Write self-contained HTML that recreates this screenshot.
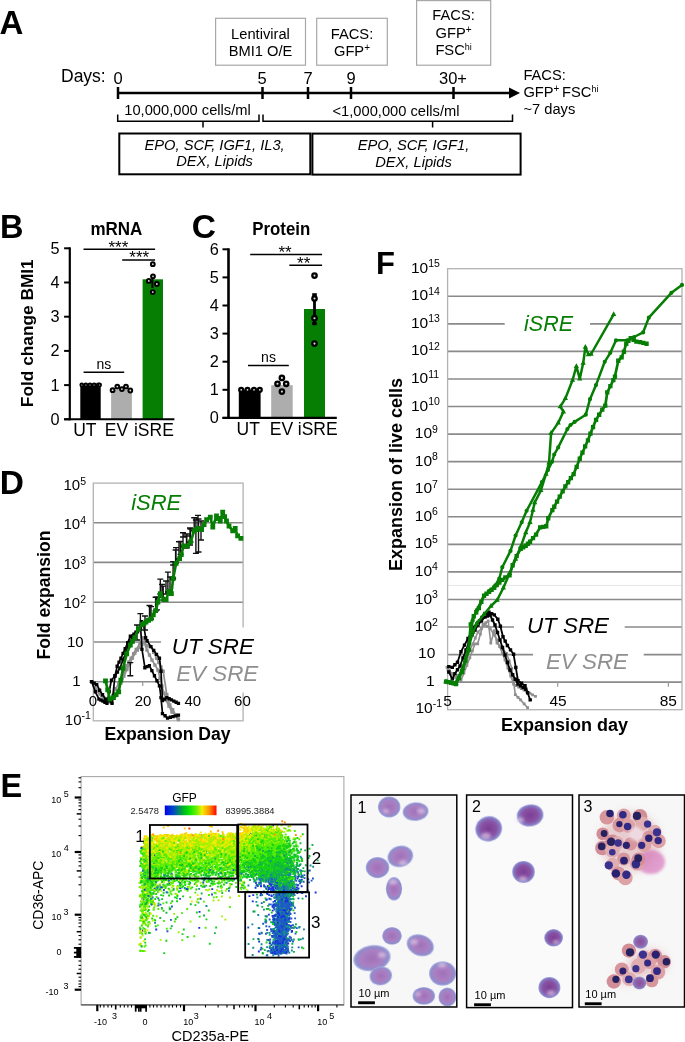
<!DOCTYPE html>
<html><head><meta charset="utf-8"><style>
html,body{margin:0;padding:0;background:#fff;}
svg{display:block;font-family:"Liberation Sans", sans-serif;will-change:transform;}
</style></head><body>
<svg width="685" height="1042" viewBox="0 0 685 1042" font-family='"Liberation Sans", sans-serif'>
<text x="-0.5" y="34.2" font-size="33" font-weight="bold">A</text>
<text x="61" y="82.4" font-size="17.5">Days:</text>
<text x="118" y="83.7" font-size="16.5" text-anchor="middle">0</text>
<text x="262" y="83.7" font-size="16.5" text-anchor="middle">5</text>
<text x="308" y="83.7" font-size="16.5" text-anchor="middle">7</text>
<text x="351" y="83.7" font-size="16.5" text-anchor="middle">9</text>
<text x="453" y="83.7" font-size="16.5" text-anchor="middle">30+</text>
<line x1="118" y1="93" x2="512" y2="93" stroke="#000" stroke-width="2.5"/>
<polygon points="509,87.5 520,93 509,98.5" fill="#000"/>
<line x1="118" y1="87" x2="118" y2="99" stroke="#000" stroke-width="2.5"/>
<line x1="262.5" y1="87" x2="262.5" y2="99" stroke="#000" stroke-width="2.5"/>
<line x1="308" y1="87" x2="308" y2="99" stroke="#000" stroke-width="2.5"/>
<line x1="351" y1="87" x2="351" y2="99" stroke="#000" stroke-width="2.5"/>
<line x1="453.5" y1="87" x2="453.5" y2="99" stroke="#000" stroke-width="2.5"/>
<rect x="215.6" y="18.3" width="89.9" height="46.9" fill="none" stroke="#a8a8a8" stroke-width="1.2"/>
<rect x="316.7" y="18.3" width="70.6" height="46.9" fill="none" stroke="#a8a8a8" stroke-width="1.2"/>
<rect x="416.6" y="0.6" width="74.1" height="64.6" fill="none" stroke="#a8a8a8" stroke-width="1.2"/>
<text x="260.5" y="38.5" font-size="14.7" text-anchor="middle">Lentiviral</text>
<text x="260.5" y="56" font-size="14.7" text-anchor="middle">BMI1 O/E</text>
<text x="352" y="38.5" font-size="14.7" text-anchor="middle">FACS:</text>
<text x="352" y="55.6" font-size="14.7" text-anchor="middle">GFP<tspan font-size="10" dy="-5">+</tspan></text>
<text x="453.6" y="20.2" font-size="14.7" text-anchor="middle">FACS:</text>
<text x="453.6" y="37.6" font-size="14.7" text-anchor="middle">GFP<tspan font-size="10" dy="-5">+</tspan></text>
<text x="453.6" y="55.2" font-size="14.7" text-anchor="middle">FSC<tspan font-size="9" dy="-5">hi</tspan></text>
<text x="523.4" y="79.8" font-size="14.7">FACS:</text>
<text x="523.4" y="97" font-size="14.7">GFP<tspan font-size="10" dy="-5">+</tspan><tspan dy="5" dx="-1.5"> FSC</tspan><tspan font-size="9" dy="-5">hi</tspan></text>
<text x="523.4" y="114.2" font-size="14.7">~7 days</text>
<path d="M117.7,114.5 V121.2 H259 V114.5 M203,121.2 V127.5" fill="none" stroke="#000" stroke-width="1.5"/>
<path d="M263,114.5 V121.2 H512.5 V114.5 M432.6,121.2 V127.5" fill="none" stroke="#000" stroke-width="1.5"/>
<text x="187.5" y="115" font-size="14.7" text-anchor="middle">10,000,000 cells/ml</text>
<text x="396" y="115.8" font-size="14.7" text-anchor="middle">&lt;1,000,000 cells/ml</text>
<rect x="119.3" y="133.5" width="191" height="40.8" fill="none" stroke="#000" stroke-width="2"/>
<rect x="312.4" y="133.6" width="208.2" height="41" fill="none" stroke="#000" stroke-width="2"/>
<text x="214.6" y="150.2" font-size="14.7" font-style="italic" text-anchor="middle">EPO, SCF, IGF1, IL3,</text>
<text x="214.6" y="166.3" font-size="14.7" font-style="italic" text-anchor="middle">DEX, Lipids</text>
<text x="413.5" y="149.7" font-size="14.7" font-style="italic" text-anchor="middle">EPO, SCF, IGF1,</text>
<text x="413.5" y="166.5" font-size="14.7" font-style="italic" text-anchor="middle">DEX, Lipids</text>
<text x="0" y="238" font-size="32.5" font-weight="bold">B</text>
<text x="116.4" y="235" font-size="17.5" font-weight="bold" text-anchor="middle" textLength="52" lengthAdjust="spacingAndGlyphs">mRNA</text>
<rect x="80.3" y="385.1" width="20.4" height="34.2" fill="#000" stroke="none" stroke-width="1"/>
<rect x="111.1" y="389.7" width="20.8" height="29.600000000000023" fill="#adadad" stroke="none" stroke-width="1"/>
<rect x="142.6" y="279.3" width="20.4" height="140.0" fill="#067e04" stroke="none" stroke-width="1"/>
<line x1="69.8" y1="247.3" x2="69.8" y2="420.3" stroke="#000" stroke-width="2.2"/>
<line x1="64.1" y1="419.3" x2="174.4" y2="419.3" stroke="#000" stroke-width="2.1"/>
<line x1="64.1" y1="419.3" x2="69.8" y2="419.3" stroke="#000" stroke-width="2"/>
<text x="59.6" y="424.7" font-size="16.3" text-anchor="end">0</text>
<line x1="64.1" y1="385.1" x2="69.8" y2="385.1" stroke="#000" stroke-width="2"/>
<text x="59.6" y="390.5" font-size="16.3" text-anchor="end">1</text>
<line x1="64.1" y1="350.9" x2="69.8" y2="350.9" stroke="#000" stroke-width="2"/>
<text x="59.6" y="356.29999999999995" font-size="16.3" text-anchor="end">2</text>
<line x1="64.1" y1="316.7" x2="69.8" y2="316.7" stroke="#000" stroke-width="2"/>
<text x="59.6" y="322.09999999999997" font-size="16.3" text-anchor="end">3</text>
<line x1="64.1" y1="282.5" x2="69.8" y2="282.5" stroke="#000" stroke-width="2"/>
<text x="59.6" y="287.9" font-size="16.3" text-anchor="end">4</text>
<line x1="64.1" y1="248.3" x2="69.8" y2="248.3" stroke="#000" stroke-width="2"/>
<text x="59.6" y="253.70000000000002" font-size="16.3" text-anchor="end">5</text>
<circle cx="81.8" cy="385" r="1.5" fill="#ddd" stroke="#000" stroke-width="1.8"/>
<circle cx="85.9" cy="385" r="1.5" fill="#ddd" stroke="#000" stroke-width="1.8"/>
<circle cx="90" cy="385" r="1.5" fill="#ddd" stroke="#000" stroke-width="1.8"/>
<circle cx="94.1" cy="385" r="1.5" fill="#ddd" stroke="#000" stroke-width="1.8"/>
<circle cx="98.2" cy="385" r="1.5" fill="#ddd" stroke="#000" stroke-width="1.8"/>
<circle cx="99.6" cy="385" r="1.5" fill="#ddd" stroke="#000" stroke-width="1.8"/>
<circle cx="112.6" cy="390.2" r="1.9" fill="#ddd" stroke="#000" stroke-width="2.0"/>
<circle cx="117.3" cy="386.6" r="1.9" fill="#ddd" stroke="#000" stroke-width="2.0"/>
<circle cx="121.9" cy="389.1" r="1.9" fill="#ddd" stroke="#000" stroke-width="2.0"/>
<circle cx="126" cy="386.6" r="1.9" fill="#ddd" stroke="#000" stroke-width="2.0"/>
<circle cx="130.3" cy="390.5" r="1.9" fill="#ddd" stroke="#000" stroke-width="2.0"/>
<line x1="152.4" y1="276.3" x2="152.4" y2="288" stroke="#000" stroke-width="2"/>
<circle cx="152.8" cy="264.2" r="1.9" fill="#ddd" stroke="#000" stroke-width="2.0"/>
<circle cx="153" cy="276.3" r="1.9" fill="#ddd" stroke="#000" stroke-width="2.0"/>
<circle cx="148.8" cy="280.9" r="1.9" fill="#ddd" stroke="#000" stroke-width="2.0"/>
<circle cx="156.9" cy="284" r="1.9" fill="#ddd" stroke="#000" stroke-width="2.0"/>
<circle cx="152.8" cy="292.1" r="1.9" fill="#ddd" stroke="#000" stroke-width="2.0"/>
<line x1="83.5" y1="249.3" x2="155.1" y2="249.3" stroke="#000" stroke-width="1.6"/>
<line x1="122.2" y1="260" x2="155.1" y2="260" stroke="#000" stroke-width="1.6"/>
<text x="118.4" y="252.9" font-size="17" text-anchor="middle">***</text>
<text x="139.2" y="263.4" font-size="17" text-anchor="middle">***</text>
<line x1="83.6" y1="372.2" x2="124.2" y2="372.2" stroke="#000" stroke-width="1.5"/>
<text x="103.9" y="368.6" font-size="14" text-anchor="middle">ns</text>
<text x="84.9" y="435.9" font-size="17.5" text-anchor="middle">UT</text>
<text x="116.4" y="435.9" font-size="17.5" text-anchor="middle">EV</text>
<text x="153.9" y="435.9" font-size="17.5" text-anchor="middle">iSRE</text>
<text transform="translate(33.4,333.2) rotate(-90)" font-size="17.3" font-weight="bold" text-anchor="middle">Fold change BMI1</text>
<text x="191.8" y="238" font-size="33.5" font-weight="bold">C</text>
<text x="281.3" y="235" font-size="17.5" font-weight="bold" text-anchor="middle" textLength="58" lengthAdjust="spacingAndGlyphs">Protein</text>
<rect x="238.8" y="389.79999999999995" width="21.8" height="28.1" fill="#000" stroke="none" stroke-width="1"/>
<rect x="271.2" y="385.2" width="21.5" height="32.69999999999999" fill="#adadad" stroke="none" stroke-width="1"/>
<rect x="304" y="309" width="21" height="108.89999999999998" fill="#067e04" stroke="none" stroke-width="1"/>
<line x1="228.5" y1="248.3" x2="228.5" y2="418.9" stroke="#000" stroke-width="2.6"/>
<line x1="222.5" y1="417.9" x2="336.8" y2="417.9" stroke="#000" stroke-width="2.1"/>
<line x1="222.5" y1="417.9" x2="228.5" y2="417.9" stroke="#000" stroke-width="2"/>
<text x="218.9" y="423.29999999999995" font-size="16.3" text-anchor="end">0</text>
<line x1="222.5" y1="389.79999999999995" x2="228.5" y2="389.79999999999995" stroke="#000" stroke-width="2"/>
<text x="218.9" y="395.19999999999993" font-size="16.3" text-anchor="end">1</text>
<line x1="222.5" y1="361.7" x2="228.5" y2="361.7" stroke="#000" stroke-width="2"/>
<text x="218.9" y="367.09999999999997" font-size="16.3" text-anchor="end">2</text>
<line x1="222.5" y1="333.59999999999997" x2="228.5" y2="333.59999999999997" stroke="#000" stroke-width="2"/>
<text x="218.9" y="338.99999999999994" font-size="16.3" text-anchor="end">3</text>
<line x1="222.5" y1="305.5" x2="228.5" y2="305.5" stroke="#000" stroke-width="2"/>
<text x="218.9" y="310.9" font-size="16.3" text-anchor="end">4</text>
<line x1="222.5" y1="277.4" x2="228.5" y2="277.4" stroke="#000" stroke-width="2"/>
<text x="218.9" y="282.79999999999995" font-size="16.3" text-anchor="end">5</text>
<line x1="222.5" y1="249.29999999999995" x2="228.5" y2="249.29999999999995" stroke="#000" stroke-width="2"/>
<text x="218.9" y="254.69999999999996" font-size="16.3" text-anchor="end">6</text>
<line x1="314.5" y1="294" x2="314.5" y2="323.5" stroke="#000" stroke-width="2.8"/>
<rect x="312.2" y="293.2" width="4.6" height="3.5" fill="#000" stroke="none" stroke-width="1"/>
<rect x="312.2" y="322" width="4.6" height="3.2" fill="#000" stroke="none" stroke-width="1"/>
<circle cx="241.2" cy="389.8" r="2.0" fill="#ddd" stroke="#000" stroke-width="2.2"/>
<circle cx="247.5" cy="389.8" r="2.0" fill="#ddd" stroke="#000" stroke-width="2.2"/>
<circle cx="254" cy="389.8" r="2.0" fill="#ddd" stroke="#000" stroke-width="2.2"/>
<circle cx="259.8" cy="389.8" r="2.0" fill="#ddd" stroke="#000" stroke-width="2.2"/>
<circle cx="281.9" cy="377.9" r="2.2" fill="#ddd" stroke="#000" stroke-width="2.3"/>
<circle cx="277.5" cy="383.8" r="2.2" fill="#ddd" stroke="#000" stroke-width="2.3"/>
<circle cx="286.2" cy="383.8" r="2.2" fill="#ddd" stroke="#000" stroke-width="2.3"/>
<circle cx="281.9" cy="391.6" r="2.2" fill="#ddd" stroke="#000" stroke-width="2.3"/>
<circle cx="314.5" cy="275.6" r="2.2" fill="#ddd" stroke="#000" stroke-width="2.3"/>
<circle cx="314.5" cy="298.5" r="2.2" fill="#ddd" stroke="#000" stroke-width="2.3"/>
<circle cx="314.5" cy="318.2" r="2.2" fill="#ddd" stroke="#000" stroke-width="2.3"/>
<circle cx="314.5" cy="343.6" r="2.2" fill="#ddd" stroke="#000" stroke-width="2.3"/>
<line x1="250.2" y1="254.5" x2="322.1" y2="254.5" stroke="#000" stroke-width="1.6"/>
<line x1="289.3" y1="265.2" x2="322.1" y2="265.2" stroke="#000" stroke-width="1.6"/>
<text x="285" y="257.8" font-size="17" text-anchor="middle">**</text>
<text x="303.7" y="268.6" font-size="17" text-anchor="middle">**</text>
<line x1="248" y1="365.5" x2="288.8" y2="365.5" stroke="#000" stroke-width="1.5"/>
<text x="268.5" y="361.6" font-size="14" text-anchor="middle">ns</text>
<text x="248.2" y="435.3" font-size="17.5" text-anchor="middle">UT</text>
<text x="281.4" y="435.3" font-size="17.5" text-anchor="middle">EV</text>
<text x="317.7" y="435.3" font-size="17.5" text-anchor="middle">iSRE</text>
<text x="-0.2" y="494.3" font-size="33.5" font-weight="bold">D</text>
<line x1="93.3" y1="522.7" x2="243.1" y2="522.7" stroke="#8a8a8a" stroke-width="1.6"/>
<line x1="93.3" y1="562.4" x2="243.1" y2="562.4" stroke="#8a8a8a" stroke-width="1.6"/>
<line x1="93.3" y1="602.2" x2="243.1" y2="602.2" stroke="#8a8a8a" stroke-width="1.6"/>
<line x1="93.3" y1="642.0" x2="243.1" y2="642.0" stroke="#8a8a8a" stroke-width="1.6"/>
<line x1="93.3" y1="681.7" x2="243.1" y2="681.7" stroke="#8a8a8a" stroke-width="1.6"/>
<rect x="93.3" y="483.1" width="149.8" height="237.69999999999993" fill="none" stroke="#b3b3b3" stroke-width="1.3"/>
<rect x="161" y="627.5" width="100" height="65" fill="#fff" stroke="none" stroke-width="1"/>
<text x="63.5" y="490.3" font-size="15" text-anchor="start">10<tspan font-size="10.5" dy="-5.5">5</tspan></text>
<text x="63.5" y="529.4" font-size="15" text-anchor="start">10<tspan font-size="10.5" dy="-5.5">4</tspan></text>
<text x="63.5" y="569.2" font-size="15" text-anchor="start">10<tspan font-size="10.5" dy="-5.5">3</tspan></text>
<text x="63.5" y="608.1" font-size="15" text-anchor="start">10<tspan font-size="10.5" dy="-5.5">2</tspan></text>
<text x="75.3" y="647" font-size="15" text-anchor="middle">10</text>
<text x="76.3" y="686.4" font-size="15" text-anchor="middle">1</text>
<text x="64.8" y="724.9" font-size="15" text-anchor="start">10<tspan font-size="10.5" dy="-5.5">-1</tspan></text>
<text x="93" y="706.2" font-size="15" text-anchor="middle">0</text>
<text x="143" y="706.2" font-size="15" text-anchor="middle">20</text>
<text x="192.8" y="706.2" font-size="15" text-anchor="middle">40</text>
<text x="242.4" y="706.2" font-size="15" text-anchor="middle">60</text>
<line x1="142.7" y1="681.7" x2="142.7" y2="686" stroke="#999" stroke-width="1.2"/>
<text x="167.5" y="739.6" font-size="17.6" font-weight="bold" text-anchor="middle">Expansion Day</text>
<text transform="translate(50.2,595.1) rotate(-90)" font-size="17.6" font-weight="bold" text-anchor="middle">Fold expansion</text>
<text x="156.2" y="510.1" font-size="22" font-style="italic" text-anchor="middle" fill="#067e04">iSRE</text>
<text x="212.8" y="654" font-size="22.4" font-style="italic" text-anchor="middle">UT SRE</text>
<text x="217.2" y="681.2" font-size="22.4" font-style="italic" text-anchor="middle" fill="#8f8f8f">EV SRE</text>
<polyline points="91.6,681.5 95.0,688.0 100.0,694.0 106.0,700.0 110.0,702.0 115.7,688.8 121.6,678.6 126.7,665.5 131.1,658.2 136.2,649.4 139.8,643.6 143.5,637.7 146.4,645.8 150.8,646.5 156.6,658.2 163.2,671.3 166.8,694.7 169.8,704.9 178.5,719.5" fill="none" stroke="#8f8f8f" stroke-width="1.7" stroke-linejoin="round"/>
<path d="M89.9,679.9h3.3v3.3h-3.3zM93.3,686.4h3.3v3.3h-3.3zM95.8,689.4h3.3v3.3h-3.3zM98.3,692.4h3.3v3.3h-3.3zM101.3,695.4h3.3v3.3h-3.3zM104.3,698.4h3.3v3.3h-3.3zM106.3,699.4h3.3v3.3h-3.3zM108.3,700.4h3.3v3.3h-3.3zM111.2,693.8h3.3v3.3h-3.3zM114.0,687.1h3.3v3.3h-3.3zM117.0,682.1h3.3v3.3h-3.3zM119.9,677.0h3.3v3.3h-3.3zM122.5,670.4h3.3v3.3h-3.3zM125.0,663.9h3.3v3.3h-3.3zM127.2,660.2h3.3v3.3h-3.3zM129.4,656.6h3.3v3.3h-3.3zM132.0,652.1h3.3v3.3h-3.3zM134.5,647.8h3.3v3.3h-3.3zM138.2,642.0h3.3v3.3h-3.3zM141.8,636.1h3.3v3.3h-3.3zM144.8,644.1h3.3v3.3h-3.3zM147.0,644.5h3.3v3.3h-3.3zM149.2,644.9h3.3v3.3h-3.3zM152.0,650.7h3.3v3.3h-3.3zM154.9,656.6h3.3v3.3h-3.3zM157.1,660.9h3.3v3.3h-3.3zM159.3,665.3h3.3v3.3h-3.3zM161.5,669.6h3.3v3.3h-3.3zM165.2,693.1h3.3v3.3h-3.3zM168.2,703.2h3.3v3.3h-3.3zM171.1,708.1h3.3v3.3h-3.3zM173.9,713.0h3.3v3.3h-3.3zM176.8,717.9h3.3v3.3h-3.3z" fill="#8f8f8f"/>
<polyline points="91.6,681.5 97.0,690.0 104.0,698.0 112.0,702.0 118.0,690.0 124.0,676.0 130.0,663.0 135.0,653.0 140.0,647.0 144.0,642.0 147.0,650.0 152.0,660.0 158.0,670.0 162.0,686.0 166.0,700.0 172.0,712.0 178.0,718.0" fill="none" stroke="#8f8f8f" stroke-width="1.7" stroke-linejoin="round"/>
<path d="M89.9,679.9h3.3v3.3h-3.3zM92.6,684.1h3.3v3.3h-3.3zM95.3,688.4h3.3v3.3h-3.3zM97.7,691.0h3.3v3.3h-3.3zM100.0,693.7h3.3v3.3h-3.3zM102.3,696.4h3.3v3.3h-3.3zM105.0,697.7h3.3v3.3h-3.3zM107.7,699.0h3.3v3.3h-3.3zM110.3,700.4h3.3v3.3h-3.3zM113.3,694.4h3.3v3.3h-3.3zM116.3,688.4h3.3v3.3h-3.3zM119.3,681.4h3.3v3.3h-3.3zM122.3,674.4h3.3v3.3h-3.3zM125.3,667.9h3.3v3.3h-3.3zM128.3,661.4h3.3v3.3h-3.3zM130.8,656.4h3.3v3.3h-3.3zM133.3,651.4h3.3v3.3h-3.3zM135.8,648.4h3.3v3.3h-3.3zM138.3,645.4h3.3v3.3h-3.3zM140.3,642.9h3.3v3.3h-3.3zM142.3,640.4h3.3v3.3h-3.3zM145.3,648.4h3.3v3.3h-3.3zM147.8,653.4h3.3v3.3h-3.3zM150.3,658.4h3.3v3.3h-3.3zM153.3,663.4h3.3v3.3h-3.3zM156.3,668.4h3.3v3.3h-3.3zM158.3,676.4h3.3v3.3h-3.3zM160.3,684.4h3.3v3.3h-3.3zM162.3,691.4h3.3v3.3h-3.3zM164.3,698.4h3.3v3.3h-3.3zM167.3,704.4h3.3v3.3h-3.3zM170.3,710.4h3.3v3.3h-3.3zM173.3,713.4h3.3v3.3h-3.3zM176.3,716.4h3.3v3.3h-3.3z" fill="#8f8f8f"/>
<polyline points="91.6,681.5 96.8,684.5 99.7,690.3 102.6,694.7 105.5,699.0 109.2,700.5 112.1,703.4 115.0,675.7 117.2,666.2 121.0,658.0 125.2,648.7 130.3,636.3 134.0,634.0 137.6,631.9 141.3,621.7 143.5,624.6 145.7,637.7 147.1,640.7 150.8,646.5 159.5,658.2 161.0,671.3 162.5,700.5 166.8,697.6 178.5,703.4" fill="none" stroke="#000" stroke-width="1.7" stroke-linejoin="round"/>
<path d="M89.9,679.9h3.3v3.3h-3.3zM92.5,681.4h3.3v3.3h-3.3zM95.1,682.9h3.3v3.3h-3.3zM98.0,688.6h3.3v3.3h-3.3zM100.9,693.1h3.3v3.3h-3.3zM103.8,697.4h3.3v3.3h-3.3zM107.5,698.9h3.3v3.3h-3.3zM110.4,701.8h3.3v3.3h-3.3zM113.3,674.1h3.3v3.3h-3.3zM115.5,664.6h3.3v3.3h-3.3zM117.4,660.5h3.3v3.3h-3.3zM119.3,656.4h3.3v3.3h-3.3zM121.4,651.7h3.3v3.3h-3.3zM123.5,647.1h3.3v3.3h-3.3zM126.1,640.9h3.3v3.3h-3.3zM128.7,634.6h3.3v3.3h-3.3zM132.3,632.4h3.3v3.3h-3.3zM135.9,630.2h3.3v3.3h-3.3zM139.7,620.1h3.3v3.3h-3.3zM141.8,623.0h3.3v3.3h-3.3zM144.0,636.1h3.3v3.3h-3.3zM145.4,639.1h3.3v3.3h-3.3zM149.2,644.9h3.3v3.3h-3.3zM152.1,648.8h3.3v3.3h-3.3zM154.9,652.7h3.3v3.3h-3.3zM157.8,656.6h3.3v3.3h-3.3zM159.3,669.6h3.3v3.3h-3.3zM160.8,698.9h3.3v3.3h-3.3zM163.0,697.4h3.3v3.3h-3.3zM165.2,696.0h3.3v3.3h-3.3zM167.5,697.1h3.3v3.3h-3.3zM169.8,698.3h3.3v3.3h-3.3zM172.2,699.4h3.3v3.3h-3.3zM174.5,700.6h3.3v3.3h-3.3zM176.8,701.8h3.3v3.3h-3.3z" fill="#000"/>
<polyline points="91.6,681.5 95.3,691.8 99.0,699.0 103.0,701.0 107.0,703.4 111.4,680.0 115.0,676.0 120.0,668.0 126.0,652.0 131.0,640.0 136.0,632.0 140.6,627.5 142.0,649.4 144.9,667.7 149.3,665.5 159.5,685.9 161.0,697.6 162.5,713.6 167.6,718.0 178.5,715.1" fill="none" stroke="#000" stroke-width="1.7" stroke-linejoin="round"/>
<path d="M89.9,679.9h3.3v3.3h-3.3zM93.6,690.1h3.3v3.3h-3.3zM97.3,697.4h3.3v3.3h-3.3zM99.3,698.4h3.3v3.3h-3.3zM101.3,699.4h3.3v3.3h-3.3zM103.3,700.6h3.3v3.3h-3.3zM105.3,701.8h3.3v3.3h-3.3zM107.5,690.1h3.3v3.3h-3.3zM109.8,678.4h3.3v3.3h-3.3zM113.3,674.4h3.3v3.3h-3.3zM115.8,670.4h3.3v3.3h-3.3zM118.3,666.4h3.3v3.3h-3.3zM121.3,658.4h3.3v3.3h-3.3zM124.3,650.4h3.3v3.3h-3.3zM126.8,644.4h3.3v3.3h-3.3zM129.3,638.4h3.3v3.3h-3.3zM131.8,634.4h3.3v3.3h-3.3zM134.3,630.4h3.3v3.3h-3.3zM136.7,628.1h3.3v3.3h-3.3zM138.9,625.9h3.3v3.3h-3.3zM140.3,647.8h3.3v3.3h-3.3zM143.2,666.1h3.3v3.3h-3.3zM145.5,665.0h3.3v3.3h-3.3zM147.7,663.9h3.3v3.3h-3.3zM150.2,669.0h3.3v3.3h-3.3zM152.8,674.1h3.3v3.3h-3.3zM155.3,679.1h3.3v3.3h-3.3zM157.8,684.2h3.3v3.3h-3.3zM159.3,696.0h3.3v3.3h-3.3zM160.8,712.0h3.3v3.3h-3.3zM163.4,714.1h3.3v3.3h-3.3zM165.9,716.4h3.3v3.3h-3.3zM168.7,715.6h3.3v3.3h-3.3zM171.4,714.9h3.3v3.3h-3.3zM174.1,714.2h3.3v3.3h-3.3zM176.8,713.5h3.3v3.3h-3.3z" fill="#000"/>
<path d="M130.3,662.6V675.7M127.30000000000001,662.6h6M127.30000000000001,675.7h6M140.4,613.6V630M137.4,613.6h6M137.4,630h6M151,606.6V619M148,606.6h6M148,619h6M155.6,597.2V611M152.6,597.2h6M152.6,611h6M160.3,579.1V594M157.3,579.1h6M157.3,594h6M163.2,586.1V600M160.2,586.1h6M160.2,600h6M167.9,572.1V592M164.9,572.1h6M164.9,592h6M173.1,561.6V579M170.1,561.6h6M170.1,579h6M176,547.6V563M173,547.6h6M173,563h6M179,541.8V559M176,541.8h6M176,559h6M183,537V547M180,537h6M180,547h6M186.5,536V548M183.5,536h6M183.5,548h6M190,528V545M187,528h6M187,545h6M195.9,520V553.4M192.9,520h6M192.9,553.4h6M198.5,519V552M195.5,519h6M195.5,552h6M201,521V540M198,521h6M198,540h6M137,625V640M134,625h6M134,640h6M145,616V630M142,616h6M142,630h6M149.5,605.5V618.5M146.5,605.5h6M146.5,618.5h6M157,596.9V609.9M154,596.9h6M154,609.9h6M162,584.4V597.4M159,584.4h6M159,597.4h6M166,581V594M163,581h6M163,594h6M170,577V590M167,577h6M167,590h6M173.1,565V578M170.1,565h6M170.1,578h6M175.6,550V563M172.6,550h6M172.6,563h6M180.6,541.4V554.4M177.6,541.4h6M177.6,554.4h6M183,532.7V545.7M180,532.7h6M180,545.7h6M186.8,534V547M183.8,534h6M183.8,547h6M190.5,529V542M187.5,529h6M187.5,542h6M194.2,517.8V530.8M191.2,517.8h6M191.2,530.8h6M198,515.4V528.4M195,515.4h6M195,528.4h6" stroke="#111" stroke-width="1.4" fill="none"/>
<polyline points="105.5,680.8 109.9,699.0 113.5,697.6 118.7,691.8 123.0,668.4 126.7,653.8 130.3,645.0 134.7,637.7 138.4,629.0 142.0,624.6 146.0,622.0 151.0,618.8 155.6,610.7 160.3,593.7 163.8,599.6 166.1,599.6 169.0,591.4 171.4,593.7 173.1,578.5 176.1,563.4 179.6,558.7 181.3,554.6 183.6,545.8 187.2,545.8 190.5,542.0 194.2,530.8 198.0,528.4 201.6,529.6 206.6,519.7 210.3,517.2 212.8,527.0 216.5,516.0 220.3,521.0 222.7,512.2 226.5,521.0 229.0,526.0 232.7,530.8 235.2,528.4 237.6,535.8 240.9,538.3" fill="none" stroke="#067e04" stroke-width="2.7" stroke-linejoin="round"/>
<path d="M103.1,678.4h4.8v4.8h-4.8zM105.3,687.5h4.8v4.8h-4.8zM107.5,696.6h4.8v4.8h-4.8zM111.1,695.2h4.8v4.8h-4.8zM113.7,692.3h4.8v4.8h-4.8zM116.3,689.4h4.8v4.8h-4.8zM118.4,677.7h4.8v4.8h-4.8zM120.6,666.0h4.8v4.8h-4.8zM124.3,651.4h4.8v4.8h-4.8zM127.9,642.6h4.8v4.8h-4.8zM130.1,639.0h4.8v4.8h-4.8zM132.3,635.3h4.8v4.8h-4.8zM136.0,626.6h4.8v4.8h-4.8zM139.6,622.2h4.8v4.8h-4.8zM141.6,620.9h4.8v4.8h-4.8zM143.6,619.6h4.8v4.8h-4.8zM146.1,618.0h4.8v4.8h-4.8zM148.6,616.4h4.8v4.8h-4.8zM150.9,612.4h4.8v4.8h-4.8zM153.2,608.3h4.8v4.8h-4.8zM155.5,599.8h4.8v4.8h-4.8zM157.9,591.3h4.8v4.8h-4.8zM161.4,597.2h4.8v4.8h-4.8zM163.7,597.2h4.8v4.8h-4.8zM166.6,589.0h4.8v4.8h-4.8zM169.0,591.3h4.8v4.8h-4.8zM170.7,576.1h4.8v4.8h-4.8zM173.7,561.0h4.8v4.8h-4.8zM177.2,556.3h4.8v4.8h-4.8zM178.9,552.2h4.8v4.8h-4.8zM181.2,543.4h4.8v4.8h-4.8zM184.8,543.4h4.8v4.8h-4.8zM188.1,539.6h4.8v4.8h-4.8zM191.8,528.4h4.8v4.8h-4.8zM193.7,527.2h4.8v4.8h-4.8zM195.6,526.0h4.8v4.8h-4.8zM199.2,527.2h4.8v4.8h-4.8zM201.7,522.3h4.8v4.8h-4.8zM204.2,517.3h4.8v4.8h-4.8zM207.9,514.8h4.8v4.8h-4.8zM210.4,524.6h4.8v4.8h-4.8zM214.1,513.6h4.8v4.8h-4.8zM216.0,516.1h4.8v4.8h-4.8zM217.9,518.6h4.8v4.8h-4.8zM220.3,509.8h4.8v4.8h-4.8zM222.2,514.2h4.8v4.8h-4.8zM224.1,518.6h4.8v4.8h-4.8zM226.6,523.6h4.8v4.8h-4.8zM230.3,528.4h4.8v4.8h-4.8zM232.8,526.0h4.8v4.8h-4.8zM235.2,533.4h4.8v4.8h-4.8zM238.5,535.9h4.8v4.8h-4.8z" fill="#067e04"/>
<text x="376" y="274.1" font-size="31" font-weight="bold">F</text>
<line x1="447.6" y1="682.1375" x2="682" y2="682.1375" stroke="#8a8a8a" stroke-width="1.6"/>
<line x1="447.6" y1="654.575" x2="533" y2="654.575" stroke="#8a8a8a" stroke-width="1.6"/>
<line x1="643.7" y1="654.575" x2="682" y2="654.575" stroke="#8a8a8a" stroke-width="1.6"/>
<line x1="447.6" y1="627.0125" x2="514" y2="627.0125" stroke="#8a8a8a" stroke-width="1.6"/>
<line x1="624.7" y1="627.0125" x2="682" y2="627.0125" stroke="#8a8a8a" stroke-width="1.6"/>
<line x1="447.6" y1="599.45" x2="682" y2="599.45" stroke="#8a8a8a" stroke-width="1.6"/>
<line x1="447.6" y1="571.8875" x2="682" y2="571.8875" stroke="#8a8a8a" stroke-width="1.6"/>
<line x1="447.6" y1="544.325" x2="682" y2="544.325" stroke="#8a8a8a" stroke-width="1.6"/>
<line x1="447.6" y1="516.7625" x2="682" y2="516.7625" stroke="#8a8a8a" stroke-width="1.6"/>
<line x1="447.6" y1="489.20000000000005" x2="682" y2="489.20000000000005" stroke="#8a8a8a" stroke-width="1.6"/>
<line x1="447.6" y1="461.63750000000005" x2="682" y2="461.63750000000005" stroke="#8a8a8a" stroke-width="1.6"/>
<line x1="447.6" y1="434.075" x2="682" y2="434.075" stroke="#8a8a8a" stroke-width="1.6"/>
<line x1="447.6" y1="406.5125" x2="682" y2="406.5125" stroke="#8a8a8a" stroke-width="1.6"/>
<line x1="447.6" y1="378.95" x2="682" y2="378.95" stroke="#8a8a8a" stroke-width="1.6"/>
<line x1="447.6" y1="351.3875" x2="682" y2="351.3875" stroke="#8a8a8a" stroke-width="1.6"/>
<line x1="447.6" y1="323.825" x2="504.7" y2="323.825" stroke="#8a8a8a" stroke-width="1.6"/>
<line x1="590" y1="323.825" x2="682" y2="323.825" stroke="#8a8a8a" stroke-width="1.6"/>
<line x1="447.6" y1="296.2625" x2="682" y2="296.2625" stroke="#8a8a8a" stroke-width="1.6"/>
<line x1="447.6" y1="585.4" x2="682" y2="585.4" stroke="#e6e6e6" stroke-width="1"/>
<rect x="447.6" y="268.7" width="234.39999999999998" height="441.00000000000006" fill="none" stroke="#b3b3b3" stroke-width="1.3"/>
<text x="411" y="272.8" font-size="15.5" text-anchor="start">10<tspan font-size="10.5" dy="-5.5">15</tspan></text>
<text x="411" y="300.3625" font-size="15.5" text-anchor="start">10<tspan font-size="10.5" dy="-5.5">14</tspan></text>
<text x="411" y="327.925" font-size="15.5" text-anchor="start">10<tspan font-size="10.5" dy="-5.5">13</tspan></text>
<text x="411" y="355.4875" font-size="15.5" text-anchor="start">10<tspan font-size="10.5" dy="-5.5">12</tspan></text>
<text x="411" y="383.05" font-size="15.5" text-anchor="start">10<tspan font-size="10.5" dy="-5.5">11</tspan></text>
<text x="411" y="410.6125" font-size="15.5" text-anchor="start">10<tspan font-size="10.5" dy="-5.5">10</tspan></text>
<text x="414.8" y="438.175" font-size="15.5" text-anchor="start">10<tspan font-size="10.5" dy="-5.5">9</tspan></text>
<text x="414.8" y="465.73750000000007" font-size="15.5" text-anchor="start">10<tspan font-size="10.5" dy="-5.5">8</tspan></text>
<text x="414.8" y="493.30000000000007" font-size="15.5" text-anchor="start">10<tspan font-size="10.5" dy="-5.5">7</tspan></text>
<text x="414.8" y="520.8625000000001" font-size="15.5" text-anchor="start">10<tspan font-size="10.5" dy="-5.5">6</tspan></text>
<text x="414.8" y="548.4250000000001" font-size="15.5" text-anchor="start">10<tspan font-size="10.5" dy="-5.5">5</tspan></text>
<text x="414.8" y="575.9875000000001" font-size="15.5" text-anchor="start">10<tspan font-size="10.5" dy="-5.5">4</tspan></text>
<text x="414.8" y="603.5500000000001" font-size="15.5" text-anchor="start">10<tspan font-size="10.5" dy="-5.5">3</tspan></text>
<text x="414.8" y="631.1125000000001" font-size="15.5" text-anchor="start">10<tspan font-size="10.5" dy="-5.5">2</tspan></text>
<text x="426.7" y="658.375" font-size="15.5" text-anchor="middle">10</text>
<text x="430.2" y="685.7375000000001" font-size="15.5" text-anchor="middle">1</text>
<text x="415.5" y="712.5" font-size="15.5" text-anchor="start">10<tspan font-size="10.5" dy="-5.5">-1</tspan></text>
<text x="447.5" y="706.1" font-size="15.5" text-anchor="middle">5</text>
<text x="558" y="706.1" font-size="15.5" text-anchor="middle">45</text>
<text x="668.3" y="706.1" font-size="15.5" text-anchor="middle">85</text>
<line x1="557.7" y1="682" x2="557.7" y2="686.7" stroke="#999" stroke-width="1.2"/>
<line x1="668.4" y1="682" x2="668.4" y2="686.7" stroke="#999" stroke-width="1.2"/>
<text x="564.5" y="730.5" font-size="18" font-weight="bold" text-anchor="middle">Expansion day</text>
<text transform="translate(402,474.5) rotate(-90)" font-size="18" font-weight="bold" text-anchor="middle">Expansion of live cells</text>
<text x="548.6" y="331" font-size="21.5" font-style="italic" text-anchor="middle" fill="#067e04">iSRE</text>
<text x="568" y="633.2" font-size="22.4" font-style="italic" text-anchor="middle">UT SRE</text>
<text x="587" y="668.8" font-size="22.4" font-style="italic" text-anchor="middle" fill="#8f8f8f">EV SRE</text>
<polyline points="447.0,667.4 452.3,674.0 456.0,678.0 461.0,680.6 469.8,657.8 475.0,643.8 477.7,643.8 483.0,624.5 488.2,621.0 490.8,643.0 494.3,630.7 497.0,643.0 506.6,653.4 511.8,668.3 515.3,694.6 520.6,699.9 527.6,707.7" fill="none" stroke="#8f8f8f" stroke-width="1.6" stroke-linejoin="round"/>
<path d="M445.6,666.0h2.8v2.8h-2.8zM448.2,669.3h2.8v2.8h-2.8zM450.9,672.6h2.8v2.8h-2.8zM454.6,676.6h2.8v2.8h-2.8zM457.1,677.9h2.8v2.8h-2.8zM459.6,679.2h2.8v2.8h-2.8zM462.5,671.6h2.8v2.8h-2.8zM465.5,664.0h2.8v2.8h-2.8zM468.4,656.4h2.8v2.8h-2.8zM471.0,649.4h2.8v2.8h-2.8zM473.6,642.4h2.8v2.8h-2.8zM476.3,642.4h2.8v2.8h-2.8zM479.0,632.8h2.8v2.8h-2.8zM481.6,623.1h2.8v2.8h-2.8zM484.2,621.4h2.8v2.8h-2.8zM486.8,619.6h2.8v2.8h-2.8zM489.4,641.6h2.8v2.8h-2.8zM492.9,629.3h2.8v2.8h-2.8zM495.6,641.6h2.8v2.8h-2.8zM498.8,645.1h2.8v2.8h-2.8zM502.0,648.5h2.8v2.8h-2.8zM505.2,652.0h2.8v2.8h-2.8zM507.8,659.4h2.8v2.8h-2.8zM510.4,666.9h2.8v2.8h-2.8zM513.9,693.2h2.8v2.8h-2.8zM516.6,695.9h2.8v2.8h-2.8zM519.2,698.5h2.8v2.8h-2.8zM522.7,702.4h2.8v2.8h-2.8zM526.2,706.3h2.8v2.8h-2.8z" fill="#8f8f8f"/>
<polyline points="448.0,670.0 455.0,677.0 463.0,672.0 470.0,650.0 478.0,632.0 485.0,625.0 490.0,628.0 497.0,640.0 505.0,660.0 513.6,684.0 524.0,690.0 535.5,696.4" fill="none" stroke="#8f8f8f" stroke-width="1.6" stroke-linejoin="round"/>
<path d="M446.6,668.6h2.8v2.8h-2.8zM450.1,672.1h2.8v2.8h-2.8zM453.6,675.6h2.8v2.8h-2.8zM456.3,673.9h2.8v2.8h-2.8zM458.9,672.3h2.8v2.8h-2.8zM461.6,670.6h2.8v2.8h-2.8zM465.1,659.6h2.8v2.8h-2.8zM468.6,648.6h2.8v2.8h-2.8zM471.3,642.6h2.8v2.8h-2.8zM473.9,636.6h2.8v2.8h-2.8zM476.6,630.6h2.8v2.8h-2.8zM480.1,627.1h2.8v2.8h-2.8zM483.6,623.6h2.8v2.8h-2.8zM486.1,625.1h2.8v2.8h-2.8zM488.6,626.6h2.8v2.8h-2.8zM492.1,632.6h2.8v2.8h-2.8zM495.6,638.6h2.8v2.8h-2.8zM498.3,645.3h2.8v2.8h-2.8zM500.9,651.9h2.8v2.8h-2.8zM503.6,658.6h2.8v2.8h-2.8zM506.5,666.6h2.8v2.8h-2.8zM509.3,674.6h2.8v2.8h-2.8zM512.2,682.6h2.8v2.8h-2.8zM514.8,684.1h2.8v2.8h-2.8zM517.4,685.6h2.8v2.8h-2.8zM520.0,687.1h2.8v2.8h-2.8zM522.6,688.6h2.8v2.8h-2.8zM525.5,690.2h2.8v2.8h-2.8zM528.4,691.8h2.8v2.8h-2.8zM531.2,693.4h2.8v2.8h-2.8zM534.1,695.0h2.8v2.8h-2.8z" fill="#8f8f8f"/>
<polyline points="448.8,666.6 452.3,667.4 457.5,662.2 461.0,651.7 468.0,638.5 474.2,627.2 479.4,621.0 484.7,614.0 489.0,612.3 494.3,614.9 497.8,619.3 500.4,626.3 503.0,636.8 507.4,645.5 513.6,654.3 518.0,680.6 525.0,685.8 530.2,699.9" fill="none" stroke="#000" stroke-width="1.8" stroke-linejoin="round"/>
<path d="M447.1,664.9h3.4v3.4h-3.4zM450.6,665.7h3.4v3.4h-3.4zM453.2,663.1h3.4v3.4h-3.4zM455.8,660.5h3.4v3.4h-3.4zM459.3,650.0h3.4v3.4h-3.4zM462.8,643.4h3.4v3.4h-3.4zM466.3,636.8h3.4v3.4h-3.4zM469.4,631.1h3.4v3.4h-3.4zM472.5,625.5h3.4v3.4h-3.4zM475.1,622.4h3.4v3.4h-3.4zM477.7,619.3h3.4v3.4h-3.4zM480.3,615.8h3.4v3.4h-3.4zM483.0,612.3h3.4v3.4h-3.4zM485.2,611.4h3.4v3.4h-3.4zM487.3,610.6h3.4v3.4h-3.4zM489.9,611.9h3.4v3.4h-3.4zM492.6,613.2h3.4v3.4h-3.4zM496.1,617.6h3.4v3.4h-3.4zM498.7,624.6h3.4v3.4h-3.4zM501.3,635.1h3.4v3.4h-3.4zM503.5,639.4h3.4v3.4h-3.4zM505.7,643.8h3.4v3.4h-3.4zM508.8,648.2h3.4v3.4h-3.4zM511.9,652.6h3.4v3.4h-3.4zM514.1,665.8h3.4v3.4h-3.4zM516.3,678.9h3.4v3.4h-3.4zM519.8,681.5h3.4v3.4h-3.4zM523.3,684.1h3.4v3.4h-3.4zM525.9,691.1h3.4v3.4h-3.4zM528.5,698.2h3.4v3.4h-3.4z" fill="#000"/>
<polyline points="448.8,672.0 452.3,678.8 454.9,673.6 460.0,666.0 466.0,650.0 472.0,635.0 478.0,625.0 485.0,617.0 490.0,615.0 495.0,625.0 500.0,640.0 505.0,655.0 510.0,670.0 518.0,684.0 525.8,689.3" fill="none" stroke="#000" stroke-width="1.8" stroke-linejoin="round"/>
<path d="M447.1,670.3h3.4v3.4h-3.4zM450.6,677.1h3.4v3.4h-3.4zM453.2,671.9h3.4v3.4h-3.4zM455.8,668.1h3.4v3.4h-3.4zM458.3,664.3h3.4v3.4h-3.4zM461.3,656.3h3.4v3.4h-3.4zM464.3,648.3h3.4v3.4h-3.4zM467.3,640.8h3.4v3.4h-3.4zM470.3,633.3h3.4v3.4h-3.4zM473.3,628.3h3.4v3.4h-3.4zM476.3,623.3h3.4v3.4h-3.4zM479.8,619.3h3.4v3.4h-3.4zM483.3,615.3h3.4v3.4h-3.4zM485.8,614.3h3.4v3.4h-3.4zM488.3,613.3h3.4v3.4h-3.4zM490.8,618.3h3.4v3.4h-3.4zM493.3,623.3h3.4v3.4h-3.4zM495.8,630.8h3.4v3.4h-3.4zM498.3,638.3h3.4v3.4h-3.4zM500.8,645.8h3.4v3.4h-3.4zM503.3,653.3h3.4v3.4h-3.4zM505.8,660.8h3.4v3.4h-3.4zM508.3,668.3h3.4v3.4h-3.4zM511.0,673.0h3.4v3.4h-3.4zM513.6,677.6h3.4v3.4h-3.4zM516.3,682.3h3.4v3.4h-3.4zM518.9,684.1h3.4v3.4h-3.4zM521.5,685.8h3.4v3.4h-3.4zM524.1,687.6h3.4v3.4h-3.4z" fill="#000"/>
<polyline points="446.0,681.5 452.0,682.0 456.0,683.0 462.8,668.3 468.0,649.0 473.0,632.0 476.8,623.4 484.0,614.2 491.0,606.0 497.2,600.0 503.4,587.7 509.5,573.4 515.6,559.0 520.7,546.8 525.8,532.5 530.0,522.3 533.0,510.0 534.7,502.6 540.9,490.4 546.0,474.0 549.0,462.8 551.1,433.1 558.2,422.9 563.4,411.7 560.3,406.6 565.4,398.4 572.6,380.0 576.4,366.4 579.8,378.8 583.2,363.0 585.4,347.1 588.4,354.6 591.1,354.0 613.7,314.3" fill="none" stroke="#067e04" stroke-width="2.5" stroke-linejoin="round"/>
<path d="M446.0,678.4l2.6,4.8h-5.3zM452.0,678.9l2.6,4.8h-5.3zM456.0,679.9l2.6,4.8h-5.3zM462.8,665.2l2.6,4.8h-5.3zM468.0,645.9l2.6,4.8h-5.3zM473.0,628.9l2.6,4.8h-5.3zM476.8,620.3l2.6,4.8h-5.3zM484.0,611.1l2.6,4.8h-5.3zM491.0,602.9l2.6,4.8h-5.3zM497.2,596.9l2.6,4.8h-5.3zM503.4,584.6l2.6,4.8h-5.3zM509.5,570.3l2.6,4.8h-5.3zM515.6,555.9l2.6,4.8h-5.3zM520.7,543.7l2.6,4.8h-5.3zM525.8,529.4l2.6,4.8h-5.3zM530.0,519.2l2.6,4.8h-5.3zM533.0,506.9l2.6,4.8h-5.3zM534.7,499.5l2.6,4.8h-5.3zM540.9,487.3l2.6,4.8h-5.3zM546.0,470.9l2.6,4.8h-5.3zM549.0,459.7l2.6,4.8h-5.3zM551.1,430.0l2.6,4.8h-5.3zM558.2,419.8l2.6,4.8h-5.3zM563.4,408.6l2.6,4.8h-5.3zM560.3,403.5l2.6,4.8h-5.3zM565.4,395.3l2.6,4.8h-5.3zM572.6,376.9l2.6,4.8h-5.3zM576.4,363.3l2.6,4.8h-5.3zM579.8,375.7l2.6,4.8h-5.3zM583.2,359.9l2.6,4.8h-5.3zM585.4,344.0l2.6,4.8h-5.3zM588.4,351.5l2.6,4.8h-5.3zM591.1,350.9l2.6,4.8h-5.3zM613.7,311.2l2.6,4.8h-5.3z" fill="#067e04"/>
<polyline points="446.0,681.5 455.0,684.0 462.0,670.0 468.6,650.0 472.7,620.4 476.8,610.1 484.0,595.8 490.0,590.7 495.2,585.6 499.3,578.5 502.3,567.2 510.5,550.9 515.6,535.5 521.7,522.3 526.6,510.8 541.9,482.2 548.0,470.0 552.1,461.7 554.2,454.6 558.2,447.4 567.4,429.0 570.5,425.0 574.6,421.9 585.8,414.7 590.0,399.2 596.0,385.1 604.7,361.8 610.3,352.8 616.0,340.3 627.3,340.3 634.1,337.0 643.1,332.4 648.8,317.7 671.4,292.8 682.0,284.9" fill="none" stroke="#067e04" stroke-width="2.5" stroke-linejoin="round"/>
<path d="M443.9,681.5a2.1,2.1 0 1,0 4.2,0a2.1,2.1 0 1,0 -4.2,0M452.9,684.0a2.1,2.1 0 1,0 4.2,0a2.1,2.1 0 1,0 -4.2,0M459.9,670.0a2.1,2.1 0 1,0 4.2,0a2.1,2.1 0 1,0 -4.2,0M466.5,650.0a2.1,2.1 0 1,0 4.2,0a2.1,2.1 0 1,0 -4.2,0M470.6,620.4a2.1,2.1 0 1,0 4.2,0a2.1,2.1 0 1,0 -4.2,0M474.7,610.1a2.1,2.1 0 1,0 4.2,0a2.1,2.1 0 1,0 -4.2,0M481.9,595.8a2.1,2.1 0 1,0 4.2,0a2.1,2.1 0 1,0 -4.2,0M487.9,590.7a2.1,2.1 0 1,0 4.2,0a2.1,2.1 0 1,0 -4.2,0M493.1,585.6a2.1,2.1 0 1,0 4.2,0a2.1,2.1 0 1,0 -4.2,0M497.2,578.5a2.1,2.1 0 1,0 4.2,0a2.1,2.1 0 1,0 -4.2,0M500.2,567.2a2.1,2.1 0 1,0 4.2,0a2.1,2.1 0 1,0 -4.2,0M508.4,550.9a2.1,2.1 0 1,0 4.2,0a2.1,2.1 0 1,0 -4.2,0M513.5,535.5a2.1,2.1 0 1,0 4.2,0a2.1,2.1 0 1,0 -4.2,0M519.6,522.3a2.1,2.1 0 1,0 4.2,0a2.1,2.1 0 1,0 -4.2,0M524.5,510.8a2.1,2.1 0 1,0 4.2,0a2.1,2.1 0 1,0 -4.2,0M539.8,482.2a2.1,2.1 0 1,0 4.2,0a2.1,2.1 0 1,0 -4.2,0M545.9,470.0a2.1,2.1 0 1,0 4.2,0a2.1,2.1 0 1,0 -4.2,0M550.0,461.7a2.1,2.1 0 1,0 4.2,0a2.1,2.1 0 1,0 -4.2,0M552.1,454.6a2.1,2.1 0 1,0 4.2,0a2.1,2.1 0 1,0 -4.2,0M556.1,447.4a2.1,2.1 0 1,0 4.2,0a2.1,2.1 0 1,0 -4.2,0M565.3,429.0a2.1,2.1 0 1,0 4.2,0a2.1,2.1 0 1,0 -4.2,0M568.4,425.0a2.1,2.1 0 1,0 4.2,0a2.1,2.1 0 1,0 -4.2,0M572.5,421.9a2.1,2.1 0 1,0 4.2,0a2.1,2.1 0 1,0 -4.2,0M583.7,414.7a2.1,2.1 0 1,0 4.2,0a2.1,2.1 0 1,0 -4.2,0M587.9,399.2a2.1,2.1 0 1,0 4.2,0a2.1,2.1 0 1,0 -4.2,0M593.9,385.1a2.1,2.1 0 1,0 4.2,0a2.1,2.1 0 1,0 -4.2,0M602.6,361.8a2.1,2.1 0 1,0 4.2,0a2.1,2.1 0 1,0 -4.2,0M608.2,352.8a2.1,2.1 0 1,0 4.2,0a2.1,2.1 0 1,0 -4.2,0M613.9,340.3a2.1,2.1 0 1,0 4.2,0a2.1,2.1 0 1,0 -4.2,0M625.2,340.3a2.1,2.1 0 1,0 4.2,0a2.1,2.1 0 1,0 -4.2,0M632.0,337.0a2.1,2.1 0 1,0 4.2,0a2.1,2.1 0 1,0 -4.2,0M641.0,332.4a2.1,2.1 0 1,0 4.2,0a2.1,2.1 0 1,0 -4.2,0M646.7,317.7a2.1,2.1 0 1,0 4.2,0a2.1,2.1 0 1,0 -4.2,0M669.3,292.8a2.1,2.1 0 1,0 4.2,0a2.1,2.1 0 1,0 -4.2,0M679.9,284.9a2.1,2.1 0 1,0 4.2,0a2.1,2.1 0 1,0 -4.2,0" fill="#067e04"/>
<polyline points="446.0,681.5 456.0,684.0 462.0,672.0 468.6,650.0 470.7,624.4 473.7,616.3 478.8,608.1 484.0,595.8 489.0,591.7 494.2,587.7 499.3,582.5 505.4,577.4 509.5,575.4 512.6,565.2 516.6,556.0 520.7,548.8 525.8,545.8 530.0,541.7 536.0,534.5 540.1,527.4 546.3,526.3 548.3,518.2 552.4,510.0 554.2,506.7 565.4,486.3 573.6,474.0 576.6,466.9 579.7,458.7 587.9,440.3 593.0,427.0 596.0,419.9 602.2,409.6 605.3,405.5 607.3,392.3 613.4,380.0 614.9,376.5 618.3,360.7 621.6,357.3 623.9,351.7 626.2,343.7 630.7,338.0 636.4,341.5 640.0,342.0 646.5,343.7" fill="none" stroke="#067e04" stroke-width="2.7" stroke-linejoin="round"/>
<path d="M443.9,679.4h4.3v4.3h-4.3zM446.4,680.0h4.3v4.3h-4.3zM448.9,680.6h4.3v4.3h-4.3zM451.4,681.2h4.3v4.3h-4.3zM453.9,681.9h4.3v4.3h-4.3zM456.9,675.9h4.3v4.3h-4.3zM459.9,669.9h4.3v4.3h-4.3zM463.2,658.9h4.3v4.3h-4.3zM466.5,647.9h4.3v4.3h-4.3zM468.6,622.2h4.3v4.3h-4.3zM471.6,614.1h4.3v4.3h-4.3zM474.1,610.1h4.3v4.3h-4.3zM476.7,606.0h4.3v4.3h-4.3zM479.2,599.8h4.3v4.3h-4.3zM481.9,593.6h4.3v4.3h-4.3zM484.4,591.6h4.3v4.3h-4.3zM486.9,589.6h4.3v4.3h-4.3zM489.5,587.6h4.3v4.3h-4.3zM492.1,585.6h4.3v4.3h-4.3zM494.6,583.0h4.3v4.3h-4.3zM497.2,580.4h4.3v4.3h-4.3zM500.2,577.8h4.3v4.3h-4.3zM503.2,575.2h4.3v4.3h-4.3zM507.4,573.2h4.3v4.3h-4.3zM510.5,563.1h4.3v4.3h-4.3zM514.5,553.9h4.3v4.3h-4.3zM518.6,546.6h4.3v4.3h-4.3zM521.1,545.1h4.3v4.3h-4.3zM523.6,543.6h4.3v4.3h-4.3zM525.8,541.6h4.3v4.3h-4.3zM527.9,539.6h4.3v4.3h-4.3zM530.9,536.0h4.3v4.3h-4.3zM533.9,532.4h4.3v4.3h-4.3zM538.0,525.2h4.3v4.3h-4.3zM541.1,524.7h4.3v4.3h-4.3zM544.1,524.1h4.3v4.3h-4.3zM546.1,516.1h4.3v4.3h-4.3zM550.2,507.9h4.3v4.3h-4.3zM552.1,504.6h4.3v4.3h-4.3zM554.9,499.5h4.3v4.3h-4.3zM557.6,494.4h4.3v4.3h-4.3zM560.5,489.2h4.3v4.3h-4.3zM563.2,484.2h4.3v4.3h-4.3zM566.0,480.1h4.3v4.3h-4.3zM568.7,476.0h4.3v4.3h-4.3zM571.5,471.9h4.3v4.3h-4.3zM574.5,464.8h4.3v4.3h-4.3zM577.6,456.6h4.3v4.3h-4.3zM580.3,450.4h4.3v4.3h-4.3zM583.0,444.3h4.3v4.3h-4.3zM585.8,438.2h4.3v4.3h-4.3zM588.3,431.5h4.3v4.3h-4.3zM590.9,424.9h4.3v4.3h-4.3zM593.9,417.8h4.3v4.3h-4.3zM597.0,412.6h4.3v4.3h-4.3zM600.1,407.5h4.3v4.3h-4.3zM603.1,403.4h4.3v4.3h-4.3zM605.1,390.2h4.3v4.3h-4.3zM608.2,384.0h4.3v4.3h-4.3zM611.2,377.9h4.3v4.3h-4.3zM612.8,374.4h4.3v4.3h-4.3zM616.1,358.6h4.3v4.3h-4.3zM619.5,355.2h4.3v4.3h-4.3zM621.8,349.6h4.3v4.3h-4.3zM624.1,341.6h4.3v4.3h-4.3zM626.3,338.7h4.3v4.3h-4.3zM628.6,335.9h4.3v4.3h-4.3zM631.4,337.6h4.3v4.3h-4.3zM634.2,339.4h4.3v4.3h-4.3zM637.9,339.9h4.3v4.3h-4.3zM641.1,340.7h4.3v4.3h-4.3zM644.4,341.6h4.3v4.3h-4.3z" fill="#067e04"/>
<text x="0.6" y="796.6" font-size="32.5" font-weight="bold">E</text>
<path d="M146.3 891.6h1.9v1.9h-1.9zM148.0 865.3h1.9v1.9h-1.9z" fill="#ffc800"/>
<path d="M144.6 857.9h1.9v1.9h-1.9zM139.6 893.6h1.9v1.9h-1.9zM147.0 871.1h1.9v1.9h-1.9zM140.2 878.2h1.9v1.9h-1.9zM151.2 883.2h1.9v1.9h-1.9zM160.7 849.8h1.9v1.9h-1.9zM152.9 880.2h1.9v1.9h-1.9zM155.0 861.4h1.9v1.9h-1.9zM156.9 860.5h1.9v1.9h-1.9zM152.2 878.0h1.9v1.9h-1.9zM151.4 900.5h1.9v1.9h-1.9zM154.5 858.8h1.9v1.9h-1.9zM144.5 872.6h1.9v1.9h-1.9zM143.2 868.2h1.9v1.9h-1.9zM153.2 877.2h1.9v1.9h-1.9zM144.9 850.8h1.9v1.9h-1.9zM139.5 877.4h1.9v1.9h-1.9zM141.3 930.6h1.9v1.9h-1.9zM149.3 848.8h1.9v1.9h-1.9zM148.3 846.5h1.9v1.9h-1.9zM167.4 887.9h1.9v1.9h-1.9z" fill="#f0ee00"/>
<path d="M159.6 870.4h1.9v1.9h-1.9zM147.7 868.6h1.9v1.9h-1.9zM150.4 873.8h1.9v1.9h-1.9zM144.4 846.4h1.9v1.9h-1.9zM142.1 917.7h1.9v1.9h-1.9zM172.5 884.8h1.9v1.9h-1.9zM146.8 903.0h1.9v1.9h-1.9zM147.2 858.2h1.9v1.9h-1.9zM149.9 870.2h1.9v1.9h-1.9zM148.5 850.8h1.9v1.9h-1.9zM141.6 919.7h1.9v1.9h-1.9zM142.1 921.2h1.9v1.9h-1.9zM140.0 886.9h1.9v1.9h-1.9zM155.7 884.0h1.9v1.9h-1.9zM147.5 880.0h1.9v1.9h-1.9zM148.2 891.2h1.9v1.9h-1.9zM142.7 920.5h1.9v1.9h-1.9zM161.3 870.0h1.9v1.9h-1.9zM154.5 858.8h1.9v1.9h-1.9zM151.1 870.3h1.9v1.9h-1.9zM143.4 847.9h1.9v1.9h-1.9zM149.6 892.6h1.9v1.9h-1.9zM149.5 880.1h1.9v1.9h-1.9zM189.6 920.6h1.9v1.9h-1.9zM147.8 848.5h1.9v1.9h-1.9zM141.7 934.6h1.9v1.9h-1.9zM151.9 889.2h1.9v1.9h-1.9zM143.8 907.3h1.9v1.9h-1.9zM142.9 896.1h1.9v1.9h-1.9zM149.5 846.8h1.9v1.9h-1.9zM146.7 875.0h1.9v1.9h-1.9zM140.7 881.3h1.9v1.9h-1.9zM142.7 864.8h1.9v1.9h-1.9zM145.6 846.7h1.9v1.9h-1.9zM144.8 870.9h1.9v1.9h-1.9zM153.9 870.1h1.9v1.9h-1.9zM153.0 892.4h1.9v1.9h-1.9zM147.3 915.3h1.9v1.9h-1.9zM156.4 851.0h1.9v1.9h-1.9zM148.2 849.7h1.9v1.9h-1.9zM153.4 850.8h1.9v1.9h-1.9zM152.8 889.2h1.9v1.9h-1.9zM144.2 863.0h1.9v1.9h-1.9zM150.6 861.2h1.9v1.9h-1.9zM145.5 854.0h1.9v1.9h-1.9zM149.0 855.4h1.9v1.9h-1.9zM145.5 924.3h1.9v1.9h-1.9zM154.4 882.5h1.9v1.9h-1.9zM146.1 876.4h1.9v1.9h-1.9zM155.0 887.8h1.9v1.9h-1.9zM154.3 859.8h1.9v1.9h-1.9zM147.1 893.0h1.9v1.9h-1.9zM144.6 913.5h1.9v1.9h-1.9zM164.0 878.5h1.9v1.9h-1.9zM143.5 893.3h1.9v1.9h-1.9zM143.9 922.1h1.9v1.9h-1.9zM144.0 902.1h1.9v1.9h-1.9zM142.2 894.1h1.9v1.9h-1.9zM148.4 860.8h1.9v1.9h-1.9zM157.0 853.0h1.9v1.9h-1.9zM148.1 881.8h1.9v1.9h-1.9zM173.1 912.9h1.9v1.9h-1.9zM146.1 864.7h1.9v1.9h-1.9zM149.5 884.0h1.9v1.9h-1.9zM141.3 911.8h1.9v1.9h-1.9zM156.3 874.2h1.9v1.9h-1.9zM149.7 883.4h1.9v1.9h-1.9zM146.7 849.4h1.9v1.9h-1.9zM147.9 871.6h1.9v1.9h-1.9zM153.5 859.8h1.9v1.9h-1.9zM139.7 904.7h1.9v1.9h-1.9zM146.4 852.3h1.9v1.9h-1.9zM144.1 871.7h1.9v1.9h-1.9zM139.7 886.7h1.9v1.9h-1.9zM145.4 916.6h1.9v1.9h-1.9zM153.7 856.0h1.9v1.9h-1.9zM145.5 882.6h1.9v1.9h-1.9zM150.4 877.0h1.9v1.9h-1.9zM145.2 857.0h1.9v1.9h-1.9zM158.2 861.7h1.9v1.9h-1.9zM139.8 950.0h1.9v1.9h-1.9zM147.5 891.9h1.9v1.9h-1.9zM151.8 879.7h1.9v1.9h-1.9zM142.3 913.2h1.9v1.9h-1.9zM139.6 936.3h1.9v1.9h-1.9zM157.5 862.7h1.9v1.9h-1.9zM144.9 865.9h1.9v1.9h-1.9zM171.8 880.9h1.9v1.9h-1.9zM140.4 859.1h1.9v1.9h-1.9zM144.3 890.0h1.9v1.9h-1.9zM148.3 870.7h1.9v1.9h-1.9zM159.5 862.8h1.9v1.9h-1.9zM152.4 874.3h1.9v1.9h-1.9zM148.1 873.0h1.9v1.9h-1.9zM143.0 885.4h1.9v1.9h-1.9zM148.7 852.2h1.9v1.9h-1.9zM158.3 858.0h1.9v1.9h-1.9zM149.7 862.6h1.9v1.9h-1.9zM143.7 893.2h1.9v1.9h-1.9zM149.7 866.1h1.9v1.9h-1.9zM151.1 859.9h1.9v1.9h-1.9zM161.3 886.8h1.9v1.9h-1.9zM146.6 856.8h1.9v1.9h-1.9zM149.6 900.2h1.9v1.9h-1.9zM152.0 860.5h1.9v1.9h-1.9zM149.4 887.6h1.9v1.9h-1.9z" fill="#a8f000"/>
<path d="M146.4 855.7h1.9v1.9h-1.9zM150.3 848.2h1.9v1.9h-1.9zM147.3 889.7h1.9v1.9h-1.9zM144.2 851.6h1.9v1.9h-1.9zM147.5 886.0h1.9v1.9h-1.9zM147.4 870.5h1.9v1.9h-1.9zM142.1 846.5h1.9v1.9h-1.9zM169.6 892.3h1.9v1.9h-1.9zM153.3 863.1h1.9v1.9h-1.9zM147.6 862.6h1.9v1.9h-1.9zM143.3 871.4h1.9v1.9h-1.9zM159.7 887.4h1.9v1.9h-1.9zM151.8 881.2h1.9v1.9h-1.9zM138.6 886.2h1.9v1.9h-1.9zM143.1 909.1h1.9v1.9h-1.9zM152.8 892.8h1.9v1.9h-1.9zM162.6 883.5h1.9v1.9h-1.9zM144.3 851.0h1.9v1.9h-1.9zM168.6 906.5h1.9v1.9h-1.9zM144.1 882.9h1.9v1.9h-1.9zM141.0 950.0h1.9v1.9h-1.9zM145.5 881.8h1.9v1.9h-1.9zM151.0 882.1h1.9v1.9h-1.9zM144.7 944.5h1.9v1.9h-1.9zM141.7 876.4h1.9v1.9h-1.9zM151.4 859.0h1.9v1.9h-1.9zM152.1 856.5h1.9v1.9h-1.9zM149.1 888.5h1.9v1.9h-1.9zM149.2 885.4h1.9v1.9h-1.9zM153.7 849.7h1.9v1.9h-1.9zM140.9 858.3h1.9v1.9h-1.9zM158.8 854.2h1.9v1.9h-1.9zM215.6 896.0h1.9v1.9h-1.9zM147.8 865.2h1.9v1.9h-1.9zM147.0 892.0h1.9v1.9h-1.9zM147.7 856.6h1.9v1.9h-1.9zM143.8 851.3h1.9v1.9h-1.9zM143.1 875.0h1.9v1.9h-1.9zM153.5 864.5h1.9v1.9h-1.9zM147.3 897.3h1.9v1.9h-1.9zM149.8 862.2h1.9v1.9h-1.9zM142.6 913.6h1.9v1.9h-1.9zM162.4 902.4h1.9v1.9h-1.9zM152.1 874.5h1.9v1.9h-1.9zM179.2 882.0h1.9v1.9h-1.9zM144.7 850.4h1.9v1.9h-1.9zM156.1 850.9h1.9v1.9h-1.9zM155.4 858.4h1.9v1.9h-1.9zM146.2 864.3h1.9v1.9h-1.9zM140.3 914.8h1.9v1.9h-1.9zM148.5 891.9h1.9v1.9h-1.9zM139.5 850.0h1.9v1.9h-1.9zM181.3 939.2h1.9v1.9h-1.9zM154.6 864.1h1.9v1.9h-1.9zM142.7 851.0h1.9v1.9h-1.9zM156.5 866.5h1.9v1.9h-1.9zM146.0 864.4h1.9v1.9h-1.9zM153.4 859.7h1.9v1.9h-1.9zM152.2 882.0h1.9v1.9h-1.9zM163.0 920.0h1.9v1.9h-1.9zM149.5 870.7h1.9v1.9h-1.9zM142.8 868.8h1.9v1.9h-1.9zM149.3 870.7h1.9v1.9h-1.9zM143.7 865.0h1.9v1.9h-1.9zM142.7 906.5h1.9v1.9h-1.9zM147.7 859.7h1.9v1.9h-1.9zM146.6 881.7h1.9v1.9h-1.9zM153.7 858.8h1.9v1.9h-1.9zM156.3 871.6h1.9v1.9h-1.9zM150.5 854.7h1.9v1.9h-1.9zM149.6 866.4h1.9v1.9h-1.9zM145.8 903.0h1.9v1.9h-1.9zM143.6 860.8h1.9v1.9h-1.9zM144.9 880.1h1.9v1.9h-1.9zM166.5 883.3h1.9v1.9h-1.9zM149.6 873.0h1.9v1.9h-1.9zM149.9 872.2h1.9v1.9h-1.9zM153.2 853.9h1.9v1.9h-1.9zM145.0 894.1h1.9v1.9h-1.9zM149.8 847.5h1.9v1.9h-1.9zM179.3 884.3h1.9v1.9h-1.9zM153.6 918.7h1.9v1.9h-1.9zM151.4 869.7h1.9v1.9h-1.9zM139.6 950.0h1.9v1.9h-1.9zM150.7 849.6h1.9v1.9h-1.9zM149.6 869.8h1.9v1.9h-1.9zM141.8 890.7h1.9v1.9h-1.9zM147.1 921.7h1.9v1.9h-1.9zM150.4 870.0h1.9v1.9h-1.9zM148.3 921.1h1.9v1.9h-1.9zM139.9 859.1h1.9v1.9h-1.9zM142.4 904.3h1.9v1.9h-1.9zM158.7 848.9h1.9v1.9h-1.9zM151.8 850.0h1.9v1.9h-1.9zM145.0 904.9h1.9v1.9h-1.9zM139.8 880.1h1.9v1.9h-1.9zM143.0 874.5h1.9v1.9h-1.9zM143.5 909.2h1.9v1.9h-1.9zM145.3 918.6h1.9v1.9h-1.9zM149.7 856.6h1.9v1.9h-1.9zM143.6 950.0h1.9v1.9h-1.9zM152.6 868.9h1.9v1.9h-1.9zM140.3 864.3h1.9v1.9h-1.9zM149.4 882.7h1.9v1.9h-1.9zM152.6 849.2h1.9v1.9h-1.9zM144.3 915.7h1.9v1.9h-1.9zM157.6 848.3h1.9v1.9h-1.9zM150.7 861.8h1.9v1.9h-1.9zM144.3 928.5h1.9v1.9h-1.9zM155.8 859.7h1.9v1.9h-1.9zM143.8 848.0h1.9v1.9h-1.9zM148.0 887.2h1.9v1.9h-1.9zM151.6 865.1h1.9v1.9h-1.9zM148.9 860.8h1.9v1.9h-1.9zM142.3 920.7h1.9v1.9h-1.9zM159.3 888.1h1.9v1.9h-1.9zM140.8 852.7h1.9v1.9h-1.9zM145.9 864.4h1.9v1.9h-1.9zM150.6 868.6h1.9v1.9h-1.9zM147.4 892.1h1.9v1.9h-1.9zM146.6 872.3h1.9v1.9h-1.9zM143.1 908.6h1.9v1.9h-1.9zM159.4 886.4h1.9v1.9h-1.9zM142.2 900.9h1.9v1.9h-1.9zM144.6 865.3h1.9v1.9h-1.9zM146.2 853.5h1.9v1.9h-1.9zM142.8 882.5h1.9v1.9h-1.9zM155.2 872.3h1.9v1.9h-1.9zM140.0 900.5h1.9v1.9h-1.9zM151.0 899.0h1.9v1.9h-1.9zM164.7 878.8h1.9v1.9h-1.9zM140.7 945.6h1.9v1.9h-1.9zM153.9 872.9h1.9v1.9h-1.9zM143.7 906.5h1.9v1.9h-1.9zM161.8 847.6h1.9v1.9h-1.9zM149.1 847.1h1.9v1.9h-1.9zM151.7 866.4h1.9v1.9h-1.9zM142.1 886.7h1.9v1.9h-1.9zM146.2 890.1h1.9v1.9h-1.9zM140.7 858.9h1.9v1.9h-1.9zM147.5 854.4h1.9v1.9h-1.9zM148.5 855.0h1.9v1.9h-1.9zM155.9 868.6h1.9v1.9h-1.9zM156.9 924.4h1.9v1.9h-1.9zM148.0 863.4h1.9v1.9h-1.9zM161.2 859.8h1.9v1.9h-1.9zM146.5 856.2h1.9v1.9h-1.9zM145.2 893.7h1.9v1.9h-1.9zM139.7 916.0h1.9v1.9h-1.9zM157.0 849.9h1.9v1.9h-1.9zM142.6 887.9h1.9v1.9h-1.9zM204.7 926.8h1.9v1.9h-1.9z" fill="#50ec0a"/>
<path d="M151.6 862.2h1.9v1.9h-1.9zM147.6 858.5h1.9v1.9h-1.9zM144.2 882.2h1.9v1.9h-1.9zM151.2 917.6h1.9v1.9h-1.9zM144.1 856.3h1.9v1.9h-1.9zM140.2 847.7h1.9v1.9h-1.9zM141.1 877.4h1.9v1.9h-1.9zM145.1 863.2h1.9v1.9h-1.9zM153.4 890.3h1.9v1.9h-1.9zM150.2 853.0h1.9v1.9h-1.9zM145.1 900.6h1.9v1.9h-1.9zM153.5 848.3h1.9v1.9h-1.9zM144.6 878.8h1.9v1.9h-1.9zM147.0 868.8h1.9v1.9h-1.9zM148.3 862.9h1.9v1.9h-1.9zM154.5 856.0h1.9v1.9h-1.9zM148.3 905.6h1.9v1.9h-1.9zM146.4 878.3h1.9v1.9h-1.9zM146.9 910.3h1.9v1.9h-1.9zM161.1 881.0h1.9v1.9h-1.9zM181.6 933.2h1.9v1.9h-1.9zM145.1 865.2h1.9v1.9h-1.9zM151.0 853.1h1.9v1.9h-1.9zM161.4 864.1h1.9v1.9h-1.9zM146.1 854.0h1.9v1.9h-1.9zM150.4 895.3h1.9v1.9h-1.9zM142.1 889.9h1.9v1.9h-1.9zM149.4 892.6h1.9v1.9h-1.9zM145.3 895.4h1.9v1.9h-1.9zM160.2 894.2h1.9v1.9h-1.9zM145.2 915.9h1.9v1.9h-1.9zM143.2 863.2h1.9v1.9h-1.9zM145.2 866.9h1.9v1.9h-1.9zM142.4 864.8h1.9v1.9h-1.9zM150.0 869.6h1.9v1.9h-1.9zM148.7 890.5h1.9v1.9h-1.9zM143.3 853.2h1.9v1.9h-1.9zM146.6 881.4h1.9v1.9h-1.9zM207.8 909.6h1.9v1.9h-1.9zM174.1 896.4h1.9v1.9h-1.9zM139.3 865.1h1.9v1.9h-1.9zM145.8 860.0h1.9v1.9h-1.9zM151.5 900.0h1.9v1.9h-1.9zM147.0 850.6h1.9v1.9h-1.9zM151.4 853.0h1.9v1.9h-1.9zM165.6 901.5h1.9v1.9h-1.9zM151.4 892.9h1.9v1.9h-1.9zM141.4 910.0h1.9v1.9h-1.9zM163.3 952.2h1.9v1.9h-1.9zM149.8 889.3h1.9v1.9h-1.9zM139.3 860.4h1.9v1.9h-1.9zM173.5 879.4h1.9v1.9h-1.9zM193.8 879.4h1.9v1.9h-1.9zM144.6 897.2h1.9v1.9h-1.9zM143.5 889.0h1.9v1.9h-1.9zM140.8 880.1h1.9v1.9h-1.9zM144.6 851.5h1.9v1.9h-1.9zM140.2 904.3h1.9v1.9h-1.9zM142.7 854.6h1.9v1.9h-1.9zM162.1 860.5h1.9v1.9h-1.9zM155.2 893.0h1.9v1.9h-1.9zM147.9 851.2h1.9v1.9h-1.9zM150.8 856.2h1.9v1.9h-1.9zM153.8 887.3h1.9v1.9h-1.9zM139.5 903.4h1.9v1.9h-1.9zM140.5 876.5h1.9v1.9h-1.9zM195.9 911.5h1.9v1.9h-1.9zM149.6 875.8h1.9v1.9h-1.9zM141.0 924.6h1.9v1.9h-1.9zM153.8 861.6h1.9v1.9h-1.9zM146.3 917.6h1.9v1.9h-1.9zM150.6 872.9h1.9v1.9h-1.9zM143.2 928.0h1.9v1.9h-1.9zM147.0 848.2h1.9v1.9h-1.9zM148.5 861.3h1.9v1.9h-1.9zM140.0 851.4h1.9v1.9h-1.9zM142.9 920.4h1.9v1.9h-1.9z" fill="#14d214"/>
<path d="M151.8 889.0h1.9v1.9h-1.9zM150.3 864.2h1.9v1.9h-1.9zM197.5 901.7h1.9v1.9h-1.9zM152.0 892.3h1.9v1.9h-1.9zM157.5 853.1h1.9v1.9h-1.9zM148.7 852.6h1.9v1.9h-1.9zM172.6 888.9h1.9v1.9h-1.9zM154.6 879.3h1.9v1.9h-1.9zM148.7 912.9h1.9v1.9h-1.9zM147.2 888.0h1.9v1.9h-1.9zM147.4 849.8h1.9v1.9h-1.9z" fill="#12b446"/>
<path d="M153.2 873.0h1.9v1.9h-1.9zM151.8 900.4h1.9v1.9h-1.9zM155.9 858.8h1.9v1.9h-1.9zM189.2 882.1h1.9v1.9h-1.9zM146.5 898.5h1.9v1.9h-1.9z" fill="#168a90"/>
<path d="M179.6 886.9h1.9v1.9h-1.9zM141.9 929.5h1.9v1.9h-1.9zM149.4 893.3h1.9v1.9h-1.9zM147.2 851.1h1.9v1.9h-1.9zM148.8 894.4h1.9v1.9h-1.9zM151.7 896.6h1.9v1.9h-1.9zM159.5 903.7h1.9v1.9h-1.9zM142.8 898.5h1.9v1.9h-1.9zM169.3 907.8h1.9v1.9h-1.9z" fill="#1f58c8"/>
<path d="M150.3 894.7h1.9v1.9h-1.9zM179.2 887.0h1.9v1.9h-1.9zM151.6 853.8h1.9v1.9h-1.9zM198.3 926.9h1.9v1.9h-1.9zM158.7 854.9h1.9v1.9h-1.9zM161.2 853.4h1.9v1.9h-1.9z" fill="#1a30e0"/>
<path d="M149.2 882.0h1.9v1.9h-1.9zM144.0 896.5h1.9v1.9h-1.9zM143.0 929.3h1.9v1.9h-1.9zM145.5 903.3h1.9v1.9h-1.9zM152.8 867.1h1.9v1.9h-1.9zM190.9 900.6h1.9v1.9h-1.9zM143.6 905.4h1.9v1.9h-1.9zM154.2 903.2h1.9v1.9h-1.9zM159.2 882.7h1.9v1.9h-1.9zM145.2 884.7h1.9v1.9h-1.9zM147.3 917.3h1.9v1.9h-1.9zM142.4 863.4h1.9v1.9h-1.9zM155.0 858.5h1.9v1.9h-1.9zM141.4 915.9h1.9v1.9h-1.9zM154.4 846.2h1.9v1.9h-1.9zM145.7 872.1h1.9v1.9h-1.9zM148.4 854.2h1.9v1.9h-1.9zM145.3 852.3h1.9v1.9h-1.9zM143.6 885.7h1.9v1.9h-1.9zM139.5 894.2h1.9v1.9h-1.9zM142.3 911.2h1.9v1.9h-1.9zM152.1 873.9h1.9v1.9h-1.9zM156.0 858.1h1.9v1.9h-1.9zM150.5 853.8h1.9v1.9h-1.9z" fill="#f0ee00"/>
<path d="M140.5 846.0h1.9v1.9h-1.9zM149.3 852.0h1.9v1.9h-1.9zM143.5 870.2h1.9v1.9h-1.9zM155.3 847.8h1.9v1.9h-1.9zM153.4 876.3h1.9v1.9h-1.9zM144.7 901.1h1.9v1.9h-1.9zM146.1 867.2h1.9v1.9h-1.9zM145.1 849.1h1.9v1.9h-1.9zM139.8 942.5h1.9v1.9h-1.9zM156.9 876.8h1.9v1.9h-1.9zM149.8 895.1h1.9v1.9h-1.9zM148.5 878.9h1.9v1.9h-1.9zM143.5 848.8h1.9v1.9h-1.9zM142.7 885.3h1.9v1.9h-1.9zM144.4 880.3h1.9v1.9h-1.9zM154.4 855.0h1.9v1.9h-1.9zM139.8 936.9h1.9v1.9h-1.9zM147.2 915.5h1.9v1.9h-1.9zM139.2 927.5h1.9v1.9h-1.9zM156.9 851.3h1.9v1.9h-1.9zM144.2 904.6h1.9v1.9h-1.9zM149.5 856.5h1.9v1.9h-1.9zM144.3 849.3h1.9v1.9h-1.9zM143.3 856.2h1.9v1.9h-1.9zM159.4 861.3h1.9v1.9h-1.9zM147.4 895.0h1.9v1.9h-1.9zM148.1 892.5h1.9v1.9h-1.9zM150.5 865.4h1.9v1.9h-1.9zM148.5 862.5h1.9v1.9h-1.9zM152.6 879.9h1.9v1.9h-1.9zM150.5 860.0h1.9v1.9h-1.9zM145.2 908.6h1.9v1.9h-1.9zM149.5 878.5h1.9v1.9h-1.9zM148.5 860.6h1.9v1.9h-1.9zM140.5 863.1h1.9v1.9h-1.9zM139.2 930.1h1.9v1.9h-1.9zM152.3 883.0h1.9v1.9h-1.9zM142.6 903.3h1.9v1.9h-1.9zM168.6 888.8h1.9v1.9h-1.9zM151.8 919.7h1.9v1.9h-1.9zM144.4 871.5h1.9v1.9h-1.9zM144.8 866.1h1.9v1.9h-1.9zM138.4 881.9h1.9v1.9h-1.9zM145.3 874.8h1.9v1.9h-1.9zM221.0 915.4h1.9v1.9h-1.9zM148.0 883.2h1.9v1.9h-1.9zM163.2 873.7h1.9v1.9h-1.9zM156.6 846.4h1.9v1.9h-1.9zM148.8 880.5h1.9v1.9h-1.9zM141.0 863.4h1.9v1.9h-1.9zM155.3 879.4h1.9v1.9h-1.9zM143.0 856.1h1.9v1.9h-1.9zM141.8 904.5h1.9v1.9h-1.9zM147.2 857.1h1.9v1.9h-1.9zM145.0 931.5h1.9v1.9h-1.9zM152.1 851.6h1.9v1.9h-1.9zM144.9 863.0h1.9v1.9h-1.9zM155.7 867.8h1.9v1.9h-1.9zM149.3 857.5h1.9v1.9h-1.9zM149.2 855.7h1.9v1.9h-1.9zM176.4 893.9h1.9v1.9h-1.9zM141.0 909.2h1.9v1.9h-1.9zM140.8 917.2h1.9v1.9h-1.9zM139.7 886.0h1.9v1.9h-1.9zM146.3 899.4h1.9v1.9h-1.9zM150.9 850.5h1.9v1.9h-1.9zM152.8 875.7h1.9v1.9h-1.9zM153.1 903.1h1.9v1.9h-1.9zM141.1 859.1h1.9v1.9h-1.9zM147.8 852.6h1.9v1.9h-1.9zM150.4 896.8h1.9v1.9h-1.9zM148.2 855.2h1.9v1.9h-1.9zM152.0 864.5h1.9v1.9h-1.9zM150.6 877.5h1.9v1.9h-1.9zM153.1 902.1h1.9v1.9h-1.9zM150.0 859.1h1.9v1.9h-1.9zM146.3 880.1h1.9v1.9h-1.9zM143.0 907.5h1.9v1.9h-1.9zM152.0 901.3h1.9v1.9h-1.9zM149.7 858.3h1.9v1.9h-1.9zM148.4 849.3h1.9v1.9h-1.9zM151.2 853.0h1.9v1.9h-1.9zM140.8 896.0h1.9v1.9h-1.9zM147.1 860.3h1.9v1.9h-1.9zM145.1 877.4h1.9v1.9h-1.9zM151.8 870.2h1.9v1.9h-1.9zM149.6 848.9h1.9v1.9h-1.9zM143.3 950.0h1.9v1.9h-1.9zM150.1 848.7h1.9v1.9h-1.9zM144.6 908.8h1.9v1.9h-1.9zM149.1 858.1h1.9v1.9h-1.9zM218.2 890.4h1.9v1.9h-1.9zM146.1 913.4h1.9v1.9h-1.9zM156.3 872.4h1.9v1.9h-1.9zM139.5 944.2h1.9v1.9h-1.9zM195.8 900.8h1.9v1.9h-1.9zM145.5 849.6h1.9v1.9h-1.9zM147.7 851.8h1.9v1.9h-1.9zM142.3 875.4h1.9v1.9h-1.9zM150.2 854.8h1.9v1.9h-1.9zM149.6 881.6h1.9v1.9h-1.9zM150.3 865.3h1.9v1.9h-1.9zM155.7 915.3h1.9v1.9h-1.9zM146.9 882.0h1.9v1.9h-1.9zM142.9 892.6h1.9v1.9h-1.9zM146.8 884.5h1.9v1.9h-1.9zM143.5 849.1h1.9v1.9h-1.9zM141.7 865.5h1.9v1.9h-1.9zM146.4 861.4h1.9v1.9h-1.9zM147.0 902.4h1.9v1.9h-1.9zM143.1 896.0h1.9v1.9h-1.9zM145.7 864.4h1.9v1.9h-1.9zM147.9 854.8h1.9v1.9h-1.9z" fill="#a8f000"/>
<path d="M152.0 851.8h1.9v1.9h-1.9zM149.9 902.5h1.9v1.9h-1.9zM170.7 893.4h1.9v1.9h-1.9zM146.7 857.3h1.9v1.9h-1.9zM147.9 848.1h1.9v1.9h-1.9zM144.4 883.5h1.9v1.9h-1.9zM159.2 864.3h1.9v1.9h-1.9zM150.9 903.3h1.9v1.9h-1.9zM147.6 856.4h1.9v1.9h-1.9zM141.1 849.3h1.9v1.9h-1.9zM149.2 853.4h1.9v1.9h-1.9zM145.7 857.5h1.9v1.9h-1.9zM146.8 871.7h1.9v1.9h-1.9zM145.4 883.9h1.9v1.9h-1.9zM148.4 866.5h1.9v1.9h-1.9zM158.3 864.2h1.9v1.9h-1.9zM149.7 861.4h1.9v1.9h-1.9zM208.0 894.1h1.9v1.9h-1.9zM146.1 870.2h1.9v1.9h-1.9zM144.8 852.1h1.9v1.9h-1.9zM144.6 893.8h1.9v1.9h-1.9zM174.5 892.7h1.9v1.9h-1.9zM145.5 857.8h1.9v1.9h-1.9zM152.3 851.8h1.9v1.9h-1.9zM144.2 919.6h1.9v1.9h-1.9zM144.0 904.2h1.9v1.9h-1.9zM138.8 895.3h1.9v1.9h-1.9zM147.6 851.6h1.9v1.9h-1.9zM145.6 860.4h1.9v1.9h-1.9zM145.7 871.9h1.9v1.9h-1.9zM145.4 887.1h1.9v1.9h-1.9zM144.8 856.1h1.9v1.9h-1.9zM141.5 890.7h1.9v1.9h-1.9zM146.1 851.1h1.9v1.9h-1.9zM147.7 868.3h1.9v1.9h-1.9zM144.3 894.3h1.9v1.9h-1.9zM164.0 885.2h1.9v1.9h-1.9zM155.5 880.6h1.9v1.9h-1.9zM168.6 867.0h1.9v1.9h-1.9zM144.9 913.0h1.9v1.9h-1.9zM142.8 889.9h1.9v1.9h-1.9zM142.4 908.8h1.9v1.9h-1.9zM148.5 853.1h1.9v1.9h-1.9zM144.8 888.3h1.9v1.9h-1.9zM140.2 871.6h1.9v1.9h-1.9zM148.4 887.3h1.9v1.9h-1.9zM140.6 851.8h1.9v1.9h-1.9zM146.5 892.9h1.9v1.9h-1.9zM141.5 863.0h1.9v1.9h-1.9zM152.7 861.7h1.9v1.9h-1.9zM150.8 869.5h1.9v1.9h-1.9zM157.0 855.6h1.9v1.9h-1.9zM145.0 851.7h1.9v1.9h-1.9zM140.9 849.0h1.9v1.9h-1.9zM145.4 900.2h1.9v1.9h-1.9zM148.6 894.1h1.9v1.9h-1.9zM153.9 874.2h1.9v1.9h-1.9zM146.7 887.8h1.9v1.9h-1.9zM152.1 877.4h1.9v1.9h-1.9zM175.8 879.2h1.9v1.9h-1.9zM142.4 858.2h1.9v1.9h-1.9zM148.7 857.3h1.9v1.9h-1.9zM141.9 950.0h1.9v1.9h-1.9zM152.6 855.2h1.9v1.9h-1.9zM147.9 859.7h1.9v1.9h-1.9zM147.5 892.8h1.9v1.9h-1.9zM139.6 904.2h1.9v1.9h-1.9zM147.3 875.1h1.9v1.9h-1.9zM196.8 898.3h1.9v1.9h-1.9zM164.5 851.8h1.9v1.9h-1.9zM147.7 868.6h1.9v1.9h-1.9zM140.8 950.0h1.9v1.9h-1.9zM144.6 849.0h1.9v1.9h-1.9zM144.8 860.8h1.9v1.9h-1.9zM145.7 857.5h1.9v1.9h-1.9zM139.8 917.3h1.9v1.9h-1.9zM153.9 884.4h1.9v1.9h-1.9zM170.0 902.2h1.9v1.9h-1.9zM142.4 950.0h1.9v1.9h-1.9zM149.6 863.9h1.9v1.9h-1.9zM157.3 879.3h1.9v1.9h-1.9zM163.0 847.8h1.9v1.9h-1.9zM141.2 932.9h1.9v1.9h-1.9zM147.8 887.8h1.9v1.9h-1.9zM146.0 889.4h1.9v1.9h-1.9zM148.8 873.0h1.9v1.9h-1.9zM143.6 945.6h1.9v1.9h-1.9zM148.3 854.2h1.9v1.9h-1.9zM143.4 906.5h1.9v1.9h-1.9zM149.5 855.8h1.9v1.9h-1.9zM147.3 924.3h1.9v1.9h-1.9zM143.2 878.7h1.9v1.9h-1.9zM152.1 866.7h1.9v1.9h-1.9zM157.4 850.1h1.9v1.9h-1.9zM141.1 884.4h1.9v1.9h-1.9zM154.7 882.0h1.9v1.9h-1.9zM151.1 864.8h1.9v1.9h-1.9zM203.0 900.7h1.9v1.9h-1.9zM148.8 912.1h1.9v1.9h-1.9zM150.9 856.5h1.9v1.9h-1.9zM143.6 846.9h1.9v1.9h-1.9zM165.8 927.8h1.9v1.9h-1.9zM168.8 883.6h1.9v1.9h-1.9zM139.2 919.7h1.9v1.9h-1.9zM169.7 848.6h1.9v1.9h-1.9zM229.3 882.9h1.9v1.9h-1.9zM149.7 854.4h1.9v1.9h-1.9zM151.9 851.5h1.9v1.9h-1.9zM142.4 887.9h1.9v1.9h-1.9zM139.6 949.4h1.9v1.9h-1.9zM146.8 892.2h1.9v1.9h-1.9zM145.9 879.4h1.9v1.9h-1.9zM149.7 901.3h1.9v1.9h-1.9zM151.5 864.7h1.9v1.9h-1.9zM143.2 855.3h1.9v1.9h-1.9zM149.7 887.8h1.9v1.9h-1.9zM148.3 854.9h1.9v1.9h-1.9zM148.4 883.8h1.9v1.9h-1.9zM146.8 854.1h1.9v1.9h-1.9zM146.0 875.0h1.9v1.9h-1.9zM148.4 874.8h1.9v1.9h-1.9zM139.7 909.6h1.9v1.9h-1.9zM143.1 893.5h1.9v1.9h-1.9zM145.5 877.8h1.9v1.9h-1.9zM141.6 913.5h1.9v1.9h-1.9zM146.7 861.9h1.9v1.9h-1.9zM144.5 846.3h1.9v1.9h-1.9zM147.1 855.2h1.9v1.9h-1.9zM169.5 890.5h1.9v1.9h-1.9zM160.5 847.0h1.9v1.9h-1.9zM153.3 855.8h1.9v1.9h-1.9zM165.2 884.7h1.9v1.9h-1.9zM145.3 895.9h1.9v1.9h-1.9zM140.3 895.2h1.9v1.9h-1.9zM147.9 878.6h1.9v1.9h-1.9zM145.5 851.9h1.9v1.9h-1.9zM142.6 860.1h1.9v1.9h-1.9zM147.8 873.6h1.9v1.9h-1.9zM148.2 893.4h1.9v1.9h-1.9zM143.6 898.4h1.9v1.9h-1.9zM144.6 923.6h1.9v1.9h-1.9zM151.9 900.6h1.9v1.9h-1.9zM157.2 876.2h1.9v1.9h-1.9zM143.3 914.2h1.9v1.9h-1.9zM156.9 850.6h1.9v1.9h-1.9zM143.8 904.3h1.9v1.9h-1.9z" fill="#50ec0a"/>
<path d="M156.7 887.5h1.9v1.9h-1.9zM153.5 846.4h1.9v1.9h-1.9zM144.1 938.4h1.9v1.9h-1.9zM205.5 918.4h1.9v1.9h-1.9zM167.8 887.7h1.9v1.9h-1.9zM150.6 898.0h1.9v1.9h-1.9zM145.2 867.1h1.9v1.9h-1.9zM140.1 862.3h1.9v1.9h-1.9zM171.3 900.3h1.9v1.9h-1.9zM176.1 900.3h1.9v1.9h-1.9zM149.9 867.2h1.9v1.9h-1.9zM141.5 866.5h1.9v1.9h-1.9zM148.9 932.1h1.9v1.9h-1.9zM147.6 861.3h1.9v1.9h-1.9zM143.7 906.4h1.9v1.9h-1.9zM195.9 884.8h1.9v1.9h-1.9zM141.7 852.9h1.9v1.9h-1.9zM144.6 859.2h1.9v1.9h-1.9zM148.9 851.5h1.9v1.9h-1.9zM147.3 870.3h1.9v1.9h-1.9zM146.4 882.3h1.9v1.9h-1.9zM159.9 849.2h1.9v1.9h-1.9zM184.3 884.1h1.9v1.9h-1.9zM151.6 900.4h1.9v1.9h-1.9zM157.4 852.1h1.9v1.9h-1.9zM143.4 860.1h1.9v1.9h-1.9zM145.8 873.0h1.9v1.9h-1.9zM153.1 867.0h1.9v1.9h-1.9zM154.8 925.3h1.9v1.9h-1.9zM144.1 883.3h1.9v1.9h-1.9zM151.2 885.7h1.9v1.9h-1.9zM143.5 868.7h1.9v1.9h-1.9zM146.7 873.2h1.9v1.9h-1.9zM174.7 918.0h1.9v1.9h-1.9zM141.5 901.6h1.9v1.9h-1.9zM147.2 847.1h1.9v1.9h-1.9zM139.9 874.4h1.9v1.9h-1.9zM142.5 848.1h1.9v1.9h-1.9zM155.7 853.7h1.9v1.9h-1.9zM149.6 867.4h1.9v1.9h-1.9zM142.3 894.9h1.9v1.9h-1.9zM149.2 858.5h1.9v1.9h-1.9zM147.6 846.9h1.9v1.9h-1.9zM149.1 869.7h1.9v1.9h-1.9zM162.7 891.8h1.9v1.9h-1.9zM208.8 942.8h1.9v1.9h-1.9zM141.8 892.2h1.9v1.9h-1.9zM154.3 887.7h1.9v1.9h-1.9zM147.4 860.2h1.9v1.9h-1.9zM146.3 866.2h1.9v1.9h-1.9zM150.7 884.9h1.9v1.9h-1.9zM194.5 904.2h1.9v1.9h-1.9zM147.0 856.6h1.9v1.9h-1.9zM145.7 869.3h1.9v1.9h-1.9zM176.4 895.1h1.9v1.9h-1.9zM162.6 909.9h1.9v1.9h-1.9zM144.6 932.7h1.9v1.9h-1.9zM154.3 919.4h1.9v1.9h-1.9zM150.7 875.2h1.9v1.9h-1.9zM176.4 916.2h1.9v1.9h-1.9zM149.1 861.1h1.9v1.9h-1.9zM141.4 903.4h1.9v1.9h-1.9z" fill="#14d214"/>
<path d="M159.3 917.0h1.9v1.9h-1.9zM160.3 872.5h1.9v1.9h-1.9zM141.5 897.0h1.9v1.9h-1.9zM143.5 858.5h1.9v1.9h-1.9zM155.9 888.8h1.9v1.9h-1.9zM141.2 916.5h1.9v1.9h-1.9zM146.4 880.7h1.9v1.9h-1.9zM170.9 925.2h1.9v1.9h-1.9zM155.3 852.9h1.9v1.9h-1.9zM165.5 911.8h1.9v1.9h-1.9zM139.5 928.0h1.9v1.9h-1.9zM146.4 855.3h1.9v1.9h-1.9zM200.7 892.5h1.9v1.9h-1.9zM189.8 903.3h1.9v1.9h-1.9zM142.3 868.8h1.9v1.9h-1.9zM154.5 853.8h1.9v1.9h-1.9zM203.1 914.6h1.9v1.9h-1.9zM161.2 898.2h1.9v1.9h-1.9zM213.9 932.2h1.9v1.9h-1.9zM148.0 931.8h1.9v1.9h-1.9zM148.7 848.6h1.9v1.9h-1.9zM140.6 945.3h1.9v1.9h-1.9zM144.4 876.7h1.9v1.9h-1.9z" fill="#12b446"/>
<path d="M148.5 891.1h1.9v1.9h-1.9zM207.5 878.5h1.9v1.9h-1.9zM153.9 861.8h1.9v1.9h-1.9zM198.2 887.9h1.9v1.9h-1.9zM154.1 921.8h1.9v1.9h-1.9z" fill="#168a90"/>
<path d="M141.5 898.7h1.9v1.9h-1.9zM146.3 884.6h1.9v1.9h-1.9zM158.7 888.7h1.9v1.9h-1.9zM171.0 905.6h1.9v1.9h-1.9zM158.8 878.2h1.9v1.9h-1.9zM179.1 897.9h1.9v1.9h-1.9zM147.7 855.1h1.9v1.9h-1.9zM142.0 869.9h1.9v1.9h-1.9zM144.9 862.5h1.9v1.9h-1.9zM157.3 885.4h1.9v1.9h-1.9zM144.1 883.8h1.9v1.9h-1.9zM146.6 858.7h1.9v1.9h-1.9zM166.5 930.3h1.9v1.9h-1.9zM155.8 869.0h1.9v1.9h-1.9z" fill="#1f58c8"/>
<path d="M155.3 928.5h1.9v1.9h-1.9zM161.0 886.4h1.9v1.9h-1.9z" fill="#1a30e0"/>
<path d="M148.3 847.7h1.9v1.9h-1.9zM147.9 869.9h1.9v1.9h-1.9z" fill="#ffc800"/>
<path d="M151.2 861.9h1.9v1.9h-1.9zM147.1 851.4h1.9v1.9h-1.9zM142.6 873.2h1.9v1.9h-1.9zM156.8 869.2h1.9v1.9h-1.9zM146.0 887.9h1.9v1.9h-1.9zM142.8 918.7h1.9v1.9h-1.9zM142.6 940.2h1.9v1.9h-1.9zM148.6 876.2h1.9v1.9h-1.9zM147.4 890.7h1.9v1.9h-1.9zM150.1 912.7h1.9v1.9h-1.9zM155.0 875.1h1.9v1.9h-1.9zM142.5 872.4h1.9v1.9h-1.9zM146.0 881.0h1.9v1.9h-1.9zM146.6 929.2h1.9v1.9h-1.9zM143.7 892.3h1.9v1.9h-1.9zM141.0 899.6h1.9v1.9h-1.9zM150.1 865.3h1.9v1.9h-1.9zM154.2 847.4h1.9v1.9h-1.9zM156.5 853.8h1.9v1.9h-1.9zM151.5 846.1h1.9v1.9h-1.9zM145.3 884.7h1.9v1.9h-1.9zM146.2 863.5h1.9v1.9h-1.9zM196.8 894.2h1.9v1.9h-1.9zM146.5 875.7h1.9v1.9h-1.9zM143.5 901.1h1.9v1.9h-1.9zM147.9 857.3h1.9v1.9h-1.9zM154.9 863.3h1.9v1.9h-1.9zM221.1 879.1h1.9v1.9h-1.9z" fill="#f0ee00"/>
<path d="M155.3 863.5h1.9v1.9h-1.9zM152.6 908.2h1.9v1.9h-1.9zM146.6 874.1h1.9v1.9h-1.9zM156.5 857.1h1.9v1.9h-1.9zM145.4 888.2h1.9v1.9h-1.9zM138.3 943.6h1.9v1.9h-1.9zM150.2 899.5h1.9v1.9h-1.9zM139.9 856.8h1.9v1.9h-1.9zM147.9 893.2h1.9v1.9h-1.9zM153.7 886.0h1.9v1.9h-1.9zM144.0 867.6h1.9v1.9h-1.9zM140.7 907.3h1.9v1.9h-1.9zM146.4 899.6h1.9v1.9h-1.9zM146.8 906.5h1.9v1.9h-1.9zM145.0 902.6h1.9v1.9h-1.9zM224.4 918.7h1.9v1.9h-1.9zM146.8 851.6h1.9v1.9h-1.9zM148.6 889.1h1.9v1.9h-1.9zM142.3 849.7h1.9v1.9h-1.9zM149.9 860.0h1.9v1.9h-1.9zM142.5 892.7h1.9v1.9h-1.9zM149.6 848.3h1.9v1.9h-1.9zM146.2 863.7h1.9v1.9h-1.9zM138.9 932.1h1.9v1.9h-1.9zM149.5 851.0h1.9v1.9h-1.9zM143.9 889.0h1.9v1.9h-1.9zM139.8 895.6h1.9v1.9h-1.9zM142.4 856.0h1.9v1.9h-1.9zM143.2 907.3h1.9v1.9h-1.9zM149.5 873.9h1.9v1.9h-1.9zM147.9 863.5h1.9v1.9h-1.9zM145.9 855.6h1.9v1.9h-1.9zM172.0 885.1h1.9v1.9h-1.9zM153.7 870.7h1.9v1.9h-1.9zM147.8 852.2h1.9v1.9h-1.9zM147.5 901.6h1.9v1.9h-1.9zM142.3 887.3h1.9v1.9h-1.9zM150.2 879.6h1.9v1.9h-1.9zM148.8 870.8h1.9v1.9h-1.9zM147.1 866.8h1.9v1.9h-1.9zM147.7 879.0h1.9v1.9h-1.9zM148.8 860.0h1.9v1.9h-1.9zM140.0 950.0h1.9v1.9h-1.9zM168.0 881.0h1.9v1.9h-1.9zM153.9 904.5h1.9v1.9h-1.9zM148.6 849.0h1.9v1.9h-1.9zM144.8 886.2h1.9v1.9h-1.9zM146.8 851.1h1.9v1.9h-1.9zM197.8 897.8h1.9v1.9h-1.9zM187.6 883.1h1.9v1.9h-1.9zM148.5 846.9h1.9v1.9h-1.9zM153.1 864.6h1.9v1.9h-1.9zM145.8 860.6h1.9v1.9h-1.9zM151.4 899.3h1.9v1.9h-1.9zM149.3 893.0h1.9v1.9h-1.9zM140.9 919.6h1.9v1.9h-1.9zM146.5 885.6h1.9v1.9h-1.9zM139.5 871.9h1.9v1.9h-1.9zM150.3 885.3h1.9v1.9h-1.9zM146.4 905.0h1.9v1.9h-1.9zM148.6 851.6h1.9v1.9h-1.9zM143.5 903.7h1.9v1.9h-1.9zM175.3 893.0h1.9v1.9h-1.9zM157.9 868.0h1.9v1.9h-1.9zM141.4 895.5h1.9v1.9h-1.9zM142.4 866.2h1.9v1.9h-1.9zM151.1 865.3h1.9v1.9h-1.9zM141.7 901.1h1.9v1.9h-1.9zM153.5 857.5h1.9v1.9h-1.9zM150.2 853.8h1.9v1.9h-1.9zM205.1 888.9h1.9v1.9h-1.9zM154.1 872.7h1.9v1.9h-1.9zM160.5 889.9h1.9v1.9h-1.9zM224.9 889.8h1.9v1.9h-1.9zM177.7 931.3h1.9v1.9h-1.9zM149.2 863.0h1.9v1.9h-1.9zM148.9 922.7h1.9v1.9h-1.9zM141.7 950.0h1.9v1.9h-1.9zM145.3 913.6h1.9v1.9h-1.9zM141.7 923.5h1.9v1.9h-1.9zM144.8 911.8h1.9v1.9h-1.9zM144.5 887.1h1.9v1.9h-1.9zM141.3 898.6h1.9v1.9h-1.9zM157.2 847.9h1.9v1.9h-1.9zM245.6 888.7h1.9v1.9h-1.9zM153.6 853.8h1.9v1.9h-1.9zM148.2 868.2h1.9v1.9h-1.9zM146.4 894.7h1.9v1.9h-1.9zM147.4 855.0h1.9v1.9h-1.9zM148.1 915.1h1.9v1.9h-1.9zM145.7 863.3h1.9v1.9h-1.9zM216.1 889.3h1.9v1.9h-1.9zM159.7 938.9h1.9v1.9h-1.9zM144.8 853.5h1.9v1.9h-1.9zM146.5 855.8h1.9v1.9h-1.9zM145.7 869.1h1.9v1.9h-1.9zM150.7 879.4h1.9v1.9h-1.9zM143.1 889.1h1.9v1.9h-1.9zM148.1 851.9h1.9v1.9h-1.9zM151.8 876.6h1.9v1.9h-1.9zM148.6 867.7h1.9v1.9h-1.9zM156.6 905.0h1.9v1.9h-1.9zM144.2 931.0h1.9v1.9h-1.9zM146.3 869.7h1.9v1.9h-1.9zM147.3 849.6h1.9v1.9h-1.9zM146.4 899.9h1.9v1.9h-1.9zM148.4 886.9h1.9v1.9h-1.9zM148.6 867.3h1.9v1.9h-1.9z" fill="#a8f000"/>
<path d="M146.1 867.8h1.9v1.9h-1.9zM155.4 879.9h1.9v1.9h-1.9zM141.8 893.2h1.9v1.9h-1.9zM145.6 919.4h1.9v1.9h-1.9zM142.8 901.1h1.9v1.9h-1.9zM142.0 863.9h1.9v1.9h-1.9zM189.3 896.3h1.9v1.9h-1.9zM145.0 886.9h1.9v1.9h-1.9zM157.2 865.4h1.9v1.9h-1.9zM151.9 865.9h1.9v1.9h-1.9zM145.1 871.8h1.9v1.9h-1.9zM141.5 865.7h1.9v1.9h-1.9zM151.5 855.2h1.9v1.9h-1.9zM143.3 871.9h1.9v1.9h-1.9zM149.1 867.4h1.9v1.9h-1.9zM144.2 904.8h1.9v1.9h-1.9zM153.5 861.0h1.9v1.9h-1.9zM140.4 874.0h1.9v1.9h-1.9zM146.7 900.0h1.9v1.9h-1.9zM146.5 914.8h1.9v1.9h-1.9zM152.8 853.1h1.9v1.9h-1.9zM147.6 850.6h1.9v1.9h-1.9zM160.6 848.4h1.9v1.9h-1.9zM148.4 849.8h1.9v1.9h-1.9zM150.9 893.3h1.9v1.9h-1.9zM144.6 862.6h1.9v1.9h-1.9zM143.3 862.4h1.9v1.9h-1.9zM173.9 920.5h1.9v1.9h-1.9zM150.1 846.3h1.9v1.9h-1.9zM151.8 851.7h1.9v1.9h-1.9zM153.0 848.8h1.9v1.9h-1.9zM139.9 881.7h1.9v1.9h-1.9zM146.2 863.0h1.9v1.9h-1.9zM148.4 885.0h1.9v1.9h-1.9zM140.6 932.2h1.9v1.9h-1.9zM150.4 867.0h1.9v1.9h-1.9zM147.0 884.8h1.9v1.9h-1.9zM155.2 887.3h1.9v1.9h-1.9zM153.2 864.8h1.9v1.9h-1.9zM150.9 874.5h1.9v1.9h-1.9zM152.8 851.0h1.9v1.9h-1.9zM170.7 882.8h1.9v1.9h-1.9zM144.6 871.6h1.9v1.9h-1.9zM139.5 894.6h1.9v1.9h-1.9zM152.5 860.7h1.9v1.9h-1.9zM149.2 882.1h1.9v1.9h-1.9zM150.4 855.6h1.9v1.9h-1.9zM181.1 912.2h1.9v1.9h-1.9zM143.8 866.0h1.9v1.9h-1.9zM144.9 861.4h1.9v1.9h-1.9zM228.9 906.0h1.9v1.9h-1.9zM146.4 863.3h1.9v1.9h-1.9zM148.9 858.0h1.9v1.9h-1.9zM144.3 930.4h1.9v1.9h-1.9zM164.8 856.6h1.9v1.9h-1.9zM147.4 863.1h1.9v1.9h-1.9zM144.0 871.1h1.9v1.9h-1.9zM153.8 870.5h1.9v1.9h-1.9zM148.3 880.9h1.9v1.9h-1.9zM154.1 883.2h1.9v1.9h-1.9zM143.7 914.2h1.9v1.9h-1.9zM150.7 861.1h1.9v1.9h-1.9zM141.5 910.5h1.9v1.9h-1.9zM152.3 848.5h1.9v1.9h-1.9zM153.2 906.4h1.9v1.9h-1.9zM147.0 877.5h1.9v1.9h-1.9zM144.5 908.4h1.9v1.9h-1.9zM156.7 879.6h1.9v1.9h-1.9zM150.5 887.1h1.9v1.9h-1.9zM146.6 866.2h1.9v1.9h-1.9zM152.5 883.6h1.9v1.9h-1.9zM145.8 894.2h1.9v1.9h-1.9zM147.3 862.4h1.9v1.9h-1.9zM147.6 899.9h1.9v1.9h-1.9zM149.5 899.6h1.9v1.9h-1.9zM149.9 885.3h1.9v1.9h-1.9zM154.6 867.8h1.9v1.9h-1.9zM152.2 914.8h1.9v1.9h-1.9zM150.5 859.2h1.9v1.9h-1.9zM148.6 889.4h1.9v1.9h-1.9zM145.5 865.8h1.9v1.9h-1.9zM170.5 850.2h1.9v1.9h-1.9zM148.4 860.1h1.9v1.9h-1.9zM148.6 874.4h1.9v1.9h-1.9zM147.5 898.7h1.9v1.9h-1.9zM142.1 950.0h1.9v1.9h-1.9zM150.0 867.1h1.9v1.9h-1.9zM149.6 867.9h1.9v1.9h-1.9zM140.3 851.9h1.9v1.9h-1.9zM148.6 857.6h1.9v1.9h-1.9zM155.8 859.7h1.9v1.9h-1.9zM193.3 935.3h1.9v1.9h-1.9zM147.0 877.9h1.9v1.9h-1.9zM147.5 890.2h1.9v1.9h-1.9zM147.1 925.5h1.9v1.9h-1.9zM142.4 927.1h1.9v1.9h-1.9zM148.5 899.2h1.9v1.9h-1.9zM146.3 873.9h1.9v1.9h-1.9zM149.0 867.3h1.9v1.9h-1.9zM145.3 897.7h1.9v1.9h-1.9zM152.4 854.0h1.9v1.9h-1.9zM186.3 908.1h1.9v1.9h-1.9zM178.9 878.3h1.9v1.9h-1.9zM142.5 847.7h1.9v1.9h-1.9zM152.3 876.8h1.9v1.9h-1.9zM143.4 856.5h1.9v1.9h-1.9zM161.2 908.2h1.9v1.9h-1.9zM144.2 867.7h1.9v1.9h-1.9zM155.8 863.5h1.9v1.9h-1.9zM150.2 883.7h1.9v1.9h-1.9zM144.2 856.6h1.9v1.9h-1.9zM142.6 922.0h1.9v1.9h-1.9zM150.4 902.8h1.9v1.9h-1.9zM140.0 861.6h1.9v1.9h-1.9zM143.1 848.3h1.9v1.9h-1.9zM144.0 857.9h1.9v1.9h-1.9zM155.7 896.0h1.9v1.9h-1.9zM150.0 860.9h1.9v1.9h-1.9zM153.3 879.5h1.9v1.9h-1.9zM176.3 887.6h1.9v1.9h-1.9zM145.0 876.2h1.9v1.9h-1.9zM147.3 852.5h1.9v1.9h-1.9zM154.2 889.5h1.9v1.9h-1.9zM144.3 901.6h1.9v1.9h-1.9zM145.3 902.5h1.9v1.9h-1.9zM157.4 908.1h1.9v1.9h-1.9zM142.5 884.3h1.9v1.9h-1.9zM159.1 853.0h1.9v1.9h-1.9zM155.6 856.4h1.9v1.9h-1.9zM146.3 888.6h1.9v1.9h-1.9zM145.9 883.1h1.9v1.9h-1.9zM148.6 864.7h1.9v1.9h-1.9zM152.8 908.8h1.9v1.9h-1.9zM152.4 880.9h1.9v1.9h-1.9zM141.7 890.4h1.9v1.9h-1.9zM146.8 887.8h1.9v1.9h-1.9zM139.2 926.4h1.9v1.9h-1.9zM139.5 950.0h1.9v1.9h-1.9zM143.3 867.5h1.9v1.9h-1.9zM148.1 875.7h1.9v1.9h-1.9zM149.0 875.8h1.9v1.9h-1.9zM148.0 852.5h1.9v1.9h-1.9zM153.0 866.3h1.9v1.9h-1.9z" fill="#50ec0a"/>
<path d="M156.4 846.7h1.9v1.9h-1.9zM149.5 886.5h1.9v1.9h-1.9zM144.0 908.7h1.9v1.9h-1.9zM139.8 881.5h1.9v1.9h-1.9zM147.9 909.1h1.9v1.9h-1.9zM143.4 914.0h1.9v1.9h-1.9zM153.3 849.5h1.9v1.9h-1.9zM154.1 855.3h1.9v1.9h-1.9zM215.2 926.5h1.9v1.9h-1.9zM145.5 902.0h1.9v1.9h-1.9zM166.7 891.7h1.9v1.9h-1.9zM217.6 882.5h1.9v1.9h-1.9zM144.1 870.7h1.9v1.9h-1.9zM198.7 915.7h1.9v1.9h-1.9zM168.1 894.5h1.9v1.9h-1.9zM151.4 854.5h1.9v1.9h-1.9zM169.8 927.4h1.9v1.9h-1.9zM148.5 867.2h1.9v1.9h-1.9zM152.5 848.1h1.9v1.9h-1.9zM165.4 939.8h1.9v1.9h-1.9zM144.3 941.7h1.9v1.9h-1.9zM150.1 883.3h1.9v1.9h-1.9zM148.6 895.7h1.9v1.9h-1.9zM140.2 858.0h1.9v1.9h-1.9zM168.7 908.4h1.9v1.9h-1.9zM158.3 899.3h1.9v1.9h-1.9zM143.9 869.7h1.9v1.9h-1.9zM141.8 875.7h1.9v1.9h-1.9zM182.9 928.6h1.9v1.9h-1.9zM149.2 879.2h1.9v1.9h-1.9zM147.4 875.3h1.9v1.9h-1.9zM157.0 891.0h1.9v1.9h-1.9zM143.2 873.6h1.9v1.9h-1.9zM144.9 864.8h1.9v1.9h-1.9zM152.3 861.1h1.9v1.9h-1.9zM151.8 880.2h1.9v1.9h-1.9zM146.1 899.0h1.9v1.9h-1.9zM143.2 869.9h1.9v1.9h-1.9zM145.9 859.0h1.9v1.9h-1.9zM141.3 890.1h1.9v1.9h-1.9zM144.6 852.8h1.9v1.9h-1.9zM147.9 868.7h1.9v1.9h-1.9zM143.6 883.7h1.9v1.9h-1.9zM142.6 855.3h1.9v1.9h-1.9zM143.5 896.2h1.9v1.9h-1.9zM149.4 892.6h1.9v1.9h-1.9zM142.3 872.9h1.9v1.9h-1.9zM142.8 880.4h1.9v1.9h-1.9zM182.1 895.4h1.9v1.9h-1.9zM186.6 936.0h1.9v1.9h-1.9zM179.9 889.7h1.9v1.9h-1.9zM144.2 857.8h1.9v1.9h-1.9zM145.4 850.9h1.9v1.9h-1.9zM178.2 890.7h1.9v1.9h-1.9zM147.2 867.8h1.9v1.9h-1.9zM148.7 862.4h1.9v1.9h-1.9zM143.5 867.8h1.9v1.9h-1.9zM148.2 859.1h1.9v1.9h-1.9zM175.9 897.3h1.9v1.9h-1.9zM143.6 874.4h1.9v1.9h-1.9zM160.7 860.0h1.9v1.9h-1.9zM147.2 856.3h1.9v1.9h-1.9zM149.7 892.1h1.9v1.9h-1.9zM143.8 893.8h1.9v1.9h-1.9zM148.7 876.4h1.9v1.9h-1.9zM139.0 905.7h1.9v1.9h-1.9zM144.1 903.2h1.9v1.9h-1.9z" fill="#14d214"/>
<path d="M160.9 906.9h1.9v1.9h-1.9zM143.5 858.7h1.9v1.9h-1.9zM152.6 877.5h1.9v1.9h-1.9zM144.4 856.3h1.9v1.9h-1.9zM146.0 901.4h1.9v1.9h-1.9zM146.4 846.1h1.9v1.9h-1.9zM148.1 846.5h1.9v1.9h-1.9zM145.0 903.1h1.9v1.9h-1.9zM178.9 884.2h1.9v1.9h-1.9zM157.6 902.5h1.9v1.9h-1.9zM156.0 857.5h1.9v1.9h-1.9zM178.9 882.1h1.9v1.9h-1.9z" fill="#12b446"/>
<path d="M205.5 905.1h1.9v1.9h-1.9zM154.4 872.7h1.9v1.9h-1.9zM202.7 884.8h1.9v1.9h-1.9zM150.0 897.8h1.9v1.9h-1.9z" fill="#168a90"/>
<path d="M168.2 882.8h1.9v1.9h-1.9zM155.5 870.1h1.9v1.9h-1.9zM228.1 887.4h1.9v1.9h-1.9zM158.4 853.6h1.9v1.9h-1.9zM147.4 894.9h1.9v1.9h-1.9zM165.7 891.3h1.9v1.9h-1.9zM150.6 903.5h1.9v1.9h-1.9zM144.5 869.3h1.9v1.9h-1.9zM170.0 918.9h1.9v1.9h-1.9zM152.5 861.5h1.9v1.9h-1.9zM151.0 864.7h1.9v1.9h-1.9zM156.4 886.4h1.9v1.9h-1.9zM199.7 897.8h1.9v1.9h-1.9zM157.5 904.4h1.9v1.9h-1.9zM144.7 846.5h1.9v1.9h-1.9zM157.3 897.4h1.9v1.9h-1.9zM153.6 888.1h1.9v1.9h-1.9zM146.0 853.0h1.9v1.9h-1.9zM144.2 874.0h1.9v1.9h-1.9z" fill="#1f58c8"/>
<path d="M148.5 853.5h1.9v1.9h-1.9zM140.6 846.9h1.9v1.9h-1.9zM153.8 870.8h1.9v1.9h-1.9zM198.6 910.9h1.9v1.9h-1.9zM143.7 888.8h1.9v1.9h-1.9z" fill="#1a30e0"/>
<path d="M254.6 827.4h1.9v1.9h-1.9zM236.6 825.3h1.9v1.9h-1.9zM243.6 837.5h1.9v1.9h-1.9zM243.8 829.3h1.9v1.9h-1.9zM253.3 824.0h1.9v1.9h-1.9zM257.9 824.3h1.9v1.9h-1.9zM242.4 827.2h1.9v1.9h-1.9zM239.2 837.6h1.9v1.9h-1.9zM246.7 839.4h1.9v1.9h-1.9zM250.9 826.4h1.9v1.9h-1.9zM240.0 825.9h1.9v1.9h-1.9zM252.1 826.1h1.9v1.9h-1.9zM250.0 829.4h1.9v1.9h-1.9zM259.7 828.5h1.9v1.9h-1.9zM243.9 824.0h1.9v1.9h-1.9zM246.4 827.0h1.9v1.9h-1.9zM254.7 833.5h1.9v1.9h-1.9zM272.0 831.7h1.9v1.9h-1.9z" fill="#ffc800"/>
<path d="M258.0 836.8h1.9v1.9h-1.9zM255.3 826.8h1.9v1.9h-1.9zM253.5 857.3h1.9v1.9h-1.9zM250.6 837.2h1.9v1.9h-1.9zM239.5 828.9h1.9v1.9h-1.9zM266.5 834.8h1.9v1.9h-1.9zM267.7 833.0h1.9v1.9h-1.9zM251.2 860.7h1.9v1.9h-1.9zM259.5 841.5h1.9v1.9h-1.9zM266.5 841.4h1.9v1.9h-1.9zM248.5 828.2h1.9v1.9h-1.9zM276.4 831.6h1.9v1.9h-1.9zM248.2 837.2h1.9v1.9h-1.9zM273.2 831.3h1.9v1.9h-1.9zM266.6 840.0h1.9v1.9h-1.9zM245.4 836.0h1.9v1.9h-1.9zM261.4 843.4h1.9v1.9h-1.9zM245.3 826.5h1.9v1.9h-1.9zM260.8 839.0h1.9v1.9h-1.9zM250.9 843.7h1.9v1.9h-1.9zM259.7 828.0h1.9v1.9h-1.9zM262.5 841.8h1.9v1.9h-1.9zM253.3 841.8h1.9v1.9h-1.9zM249.1 843.8h1.9v1.9h-1.9zM268.7 832.7h1.9v1.9h-1.9zM266.2 827.3h1.9v1.9h-1.9zM260.3 838.0h1.9v1.9h-1.9zM259.6 826.2h1.9v1.9h-1.9zM250.3 836.1h1.9v1.9h-1.9zM238.9 840.1h1.9v1.9h-1.9zM257.1 832.5h1.9v1.9h-1.9zM276.8 824.2h1.9v1.9h-1.9zM270.5 832.7h1.9v1.9h-1.9zM247.9 828.9h1.9v1.9h-1.9zM255.3 827.8h1.9v1.9h-1.9zM246.7 837.0h1.9v1.9h-1.9zM240.7 837.9h1.9v1.9h-1.9zM260.5 826.7h1.9v1.9h-1.9zM246.4 832.5h1.9v1.9h-1.9zM264.9 830.4h1.9v1.9h-1.9zM261.6 830.2h1.9v1.9h-1.9zM250.0 836.6h1.9v1.9h-1.9zM256.3 828.6h1.9v1.9h-1.9zM267.7 829.6h1.9v1.9h-1.9zM244.2 839.2h1.9v1.9h-1.9zM239.4 850.9h1.9v1.9h-1.9zM243.4 839.9h1.9v1.9h-1.9zM249.8 834.1h1.9v1.9h-1.9zM247.8 838.5h1.9v1.9h-1.9zM257.8 827.8h1.9v1.9h-1.9zM245.7 829.6h1.9v1.9h-1.9zM237.2 838.3h1.9v1.9h-1.9zM272.3 838.4h1.9v1.9h-1.9zM240.7 826.3h1.9v1.9h-1.9zM244.2 829.3h1.9v1.9h-1.9zM257.3 839.7h1.9v1.9h-1.9zM274.8 835.5h1.9v1.9h-1.9zM244.8 835.3h1.9v1.9h-1.9zM247.7 839.9h1.9v1.9h-1.9zM272.5 834.6h1.9v1.9h-1.9zM260.5 841.5h1.9v1.9h-1.9zM262.5 832.9h1.9v1.9h-1.9zM254.2 843.2h1.9v1.9h-1.9zM247.7 825.8h1.9v1.9h-1.9zM254.8 830.3h1.9v1.9h-1.9zM265.2 838.9h1.9v1.9h-1.9zM269.8 833.6h1.9v1.9h-1.9zM269.1 842.8h1.9v1.9h-1.9zM247.4 830.3h1.9v1.9h-1.9zM269.3 834.7h1.9v1.9h-1.9zM261.7 824.7h1.9v1.9h-1.9zM253.7 834.0h1.9v1.9h-1.9zM252.9 842.7h1.9v1.9h-1.9zM260.4 840.5h1.9v1.9h-1.9zM250.8 835.3h1.9v1.9h-1.9zM242.2 847.3h1.9v1.9h-1.9zM276.4 836.7h1.9v1.9h-1.9zM270.7 825.4h1.9v1.9h-1.9z" fill="#f0ee00"/>
<path d="M268.4 843.7h1.9v1.9h-1.9zM253.2 842.1h1.9v1.9h-1.9zM274.1 847.5h1.9v1.9h-1.9zM253.1 862.0h1.9v1.9h-1.9zM255.0 852.0h1.9v1.9h-1.9zM272.1 834.8h1.9v1.9h-1.9zM280.8 850.6h1.9v1.9h-1.9zM280.6 839.9h1.9v1.9h-1.9zM249.2 855.0h1.9v1.9h-1.9zM275.0 844.6h1.9v1.9h-1.9zM273.7 846.3h1.9v1.9h-1.9zM256.8 835.5h1.9v1.9h-1.9zM283.1 827.3h1.9v1.9h-1.9zM267.9 858.0h1.9v1.9h-1.9zM250.2 845.7h1.9v1.9h-1.9zM271.0 825.9h1.9v1.9h-1.9zM262.4 849.5h1.9v1.9h-1.9zM246.4 833.4h1.9v1.9h-1.9zM265.8 836.4h1.9v1.9h-1.9zM266.4 845.5h1.9v1.9h-1.9zM260.0 847.0h1.9v1.9h-1.9zM257.0 829.6h1.9v1.9h-1.9zM251.6 842.3h1.9v1.9h-1.9zM254.1 859.7h1.9v1.9h-1.9zM276.2 835.8h1.9v1.9h-1.9zM245.7 840.4h1.9v1.9h-1.9zM276.4 824.7h1.9v1.9h-1.9zM272.3 837.4h1.9v1.9h-1.9zM247.9 857.0h1.9v1.9h-1.9zM277.7 850.7h1.9v1.9h-1.9zM257.8 852.9h1.9v1.9h-1.9zM246.9 841.3h1.9v1.9h-1.9zM254.1 847.0h1.9v1.9h-1.9zM259.2 838.5h1.9v1.9h-1.9zM268.4 849.9h1.9v1.9h-1.9zM236.6 842.4h1.9v1.9h-1.9zM255.1 839.6h1.9v1.9h-1.9zM247.2 837.8h1.9v1.9h-1.9zM286.0 843.8h1.9v1.9h-1.9zM256.6 850.2h1.9v1.9h-1.9zM264.7 842.7h1.9v1.9h-1.9zM254.1 846.1h1.9v1.9h-1.9zM257.5 851.7h1.9v1.9h-1.9zM270.6 838.1h1.9v1.9h-1.9zM247.9 836.6h1.9v1.9h-1.9zM264.1 830.0h1.9v1.9h-1.9zM257.1 856.0h1.9v1.9h-1.9zM249.5 839.4h1.9v1.9h-1.9zM269.7 844.1h1.9v1.9h-1.9zM270.7 851.8h1.9v1.9h-1.9zM263.7 838.9h1.9v1.9h-1.9zM260.7 840.6h1.9v1.9h-1.9zM264.2 845.1h1.9v1.9h-1.9zM251.2 829.8h1.9v1.9h-1.9zM253.3 824.9h1.9v1.9h-1.9zM262.3 840.9h1.9v1.9h-1.9zM264.9 854.6h1.9v1.9h-1.9zM239.8 846.6h1.9v1.9h-1.9zM274.9 841.0h1.9v1.9h-1.9zM257.0 841.5h1.9v1.9h-1.9zM254.6 852.4h1.9v1.9h-1.9zM291.1 851.2h1.9v1.9h-1.9zM265.6 834.0h1.9v1.9h-1.9zM257.3 846.4h1.9v1.9h-1.9zM279.9 833.4h1.9v1.9h-1.9zM262.0 835.1h1.9v1.9h-1.9zM247.6 841.3h1.9v1.9h-1.9zM267.0 854.8h1.9v1.9h-1.9zM255.4 842.4h1.9v1.9h-1.9zM265.5 857.3h1.9v1.9h-1.9zM262.2 845.0h1.9v1.9h-1.9zM257.9 845.4h1.9v1.9h-1.9zM271.2 833.5h1.9v1.9h-1.9zM265.4 834.2h1.9v1.9h-1.9zM269.9 845.7h1.9v1.9h-1.9zM256.8 838.7h1.9v1.9h-1.9zM271.1 838.3h1.9v1.9h-1.9zM273.2 854.8h1.9v1.9h-1.9zM263.0 838.3h1.9v1.9h-1.9zM247.9 860.7h1.9v1.9h-1.9zM244.6 834.2h1.9v1.9h-1.9zM279.2 841.4h1.9v1.9h-1.9zM263.8 853.1h1.9v1.9h-1.9zM249.3 834.0h1.9v1.9h-1.9zM262.2 845.7h1.9v1.9h-1.9zM272.4 828.6h1.9v1.9h-1.9zM263.0 828.2h1.9v1.9h-1.9zM276.5 833.8h1.9v1.9h-1.9zM254.8 845.4h1.9v1.9h-1.9zM266.5 837.4h1.9v1.9h-1.9zM289.5 829.8h1.9v1.9h-1.9zM261.3 843.5h1.9v1.9h-1.9zM255.0 862.9h1.9v1.9h-1.9zM271.6 829.4h1.9v1.9h-1.9zM252.5 826.5h1.9v1.9h-1.9zM269.5 857.9h1.9v1.9h-1.9zM260.9 836.9h1.9v1.9h-1.9zM260.8 841.9h1.9v1.9h-1.9zM261.7 843.7h1.9v1.9h-1.9zM266.2 829.7h1.9v1.9h-1.9zM268.6 855.6h1.9v1.9h-1.9zM240.8 847.9h1.9v1.9h-1.9zM284.3 836.5h1.9v1.9h-1.9zM264.3 840.7h1.9v1.9h-1.9zM280.7 824.3h1.9v1.9h-1.9zM265.3 847.6h1.9v1.9h-1.9zM248.4 833.6h1.9v1.9h-1.9zM272.3 843.6h1.9v1.9h-1.9zM255.8 857.2h1.9v1.9h-1.9zM263.5 865.5h1.9v1.9h-1.9zM251.2 862.5h1.9v1.9h-1.9zM261.0 856.7h1.9v1.9h-1.9zM263.4 836.5h1.9v1.9h-1.9zM268.6 839.8h1.9v1.9h-1.9zM275.9 835.9h1.9v1.9h-1.9zM258.6 837.8h1.9v1.9h-1.9zM251.8 843.5h1.9v1.9h-1.9zM260.2 834.7h1.9v1.9h-1.9zM265.2 853.6h1.9v1.9h-1.9zM258.7 835.3h1.9v1.9h-1.9zM242.7 847.1h1.9v1.9h-1.9zM279.7 847.7h1.9v1.9h-1.9zM256.8 855.6h1.9v1.9h-1.9zM264.0 853.1h1.9v1.9h-1.9zM257.6 856.0h1.9v1.9h-1.9zM271.1 843.4h1.9v1.9h-1.9zM267.6 832.9h1.9v1.9h-1.9zM238.7 850.3h1.9v1.9h-1.9zM269.7 842.1h1.9v1.9h-1.9zM266.7 861.2h1.9v1.9h-1.9zM250.0 842.6h1.9v1.9h-1.9zM262.6 850.6h1.9v1.9h-1.9zM253.4 841.6h1.9v1.9h-1.9zM260.7 851.6h1.9v1.9h-1.9zM242.3 855.4h1.9v1.9h-1.9zM269.8 826.1h1.9v1.9h-1.9zM248.2 853.8h1.9v1.9h-1.9zM271.0 835.6h1.9v1.9h-1.9zM263.7 844.2h1.9v1.9h-1.9zM257.6 837.6h1.9v1.9h-1.9zM261.3 841.6h1.9v1.9h-1.9zM257.7 844.9h1.9v1.9h-1.9zM260.0 847.6h1.9v1.9h-1.9zM278.3 830.3h1.9v1.9h-1.9zM261.2 836.1h1.9v1.9h-1.9zM267.5 847.7h1.9v1.9h-1.9zM241.9 835.4h1.9v1.9h-1.9zM259.3 847.7h1.9v1.9h-1.9zM254.0 847.7h1.9v1.9h-1.9zM250.6 842.0h1.9v1.9h-1.9zM253.5 840.0h1.9v1.9h-1.9zM285.3 840.9h1.9v1.9h-1.9zM267.4 839.6h1.9v1.9h-1.9zM268.7 843.0h1.9v1.9h-1.9zM269.3 834.6h1.9v1.9h-1.9zM267.7 842.8h1.9v1.9h-1.9zM249.9 848.7h1.9v1.9h-1.9zM268.9 854.6h1.9v1.9h-1.9zM251.5 847.7h1.9v1.9h-1.9zM242.2 841.3h1.9v1.9h-1.9zM258.7 845.6h1.9v1.9h-1.9zM259.9 845.8h1.9v1.9h-1.9zM269.5 836.4h1.9v1.9h-1.9zM266.6 827.6h1.9v1.9h-1.9zM268.0 852.0h1.9v1.9h-1.9zM265.2 846.3h1.9v1.9h-1.9zM262.6 840.2h1.9v1.9h-1.9zM276.0 830.0h1.9v1.9h-1.9zM271.3 846.5h1.9v1.9h-1.9zM256.9 854.3h1.9v1.9h-1.9zM258.3 839.1h1.9v1.9h-1.9zM256.8 855.7h1.9v1.9h-1.9zM257.2 849.9h1.9v1.9h-1.9zM269.4 845.1h1.9v1.9h-1.9zM248.9 839.9h1.9v1.9h-1.9zM242.0 864.3h1.9v1.9h-1.9zM258.8 846.3h1.9v1.9h-1.9zM264.7 851.7h1.9v1.9h-1.9zM260.4 849.8h1.9v1.9h-1.9zM254.4 845.6h1.9v1.9h-1.9zM283.5 847.3h1.9v1.9h-1.9zM271.0 846.5h1.9v1.9h-1.9zM255.9 839.5h1.9v1.9h-1.9zM266.3 842.7h1.9v1.9h-1.9zM272.5 838.8h1.9v1.9h-1.9zM255.7 856.5h1.9v1.9h-1.9zM280.6 843.0h1.9v1.9h-1.9zM268.3 835.6h1.9v1.9h-1.9zM268.0 830.0h1.9v1.9h-1.9zM271.1 845.5h1.9v1.9h-1.9zM250.2 834.9h1.9v1.9h-1.9zM268.9 831.7h1.9v1.9h-1.9zM245.6 828.1h1.9v1.9h-1.9zM263.2 852.8h1.9v1.9h-1.9zM262.2 860.2h1.9v1.9h-1.9zM277.0 832.8h1.9v1.9h-1.9zM267.8 837.0h1.9v1.9h-1.9zM250.2 854.4h1.9v1.9h-1.9zM270.1 830.7h1.9v1.9h-1.9zM274.8 862.0h1.9v1.9h-1.9zM252.0 850.0h1.9v1.9h-1.9zM262.1 837.1h1.9v1.9h-1.9zM277.9 835.8h1.9v1.9h-1.9zM253.7 850.7h1.9v1.9h-1.9zM277.9 828.5h1.9v1.9h-1.9zM260.3 844.3h1.9v1.9h-1.9zM251.6 846.4h1.9v1.9h-1.9zM261.5 849.3h1.9v1.9h-1.9zM251.4 826.1h1.9v1.9h-1.9zM254.2 833.0h1.9v1.9h-1.9zM253.6 830.6h1.9v1.9h-1.9zM268.7 846.0h1.9v1.9h-1.9zM265.4 829.7h1.9v1.9h-1.9zM245.2 833.4h1.9v1.9h-1.9zM257.0 855.5h1.9v1.9h-1.9zM272.2 839.9h1.9v1.9h-1.9zM265.6 834.5h1.9v1.9h-1.9zM265.6 845.5h1.9v1.9h-1.9zM285.4 843.6h1.9v1.9h-1.9z" fill="#a8f000"/>
<path d="M253.1 843.3h1.9v1.9h-1.9zM271.1 848.9h1.9v1.9h-1.9zM269.8 851.2h1.9v1.9h-1.9zM279.7 855.7h1.9v1.9h-1.9zM272.7 860.4h1.9v1.9h-1.9zM268.8 855.1h1.9v1.9h-1.9zM252.1 853.1h1.9v1.9h-1.9zM269.9 858.7h1.9v1.9h-1.9zM254.7 848.0h1.9v1.9h-1.9zM248.2 875.7h1.9v1.9h-1.9zM261.7 841.4h1.9v1.9h-1.9zM278.4 837.6h1.9v1.9h-1.9zM298.4 838.3h1.9v1.9h-1.9zM272.5 860.4h1.9v1.9h-1.9zM255.1 855.5h1.9v1.9h-1.9zM279.6 863.9h1.9v1.9h-1.9zM262.6 849.9h1.9v1.9h-1.9zM255.2 857.5h1.9v1.9h-1.9zM244.4 850.1h1.9v1.9h-1.9zM285.6 847.4h1.9v1.9h-1.9zM261.8 841.7h1.9v1.9h-1.9zM279.8 858.4h1.9v1.9h-1.9zM266.8 858.8h1.9v1.9h-1.9zM274.0 843.9h1.9v1.9h-1.9zM281.3 835.0h1.9v1.9h-1.9zM276.4 855.0h1.9v1.9h-1.9zM262.6 855.0h1.9v1.9h-1.9zM257.1 856.0h1.9v1.9h-1.9zM252.6 867.6h1.9v1.9h-1.9zM274.7 846.8h1.9v1.9h-1.9zM244.2 857.5h1.9v1.9h-1.9zM280.0 853.6h1.9v1.9h-1.9zM257.5 848.6h1.9v1.9h-1.9zM279.7 848.3h1.9v1.9h-1.9zM273.3 861.4h1.9v1.9h-1.9zM245.4 853.2h1.9v1.9h-1.9zM267.4 832.5h1.9v1.9h-1.9zM268.0 855.3h1.9v1.9h-1.9zM280.4 843.8h1.9v1.9h-1.9zM267.2 848.7h1.9v1.9h-1.9zM269.1 848.6h1.9v1.9h-1.9zM277.0 844.8h1.9v1.9h-1.9zM272.1 854.7h1.9v1.9h-1.9zM280.7 866.4h1.9v1.9h-1.9zM265.8 850.1h1.9v1.9h-1.9zM278.4 857.8h1.9v1.9h-1.9zM289.5 848.9h1.9v1.9h-1.9zM264.5 855.6h1.9v1.9h-1.9zM256.6 861.4h1.9v1.9h-1.9zM270.3 856.8h1.9v1.9h-1.9zM257.8 863.6h1.9v1.9h-1.9zM269.7 849.1h1.9v1.9h-1.9zM278.5 867.6h1.9v1.9h-1.9zM242.5 855.2h1.9v1.9h-1.9zM257.8 836.7h1.9v1.9h-1.9zM261.4 847.7h1.9v1.9h-1.9zM283.9 855.8h1.9v1.9h-1.9zM259.6 843.3h1.9v1.9h-1.9zM260.5 841.4h1.9v1.9h-1.9zM278.7 840.5h1.9v1.9h-1.9zM272.8 847.9h1.9v1.9h-1.9zM279.3 846.1h1.9v1.9h-1.9zM256.7 859.7h1.9v1.9h-1.9zM252.4 869.1h1.9v1.9h-1.9zM258.6 865.4h1.9v1.9h-1.9zM278.7 838.5h1.9v1.9h-1.9zM281.2 840.1h1.9v1.9h-1.9zM265.6 845.3h1.9v1.9h-1.9zM258.2 851.7h1.9v1.9h-1.9zM253.1 842.8h1.9v1.9h-1.9zM274.3 851.5h1.9v1.9h-1.9zM247.5 845.5h1.9v1.9h-1.9zM250.6 855.1h1.9v1.9h-1.9zM272.2 851.3h1.9v1.9h-1.9zM244.4 862.2h1.9v1.9h-1.9zM275.1 845.0h1.9v1.9h-1.9zM269.5 834.6h1.9v1.9h-1.9zM259.0 861.4h1.9v1.9h-1.9zM266.2 864.2h1.9v1.9h-1.9zM268.4 853.0h1.9v1.9h-1.9zM282.5 852.9h1.9v1.9h-1.9zM264.9 859.3h1.9v1.9h-1.9zM236.9 854.5h1.9v1.9h-1.9zM280.5 842.7h1.9v1.9h-1.9zM275.8 851.1h1.9v1.9h-1.9zM245.6 868.5h1.9v1.9h-1.9zM268.9 841.8h1.9v1.9h-1.9zM289.6 843.7h1.9v1.9h-1.9zM261.3 855.6h1.9v1.9h-1.9zM273.9 859.2h1.9v1.9h-1.9zM267.3 840.4h1.9v1.9h-1.9zM283.1 851.1h1.9v1.9h-1.9zM278.6 850.7h1.9v1.9h-1.9zM256.4 864.0h1.9v1.9h-1.9zM255.0 850.4h1.9v1.9h-1.9zM247.5 859.0h1.9v1.9h-1.9zM251.1 850.5h1.9v1.9h-1.9zM267.4 858.6h1.9v1.9h-1.9zM260.8 860.1h1.9v1.9h-1.9zM270.3 855.5h1.9v1.9h-1.9zM272.8 866.0h1.9v1.9h-1.9zM284.4 856.0h1.9v1.9h-1.9zM262.6 849.4h1.9v1.9h-1.9zM273.9 854.7h1.9v1.9h-1.9zM274.7 850.8h1.9v1.9h-1.9zM260.5 862.5h1.9v1.9h-1.9zM256.8 841.3h1.9v1.9h-1.9zM265.9 852.8h1.9v1.9h-1.9zM271.0 857.7h1.9v1.9h-1.9zM278.4 858.4h1.9v1.9h-1.9zM293.8 830.0h1.9v1.9h-1.9zM260.2 872.5h1.9v1.9h-1.9zM279.7 859.7h1.9v1.9h-1.9zM268.1 863.4h1.9v1.9h-1.9zM265.6 845.6h1.9v1.9h-1.9zM264.6 848.0h1.9v1.9h-1.9zM258.8 854.3h1.9v1.9h-1.9zM264.8 863.6h1.9v1.9h-1.9zM288.8 842.1h1.9v1.9h-1.9zM274.9 851.8h1.9v1.9h-1.9zM256.6 864.8h1.9v1.9h-1.9zM277.3 838.7h1.9v1.9h-1.9zM265.1 840.8h1.9v1.9h-1.9zM254.6 836.2h1.9v1.9h-1.9zM263.1 835.5h1.9v1.9h-1.9zM275.6 852.5h1.9v1.9h-1.9zM261.8 834.3h1.9v1.9h-1.9zM266.9 830.4h1.9v1.9h-1.9zM281.8 854.2h1.9v1.9h-1.9zM282.0 851.4h1.9v1.9h-1.9zM262.0 845.8h1.9v1.9h-1.9zM268.7 853.2h1.9v1.9h-1.9zM253.1 852.9h1.9v1.9h-1.9zM286.8 850.8h1.9v1.9h-1.9zM284.0 857.2h1.9v1.9h-1.9zM270.5 837.0h1.9v1.9h-1.9zM292.5 838.4h1.9v1.9h-1.9zM266.1 858.0h1.9v1.9h-1.9zM270.7 868.7h1.9v1.9h-1.9zM271.8 852.9h1.9v1.9h-1.9zM261.5 850.2h1.9v1.9h-1.9zM257.7 862.8h1.9v1.9h-1.9zM282.3 857.2h1.9v1.9h-1.9zM273.1 841.2h1.9v1.9h-1.9zM261.6 854.5h1.9v1.9h-1.9zM295.3 843.5h1.9v1.9h-1.9zM268.9 851.4h1.9v1.9h-1.9zM253.9 851.5h1.9v1.9h-1.9zM254.5 866.4h1.9v1.9h-1.9zM268.0 871.1h1.9v1.9h-1.9zM258.5 856.6h1.9v1.9h-1.9zM278.7 859.3h1.9v1.9h-1.9zM265.0 853.4h1.9v1.9h-1.9zM274.2 850.4h1.9v1.9h-1.9zM266.0 845.1h1.9v1.9h-1.9zM252.8 852.7h1.9v1.9h-1.9zM240.0 863.9h1.9v1.9h-1.9zM262.7 848.5h1.9v1.9h-1.9zM271.8 851.0h1.9v1.9h-1.9zM270.1 828.9h1.9v1.9h-1.9zM271.8 837.5h1.9v1.9h-1.9zM258.9 849.7h1.9v1.9h-1.9zM261.7 853.3h1.9v1.9h-1.9zM243.9 848.3h1.9v1.9h-1.9zM264.1 847.4h1.9v1.9h-1.9zM284.3 859.5h1.9v1.9h-1.9zM276.1 858.4h1.9v1.9h-1.9zM273.2 841.2h1.9v1.9h-1.9zM261.8 846.7h1.9v1.9h-1.9zM245.3 868.6h1.9v1.9h-1.9zM279.9 846.3h1.9v1.9h-1.9zM272.1 845.4h1.9v1.9h-1.9zM273.1 847.5h1.9v1.9h-1.9zM284.9 861.8h1.9v1.9h-1.9zM271.7 863.7h1.9v1.9h-1.9zM263.3 857.1h1.9v1.9h-1.9zM252.4 851.8h1.9v1.9h-1.9zM264.1 856.3h1.9v1.9h-1.9zM259.6 855.1h1.9v1.9h-1.9zM260.0 840.4h1.9v1.9h-1.9zM269.8 856.9h1.9v1.9h-1.9zM273.0 832.4h1.9v1.9h-1.9zM278.4 846.0h1.9v1.9h-1.9zM260.4 843.6h1.9v1.9h-1.9zM272.3 839.5h1.9v1.9h-1.9zM277.4 842.9h1.9v1.9h-1.9zM275.3 869.3h1.9v1.9h-1.9zM272.6 850.5h1.9v1.9h-1.9zM273.8 846.9h1.9v1.9h-1.9zM268.2 846.1h1.9v1.9h-1.9zM263.7 855.0h1.9v1.9h-1.9zM263.9 847.1h1.9v1.9h-1.9zM267.3 873.4h1.9v1.9h-1.9zM266.6 849.8h1.9v1.9h-1.9zM237.0 862.2h1.9v1.9h-1.9zM265.8 846.1h1.9v1.9h-1.9zM266.1 860.7h1.9v1.9h-1.9zM269.5 857.9h1.9v1.9h-1.9zM283.1 842.2h1.9v1.9h-1.9zM278.2 845.8h1.9v1.9h-1.9zM258.0 866.5h1.9v1.9h-1.9zM253.4 865.0h1.9v1.9h-1.9zM269.3 841.0h1.9v1.9h-1.9zM263.6 847.5h1.9v1.9h-1.9zM261.7 851.8h1.9v1.9h-1.9zM279.9 852.2h1.9v1.9h-1.9zM258.9 856.1h1.9v1.9h-1.9zM260.2 838.5h1.9v1.9h-1.9zM269.6 842.6h1.9v1.9h-1.9zM267.1 847.4h1.9v1.9h-1.9zM279.0 847.4h1.9v1.9h-1.9zM285.1 839.2h1.9v1.9h-1.9zM272.8 844.2h1.9v1.9h-1.9zM272.2 855.4h1.9v1.9h-1.9zM274.3 845.2h1.9v1.9h-1.9zM284.9 853.9h1.9v1.9h-1.9zM257.0 861.8h1.9v1.9h-1.9zM266.6 859.3h1.9v1.9h-1.9zM269.8 854.9h1.9v1.9h-1.9zM276.2 840.3h1.9v1.9h-1.9zM286.9 850.0h1.9v1.9h-1.9zM252.9 845.6h1.9v1.9h-1.9zM249.1 857.7h1.9v1.9h-1.9zM259.2 850.3h1.9v1.9h-1.9zM284.6 846.1h1.9v1.9h-1.9zM262.6 849.4h1.9v1.9h-1.9zM270.8 854.5h1.9v1.9h-1.9zM260.1 848.7h1.9v1.9h-1.9zM257.6 848.9h1.9v1.9h-1.9zM280.6 860.6h1.9v1.9h-1.9zM267.0 843.0h1.9v1.9h-1.9zM259.1 867.5h1.9v1.9h-1.9zM279.0 856.9h1.9v1.9h-1.9zM268.4 864.6h1.9v1.9h-1.9zM250.4 857.5h1.9v1.9h-1.9zM262.9 849.5h1.9v1.9h-1.9zM263.0 849.6h1.9v1.9h-1.9zM285.0 850.8h1.9v1.9h-1.9zM250.2 860.1h1.9v1.9h-1.9zM239.9 861.9h1.9v1.9h-1.9zM254.5 855.4h1.9v1.9h-1.9zM266.6 844.1h1.9v1.9h-1.9zM257.9 834.8h1.9v1.9h-1.9zM269.9 845.4h1.9v1.9h-1.9zM261.9 856.1h1.9v1.9h-1.9zM264.5 832.2h1.9v1.9h-1.9zM253.3 850.6h1.9v1.9h-1.9zM257.9 851.6h1.9v1.9h-1.9zM264.3 852.4h1.9v1.9h-1.9zM270.2 844.2h1.9v1.9h-1.9zM287.0 845.7h1.9v1.9h-1.9zM272.6 853.1h1.9v1.9h-1.9zM272.0 866.5h1.9v1.9h-1.9zM259.4 859.9h1.9v1.9h-1.9zM269.3 838.1h1.9v1.9h-1.9zM247.4 842.2h1.9v1.9h-1.9zM279.0 842.7h1.9v1.9h-1.9zM266.7 853.3h1.9v1.9h-1.9zM271.1 858.7h1.9v1.9h-1.9zM259.2 846.4h1.9v1.9h-1.9zM267.2 856.0h1.9v1.9h-1.9zM260.4 873.1h1.9v1.9h-1.9zM281.1 835.5h1.9v1.9h-1.9zM260.5 853.0h1.9v1.9h-1.9zM271.5 846.4h1.9v1.9h-1.9zM273.8 842.6h1.9v1.9h-1.9zM277.1 851.0h1.9v1.9h-1.9zM265.8 849.7h1.9v1.9h-1.9zM271.2 843.9h1.9v1.9h-1.9zM264.3 862.6h1.9v1.9h-1.9zM280.6 864.2h1.9v1.9h-1.9zM284.3 836.3h1.9v1.9h-1.9zM258.6 861.9h1.9v1.9h-1.9zM285.1 851.7h1.9v1.9h-1.9zM260.6 849.8h1.9v1.9h-1.9zM268.9 846.9h1.9v1.9h-1.9zM271.6 850.1h1.9v1.9h-1.9zM246.4 853.5h1.9v1.9h-1.9zM266.3 842.2h1.9v1.9h-1.9zM258.7 846.4h1.9v1.9h-1.9zM263.2 841.4h1.9v1.9h-1.9zM249.9 853.7h1.9v1.9h-1.9zM265.2 856.8h1.9v1.9h-1.9zM276.9 851.8h1.9v1.9h-1.9zM267.4 837.0h1.9v1.9h-1.9zM261.4 863.8h1.9v1.9h-1.9zM279.6 849.6h1.9v1.9h-1.9zM271.1 852.2h1.9v1.9h-1.9zM268.3 852.6h1.9v1.9h-1.9zM275.8 857.4h1.9v1.9h-1.9zM272.6 851.7h1.9v1.9h-1.9zM274.6 846.2h1.9v1.9h-1.9zM270.3 845.3h1.9v1.9h-1.9zM279.3 834.1h1.9v1.9h-1.9zM260.8 842.3h1.9v1.9h-1.9zM250.8 840.3h1.9v1.9h-1.9zM260.4 862.5h1.9v1.9h-1.9zM250.4 862.9h1.9v1.9h-1.9zM264.9 863.9h1.9v1.9h-1.9zM284.8 862.0h1.9v1.9h-1.9zM258.5 855.2h1.9v1.9h-1.9zM257.0 847.4h1.9v1.9h-1.9zM279.5 852.9h1.9v1.9h-1.9zM260.7 848.2h1.9v1.9h-1.9zM275.1 872.1h1.9v1.9h-1.9zM278.4 839.8h1.9v1.9h-1.9zM262.0 865.3h1.9v1.9h-1.9zM251.7 865.8h1.9v1.9h-1.9zM280.3 849.6h1.9v1.9h-1.9zM256.2 866.0h1.9v1.9h-1.9zM253.6 832.7h1.9v1.9h-1.9zM284.4 850.7h1.9v1.9h-1.9zM261.8 841.3h1.9v1.9h-1.9zM281.0 869.0h1.9v1.9h-1.9zM265.9 841.9h1.9v1.9h-1.9zM252.1 871.5h1.9v1.9h-1.9zM267.2 859.6h1.9v1.9h-1.9zM263.3 847.7h1.9v1.9h-1.9zM252.2 864.7h1.9v1.9h-1.9zM255.5 862.8h1.9v1.9h-1.9zM273.2 851.0h1.9v1.9h-1.9zM266.3 856.8h1.9v1.9h-1.9zM280.7 837.0h1.9v1.9h-1.9zM269.6 854.9h1.9v1.9h-1.9zM265.5 841.3h1.9v1.9h-1.9zM263.4 847.0h1.9v1.9h-1.9zM271.4 846.4h1.9v1.9h-1.9zM252.7 851.2h1.9v1.9h-1.9z" fill="#50ec0a"/>
<path d="M270.7 854.6h1.9v1.9h-1.9zM262.6 875.0h1.9v1.9h-1.9zM273.2 869.5h1.9v1.9h-1.9zM265.4 859.4h1.9v1.9h-1.9zM287.0 850.8h1.9v1.9h-1.9zM279.7 867.3h1.9v1.9h-1.9zM281.7 873.9h1.9v1.9h-1.9zM290.8 852.7h1.9v1.9h-1.9zM242.7 865.8h1.9v1.9h-1.9zM279.1 851.3h1.9v1.9h-1.9zM272.2 871.8h1.9v1.9h-1.9zM278.1 866.4h1.9v1.9h-1.9zM281.4 864.2h1.9v1.9h-1.9zM270.0 869.8h1.9v1.9h-1.9zM272.5 858.0h1.9v1.9h-1.9zM272.6 848.0h1.9v1.9h-1.9zM286.6 870.0h1.9v1.9h-1.9zM281.9 865.2h1.9v1.9h-1.9zM283.8 864.0h1.9v1.9h-1.9zM293.4 856.9h1.9v1.9h-1.9zM293.2 845.3h1.9v1.9h-1.9zM274.3 866.7h1.9v1.9h-1.9zM263.2 869.5h1.9v1.9h-1.9zM271.4 847.2h1.9v1.9h-1.9zM264.5 870.2h1.9v1.9h-1.9zM260.5 858.9h1.9v1.9h-1.9zM283.8 872.8h1.9v1.9h-1.9zM271.1 861.6h1.9v1.9h-1.9zM264.6 861.6h1.9v1.9h-1.9zM265.9 855.4h1.9v1.9h-1.9zM273.9 868.8h1.9v1.9h-1.9zM275.9 861.8h1.9v1.9h-1.9zM271.6 873.8h1.9v1.9h-1.9zM268.9 866.5h1.9v1.9h-1.9zM269.1 864.2h1.9v1.9h-1.9zM291.5 855.7h1.9v1.9h-1.9zM279.2 852.3h1.9v1.9h-1.9zM262.3 866.3h1.9v1.9h-1.9zM266.5 857.1h1.9v1.9h-1.9zM260.0 855.8h1.9v1.9h-1.9zM284.4 849.1h1.9v1.9h-1.9zM277.0 872.3h1.9v1.9h-1.9zM284.5 849.8h1.9v1.9h-1.9zM272.0 865.7h1.9v1.9h-1.9zM269.0 869.4h1.9v1.9h-1.9zM286.9 864.1h1.9v1.9h-1.9zM280.1 860.7h1.9v1.9h-1.9zM267.5 869.7h1.9v1.9h-1.9zM276.6 854.1h1.9v1.9h-1.9zM272.9 856.2h1.9v1.9h-1.9zM266.5 851.2h1.9v1.9h-1.9zM274.0 857.9h1.9v1.9h-1.9zM282.3 851.7h1.9v1.9h-1.9zM271.2 867.5h1.9v1.9h-1.9zM277.6 863.8h1.9v1.9h-1.9zM276.7 865.8h1.9v1.9h-1.9zM269.1 855.7h1.9v1.9h-1.9zM268.1 853.5h1.9v1.9h-1.9zM262.6 873.5h1.9v1.9h-1.9zM274.6 844.6h1.9v1.9h-1.9zM269.4 856.0h1.9v1.9h-1.9zM274.8 852.2h1.9v1.9h-1.9zM289.2 854.5h1.9v1.9h-1.9zM263.9 862.2h1.9v1.9h-1.9zM251.9 873.1h1.9v1.9h-1.9zM274.9 874.0h1.9v1.9h-1.9zM257.9 862.7h1.9v1.9h-1.9zM276.0 855.4h1.9v1.9h-1.9zM270.6 857.8h1.9v1.9h-1.9zM280.7 856.0h1.9v1.9h-1.9zM270.3 864.1h1.9v1.9h-1.9zM261.5 865.5h1.9v1.9h-1.9zM274.6 861.0h1.9v1.9h-1.9zM286.3 865.6h1.9v1.9h-1.9zM276.5 862.5h1.9v1.9h-1.9zM283.2 865.3h1.9v1.9h-1.9zM288.9 839.9h1.9v1.9h-1.9zM254.9 859.8h1.9v1.9h-1.9zM272.4 873.7h1.9v1.9h-1.9zM280.1 836.1h1.9v1.9h-1.9zM296.5 837.0h1.9v1.9h-1.9zM280.4 856.6h1.9v1.9h-1.9zM269.1 854.7h1.9v1.9h-1.9zM293.9 838.6h1.9v1.9h-1.9zM270.7 849.6h1.9v1.9h-1.9zM268.6 844.3h1.9v1.9h-1.9zM280.5 871.1h1.9v1.9h-1.9zM266.0 863.8h1.9v1.9h-1.9zM296.5 855.1h1.9v1.9h-1.9zM271.0 864.6h1.9v1.9h-1.9zM289.9 862.7h1.9v1.9h-1.9zM274.8 861.7h1.9v1.9h-1.9zM275.8 861.4h1.9v1.9h-1.9zM286.9 864.8h1.9v1.9h-1.9zM274.0 873.2h1.9v1.9h-1.9zM271.1 874.9h1.9v1.9h-1.9zM291.7 870.5h1.9v1.9h-1.9zM278.6 862.8h1.9v1.9h-1.9zM269.9 876.6h1.9v1.9h-1.9zM285.0 849.8h1.9v1.9h-1.9zM281.5 860.2h1.9v1.9h-1.9zM268.3 863.2h1.9v1.9h-1.9zM272.1 866.4h1.9v1.9h-1.9zM273.5 873.7h1.9v1.9h-1.9zM266.1 856.6h1.9v1.9h-1.9zM265.5 871.9h1.9v1.9h-1.9zM256.1 870.3h1.9v1.9h-1.9zM264.3 865.6h1.9v1.9h-1.9zM282.1 852.2h1.9v1.9h-1.9zM273.2 863.2h1.9v1.9h-1.9zM268.9 866.1h1.9v1.9h-1.9zM270.9 871.6h1.9v1.9h-1.9zM264.6 864.5h1.9v1.9h-1.9zM275.7 869.7h1.9v1.9h-1.9zM258.6 848.9h1.9v1.9h-1.9zM266.4 873.8h1.9v1.9h-1.9zM270.5 872.3h1.9v1.9h-1.9zM254.4 862.4h1.9v1.9h-1.9zM271.5 854.6h1.9v1.9h-1.9zM246.4 859.0h1.9v1.9h-1.9zM274.2 872.9h1.9v1.9h-1.9zM272.1 865.6h1.9v1.9h-1.9zM264.2 865.5h1.9v1.9h-1.9zM275.5 867.3h1.9v1.9h-1.9zM284.9 847.3h1.9v1.9h-1.9zM273.4 868.8h1.9v1.9h-1.9zM275.8 872.7h1.9v1.9h-1.9zM276.5 854.5h1.9v1.9h-1.9zM278.7 862.9h1.9v1.9h-1.9zM283.1 860.0h1.9v1.9h-1.9zM269.4 849.5h1.9v1.9h-1.9zM292.4 870.3h1.9v1.9h-1.9zM276.8 851.0h1.9v1.9h-1.9zM279.6 857.6h1.9v1.9h-1.9zM280.5 860.3h1.9v1.9h-1.9zM281.2 859.0h1.9v1.9h-1.9zM284.5 843.9h1.9v1.9h-1.9zM275.4 870.7h1.9v1.9h-1.9zM265.3 852.7h1.9v1.9h-1.9zM264.7 859.8h1.9v1.9h-1.9zM263.3 859.3h1.9v1.9h-1.9zM300.1 871.6h1.9v1.9h-1.9zM273.1 850.3h1.9v1.9h-1.9zM280.4 854.4h1.9v1.9h-1.9zM265.3 870.4h1.9v1.9h-1.9zM267.3 842.8h1.9v1.9h-1.9zM279.6 865.3h1.9v1.9h-1.9zM271.2 867.7h1.9v1.9h-1.9zM242.8 875.3h1.9v1.9h-1.9zM281.4 868.8h1.9v1.9h-1.9zM283.5 861.4h1.9v1.9h-1.9zM264.5 867.9h1.9v1.9h-1.9zM271.0 870.7h1.9v1.9h-1.9zM254.6 869.1h1.9v1.9h-1.9zM272.5 856.1h1.9v1.9h-1.9zM262.5 861.4h1.9v1.9h-1.9zM272.7 852.9h1.9v1.9h-1.9zM272.0 867.4h1.9v1.9h-1.9zM285.1 858.4h1.9v1.9h-1.9zM274.7 869.8h1.9v1.9h-1.9zM259.5 857.8h1.9v1.9h-1.9zM293.6 841.3h1.9v1.9h-1.9zM273.6 860.6h1.9v1.9h-1.9zM266.9 870.2h1.9v1.9h-1.9zM277.2 874.6h1.9v1.9h-1.9zM278.4 862.3h1.9v1.9h-1.9zM237.6 866.1h1.9v1.9h-1.9zM252.9 875.4h1.9v1.9h-1.9zM293.0 849.6h1.9v1.9h-1.9zM279.5 852.9h1.9v1.9h-1.9zM269.4 859.9h1.9v1.9h-1.9zM256.0 847.5h1.9v1.9h-1.9zM289.8 864.5h1.9v1.9h-1.9zM287.0 861.0h1.9v1.9h-1.9zM265.7 864.4h1.9v1.9h-1.9zM273.6 864.3h1.9v1.9h-1.9zM280.7 870.5h1.9v1.9h-1.9zM275.0 861.2h1.9v1.9h-1.9zM292.2 868.2h1.9v1.9h-1.9zM268.3 871.1h1.9v1.9h-1.9zM284.6 866.4h1.9v1.9h-1.9zM285.4 868.0h1.9v1.9h-1.9zM279.8 866.4h1.9v1.9h-1.9zM253.3 863.4h1.9v1.9h-1.9zM286.8 844.8h1.9v1.9h-1.9zM259.6 873.4h1.9v1.9h-1.9zM270.1 874.4h1.9v1.9h-1.9zM275.7 849.1h1.9v1.9h-1.9zM268.9 849.3h1.9v1.9h-1.9zM260.8 857.4h1.9v1.9h-1.9zM273.4 866.7h1.9v1.9h-1.9zM263.5 865.2h1.9v1.9h-1.9zM276.4 866.2h1.9v1.9h-1.9zM270.5 869.6h1.9v1.9h-1.9zM288.8 867.1h1.9v1.9h-1.9zM279.5 844.4h1.9v1.9h-1.9zM285.3 859.8h1.9v1.9h-1.9zM267.5 866.4h1.9v1.9h-1.9zM279.1 845.1h1.9v1.9h-1.9zM282.0 860.2h1.9v1.9h-1.9zM257.2 858.6h1.9v1.9h-1.9zM270.3 869.3h1.9v1.9h-1.9zM271.8 863.2h1.9v1.9h-1.9zM254.9 870.0h1.9v1.9h-1.9zM298.6 860.3h1.9v1.9h-1.9zM269.9 855.8h1.9v1.9h-1.9zM260.0 870.7h1.9v1.9h-1.9zM283.6 859.8h1.9v1.9h-1.9zM271.6 853.5h1.9v1.9h-1.9zM290.7 863.4h1.9v1.9h-1.9zM267.1 862.5h1.9v1.9h-1.9zM279.1 857.0h1.9v1.9h-1.9zM274.3 858.7h1.9v1.9h-1.9zM258.0 867.3h1.9v1.9h-1.9zM279.9 868.3h1.9v1.9h-1.9zM285.5 850.8h1.9v1.9h-1.9zM284.3 858.8h1.9v1.9h-1.9zM261.4 861.0h1.9v1.9h-1.9zM280.5 856.8h1.9v1.9h-1.9zM261.1 869.8h1.9v1.9h-1.9zM267.5 876.3h1.9v1.9h-1.9zM290.3 852.1h1.9v1.9h-1.9zM271.0 848.9h1.9v1.9h-1.9zM258.3 876.4h1.9v1.9h-1.9zM258.3 871.3h1.9v1.9h-1.9zM289.8 850.4h1.9v1.9h-1.9zM283.7 849.1h1.9v1.9h-1.9zM274.9 871.9h1.9v1.9h-1.9zM256.3 858.3h1.9v1.9h-1.9zM267.8 853.9h1.9v1.9h-1.9zM260.5 871.8h1.9v1.9h-1.9zM278.7 859.5h1.9v1.9h-1.9zM308.5 847.8h1.9v1.9h-1.9zM296.3 864.7h1.9v1.9h-1.9zM284.1 855.0h1.9v1.9h-1.9zM277.9 854.5h1.9v1.9h-1.9zM286.8 871.1h1.9v1.9h-1.9zM270.1 840.7h1.9v1.9h-1.9zM285.0 866.1h1.9v1.9h-1.9zM250.6 866.8h1.9v1.9h-1.9zM267.4 862.6h1.9v1.9h-1.9zM279.6 856.7h1.9v1.9h-1.9zM260.0 866.7h1.9v1.9h-1.9zM256.7 866.0h1.9v1.9h-1.9zM252.3 873.8h1.9v1.9h-1.9zM266.3 871.4h1.9v1.9h-1.9zM279.5 864.4h1.9v1.9h-1.9zM276.2 870.9h1.9v1.9h-1.9zM277.3 849.3h1.9v1.9h-1.9zM268.2 865.4h1.9v1.9h-1.9zM280.3 867.0h1.9v1.9h-1.9zM279.8 851.9h1.9v1.9h-1.9zM270.1 865.9h1.9v1.9h-1.9zM262.4 870.4h1.9v1.9h-1.9zM257.8 867.8h1.9v1.9h-1.9zM261.5 860.1h1.9v1.9h-1.9zM271.6 865.1h1.9v1.9h-1.9zM276.3 860.4h1.9v1.9h-1.9zM276.0 858.5h1.9v1.9h-1.9zM269.3 858.1h1.9v1.9h-1.9zM266.6 864.9h1.9v1.9h-1.9zM271.7 874.4h1.9v1.9h-1.9zM275.9 869.5h1.9v1.9h-1.9zM279.3 859.8h1.9v1.9h-1.9zM273.4 870.0h1.9v1.9h-1.9zM292.9 847.7h1.9v1.9h-1.9zM271.6 867.1h1.9v1.9h-1.9zM282.7 848.0h1.9v1.9h-1.9zM271.2 833.7h1.9v1.9h-1.9zM268.6 864.3h1.9v1.9h-1.9zM278.0 855.4h1.9v1.9h-1.9zM269.0 867.5h1.9v1.9h-1.9zM274.5 854.5h1.9v1.9h-1.9zM278.3 853.2h1.9v1.9h-1.9zM269.1 878.5h1.9v1.9h-1.9z" fill="#14d214"/>
<path d="M297.3 864.9h1.9v1.9h-1.9zM307.6 857.0h1.9v1.9h-1.9zM300.3 873.3h1.9v1.9h-1.9zM288.5 857.8h1.9v1.9h-1.9zM271.2 862.4h1.9v1.9h-1.9zM284.3 873.5h1.9v1.9h-1.9zM284.1 864.1h1.9v1.9h-1.9zM277.5 879.4h1.9v1.9h-1.9zM286.0 873.2h1.9v1.9h-1.9zM266.4 871.1h1.9v1.9h-1.9zM283.0 856.1h1.9v1.9h-1.9zM272.6 874.4h1.9v1.9h-1.9zM283.3 856.4h1.9v1.9h-1.9zM299.5 842.3h1.9v1.9h-1.9zM280.2 864.5h1.9v1.9h-1.9zM268.9 878.4h1.9v1.9h-1.9zM259.4 876.5h1.9v1.9h-1.9zM290.5 868.4h1.9v1.9h-1.9zM266.9 877.8h1.9v1.9h-1.9zM284.3 868.3h1.9v1.9h-1.9zM264.6 872.5h1.9v1.9h-1.9zM273.9 868.2h1.9v1.9h-1.9zM267.2 867.5h1.9v1.9h-1.9zM316.8 859.4h1.9v1.9h-1.9zM273.5 876.6h1.9v1.9h-1.9zM274.5 876.3h1.9v1.9h-1.9zM290.4 869.6h1.9v1.9h-1.9zM275.2 864.5h1.9v1.9h-1.9zM260.9 879.1h1.9v1.9h-1.9zM262.9 862.1h1.9v1.9h-1.9zM268.8 870.5h1.9v1.9h-1.9zM287.1 869.2h1.9v1.9h-1.9zM282.5 859.1h1.9v1.9h-1.9zM290.3 877.8h1.9v1.9h-1.9zM258.1 883.4h1.9v1.9h-1.9zM271.5 874.5h1.9v1.9h-1.9zM267.9 859.3h1.9v1.9h-1.9zM264.5 878.6h1.9v1.9h-1.9zM282.7 866.8h1.9v1.9h-1.9zM269.2 873.9h1.9v1.9h-1.9zM285.0 875.4h1.9v1.9h-1.9zM256.1 872.4h1.9v1.9h-1.9zM281.6 853.1h1.9v1.9h-1.9zM284.6 863.4h1.9v1.9h-1.9zM279.9 869.6h1.9v1.9h-1.9zM285.5 873.9h1.9v1.9h-1.9zM272.5 872.7h1.9v1.9h-1.9zM294.2 871.9h1.9v1.9h-1.9zM277.1 869.5h1.9v1.9h-1.9zM287.3 858.5h1.9v1.9h-1.9zM261.4 872.8h1.9v1.9h-1.9zM259.6 874.1h1.9v1.9h-1.9zM267.5 859.2h1.9v1.9h-1.9zM250.7 876.1h1.9v1.9h-1.9zM275.1 867.1h1.9v1.9h-1.9zM293.7 870.4h1.9v1.9h-1.9zM270.8 863.5h1.9v1.9h-1.9zM271.9 872.6h1.9v1.9h-1.9zM269.3 877.3h1.9v1.9h-1.9zM288.0 868.7h1.9v1.9h-1.9zM289.0 876.9h1.9v1.9h-1.9zM286.7 870.5h1.9v1.9h-1.9zM266.0 866.8h1.9v1.9h-1.9zM270.6 876.0h1.9v1.9h-1.9zM270.0 876.2h1.9v1.9h-1.9zM277.5 871.1h1.9v1.9h-1.9zM287.5 869.3h1.9v1.9h-1.9zM270.6 870.7h1.9v1.9h-1.9zM291.8 861.1h1.9v1.9h-1.9zM267.4 881.0h1.9v1.9h-1.9zM285.9 860.3h1.9v1.9h-1.9zM281.7 866.7h1.9v1.9h-1.9zM266.3 862.0h1.9v1.9h-1.9zM287.4 866.1h1.9v1.9h-1.9zM256.4 870.3h1.9v1.9h-1.9zM276.3 871.8h1.9v1.9h-1.9zM292.3 864.7h1.9v1.9h-1.9zM283.3 870.1h1.9v1.9h-1.9zM276.9 867.3h1.9v1.9h-1.9zM259.1 874.8h1.9v1.9h-1.9zM282.8 871.0h1.9v1.9h-1.9zM286.7 858.7h1.9v1.9h-1.9zM262.9 876.5h1.9v1.9h-1.9zM282.9 875.7h1.9v1.9h-1.9zM285.3 868.2h1.9v1.9h-1.9zM263.7 874.1h1.9v1.9h-1.9zM285.8 867.0h1.9v1.9h-1.9zM300.1 848.5h1.9v1.9h-1.9zM275.6 870.7h1.9v1.9h-1.9zM286.4 864.6h1.9v1.9h-1.9zM292.4 873.2h1.9v1.9h-1.9zM281.8 876.0h1.9v1.9h-1.9zM269.3 874.9h1.9v1.9h-1.9zM272.0 857.5h1.9v1.9h-1.9zM287.8 868.3h1.9v1.9h-1.9zM283.7 873.0h1.9v1.9h-1.9zM284.3 873.4h1.9v1.9h-1.9zM294.0 867.2h1.9v1.9h-1.9zM283.7 872.1h1.9v1.9h-1.9zM299.6 863.3h1.9v1.9h-1.9zM277.7 875.7h1.9v1.9h-1.9zM290.6 861.0h1.9v1.9h-1.9zM284.9 860.8h1.9v1.9h-1.9zM278.7 877.6h1.9v1.9h-1.9zM288.1 860.5h1.9v1.9h-1.9zM289.2 860.7h1.9v1.9h-1.9zM273.4 866.6h1.9v1.9h-1.9zM267.7 874.8h1.9v1.9h-1.9zM273.7 863.0h1.9v1.9h-1.9zM269.5 874.4h1.9v1.9h-1.9zM290.3 870.6h1.9v1.9h-1.9zM277.6 873.1h1.9v1.9h-1.9zM261.5 877.7h1.9v1.9h-1.9zM281.9 867.7h1.9v1.9h-1.9zM277.0 874.9h1.9v1.9h-1.9zM267.8 865.2h1.9v1.9h-1.9zM282.6 867.7h1.9v1.9h-1.9zM271.1 877.8h1.9v1.9h-1.9zM298.0 865.2h1.9v1.9h-1.9zM262.4 868.2h1.9v1.9h-1.9zM288.4 873.9h1.9v1.9h-1.9zM302.0 876.0h1.9v1.9h-1.9zM293.8 877.7h1.9v1.9h-1.9zM264.8 874.3h1.9v1.9h-1.9zM292.0 868.2h1.9v1.9h-1.9zM266.9 875.2h1.9v1.9h-1.9zM271.1 874.6h1.9v1.9h-1.9zM291.2 868.0h1.9v1.9h-1.9zM268.9 877.2h1.9v1.9h-1.9z" fill="#12b446"/>
<path d="M290.4 858.7h1.9v1.9h-1.9zM262.8 879.3h1.9v1.9h-1.9zM251.1 876.2h1.9v1.9h-1.9zM273.7 878.9h1.9v1.9h-1.9zM253.8 879.5h1.9v1.9h-1.9zM268.8 882.7h1.9v1.9h-1.9zM264.9 880.9h1.9v1.9h-1.9zM300.3 856.9h1.9v1.9h-1.9zM293.8 874.9h1.9v1.9h-1.9zM288.3 879.1h1.9v1.9h-1.9zM289.4 872.5h1.9v1.9h-1.9zM287.1 868.7h1.9v1.9h-1.9zM283.1 880.3h1.9v1.9h-1.9zM291.4 876.1h1.9v1.9h-1.9zM290.2 867.1h1.9v1.9h-1.9zM277.7 876.7h1.9v1.9h-1.9zM272.4 872.9h1.9v1.9h-1.9zM309.6 864.5h1.9v1.9h-1.9zM272.4 877.3h1.9v1.9h-1.9zM276.0 876.1h1.9v1.9h-1.9zM281.8 864.4h1.9v1.9h-1.9zM287.6 868.5h1.9v1.9h-1.9zM294.6 875.3h1.9v1.9h-1.9zM275.3 879.9h1.9v1.9h-1.9zM299.6 855.7h1.9v1.9h-1.9zM279.4 877.8h1.9v1.9h-1.9zM286.2 871.3h1.9v1.9h-1.9zM276.7 881.9h1.9v1.9h-1.9zM276.2 877.4h1.9v1.9h-1.9zM301.2 874.8h1.9v1.9h-1.9zM312.2 865.8h1.9v1.9h-1.9zM288.3 872.0h1.9v1.9h-1.9zM295.9 859.2h1.9v1.9h-1.9zM284.6 870.8h1.9v1.9h-1.9zM274.3 883.6h1.9v1.9h-1.9zM255.3 881.5h1.9v1.9h-1.9z" fill="#168a90"/>
<path d="M276.7 879.7h1.9v1.9h-1.9zM299.5 879.5h1.9v1.9h-1.9zM263.0 884.3h1.9v1.9h-1.9zM287.1 883.0h1.9v1.9h-1.9zM279.9 881.2h1.9v1.9h-1.9zM260.0 884.8h1.9v1.9h-1.9zM303.4 874.2h1.9v1.9h-1.9zM275.6 884.7h1.9v1.9h-1.9zM298.3 880.1h1.9v1.9h-1.9zM272.5 879.7h1.9v1.9h-1.9zM284.0 877.2h1.9v1.9h-1.9zM259.9 882.0h1.9v1.9h-1.9zM276.8 883.4h1.9v1.9h-1.9zM270.1 889.9h1.9v1.9h-1.9zM273.7 884.5h1.9v1.9h-1.9zM275.0 886.3h1.9v1.9h-1.9zM294.0 878.5h1.9v1.9h-1.9zM283.0 883.1h1.9v1.9h-1.9zM281.1 885.9h1.9v1.9h-1.9zM271.1 880.4h1.9v1.9h-1.9zM274.9 884.9h1.9v1.9h-1.9zM287.7 874.2h1.9v1.9h-1.9zM275.1 880.9h1.9v1.9h-1.9zM310.6 879.7h1.9v1.9h-1.9zM299.1 882.4h1.9v1.9h-1.9zM285.4 881.2h1.9v1.9h-1.9zM260.0 882.7h1.9v1.9h-1.9zM281.2 878.0h1.9v1.9h-1.9zM282.3 876.8h1.9v1.9h-1.9zM270.3 881.4h1.9v1.9h-1.9z" fill="#1f58c8"/>
<path d="M300.9 878.7h1.9v1.9h-1.9zM266.6 893.2h1.9v1.9h-1.9zM293.7 888.0h1.9v1.9h-1.9zM262.8 890.6h1.9v1.9h-1.9zM270.8 895.2h1.9v1.9h-1.9zM288.4 897.5h1.9v1.9h-1.9zM284.5 894.6h1.9v1.9h-1.9zM259.6 894.4h1.9v1.9h-1.9zM260.1 892.5h1.9v1.9h-1.9zM275.9 882.9h1.9v1.9h-1.9zM285.5 889.8h1.9v1.9h-1.9zM299.3 880.3h1.9v1.9h-1.9zM282.5 886.3h1.9v1.9h-1.9zM252.3 894.2h1.9v1.9h-1.9zM271.8 886.7h1.9v1.9h-1.9zM280.2 885.8h1.9v1.9h-1.9zM281.0 882.4h1.9v1.9h-1.9zM278.8 892.6h1.9v1.9h-1.9zM287.9 880.5h1.9v1.9h-1.9zM282.4 882.5h1.9v1.9h-1.9zM272.1 824.7h1.9v1.9h-1.9zM278.5 890.8h1.9v1.9h-1.9zM278.1 882.5h1.9v1.9h-1.9zM271.4 886.4h1.9v1.9h-1.9zM302.0 891.2h1.9v1.9h-1.9zM271.4 889.3h1.9v1.9h-1.9zM306.8 889.5h1.9v1.9h-1.9zM305.0 895.3h1.9v1.9h-1.9zM314.7 891.5h1.9v1.9h-1.9zM279.2 896.5h1.9v1.9h-1.9z" fill="#1a30e0"/>
<path d="M244.5 824.2h1.9v1.9h-1.9z" fill="#ff8c00"/>
<path d="M253.4 825.6h1.9v1.9h-1.9zM243.7 831.4h1.9v1.9h-1.9zM241.9 832.0h1.9v1.9h-1.9zM244.6 838.9h1.9v1.9h-1.9zM240.3 840.9h1.9v1.9h-1.9z" fill="#ffc800"/>
<path d="M264.8 831.7h1.9v1.9h-1.9zM252.3 833.3h1.9v1.9h-1.9zM262.0 832.6h1.9v1.9h-1.9zM260.8 833.1h1.9v1.9h-1.9zM256.6 839.4h1.9v1.9h-1.9zM248.0 826.7h1.9v1.9h-1.9zM243.2 831.0h1.9v1.9h-1.9zM272.0 842.7h1.9v1.9h-1.9zM260.6 846.3h1.9v1.9h-1.9zM245.9 832.9h1.9v1.9h-1.9zM259.4 833.0h1.9v1.9h-1.9zM261.3 831.1h1.9v1.9h-1.9zM270.3 834.3h1.9v1.9h-1.9zM271.6 831.7h1.9v1.9h-1.9zM265.4 841.3h1.9v1.9h-1.9zM275.0 833.3h1.9v1.9h-1.9zM253.1 829.9h1.9v1.9h-1.9zM276.3 827.1h1.9v1.9h-1.9zM258.3 838.5h1.9v1.9h-1.9zM264.8 838.4h1.9v1.9h-1.9zM254.1 824.5h1.9v1.9h-1.9zM264.8 843.6h1.9v1.9h-1.9zM262.1 836.9h1.9v1.9h-1.9zM257.1 829.9h1.9v1.9h-1.9zM267.5 852.2h1.9v1.9h-1.9zM247.5 829.4h1.9v1.9h-1.9zM238.8 842.3h1.9v1.9h-1.9zM256.8 830.1h1.9v1.9h-1.9zM270.3 827.2h1.9v1.9h-1.9zM244.1 851.0h1.9v1.9h-1.9zM258.5 838.5h1.9v1.9h-1.9zM265.7 828.0h1.9v1.9h-1.9zM264.3 832.8h1.9v1.9h-1.9zM279.2 830.8h1.9v1.9h-1.9zM243.1 836.2h1.9v1.9h-1.9zM260.1 847.2h1.9v1.9h-1.9zM260.3 834.7h1.9v1.9h-1.9zM269.7 836.8h1.9v1.9h-1.9zM258.0 846.7h1.9v1.9h-1.9zM245.1 828.4h1.9v1.9h-1.9zM259.9 832.1h1.9v1.9h-1.9zM275.3 828.6h1.9v1.9h-1.9zM239.0 837.4h1.9v1.9h-1.9zM251.0 850.2h1.9v1.9h-1.9zM256.8 839.4h1.9v1.9h-1.9zM245.8 831.0h1.9v1.9h-1.9zM274.9 840.4h1.9v1.9h-1.9zM254.5 838.4h1.9v1.9h-1.9zM243.8 835.8h1.9v1.9h-1.9zM258.6 826.2h1.9v1.9h-1.9zM252.2 843.7h1.9v1.9h-1.9zM279.6 832.7h1.9v1.9h-1.9zM245.9 829.8h1.9v1.9h-1.9zM259.0 837.9h1.9v1.9h-1.9zM245.0 835.8h1.9v1.9h-1.9zM268.7 831.9h1.9v1.9h-1.9zM238.3 827.4h1.9v1.9h-1.9zM246.1 829.9h1.9v1.9h-1.9zM268.2 832.3h1.9v1.9h-1.9zM256.2 844.4h1.9v1.9h-1.9zM245.1 833.3h1.9v1.9h-1.9zM258.9 833.6h1.9v1.9h-1.9zM253.8 841.7h1.9v1.9h-1.9zM266.6 850.8h1.9v1.9h-1.9z" fill="#f0ee00"/>
<path d="M257.2 848.1h1.9v1.9h-1.9zM248.4 864.6h1.9v1.9h-1.9zM249.5 847.8h1.9v1.9h-1.9zM251.4 835.7h1.9v1.9h-1.9zM246.6 833.5h1.9v1.9h-1.9zM268.6 833.6h1.9v1.9h-1.9zM267.2 853.5h1.9v1.9h-1.9zM272.6 840.8h1.9v1.9h-1.9zM268.1 843.5h1.9v1.9h-1.9zM272.3 832.3h1.9v1.9h-1.9zM262.0 849.6h1.9v1.9h-1.9zM272.5 845.7h1.9v1.9h-1.9zM252.1 847.3h1.9v1.9h-1.9zM271.1 853.3h1.9v1.9h-1.9zM272.3 838.1h1.9v1.9h-1.9zM247.1 853.5h1.9v1.9h-1.9zM254.8 843.5h1.9v1.9h-1.9zM258.7 847.8h1.9v1.9h-1.9zM267.2 835.0h1.9v1.9h-1.9zM278.1 832.8h1.9v1.9h-1.9zM272.5 843.5h1.9v1.9h-1.9zM266.4 842.0h1.9v1.9h-1.9zM265.4 838.7h1.9v1.9h-1.9zM271.0 846.3h1.9v1.9h-1.9zM264.7 860.0h1.9v1.9h-1.9zM245.3 854.0h1.9v1.9h-1.9zM255.5 835.5h1.9v1.9h-1.9zM254.9 848.3h1.9v1.9h-1.9zM252.1 840.2h1.9v1.9h-1.9zM244.5 847.6h1.9v1.9h-1.9zM274.0 843.9h1.9v1.9h-1.9zM266.9 844.9h1.9v1.9h-1.9zM250.3 846.5h1.9v1.9h-1.9zM254.4 869.9h1.9v1.9h-1.9zM265.1 838.7h1.9v1.9h-1.9zM255.5 862.8h1.9v1.9h-1.9zM287.1 829.6h1.9v1.9h-1.9zM246.7 852.7h1.9v1.9h-1.9zM256.7 835.1h1.9v1.9h-1.9zM263.7 849.7h1.9v1.9h-1.9zM252.4 838.0h1.9v1.9h-1.9zM247.3 855.5h1.9v1.9h-1.9zM239.4 849.9h1.9v1.9h-1.9zM268.8 839.0h1.9v1.9h-1.9zM261.1 844.7h1.9v1.9h-1.9zM265.3 841.1h1.9v1.9h-1.9zM247.2 833.4h1.9v1.9h-1.9zM255.8 862.3h1.9v1.9h-1.9zM272.7 834.4h1.9v1.9h-1.9zM258.6 836.8h1.9v1.9h-1.9zM267.2 835.5h1.9v1.9h-1.9zM252.1 846.6h1.9v1.9h-1.9zM266.6 842.3h1.9v1.9h-1.9zM257.4 843.3h1.9v1.9h-1.9zM274.3 834.9h1.9v1.9h-1.9zM257.9 854.2h1.9v1.9h-1.9zM263.5 858.1h1.9v1.9h-1.9zM278.2 827.6h1.9v1.9h-1.9zM251.6 827.9h1.9v1.9h-1.9zM257.7 839.1h1.9v1.9h-1.9zM250.5 844.7h1.9v1.9h-1.9zM254.4 842.1h1.9v1.9h-1.9zM247.9 855.1h1.9v1.9h-1.9zM269.0 837.2h1.9v1.9h-1.9zM273.2 835.0h1.9v1.9h-1.9zM285.6 836.7h1.9v1.9h-1.9zM248.1 851.3h1.9v1.9h-1.9zM244.1 841.8h1.9v1.9h-1.9zM267.9 841.1h1.9v1.9h-1.9zM262.2 853.2h1.9v1.9h-1.9zM274.1 833.1h1.9v1.9h-1.9zM263.7 842.2h1.9v1.9h-1.9zM253.8 842.3h1.9v1.9h-1.9zM267.4 836.2h1.9v1.9h-1.9zM284.5 845.3h1.9v1.9h-1.9zM252.8 849.9h1.9v1.9h-1.9zM275.7 864.5h1.9v1.9h-1.9zM276.0 836.3h1.9v1.9h-1.9zM293.0 837.3h1.9v1.9h-1.9zM266.8 848.9h1.9v1.9h-1.9zM264.5 848.6h1.9v1.9h-1.9zM264.3 850.3h1.9v1.9h-1.9zM258.5 839.0h1.9v1.9h-1.9zM265.3 828.3h1.9v1.9h-1.9zM269.2 848.5h1.9v1.9h-1.9zM252.1 837.8h1.9v1.9h-1.9zM261.3 839.2h1.9v1.9h-1.9zM272.5 829.4h1.9v1.9h-1.9zM269.0 833.8h1.9v1.9h-1.9zM284.2 840.2h1.9v1.9h-1.9zM275.1 842.5h1.9v1.9h-1.9zM258.1 859.0h1.9v1.9h-1.9zM258.3 861.1h1.9v1.9h-1.9zM252.9 835.0h1.9v1.9h-1.9zM269.5 832.9h1.9v1.9h-1.9zM243.6 846.2h1.9v1.9h-1.9zM275.7 831.9h1.9v1.9h-1.9zM260.7 848.2h1.9v1.9h-1.9zM267.6 863.1h1.9v1.9h-1.9zM266.5 832.0h1.9v1.9h-1.9zM257.8 839.6h1.9v1.9h-1.9zM251.9 841.3h1.9v1.9h-1.9zM268.1 836.3h1.9v1.9h-1.9zM273.2 839.2h1.9v1.9h-1.9zM251.0 842.6h1.9v1.9h-1.9zM236.7 845.3h1.9v1.9h-1.9zM258.6 859.4h1.9v1.9h-1.9zM268.2 837.5h1.9v1.9h-1.9zM252.4 847.7h1.9v1.9h-1.9zM264.3 839.1h1.9v1.9h-1.9zM242.6 851.4h1.9v1.9h-1.9zM258.7 863.2h1.9v1.9h-1.9zM243.3 835.8h1.9v1.9h-1.9zM266.5 832.5h1.9v1.9h-1.9zM260.7 845.6h1.9v1.9h-1.9zM262.9 834.9h1.9v1.9h-1.9zM251.9 842.0h1.9v1.9h-1.9zM264.8 834.1h1.9v1.9h-1.9zM259.8 835.2h1.9v1.9h-1.9zM268.2 845.3h1.9v1.9h-1.9zM267.7 832.7h1.9v1.9h-1.9zM251.1 861.9h1.9v1.9h-1.9zM262.5 843.2h1.9v1.9h-1.9zM286.1 835.9h1.9v1.9h-1.9zM262.8 829.5h1.9v1.9h-1.9zM276.1 857.2h1.9v1.9h-1.9zM249.5 858.0h1.9v1.9h-1.9zM263.7 835.3h1.9v1.9h-1.9zM258.4 866.0h1.9v1.9h-1.9zM260.9 829.8h1.9v1.9h-1.9zM272.6 847.9h1.9v1.9h-1.9zM246.4 839.9h1.9v1.9h-1.9zM249.3 831.6h1.9v1.9h-1.9zM249.9 852.7h1.9v1.9h-1.9zM283.6 850.0h1.9v1.9h-1.9zM265.4 846.7h1.9v1.9h-1.9zM266.7 843.6h1.9v1.9h-1.9zM277.8 838.5h1.9v1.9h-1.9zM246.9 832.5h1.9v1.9h-1.9zM277.8 833.3h1.9v1.9h-1.9zM254.3 854.6h1.9v1.9h-1.9zM262.0 830.6h1.9v1.9h-1.9zM248.7 846.0h1.9v1.9h-1.9zM266.9 836.4h1.9v1.9h-1.9zM241.4 841.3h1.9v1.9h-1.9zM278.5 835.0h1.9v1.9h-1.9zM246.5 838.2h1.9v1.9h-1.9zM266.8 827.8h1.9v1.9h-1.9zM255.0 831.8h1.9v1.9h-1.9zM267.8 850.9h1.9v1.9h-1.9zM249.4 840.4h1.9v1.9h-1.9zM282.3 841.2h1.9v1.9h-1.9zM259.3 850.0h1.9v1.9h-1.9zM270.4 832.9h1.9v1.9h-1.9zM275.0 830.9h1.9v1.9h-1.9zM254.7 838.0h1.9v1.9h-1.9zM258.9 839.3h1.9v1.9h-1.9zM273.9 838.6h1.9v1.9h-1.9zM270.0 836.7h1.9v1.9h-1.9zM260.6 832.2h1.9v1.9h-1.9zM256.6 838.9h1.9v1.9h-1.9zM258.3 848.7h1.9v1.9h-1.9zM256.0 842.2h1.9v1.9h-1.9zM269.8 843.2h1.9v1.9h-1.9zM241.2 846.1h1.9v1.9h-1.9zM268.1 853.2h1.9v1.9h-1.9zM270.7 844.8h1.9v1.9h-1.9zM252.9 832.4h1.9v1.9h-1.9zM245.5 840.9h1.9v1.9h-1.9zM266.4 837.8h1.9v1.9h-1.9zM271.0 832.5h1.9v1.9h-1.9zM266.8 842.7h1.9v1.9h-1.9zM274.7 834.8h1.9v1.9h-1.9zM281.3 830.4h1.9v1.9h-1.9zM263.4 850.9h1.9v1.9h-1.9zM253.9 829.0h1.9v1.9h-1.9zM248.4 843.1h1.9v1.9h-1.9zM250.6 837.7h1.9v1.9h-1.9zM264.9 828.7h1.9v1.9h-1.9zM261.2 838.7h1.9v1.9h-1.9zM254.6 844.8h1.9v1.9h-1.9zM259.4 838.4h1.9v1.9h-1.9zM265.0 832.0h1.9v1.9h-1.9zM258.1 834.8h1.9v1.9h-1.9zM277.7 835.3h1.9v1.9h-1.9zM254.0 852.4h1.9v1.9h-1.9zM265.0 852.5h1.9v1.9h-1.9zM276.1 826.3h1.9v1.9h-1.9zM273.0 838.1h1.9v1.9h-1.9zM276.0 836.1h1.9v1.9h-1.9zM255.8 847.5h1.9v1.9h-1.9zM266.6 841.5h1.9v1.9h-1.9zM264.3 841.0h1.9v1.9h-1.9zM246.5 834.8h1.9v1.9h-1.9zM262.5 830.1h1.9v1.9h-1.9zM272.5 833.2h1.9v1.9h-1.9zM272.7 837.5h1.9v1.9h-1.9zM269.7 830.0h1.9v1.9h-1.9zM253.1 847.6h1.9v1.9h-1.9zM259.7 844.8h1.9v1.9h-1.9zM265.7 825.6h1.9v1.9h-1.9zM261.4 832.6h1.9v1.9h-1.9zM242.5 843.6h1.9v1.9h-1.9zM279.0 832.5h1.9v1.9h-1.9zM262.3 852.8h1.9v1.9h-1.9zM266.2 839.0h1.9v1.9h-1.9zM250.0 845.8h1.9v1.9h-1.9zM269.3 836.5h1.9v1.9h-1.9zM276.4 842.2h1.9v1.9h-1.9zM267.6 836.2h1.9v1.9h-1.9zM260.6 836.3h1.9v1.9h-1.9zM256.6 830.6h1.9v1.9h-1.9zM249.6 843.3h1.9v1.9h-1.9zM252.2 833.3h1.9v1.9h-1.9zM283.1 844.8h1.9v1.9h-1.9zM261.6 843.7h1.9v1.9h-1.9zM273.0 839.9h1.9v1.9h-1.9zM271.4 841.2h1.9v1.9h-1.9zM272.0 844.4h1.9v1.9h-1.9zM259.5 841.3h1.9v1.9h-1.9zM260.1 834.3h1.9v1.9h-1.9zM274.3 836.8h1.9v1.9h-1.9zM255.7 840.1h1.9v1.9h-1.9zM265.6 842.4h1.9v1.9h-1.9zM251.1 838.2h1.9v1.9h-1.9zM246.3 853.5h1.9v1.9h-1.9zM268.0 839.2h1.9v1.9h-1.9zM239.9 856.2h1.9v1.9h-1.9zM261.9 828.4h1.9v1.9h-1.9zM253.9 850.5h1.9v1.9h-1.9zM279.1 843.4h1.9v1.9h-1.9zM270.1 844.9h1.9v1.9h-1.9z" fill="#a8f000"/>
<path d="M276.4 842.1h1.9v1.9h-1.9zM264.1 846.4h1.9v1.9h-1.9zM276.9 836.3h1.9v1.9h-1.9zM274.2 835.3h1.9v1.9h-1.9zM254.1 860.0h1.9v1.9h-1.9zM249.9 864.2h1.9v1.9h-1.9zM281.3 849.7h1.9v1.9h-1.9zM265.1 847.7h1.9v1.9h-1.9zM277.4 838.3h1.9v1.9h-1.9zM279.0 840.8h1.9v1.9h-1.9zM265.0 872.6h1.9v1.9h-1.9zM256.7 850.3h1.9v1.9h-1.9zM274.7 852.6h1.9v1.9h-1.9zM256.2 871.0h1.9v1.9h-1.9zM273.8 856.1h1.9v1.9h-1.9zM280.5 836.7h1.9v1.9h-1.9zM250.3 865.0h1.9v1.9h-1.9zM268.6 867.8h1.9v1.9h-1.9zM269.6 860.1h1.9v1.9h-1.9zM260.5 850.5h1.9v1.9h-1.9zM273.4 859.6h1.9v1.9h-1.9zM253.6 868.5h1.9v1.9h-1.9zM265.9 856.2h1.9v1.9h-1.9zM275.9 866.1h1.9v1.9h-1.9zM266.2 857.9h1.9v1.9h-1.9zM253.4 862.6h1.9v1.9h-1.9zM268.7 870.9h1.9v1.9h-1.9zM251.7 855.8h1.9v1.9h-1.9zM287.2 849.6h1.9v1.9h-1.9zM284.9 838.5h1.9v1.9h-1.9zM275.2 846.8h1.9v1.9h-1.9zM292.8 859.5h1.9v1.9h-1.9zM275.1 851.9h1.9v1.9h-1.9zM287.6 838.5h1.9v1.9h-1.9zM264.3 858.0h1.9v1.9h-1.9zM268.7 858.5h1.9v1.9h-1.9zM261.7 850.1h1.9v1.9h-1.9zM281.4 862.9h1.9v1.9h-1.9zM272.2 848.7h1.9v1.9h-1.9zM252.2 860.6h1.9v1.9h-1.9zM246.6 854.3h1.9v1.9h-1.9zM257.7 848.8h1.9v1.9h-1.9zM273.2 855.5h1.9v1.9h-1.9zM249.1 848.1h1.9v1.9h-1.9zM265.6 858.5h1.9v1.9h-1.9zM259.7 852.4h1.9v1.9h-1.9zM271.7 838.6h1.9v1.9h-1.9zM265.8 856.8h1.9v1.9h-1.9zM272.9 834.0h1.9v1.9h-1.9zM295.4 844.1h1.9v1.9h-1.9zM273.1 834.9h1.9v1.9h-1.9zM284.4 864.9h1.9v1.9h-1.9zM269.2 850.8h1.9v1.9h-1.9zM269.1 855.6h1.9v1.9h-1.9zM275.1 839.7h1.9v1.9h-1.9zM277.6 857.6h1.9v1.9h-1.9zM261.6 839.6h1.9v1.9h-1.9zM268.3 828.1h1.9v1.9h-1.9zM271.6 845.2h1.9v1.9h-1.9zM270.0 864.1h1.9v1.9h-1.9zM273.9 849.6h1.9v1.9h-1.9zM280.5 854.6h1.9v1.9h-1.9zM258.1 852.5h1.9v1.9h-1.9zM267.4 858.6h1.9v1.9h-1.9zM284.1 846.1h1.9v1.9h-1.9zM288.2 846.4h1.9v1.9h-1.9zM287.8 853.0h1.9v1.9h-1.9zM284.4 859.9h1.9v1.9h-1.9zM257.5 847.4h1.9v1.9h-1.9zM252.2 865.4h1.9v1.9h-1.9zM280.2 841.6h1.9v1.9h-1.9zM276.5 843.5h1.9v1.9h-1.9zM258.6 860.6h1.9v1.9h-1.9zM282.2 847.7h1.9v1.9h-1.9zM260.1 863.2h1.9v1.9h-1.9zM265.0 852.8h1.9v1.9h-1.9zM264.2 863.6h1.9v1.9h-1.9zM269.1 832.1h1.9v1.9h-1.9zM268.6 849.9h1.9v1.9h-1.9zM268.6 857.7h1.9v1.9h-1.9zM261.3 872.2h1.9v1.9h-1.9zM278.8 852.3h1.9v1.9h-1.9zM263.5 852.6h1.9v1.9h-1.9zM251.7 866.0h1.9v1.9h-1.9zM258.9 848.1h1.9v1.9h-1.9zM258.7 845.4h1.9v1.9h-1.9zM258.5 855.4h1.9v1.9h-1.9zM280.2 840.8h1.9v1.9h-1.9zM254.1 849.8h1.9v1.9h-1.9zM265.5 853.1h1.9v1.9h-1.9zM272.5 841.2h1.9v1.9h-1.9zM239.1 854.2h1.9v1.9h-1.9zM268.5 842.1h1.9v1.9h-1.9zM279.3 841.3h1.9v1.9h-1.9zM269.7 836.2h1.9v1.9h-1.9zM290.4 844.5h1.9v1.9h-1.9zM274.1 853.0h1.9v1.9h-1.9zM264.9 848.6h1.9v1.9h-1.9zM253.9 856.9h1.9v1.9h-1.9zM266.7 837.9h1.9v1.9h-1.9zM275.2 843.7h1.9v1.9h-1.9zM265.4 844.1h1.9v1.9h-1.9zM287.6 825.6h1.9v1.9h-1.9zM269.4 871.3h1.9v1.9h-1.9zM263.6 850.9h1.9v1.9h-1.9zM287.5 835.8h1.9v1.9h-1.9zM269.6 857.8h1.9v1.9h-1.9zM268.7 858.3h1.9v1.9h-1.9zM260.1 855.8h1.9v1.9h-1.9zM247.5 842.3h1.9v1.9h-1.9zM266.0 840.8h1.9v1.9h-1.9zM260.4 864.0h1.9v1.9h-1.9zM268.8 840.8h1.9v1.9h-1.9zM259.5 839.9h1.9v1.9h-1.9zM247.0 854.3h1.9v1.9h-1.9zM282.1 857.8h1.9v1.9h-1.9zM271.0 852.4h1.9v1.9h-1.9zM272.7 840.5h1.9v1.9h-1.9zM243.7 861.9h1.9v1.9h-1.9zM273.7 867.7h1.9v1.9h-1.9zM260.8 848.8h1.9v1.9h-1.9zM265.0 859.3h1.9v1.9h-1.9zM271.2 865.5h1.9v1.9h-1.9zM274.6 836.0h1.9v1.9h-1.9zM288.8 843.1h1.9v1.9h-1.9zM266.3 860.9h1.9v1.9h-1.9zM274.9 868.1h1.9v1.9h-1.9zM253.2 855.1h1.9v1.9h-1.9zM268.6 856.2h1.9v1.9h-1.9zM258.5 854.3h1.9v1.9h-1.9zM283.7 852.5h1.9v1.9h-1.9zM275.5 828.4h1.9v1.9h-1.9zM261.2 866.6h1.9v1.9h-1.9zM246.5 861.2h1.9v1.9h-1.9zM264.3 847.1h1.9v1.9h-1.9zM265.7 845.6h1.9v1.9h-1.9zM268.9 850.6h1.9v1.9h-1.9zM264.2 853.4h1.9v1.9h-1.9zM272.3 837.8h1.9v1.9h-1.9zM280.2 849.5h1.9v1.9h-1.9zM256.7 842.9h1.9v1.9h-1.9zM259.0 857.9h1.9v1.9h-1.9zM251.9 862.2h1.9v1.9h-1.9zM276.7 847.9h1.9v1.9h-1.9zM281.1 864.2h1.9v1.9h-1.9zM262.5 845.2h1.9v1.9h-1.9zM276.5 847.6h1.9v1.9h-1.9zM280.0 865.6h1.9v1.9h-1.9zM266.1 866.0h1.9v1.9h-1.9zM274.0 854.2h1.9v1.9h-1.9zM248.2 835.1h1.9v1.9h-1.9zM271.7 860.4h1.9v1.9h-1.9zM255.1 851.0h1.9v1.9h-1.9zM268.7 839.1h1.9v1.9h-1.9zM257.5 848.3h1.9v1.9h-1.9zM259.7 850.5h1.9v1.9h-1.9zM268.5 853.5h1.9v1.9h-1.9zM261.4 846.0h1.9v1.9h-1.9zM262.5 853.5h1.9v1.9h-1.9zM266.8 847.5h1.9v1.9h-1.9zM269.7 840.6h1.9v1.9h-1.9zM266.5 863.4h1.9v1.9h-1.9zM259.6 850.6h1.9v1.9h-1.9zM260.9 868.8h1.9v1.9h-1.9zM263.0 846.0h1.9v1.9h-1.9zM258.3 850.0h1.9v1.9h-1.9zM282.7 840.9h1.9v1.9h-1.9zM261.0 857.0h1.9v1.9h-1.9zM267.7 854.7h1.9v1.9h-1.9zM278.4 851.3h1.9v1.9h-1.9zM273.1 835.5h1.9v1.9h-1.9zM275.2 853.6h1.9v1.9h-1.9zM271.1 859.5h1.9v1.9h-1.9zM262.0 849.0h1.9v1.9h-1.9zM257.8 844.7h1.9v1.9h-1.9zM277.1 828.5h1.9v1.9h-1.9zM252.8 861.8h1.9v1.9h-1.9zM259.5 852.7h1.9v1.9h-1.9zM276.5 844.8h1.9v1.9h-1.9zM270.6 854.6h1.9v1.9h-1.9zM255.6 851.6h1.9v1.9h-1.9zM265.1 865.9h1.9v1.9h-1.9zM255.2 835.2h1.9v1.9h-1.9zM249.4 851.6h1.9v1.9h-1.9zM267.0 859.5h1.9v1.9h-1.9zM246.5 863.1h1.9v1.9h-1.9zM276.8 848.6h1.9v1.9h-1.9zM273.1 862.8h1.9v1.9h-1.9zM275.5 847.7h1.9v1.9h-1.9zM279.6 861.1h1.9v1.9h-1.9zM275.0 853.1h1.9v1.9h-1.9zM252.6 858.5h1.9v1.9h-1.9zM261.5 840.9h1.9v1.9h-1.9zM270.0 835.5h1.9v1.9h-1.9zM273.4 853.2h1.9v1.9h-1.9zM262.8 853.2h1.9v1.9h-1.9zM277.9 843.3h1.9v1.9h-1.9zM257.9 858.8h1.9v1.9h-1.9zM270.2 859.2h1.9v1.9h-1.9zM275.4 858.9h1.9v1.9h-1.9zM258.5 867.2h1.9v1.9h-1.9zM241.5 856.1h1.9v1.9h-1.9zM271.1 847.7h1.9v1.9h-1.9zM266.3 849.0h1.9v1.9h-1.9zM259.5 853.4h1.9v1.9h-1.9zM266.0 861.3h1.9v1.9h-1.9zM243.8 857.1h1.9v1.9h-1.9zM265.3 850.6h1.9v1.9h-1.9zM282.7 857.1h1.9v1.9h-1.9zM265.7 847.5h1.9v1.9h-1.9zM265.6 850.2h1.9v1.9h-1.9zM271.5 856.0h1.9v1.9h-1.9zM263.0 853.4h1.9v1.9h-1.9zM274.3 857.8h1.9v1.9h-1.9zM262.4 845.4h1.9v1.9h-1.9zM272.0 844.5h1.9v1.9h-1.9zM271.6 862.3h1.9v1.9h-1.9zM242.6 868.2h1.9v1.9h-1.9zM271.0 858.2h1.9v1.9h-1.9zM261.3 852.1h1.9v1.9h-1.9zM248.4 852.4h1.9v1.9h-1.9zM272.3 843.7h1.9v1.9h-1.9zM272.7 858.1h1.9v1.9h-1.9zM263.7 851.9h1.9v1.9h-1.9zM267.3 837.4h1.9v1.9h-1.9zM273.4 866.4h1.9v1.9h-1.9zM263.7 857.7h1.9v1.9h-1.9zM256.8 867.1h1.9v1.9h-1.9zM281.1 849.6h1.9v1.9h-1.9zM282.2 848.6h1.9v1.9h-1.9zM268.1 852.1h1.9v1.9h-1.9zM264.0 854.6h1.9v1.9h-1.9zM258.7 854.0h1.9v1.9h-1.9zM251.8 849.6h1.9v1.9h-1.9zM256.2 860.9h1.9v1.9h-1.9zM265.6 829.2h1.9v1.9h-1.9zM276.6 847.1h1.9v1.9h-1.9zM249.4 860.6h1.9v1.9h-1.9zM288.4 838.0h1.9v1.9h-1.9zM271.5 865.4h1.9v1.9h-1.9zM272.7 850.2h1.9v1.9h-1.9zM260.2 866.2h1.9v1.9h-1.9zM256.5 867.0h1.9v1.9h-1.9zM263.4 860.9h1.9v1.9h-1.9zM268.0 843.9h1.9v1.9h-1.9zM261.4 844.0h1.9v1.9h-1.9zM260.2 850.2h1.9v1.9h-1.9zM262.9 853.0h1.9v1.9h-1.9zM261.1 866.3h1.9v1.9h-1.9zM245.0 855.8h1.9v1.9h-1.9zM272.7 846.3h1.9v1.9h-1.9zM283.4 840.1h1.9v1.9h-1.9zM264.2 841.5h1.9v1.9h-1.9zM285.9 840.9h1.9v1.9h-1.9zM262.2 846.1h1.9v1.9h-1.9zM270.5 858.3h1.9v1.9h-1.9zM267.3 851.8h1.9v1.9h-1.9zM281.6 854.9h1.9v1.9h-1.9zM276.2 852.4h1.9v1.9h-1.9zM257.8 859.2h1.9v1.9h-1.9zM264.5 848.5h1.9v1.9h-1.9zM261.0 848.9h1.9v1.9h-1.9zM243.3 863.3h1.9v1.9h-1.9zM261.4 847.6h1.9v1.9h-1.9zM270.9 852.9h1.9v1.9h-1.9zM266.9 854.0h1.9v1.9h-1.9zM261.9 840.0h1.9v1.9h-1.9zM268.2 858.1h1.9v1.9h-1.9zM271.0 859.2h1.9v1.9h-1.9zM279.6 838.2h1.9v1.9h-1.9zM265.7 857.6h1.9v1.9h-1.9zM273.0 854.3h1.9v1.9h-1.9zM276.6 833.9h1.9v1.9h-1.9zM288.8 848.7h1.9v1.9h-1.9zM272.7 849.2h1.9v1.9h-1.9zM264.6 864.8h1.9v1.9h-1.9zM258.1 867.7h1.9v1.9h-1.9zM262.9 848.5h1.9v1.9h-1.9zM253.2 853.6h1.9v1.9h-1.9zM260.9 853.1h1.9v1.9h-1.9zM261.3 844.8h1.9v1.9h-1.9zM274.8 849.7h1.9v1.9h-1.9zM266.6 851.0h1.9v1.9h-1.9zM242.9 859.6h1.9v1.9h-1.9zM249.8 845.2h1.9v1.9h-1.9zM249.7 851.2h1.9v1.9h-1.9zM241.7 861.9h1.9v1.9h-1.9zM258.4 854.7h1.9v1.9h-1.9zM272.4 833.1h1.9v1.9h-1.9zM265.9 859.3h1.9v1.9h-1.9zM280.0 864.4h1.9v1.9h-1.9zM254.8 867.9h1.9v1.9h-1.9zM253.4 862.5h1.9v1.9h-1.9zM276.1 840.4h1.9v1.9h-1.9zM254.2 837.4h1.9v1.9h-1.9zM260.8 865.4h1.9v1.9h-1.9zM294.8 837.6h1.9v1.9h-1.9zM255.9 854.9h1.9v1.9h-1.9zM275.7 837.9h1.9v1.9h-1.9zM269.2 864.1h1.9v1.9h-1.9zM262.8 853.0h1.9v1.9h-1.9zM275.9 850.5h1.9v1.9h-1.9zM279.5 852.5h1.9v1.9h-1.9zM256.2 846.1h1.9v1.9h-1.9zM256.6 860.9h1.9v1.9h-1.9zM281.3 845.2h1.9v1.9h-1.9zM248.6 850.7h1.9v1.9h-1.9zM281.7 854.2h1.9v1.9h-1.9zM288.2 857.4h1.9v1.9h-1.9zM279.4 855.3h1.9v1.9h-1.9zM269.2 842.0h1.9v1.9h-1.9zM278.2 832.4h1.9v1.9h-1.9zM275.8 846.2h1.9v1.9h-1.9zM261.1 846.2h1.9v1.9h-1.9zM270.0 854.6h1.9v1.9h-1.9zM268.0 857.5h1.9v1.9h-1.9zM258.9 846.9h1.9v1.9h-1.9zM245.2 859.3h1.9v1.9h-1.9zM262.4 861.9h1.9v1.9h-1.9zM258.3 861.4h1.9v1.9h-1.9zM262.0 842.2h1.9v1.9h-1.9zM260.9 850.2h1.9v1.9h-1.9zM268.8 842.1h1.9v1.9h-1.9zM281.7 855.6h1.9v1.9h-1.9zM271.7 860.6h1.9v1.9h-1.9zM261.0 849.9h1.9v1.9h-1.9zM288.7 848.4h1.9v1.9h-1.9zM259.0 829.4h1.9v1.9h-1.9zM271.6 860.6h1.9v1.9h-1.9zM265.7 861.2h1.9v1.9h-1.9z" fill="#50ec0a"/>
<path d="M250.1 870.0h1.9v1.9h-1.9zM265.4 850.7h1.9v1.9h-1.9zM266.5 862.1h1.9v1.9h-1.9zM275.2 840.9h1.9v1.9h-1.9zM286.0 871.1h1.9v1.9h-1.9zM276.4 866.6h1.9v1.9h-1.9zM295.4 849.3h1.9v1.9h-1.9zM259.9 859.8h1.9v1.9h-1.9zM267.9 850.0h1.9v1.9h-1.9zM261.1 851.5h1.9v1.9h-1.9zM295.4 867.2h1.9v1.9h-1.9zM266.9 864.3h1.9v1.9h-1.9zM262.8 867.6h1.9v1.9h-1.9zM273.2 863.7h1.9v1.9h-1.9zM268.5 857.2h1.9v1.9h-1.9zM274.7 862.5h1.9v1.9h-1.9zM287.2 837.7h1.9v1.9h-1.9zM266.1 868.7h1.9v1.9h-1.9zM251.7 865.0h1.9v1.9h-1.9zM280.5 866.2h1.9v1.9h-1.9zM279.3 847.8h1.9v1.9h-1.9zM278.7 858.3h1.9v1.9h-1.9zM267.7 857.5h1.9v1.9h-1.9zM271.9 854.1h1.9v1.9h-1.9zM291.0 850.7h1.9v1.9h-1.9zM273.5 860.3h1.9v1.9h-1.9zM290.0 856.3h1.9v1.9h-1.9zM274.2 859.0h1.9v1.9h-1.9zM255.3 867.7h1.9v1.9h-1.9zM265.6 860.2h1.9v1.9h-1.9zM284.3 843.6h1.9v1.9h-1.9zM292.2 849.1h1.9v1.9h-1.9zM277.9 860.2h1.9v1.9h-1.9zM262.7 857.5h1.9v1.9h-1.9zM269.5 863.0h1.9v1.9h-1.9zM279.1 862.6h1.9v1.9h-1.9zM260.8 860.7h1.9v1.9h-1.9zM254.8 860.5h1.9v1.9h-1.9zM276.6 862.5h1.9v1.9h-1.9zM277.3 845.7h1.9v1.9h-1.9zM267.8 873.4h1.9v1.9h-1.9zM297.4 864.7h1.9v1.9h-1.9zM285.6 863.9h1.9v1.9h-1.9zM267.6 850.6h1.9v1.9h-1.9zM274.1 857.2h1.9v1.9h-1.9zM276.9 871.9h1.9v1.9h-1.9zM275.0 864.5h1.9v1.9h-1.9zM272.4 860.3h1.9v1.9h-1.9zM281.3 859.4h1.9v1.9h-1.9zM279.1 859.7h1.9v1.9h-1.9zM289.7 870.9h1.9v1.9h-1.9zM262.8 870.7h1.9v1.9h-1.9zM274.8 864.1h1.9v1.9h-1.9zM271.0 852.1h1.9v1.9h-1.9zM264.5 873.9h1.9v1.9h-1.9zM275.2 853.9h1.9v1.9h-1.9zM269.9 859.5h1.9v1.9h-1.9zM253.8 873.6h1.9v1.9h-1.9zM290.2 848.9h1.9v1.9h-1.9zM275.5 859.4h1.9v1.9h-1.9zM283.4 868.7h1.9v1.9h-1.9zM284.4 867.7h1.9v1.9h-1.9zM285.4 866.6h1.9v1.9h-1.9zM284.0 856.2h1.9v1.9h-1.9zM296.4 858.2h1.9v1.9h-1.9zM260.7 871.8h1.9v1.9h-1.9zM267.0 858.9h1.9v1.9h-1.9zM286.4 856.9h1.9v1.9h-1.9zM274.3 869.0h1.9v1.9h-1.9zM260.0 866.7h1.9v1.9h-1.9zM273.8 858.9h1.9v1.9h-1.9zM282.5 861.8h1.9v1.9h-1.9zM278.2 851.7h1.9v1.9h-1.9zM288.4 842.9h1.9v1.9h-1.9zM267.4 867.8h1.9v1.9h-1.9zM289.0 856.5h1.9v1.9h-1.9zM268.9 863.0h1.9v1.9h-1.9zM291.3 855.8h1.9v1.9h-1.9zM270.0 867.1h1.9v1.9h-1.9zM297.1 856.7h1.9v1.9h-1.9zM276.2 866.5h1.9v1.9h-1.9zM275.9 873.8h1.9v1.9h-1.9zM279.3 862.8h1.9v1.9h-1.9zM271.3 869.6h1.9v1.9h-1.9zM284.1 853.9h1.9v1.9h-1.9zM264.0 865.5h1.9v1.9h-1.9zM280.4 871.3h1.9v1.9h-1.9zM262.8 866.7h1.9v1.9h-1.9zM279.6 860.2h1.9v1.9h-1.9zM258.6 857.8h1.9v1.9h-1.9zM281.3 863.6h1.9v1.9h-1.9zM270.5 860.9h1.9v1.9h-1.9zM267.5 873.9h1.9v1.9h-1.9zM260.0 862.7h1.9v1.9h-1.9zM271.6 842.1h1.9v1.9h-1.9zM272.1 860.5h1.9v1.9h-1.9zM262.0 853.0h1.9v1.9h-1.9zM282.7 855.4h1.9v1.9h-1.9zM266.0 867.5h1.9v1.9h-1.9zM278.3 853.7h1.9v1.9h-1.9zM278.5 848.4h1.9v1.9h-1.9zM275.0 856.6h1.9v1.9h-1.9zM260.8 872.7h1.9v1.9h-1.9zM285.9 855.4h1.9v1.9h-1.9zM271.0 866.1h1.9v1.9h-1.9zM259.0 876.2h1.9v1.9h-1.9zM267.4 869.2h1.9v1.9h-1.9zM268.9 856.7h1.9v1.9h-1.9zM284.5 864.6h1.9v1.9h-1.9zM286.6 854.1h1.9v1.9h-1.9zM274.5 873.0h1.9v1.9h-1.9zM267.2 872.8h1.9v1.9h-1.9zM293.1 866.2h1.9v1.9h-1.9zM268.2 855.0h1.9v1.9h-1.9zM269.4 866.0h1.9v1.9h-1.9zM273.4 862.1h1.9v1.9h-1.9zM270.8 866.5h1.9v1.9h-1.9zM261.5 870.5h1.9v1.9h-1.9zM276.7 853.8h1.9v1.9h-1.9zM267.0 866.1h1.9v1.9h-1.9zM270.7 859.2h1.9v1.9h-1.9zM278.6 866.9h1.9v1.9h-1.9zM272.3 856.3h1.9v1.9h-1.9zM287.1 836.8h1.9v1.9h-1.9zM275.4 867.2h1.9v1.9h-1.9zM268.1 867.8h1.9v1.9h-1.9zM268.4 854.0h1.9v1.9h-1.9zM269.0 847.6h1.9v1.9h-1.9zM291.4 869.6h1.9v1.9h-1.9zM251.9 852.9h1.9v1.9h-1.9zM249.0 859.2h1.9v1.9h-1.9zM265.6 875.8h1.9v1.9h-1.9zM279.4 860.4h1.9v1.9h-1.9zM297.2 867.9h1.9v1.9h-1.9zM270.4 872.2h1.9v1.9h-1.9zM280.8 865.7h1.9v1.9h-1.9zM282.4 868.1h1.9v1.9h-1.9zM276.4 855.2h1.9v1.9h-1.9zM271.3 847.7h1.9v1.9h-1.9zM252.0 866.0h1.9v1.9h-1.9zM280.6 850.7h1.9v1.9h-1.9zM259.6 872.3h1.9v1.9h-1.9zM263.3 862.6h1.9v1.9h-1.9zM268.9 858.0h1.9v1.9h-1.9zM288.5 868.4h1.9v1.9h-1.9zM283.2 862.9h1.9v1.9h-1.9zM264.3 847.5h1.9v1.9h-1.9zM289.5 868.5h1.9v1.9h-1.9zM285.8 863.7h1.9v1.9h-1.9zM278.8 854.0h1.9v1.9h-1.9zM282.0 868.0h1.9v1.9h-1.9zM265.2 859.4h1.9v1.9h-1.9zM288.4 866.4h1.9v1.9h-1.9zM238.7 879.5h1.9v1.9h-1.9zM271.6 863.3h1.9v1.9h-1.9zM266.4 867.3h1.9v1.9h-1.9zM296.6 856.5h1.9v1.9h-1.9zM260.6 865.9h1.9v1.9h-1.9zM275.4 860.7h1.9v1.9h-1.9zM288.2 859.6h1.9v1.9h-1.9zM283.5 855.0h1.9v1.9h-1.9zM253.9 861.7h1.9v1.9h-1.9zM252.0 867.5h1.9v1.9h-1.9zM272.6 857.1h1.9v1.9h-1.9zM271.0 864.7h1.9v1.9h-1.9zM288.4 853.4h1.9v1.9h-1.9zM274.9 853.5h1.9v1.9h-1.9zM280.1 874.9h1.9v1.9h-1.9zM269.5 855.4h1.9v1.9h-1.9zM279.7 857.0h1.9v1.9h-1.9zM274.0 862.0h1.9v1.9h-1.9zM271.9 875.2h1.9v1.9h-1.9zM269.9 838.1h1.9v1.9h-1.9zM259.5 876.0h1.9v1.9h-1.9zM273.9 855.1h1.9v1.9h-1.9zM264.0 858.3h1.9v1.9h-1.9zM298.9 851.0h1.9v1.9h-1.9zM268.0 865.5h1.9v1.9h-1.9zM247.2 874.7h1.9v1.9h-1.9zM271.9 858.9h1.9v1.9h-1.9zM250.8 857.6h1.9v1.9h-1.9zM272.3 868.6h1.9v1.9h-1.9zM295.8 863.9h1.9v1.9h-1.9zM272.5 839.9h1.9v1.9h-1.9zM277.8 865.2h1.9v1.9h-1.9zM251.4 873.3h1.9v1.9h-1.9zM264.0 865.1h1.9v1.9h-1.9zM264.5 871.2h1.9v1.9h-1.9zM292.5 873.2h1.9v1.9h-1.9zM301.0 858.0h1.9v1.9h-1.9zM264.6 856.8h1.9v1.9h-1.9zM275.5 846.6h1.9v1.9h-1.9zM283.4 874.3h1.9v1.9h-1.9zM262.6 861.7h1.9v1.9h-1.9zM272.5 872.0h1.9v1.9h-1.9zM258.2 862.1h1.9v1.9h-1.9zM265.1 866.9h1.9v1.9h-1.9zM269.7 870.1h1.9v1.9h-1.9zM269.4 859.8h1.9v1.9h-1.9zM284.6 856.5h1.9v1.9h-1.9zM268.7 865.8h1.9v1.9h-1.9zM282.7 850.3h1.9v1.9h-1.9zM261.3 854.2h1.9v1.9h-1.9zM276.8 869.1h1.9v1.9h-1.9zM267.2 861.1h1.9v1.9h-1.9zM270.0 870.5h1.9v1.9h-1.9zM289.4 860.1h1.9v1.9h-1.9zM279.2 848.3h1.9v1.9h-1.9zM268.0 864.6h1.9v1.9h-1.9zM274.5 871.2h1.9v1.9h-1.9zM267.0 857.2h1.9v1.9h-1.9zM278.8 856.3h1.9v1.9h-1.9zM264.7 871.9h1.9v1.9h-1.9zM282.9 864.3h1.9v1.9h-1.9zM277.7 862.5h1.9v1.9h-1.9zM283.4 850.0h1.9v1.9h-1.9zM273.6 870.1h1.9v1.9h-1.9zM276.4 844.6h1.9v1.9h-1.9zM267.4 854.4h1.9v1.9h-1.9zM283.9 859.6h1.9v1.9h-1.9zM280.1 872.3h1.9v1.9h-1.9zM263.4 865.2h1.9v1.9h-1.9zM282.8 869.1h1.9v1.9h-1.9zM276.5 862.0h1.9v1.9h-1.9zM262.5 856.6h1.9v1.9h-1.9zM276.9 866.6h1.9v1.9h-1.9zM270.4 858.7h1.9v1.9h-1.9zM240.3 873.5h1.9v1.9h-1.9zM267.4 855.8h1.9v1.9h-1.9zM277.9 839.2h1.9v1.9h-1.9zM280.4 862.1h1.9v1.9h-1.9zM286.8 853.7h1.9v1.9h-1.9zM274.1 858.6h1.9v1.9h-1.9zM263.8 872.2h1.9v1.9h-1.9zM278.1 872.7h1.9v1.9h-1.9zM242.6 871.4h1.9v1.9h-1.9zM272.8 867.4h1.9v1.9h-1.9zM282.1 853.3h1.9v1.9h-1.9zM272.8 854.5h1.9v1.9h-1.9zM280.1 867.0h1.9v1.9h-1.9zM278.4 858.7h1.9v1.9h-1.9zM267.6 864.8h1.9v1.9h-1.9zM267.3 862.4h1.9v1.9h-1.9zM264.4 855.1h1.9v1.9h-1.9zM273.2 862.9h1.9v1.9h-1.9zM239.3 870.9h1.9v1.9h-1.9zM282.7 865.4h1.9v1.9h-1.9zM271.8 864.9h1.9v1.9h-1.9zM282.7 846.9h1.9v1.9h-1.9z" fill="#14d214"/>
<path d="M265.9 854.4h1.9v1.9h-1.9zM301.9 870.2h1.9v1.9h-1.9zM261.8 875.3h1.9v1.9h-1.9zM260.8 878.3h1.9v1.9h-1.9zM252.8 878.1h1.9v1.9h-1.9zM288.0 862.6h1.9v1.9h-1.9zM287.8 867.4h1.9v1.9h-1.9zM281.7 863.4h1.9v1.9h-1.9zM261.8 855.0h1.9v1.9h-1.9zM278.6 855.7h1.9v1.9h-1.9zM291.9 842.4h1.9v1.9h-1.9zM278.8 872.8h1.9v1.9h-1.9zM274.8 878.1h1.9v1.9h-1.9zM274.7 873.2h1.9v1.9h-1.9zM268.1 872.1h1.9v1.9h-1.9zM280.5 872.8h1.9v1.9h-1.9zM288.6 860.3h1.9v1.9h-1.9zM270.2 862.6h1.9v1.9h-1.9zM296.2 863.5h1.9v1.9h-1.9zM279.9 873.1h1.9v1.9h-1.9zM277.3 872.4h1.9v1.9h-1.9zM289.8 857.4h1.9v1.9h-1.9zM271.8 875.4h1.9v1.9h-1.9zM283.2 871.3h1.9v1.9h-1.9zM267.8 876.0h1.9v1.9h-1.9zM271.9 872.4h1.9v1.9h-1.9zM282.4 852.4h1.9v1.9h-1.9zM259.9 880.9h1.9v1.9h-1.9zM289.3 866.2h1.9v1.9h-1.9zM284.3 865.5h1.9v1.9h-1.9zM279.0 877.3h1.9v1.9h-1.9zM273.6 856.3h1.9v1.9h-1.9zM294.9 869.5h1.9v1.9h-1.9zM277.5 870.1h1.9v1.9h-1.9zM272.0 866.3h1.9v1.9h-1.9zM294.3 873.8h1.9v1.9h-1.9zM278.9 869.6h1.9v1.9h-1.9zM270.2 872.0h1.9v1.9h-1.9zM260.2 879.1h1.9v1.9h-1.9zM264.1 867.0h1.9v1.9h-1.9zM278.9 863.9h1.9v1.9h-1.9zM268.8 870.6h1.9v1.9h-1.9zM262.2 877.9h1.9v1.9h-1.9zM281.5 865.8h1.9v1.9h-1.9zM267.7 879.2h1.9v1.9h-1.9zM311.5 844.0h1.9v1.9h-1.9zM283.4 868.7h1.9v1.9h-1.9zM265.5 871.2h1.9v1.9h-1.9zM256.9 874.2h1.9v1.9h-1.9zM271.1 863.5h1.9v1.9h-1.9zM267.3 877.3h1.9v1.9h-1.9zM275.9 874.6h1.9v1.9h-1.9zM292.8 871.8h1.9v1.9h-1.9zM269.3 860.7h1.9v1.9h-1.9zM285.4 855.9h1.9v1.9h-1.9zM291.5 865.0h1.9v1.9h-1.9zM287.1 864.7h1.9v1.9h-1.9zM267.2 868.1h1.9v1.9h-1.9zM265.4 873.9h1.9v1.9h-1.9zM266.8 869.8h1.9v1.9h-1.9zM268.7 875.3h1.9v1.9h-1.9zM276.2 873.5h1.9v1.9h-1.9zM292.0 856.8h1.9v1.9h-1.9zM293.3 868.8h1.9v1.9h-1.9zM271.0 865.1h1.9v1.9h-1.9zM282.4 874.3h1.9v1.9h-1.9zM281.8 854.9h1.9v1.9h-1.9zM280.5 849.0h1.9v1.9h-1.9zM270.0 854.7h1.9v1.9h-1.9zM278.6 868.8h1.9v1.9h-1.9zM304.9 864.3h1.9v1.9h-1.9zM283.8 867.7h1.9v1.9h-1.9zM278.6 871.3h1.9v1.9h-1.9zM278.7 877.1h1.9v1.9h-1.9zM285.3 845.4h1.9v1.9h-1.9zM276.0 863.0h1.9v1.9h-1.9zM278.5 872.5h1.9v1.9h-1.9zM267.9 875.5h1.9v1.9h-1.9zM278.2 864.9h1.9v1.9h-1.9zM271.6 873.3h1.9v1.9h-1.9zM284.8 860.4h1.9v1.9h-1.9zM292.2 862.4h1.9v1.9h-1.9zM285.8 859.7h1.9v1.9h-1.9zM267.5 876.5h1.9v1.9h-1.9zM277.5 870.5h1.9v1.9h-1.9zM289.1 849.8h1.9v1.9h-1.9zM262.1 865.7h1.9v1.9h-1.9zM291.2 877.7h1.9v1.9h-1.9zM276.3 872.2h1.9v1.9h-1.9zM296.9 868.0h1.9v1.9h-1.9zM273.6 872.2h1.9v1.9h-1.9zM252.2 876.4h1.9v1.9h-1.9zM276.9 876.1h1.9v1.9h-1.9zM265.2 870.6h1.9v1.9h-1.9zM271.5 876.2h1.9v1.9h-1.9zM283.0 867.0h1.9v1.9h-1.9zM275.8 881.2h1.9v1.9h-1.9zM283.4 875.1h1.9v1.9h-1.9zM284.4 875.9h1.9v1.9h-1.9zM266.8 871.9h1.9v1.9h-1.9zM285.4 858.1h1.9v1.9h-1.9zM276.3 866.3h1.9v1.9h-1.9zM251.6 849.2h1.9v1.9h-1.9zM296.1 870.2h1.9v1.9h-1.9zM278.3 876.4h1.9v1.9h-1.9zM285.1 872.2h1.9v1.9h-1.9zM278.6 870.8h1.9v1.9h-1.9zM295.7 864.1h1.9v1.9h-1.9zM279.8 865.1h1.9v1.9h-1.9zM272.1 854.2h1.9v1.9h-1.9zM286.1 856.7h1.9v1.9h-1.9zM280.7 864.5h1.9v1.9h-1.9zM292.8 864.5h1.9v1.9h-1.9zM307.1 872.2h1.9v1.9h-1.9zM265.6 873.4h1.9v1.9h-1.9zM279.1 869.8h1.9v1.9h-1.9zM272.7 857.5h1.9v1.9h-1.9zM282.7 860.8h1.9v1.9h-1.9zM281.7 864.4h1.9v1.9h-1.9zM270.7 875.6h1.9v1.9h-1.9zM253.4 873.6h1.9v1.9h-1.9zM276.2 859.1h1.9v1.9h-1.9zM285.3 861.3h1.9v1.9h-1.9zM275.3 862.4h1.9v1.9h-1.9zM278.1 869.7h1.9v1.9h-1.9zM284.3 878.0h1.9v1.9h-1.9zM276.2 863.8h1.9v1.9h-1.9zM288.2 851.1h1.9v1.9h-1.9zM279.8 866.4h1.9v1.9h-1.9zM263.9 867.5h1.9v1.9h-1.9zM287.9 844.6h1.9v1.9h-1.9zM296.6 852.3h1.9v1.9h-1.9zM279.4 865.0h1.9v1.9h-1.9zM278.0 863.2h1.9v1.9h-1.9zM289.6 858.9h1.9v1.9h-1.9zM277.6 873.5h1.9v1.9h-1.9zM276.4 860.0h1.9v1.9h-1.9zM278.6 875.3h1.9v1.9h-1.9zM296.8 858.9h1.9v1.9h-1.9zM274.9 870.7h1.9v1.9h-1.9zM275.3 859.1h1.9v1.9h-1.9zM275.9 874.4h1.9v1.9h-1.9zM267.4 878.8h1.9v1.9h-1.9zM279.3 874.4h1.9v1.9h-1.9zM290.4 867.7h1.9v1.9h-1.9zM287.3 860.7h1.9v1.9h-1.9zM301.1 859.8h1.9v1.9h-1.9zM304.2 849.4h1.9v1.9h-1.9zM266.7 877.5h1.9v1.9h-1.9z" fill="#12b446"/>
<path d="M253.3 880.5h1.9v1.9h-1.9zM298.8 878.9h1.9v1.9h-1.9zM298.0 874.2h1.9v1.9h-1.9zM268.7 878.3h1.9v1.9h-1.9zM274.5 875.2h1.9v1.9h-1.9zM278.4 874.8h1.9v1.9h-1.9zM299.2 869.5h1.9v1.9h-1.9zM296.7 870.7h1.9v1.9h-1.9zM270.3 875.2h1.9v1.9h-1.9zM269.8 878.9h1.9v1.9h-1.9zM276.8 879.0h1.9v1.9h-1.9zM268.1 878.4h1.9v1.9h-1.9zM290.4 877.4h1.9v1.9h-1.9zM280.9 874.1h1.9v1.9h-1.9zM287.6 880.1h1.9v1.9h-1.9zM272.4 883.9h1.9v1.9h-1.9zM257.9 877.6h1.9v1.9h-1.9zM269.9 880.7h1.9v1.9h-1.9zM281.4 874.8h1.9v1.9h-1.9zM265.1 879.2h1.9v1.9h-1.9zM277.9 878.9h1.9v1.9h-1.9zM279.9 877.3h1.9v1.9h-1.9zM269.8 876.9h1.9v1.9h-1.9zM276.2 877.2h1.9v1.9h-1.9zM273.6 880.7h1.9v1.9h-1.9zM273.9 879.5h1.9v1.9h-1.9zM286.1 879.0h1.9v1.9h-1.9zM275.9 877.1h1.9v1.9h-1.9zM286.7 862.8h1.9v1.9h-1.9zM283.7 876.0h1.9v1.9h-1.9zM286.7 879.0h1.9v1.9h-1.9zM259.7 880.4h1.9v1.9h-1.9zM273.2 877.8h1.9v1.9h-1.9zM275.6 876.5h1.9v1.9h-1.9zM296.4 868.0h1.9v1.9h-1.9zM270.4 879.3h1.9v1.9h-1.9zM285.1 875.7h1.9v1.9h-1.9zM287.2 874.4h1.9v1.9h-1.9zM270.3 879.3h1.9v1.9h-1.9zM268.8 878.0h1.9v1.9h-1.9zM294.7 876.6h1.9v1.9h-1.9zM287.7 873.7h1.9v1.9h-1.9zM255.4 884.7h1.9v1.9h-1.9zM285.3 878.0h1.9v1.9h-1.9zM283.6 880.1h1.9v1.9h-1.9zM280.8 878.9h1.9v1.9h-1.9z" fill="#168a90"/>
<path d="M274.5 883.6h1.9v1.9h-1.9zM278.5 886.7h1.9v1.9h-1.9zM270.2 889.4h1.9v1.9h-1.9zM307.3 878.3h1.9v1.9h-1.9zM256.9 885.1h1.9v1.9h-1.9zM258.6 878.8h1.9v1.9h-1.9zM258.9 881.7h1.9v1.9h-1.9zM283.5 881.0h1.9v1.9h-1.9zM240.8 886.3h1.9v1.9h-1.9zM285.1 878.0h1.9v1.9h-1.9zM270.9 883.3h1.9v1.9h-1.9zM280.6 882.7h1.9v1.9h-1.9zM275.2 880.3h1.9v1.9h-1.9zM308.1 881.4h1.9v1.9h-1.9zM267.5 880.3h1.9v1.9h-1.9zM288.6 881.3h1.9v1.9h-1.9zM273.5 879.0h1.9v1.9h-1.9zM290.6 880.5h1.9v1.9h-1.9zM302.7 880.8h1.9v1.9h-1.9zM277.2 880.6h1.9v1.9h-1.9zM300.6 875.2h1.9v1.9h-1.9zM267.1 885.1h1.9v1.9h-1.9zM254.5 841.4h1.9v1.9h-1.9zM256.1 884.1h1.9v1.9h-1.9zM273.2 881.6h1.9v1.9h-1.9zM280.1 887.8h1.9v1.9h-1.9zM278.3 882.7h1.9v1.9h-1.9zM258.2 881.8h1.9v1.9h-1.9zM299.9 881.1h1.9v1.9h-1.9zM268.7 882.1h1.9v1.9h-1.9z" fill="#1f58c8"/>
<path d="M254.6 886.8h1.9v1.9h-1.9zM293.0 876.6h1.9v1.9h-1.9zM266.1 892.3h1.9v1.9h-1.9zM270.2 881.4h1.9v1.9h-1.9zM296.6 877.7h1.9v1.9h-1.9zM300.7 885.3h1.9v1.9h-1.9zM280.1 888.2h1.9v1.9h-1.9zM274.3 886.9h1.9v1.9h-1.9zM259.1 890.9h1.9v1.9h-1.9zM260.1 885.4h1.9v1.9h-1.9zM277.1 885.8h1.9v1.9h-1.9zM295.0 888.9h1.9v1.9h-1.9zM296.3 888.5h1.9v1.9h-1.9zM270.4 894.5h1.9v1.9h-1.9zM283.7 893.2h1.9v1.9h-1.9zM287.8 884.5h1.9v1.9h-1.9zM276.4 887.8h1.9v1.9h-1.9zM277.0 882.2h1.9v1.9h-1.9zM288.3 885.8h1.9v1.9h-1.9zM279.5 890.4h1.9v1.9h-1.9zM290.2 890.0h1.9v1.9h-1.9zM288.1 882.6h1.9v1.9h-1.9zM279.2 889.3h1.9v1.9h-1.9zM287.0 885.3h1.9v1.9h-1.9zM263.4 885.6h1.9v1.9h-1.9zM292.6 883.3h1.9v1.9h-1.9zM269.5 887.7h1.9v1.9h-1.9zM271.8 890.6h1.9v1.9h-1.9zM284.7 893.7h1.9v1.9h-1.9zM296.2 888.6h1.9v1.9h-1.9zM263.4 835.5h1.9v1.9h-1.9zM268.7 883.3h1.9v1.9h-1.9zM269.8 884.8h1.9v1.9h-1.9zM279.7 889.8h1.9v1.9h-1.9zM275.1 887.4h1.9v1.9h-1.9zM301.3 892.0h1.9v1.9h-1.9z" fill="#1a30e0"/>
<path d="M238.2 833.1h1.9v1.9h-1.9zM244.2 833.7h1.9v1.9h-1.9zM252.6 836.3h1.9v1.9h-1.9zM244.9 830.7h1.9v1.9h-1.9zM247.6 837.4h1.9v1.9h-1.9zM254.6 841.3h1.9v1.9h-1.9zM240.5 826.3h1.9v1.9h-1.9zM247.6 831.8h1.9v1.9h-1.9zM243.3 826.5h1.9v1.9h-1.9zM245.3 834.3h1.9v1.9h-1.9zM244.6 824.6h1.9v1.9h-1.9z" fill="#ffc800"/>
<path d="M245.4 838.1h1.9v1.9h-1.9zM255.6 828.1h1.9v1.9h-1.9zM239.0 837.5h1.9v1.9h-1.9zM249.2 830.5h1.9v1.9h-1.9zM277.0 829.0h1.9v1.9h-1.9zM260.0 825.7h1.9v1.9h-1.9zM243.9 837.1h1.9v1.9h-1.9zM252.0 844.3h1.9v1.9h-1.9zM271.8 835.6h1.9v1.9h-1.9zM269.0 829.1h1.9v1.9h-1.9zM261.1 844.4h1.9v1.9h-1.9zM250.8 826.0h1.9v1.9h-1.9zM268.8 834.3h1.9v1.9h-1.9zM261.1 838.6h1.9v1.9h-1.9zM261.9 827.5h1.9v1.9h-1.9zM247.6 836.4h1.9v1.9h-1.9zM255.6 831.2h1.9v1.9h-1.9zM242.5 847.3h1.9v1.9h-1.9zM248.8 833.8h1.9v1.9h-1.9zM245.9 831.8h1.9v1.9h-1.9zM257.9 827.9h1.9v1.9h-1.9zM249.0 835.3h1.9v1.9h-1.9zM268.3 825.1h1.9v1.9h-1.9zM261.2 834.4h1.9v1.9h-1.9zM253.4 850.9h1.9v1.9h-1.9zM260.0 844.3h1.9v1.9h-1.9zM263.9 836.9h1.9v1.9h-1.9zM249.9 829.7h1.9v1.9h-1.9zM266.5 835.7h1.9v1.9h-1.9zM243.0 837.2h1.9v1.9h-1.9zM246.4 831.8h1.9v1.9h-1.9zM246.0 845.5h1.9v1.9h-1.9zM255.4 825.4h1.9v1.9h-1.9zM245.6 837.8h1.9v1.9h-1.9zM256.1 828.7h1.9v1.9h-1.9zM263.6 828.4h1.9v1.9h-1.9zM254.3 833.1h1.9v1.9h-1.9zM243.5 829.3h1.9v1.9h-1.9zM244.6 834.1h1.9v1.9h-1.9zM252.6 828.0h1.9v1.9h-1.9zM244.2 839.5h1.9v1.9h-1.9zM273.7 829.1h1.9v1.9h-1.9zM254.8 833.9h1.9v1.9h-1.9zM260.7 834.6h1.9v1.9h-1.9zM247.5 833.6h1.9v1.9h-1.9zM256.3 829.9h1.9v1.9h-1.9zM249.9 828.0h1.9v1.9h-1.9zM254.6 838.5h1.9v1.9h-1.9zM255.5 834.3h1.9v1.9h-1.9zM255.4 830.2h1.9v1.9h-1.9zM246.7 841.8h1.9v1.9h-1.9zM259.6 837.8h1.9v1.9h-1.9zM255.8 841.3h1.9v1.9h-1.9zM244.3 828.8h1.9v1.9h-1.9zM250.9 842.6h1.9v1.9h-1.9zM255.3 827.1h1.9v1.9h-1.9zM239.5 825.9h1.9v1.9h-1.9zM249.9 835.6h1.9v1.9h-1.9zM270.9 829.8h1.9v1.9h-1.9zM269.4 833.5h1.9v1.9h-1.9zM263.5 846.2h1.9v1.9h-1.9zM277.0 828.4h1.9v1.9h-1.9zM262.3 851.4h1.9v1.9h-1.9zM251.3 828.2h1.9v1.9h-1.9zM269.5 845.4h1.9v1.9h-1.9zM272.7 835.4h1.9v1.9h-1.9zM262.9 831.2h1.9v1.9h-1.9zM260.4 833.7h1.9v1.9h-1.9zM252.8 845.4h1.9v1.9h-1.9zM254.5 828.5h1.9v1.9h-1.9zM276.7 832.5h1.9v1.9h-1.9zM251.2 836.9h1.9v1.9h-1.9zM272.5 826.3h1.9v1.9h-1.9zM244.3 827.4h1.9v1.9h-1.9zM253.8 843.1h1.9v1.9h-1.9zM236.7 839.2h1.9v1.9h-1.9zM255.2 836.3h1.9v1.9h-1.9z" fill="#f0ee00"/>
<path d="M263.9 839.3h1.9v1.9h-1.9zM252.6 846.9h1.9v1.9h-1.9zM262.9 839.8h1.9v1.9h-1.9zM265.4 841.6h1.9v1.9h-1.9zM255.7 864.8h1.9v1.9h-1.9zM254.8 831.6h1.9v1.9h-1.9zM256.3 848.1h1.9v1.9h-1.9zM269.7 839.7h1.9v1.9h-1.9zM265.0 841.5h1.9v1.9h-1.9zM278.4 841.3h1.9v1.9h-1.9zM268.1 833.6h1.9v1.9h-1.9zM263.1 831.7h1.9v1.9h-1.9zM268.5 831.7h1.9v1.9h-1.9zM271.2 838.7h1.9v1.9h-1.9zM260.6 831.2h1.9v1.9h-1.9zM248.3 842.3h1.9v1.9h-1.9zM252.3 846.3h1.9v1.9h-1.9zM254.4 847.4h1.9v1.9h-1.9zM272.1 836.6h1.9v1.9h-1.9zM256.7 844.0h1.9v1.9h-1.9zM286.3 829.9h1.9v1.9h-1.9zM258.6 832.3h1.9v1.9h-1.9zM260.5 848.2h1.9v1.9h-1.9zM248.9 855.6h1.9v1.9h-1.9zM260.3 826.5h1.9v1.9h-1.9zM268.4 841.4h1.9v1.9h-1.9zM268.1 843.5h1.9v1.9h-1.9zM262.8 840.7h1.9v1.9h-1.9zM240.2 847.0h1.9v1.9h-1.9zM256.1 834.0h1.9v1.9h-1.9zM246.7 861.5h1.9v1.9h-1.9zM272.8 834.7h1.9v1.9h-1.9zM249.5 845.3h1.9v1.9h-1.9zM264.8 831.4h1.9v1.9h-1.9zM272.3 849.5h1.9v1.9h-1.9zM275.6 837.5h1.9v1.9h-1.9zM260.5 851.4h1.9v1.9h-1.9zM255.4 828.1h1.9v1.9h-1.9zM276.3 836.5h1.9v1.9h-1.9zM268.0 848.9h1.9v1.9h-1.9zM262.5 839.2h1.9v1.9h-1.9zM257.3 836.0h1.9v1.9h-1.9zM248.8 855.5h1.9v1.9h-1.9zM241.3 860.5h1.9v1.9h-1.9zM267.2 838.8h1.9v1.9h-1.9zM252.8 826.4h1.9v1.9h-1.9zM252.7 839.4h1.9v1.9h-1.9zM267.2 854.4h1.9v1.9h-1.9zM270.9 838.3h1.9v1.9h-1.9zM263.0 844.0h1.9v1.9h-1.9zM239.7 846.3h1.9v1.9h-1.9zM280.2 844.9h1.9v1.9h-1.9zM263.9 841.1h1.9v1.9h-1.9zM269.9 831.0h1.9v1.9h-1.9zM266.6 842.7h1.9v1.9h-1.9zM259.9 846.6h1.9v1.9h-1.9zM253.2 834.7h1.9v1.9h-1.9zM274.6 835.2h1.9v1.9h-1.9zM261.9 836.8h1.9v1.9h-1.9zM243.5 837.6h1.9v1.9h-1.9zM272.0 855.9h1.9v1.9h-1.9zM262.2 852.2h1.9v1.9h-1.9zM257.0 852.9h1.9v1.9h-1.9zM264.4 849.2h1.9v1.9h-1.9zM269.2 840.1h1.9v1.9h-1.9zM256.9 840.1h1.9v1.9h-1.9zM254.9 843.9h1.9v1.9h-1.9zM262.0 850.5h1.9v1.9h-1.9zM254.4 852.0h1.9v1.9h-1.9zM260.3 827.4h1.9v1.9h-1.9zM259.7 828.9h1.9v1.9h-1.9zM284.7 849.9h1.9v1.9h-1.9zM260.3 830.1h1.9v1.9h-1.9zM260.8 844.6h1.9v1.9h-1.9zM265.0 858.5h1.9v1.9h-1.9zM257.4 846.3h1.9v1.9h-1.9zM261.5 832.1h1.9v1.9h-1.9zM272.8 840.1h1.9v1.9h-1.9zM266.5 849.9h1.9v1.9h-1.9zM251.3 828.6h1.9v1.9h-1.9zM252.9 842.1h1.9v1.9h-1.9zM260.9 845.3h1.9v1.9h-1.9zM268.3 850.6h1.9v1.9h-1.9zM259.9 852.1h1.9v1.9h-1.9zM272.9 842.9h1.9v1.9h-1.9zM253.4 847.3h1.9v1.9h-1.9zM263.6 843.3h1.9v1.9h-1.9zM263.4 848.8h1.9v1.9h-1.9zM275.1 843.5h1.9v1.9h-1.9zM267.4 838.9h1.9v1.9h-1.9zM280.1 834.9h1.9v1.9h-1.9zM262.4 836.3h1.9v1.9h-1.9zM252.6 839.3h1.9v1.9h-1.9zM272.2 839.9h1.9v1.9h-1.9zM254.4 850.0h1.9v1.9h-1.9zM264.7 838.1h1.9v1.9h-1.9zM272.7 829.5h1.9v1.9h-1.9zM262.0 859.5h1.9v1.9h-1.9zM245.3 841.5h1.9v1.9h-1.9zM283.3 831.0h1.9v1.9h-1.9zM246.0 853.2h1.9v1.9h-1.9zM264.5 854.5h1.9v1.9h-1.9zM244.6 844.6h1.9v1.9h-1.9zM270.9 825.3h1.9v1.9h-1.9zM259.6 839.8h1.9v1.9h-1.9zM255.9 847.4h1.9v1.9h-1.9zM271.6 841.8h1.9v1.9h-1.9zM268.5 836.9h1.9v1.9h-1.9zM252.3 849.0h1.9v1.9h-1.9zM255.6 848.6h1.9v1.9h-1.9zM261.1 848.7h1.9v1.9h-1.9zM257.9 859.5h1.9v1.9h-1.9zM264.7 844.1h1.9v1.9h-1.9zM266.8 841.0h1.9v1.9h-1.9zM261.9 846.2h1.9v1.9h-1.9zM280.3 845.1h1.9v1.9h-1.9zM255.4 846.0h1.9v1.9h-1.9zM247.5 848.3h1.9v1.9h-1.9zM260.3 852.9h1.9v1.9h-1.9zM246.1 852.1h1.9v1.9h-1.9zM274.6 843.2h1.9v1.9h-1.9zM260.7 833.1h1.9v1.9h-1.9zM259.4 828.7h1.9v1.9h-1.9zM276.7 862.7h1.9v1.9h-1.9zM263.9 842.3h1.9v1.9h-1.9zM254.5 836.9h1.9v1.9h-1.9zM257.8 852.6h1.9v1.9h-1.9zM265.3 853.9h1.9v1.9h-1.9zM268.1 842.4h1.9v1.9h-1.9zM253.3 833.3h1.9v1.9h-1.9zM253.6 847.8h1.9v1.9h-1.9zM264.7 832.0h1.9v1.9h-1.9zM254.3 859.6h1.9v1.9h-1.9zM280.2 834.0h1.9v1.9h-1.9zM250.4 851.9h1.9v1.9h-1.9zM273.8 832.8h1.9v1.9h-1.9zM278.4 829.3h1.9v1.9h-1.9zM248.1 850.8h1.9v1.9h-1.9zM257.0 825.9h1.9v1.9h-1.9zM279.9 832.0h1.9v1.9h-1.9zM246.7 847.2h1.9v1.9h-1.9zM257.6 842.8h1.9v1.9h-1.9zM268.2 856.3h1.9v1.9h-1.9zM260.3 857.3h1.9v1.9h-1.9zM261.5 833.0h1.9v1.9h-1.9zM254.4 826.2h1.9v1.9h-1.9zM266.8 849.9h1.9v1.9h-1.9zM258.0 839.0h1.9v1.9h-1.9zM251.1 860.8h1.9v1.9h-1.9zM262.5 846.6h1.9v1.9h-1.9zM252.5 859.0h1.9v1.9h-1.9zM246.5 840.9h1.9v1.9h-1.9zM273.6 836.0h1.9v1.9h-1.9zM275.8 841.9h1.9v1.9h-1.9zM266.5 831.7h1.9v1.9h-1.9zM272.7 855.0h1.9v1.9h-1.9zM252.9 853.9h1.9v1.9h-1.9zM265.0 837.0h1.9v1.9h-1.9zM267.3 851.8h1.9v1.9h-1.9zM253.7 842.6h1.9v1.9h-1.9zM248.7 844.4h1.9v1.9h-1.9zM278.7 854.3h1.9v1.9h-1.9zM267.8 854.1h1.9v1.9h-1.9zM254.4 831.3h1.9v1.9h-1.9zM255.5 858.1h1.9v1.9h-1.9zM259.8 849.0h1.9v1.9h-1.9zM243.7 846.6h1.9v1.9h-1.9zM252.9 834.5h1.9v1.9h-1.9zM271.8 839.7h1.9v1.9h-1.9zM267.2 840.3h1.9v1.9h-1.9zM269.9 826.7h1.9v1.9h-1.9zM272.4 829.9h1.9v1.9h-1.9zM265.6 835.8h1.9v1.9h-1.9zM276.4 838.7h1.9v1.9h-1.9zM269.1 849.0h1.9v1.9h-1.9zM273.6 853.7h1.9v1.9h-1.9zM268.5 843.8h1.9v1.9h-1.9zM251.6 846.7h1.9v1.9h-1.9zM256.7 846.7h1.9v1.9h-1.9zM258.9 834.5h1.9v1.9h-1.9zM281.8 854.7h1.9v1.9h-1.9zM243.9 853.4h1.9v1.9h-1.9zM260.9 845.0h1.9v1.9h-1.9zM257.1 846.3h1.9v1.9h-1.9zM259.0 832.3h1.9v1.9h-1.9zM261.3 851.1h1.9v1.9h-1.9zM262.9 827.4h1.9v1.9h-1.9zM263.7 852.2h1.9v1.9h-1.9zM260.3 845.4h1.9v1.9h-1.9zM275.3 848.8h1.9v1.9h-1.9zM247.7 838.8h1.9v1.9h-1.9zM263.9 828.5h1.9v1.9h-1.9zM265.9 836.7h1.9v1.9h-1.9zM271.0 843.2h1.9v1.9h-1.9zM275.6 841.6h1.9v1.9h-1.9zM248.2 845.6h1.9v1.9h-1.9zM243.3 850.0h1.9v1.9h-1.9zM268.9 832.4h1.9v1.9h-1.9zM262.3 857.3h1.9v1.9h-1.9zM282.0 840.1h1.9v1.9h-1.9zM254.4 854.6h1.9v1.9h-1.9zM249.9 848.1h1.9v1.9h-1.9zM267.4 844.4h1.9v1.9h-1.9zM242.2 824.2h1.9v1.9h-1.9zM258.2 852.8h1.9v1.9h-1.9zM273.9 855.6h1.9v1.9h-1.9zM266.2 837.6h1.9v1.9h-1.9zM251.9 846.7h1.9v1.9h-1.9zM270.4 855.9h1.9v1.9h-1.9zM254.3 855.6h1.9v1.9h-1.9zM251.3 832.7h1.9v1.9h-1.9zM245.0 835.9h1.9v1.9h-1.9z" fill="#a8f000"/>
<path d="M273.9 850.5h1.9v1.9h-1.9zM268.6 851.4h1.9v1.9h-1.9zM268.4 852.2h1.9v1.9h-1.9zM263.4 847.1h1.9v1.9h-1.9zM268.7 834.3h1.9v1.9h-1.9zM278.7 852.0h1.9v1.9h-1.9zM284.7 833.5h1.9v1.9h-1.9zM256.8 860.6h1.9v1.9h-1.9zM254.5 855.2h1.9v1.9h-1.9zM282.2 838.7h1.9v1.9h-1.9zM280.4 831.4h1.9v1.9h-1.9zM255.9 859.8h1.9v1.9h-1.9zM273.4 865.4h1.9v1.9h-1.9zM254.8 857.7h1.9v1.9h-1.9zM282.8 859.2h1.9v1.9h-1.9zM266.5 859.1h1.9v1.9h-1.9zM256.5 864.8h1.9v1.9h-1.9zM268.0 845.6h1.9v1.9h-1.9zM271.2 844.5h1.9v1.9h-1.9zM261.5 855.9h1.9v1.9h-1.9zM268.8 838.8h1.9v1.9h-1.9zM258.5 855.9h1.9v1.9h-1.9zM266.2 855.6h1.9v1.9h-1.9zM255.8 838.3h1.9v1.9h-1.9zM265.9 834.1h1.9v1.9h-1.9zM272.5 847.5h1.9v1.9h-1.9zM274.5 847.4h1.9v1.9h-1.9zM254.8 842.7h1.9v1.9h-1.9zM259.9 840.7h1.9v1.9h-1.9zM256.8 843.1h1.9v1.9h-1.9zM241.6 856.2h1.9v1.9h-1.9zM266.1 844.8h1.9v1.9h-1.9zM255.3 859.1h1.9v1.9h-1.9zM253.7 856.4h1.9v1.9h-1.9zM288.4 861.7h1.9v1.9h-1.9zM281.3 834.2h1.9v1.9h-1.9zM272.6 853.4h1.9v1.9h-1.9zM291.3 850.0h1.9v1.9h-1.9zM266.6 875.4h1.9v1.9h-1.9zM269.7 847.4h1.9v1.9h-1.9zM279.3 848.2h1.9v1.9h-1.9zM271.4 860.8h1.9v1.9h-1.9zM253.4 853.3h1.9v1.9h-1.9zM243.8 839.5h1.9v1.9h-1.9zM250.3 861.2h1.9v1.9h-1.9zM279.4 847.8h1.9v1.9h-1.9zM259.9 847.4h1.9v1.9h-1.9zM258.5 848.6h1.9v1.9h-1.9zM270.4 870.2h1.9v1.9h-1.9zM273.9 851.1h1.9v1.9h-1.9zM282.8 843.1h1.9v1.9h-1.9zM261.9 863.3h1.9v1.9h-1.9zM255.0 849.0h1.9v1.9h-1.9zM267.6 839.7h1.9v1.9h-1.9zM257.5 846.9h1.9v1.9h-1.9zM260.3 844.8h1.9v1.9h-1.9zM271.7 846.1h1.9v1.9h-1.9zM283.4 864.8h1.9v1.9h-1.9zM267.9 863.1h1.9v1.9h-1.9zM255.8 870.1h1.9v1.9h-1.9zM253.4 850.2h1.9v1.9h-1.9zM263.0 854.1h1.9v1.9h-1.9zM271.4 857.4h1.9v1.9h-1.9zM281.3 851.5h1.9v1.9h-1.9zM252.9 867.8h1.9v1.9h-1.9zM266.5 853.6h1.9v1.9h-1.9zM279.0 860.2h1.9v1.9h-1.9zM276.3 850.4h1.9v1.9h-1.9zM267.9 849.7h1.9v1.9h-1.9zM271.7 860.9h1.9v1.9h-1.9zM248.2 851.1h1.9v1.9h-1.9zM257.4 859.2h1.9v1.9h-1.9zM265.2 844.8h1.9v1.9h-1.9zM256.7 855.7h1.9v1.9h-1.9zM274.0 844.0h1.9v1.9h-1.9zM268.3 850.5h1.9v1.9h-1.9zM258.7 839.4h1.9v1.9h-1.9zM279.5 852.1h1.9v1.9h-1.9zM259.9 864.0h1.9v1.9h-1.9zM272.3 861.8h1.9v1.9h-1.9zM277.7 849.4h1.9v1.9h-1.9zM257.5 850.0h1.9v1.9h-1.9zM271.6 848.8h1.9v1.9h-1.9zM270.0 853.4h1.9v1.9h-1.9zM288.2 829.3h1.9v1.9h-1.9zM269.5 838.0h1.9v1.9h-1.9zM251.5 860.4h1.9v1.9h-1.9zM272.4 863.1h1.9v1.9h-1.9zM281.0 860.1h1.9v1.9h-1.9zM254.9 845.2h1.9v1.9h-1.9zM256.6 851.0h1.9v1.9h-1.9zM278.2 842.3h1.9v1.9h-1.9zM258.3 866.4h1.9v1.9h-1.9zM259.7 852.3h1.9v1.9h-1.9zM246.5 856.2h1.9v1.9h-1.9zM265.2 853.8h1.9v1.9h-1.9zM270.1 826.2h1.9v1.9h-1.9zM258.6 852.0h1.9v1.9h-1.9zM295.0 841.3h1.9v1.9h-1.9zM263.6 836.3h1.9v1.9h-1.9zM276.0 857.6h1.9v1.9h-1.9zM264.0 863.0h1.9v1.9h-1.9zM262.3 862.1h1.9v1.9h-1.9zM271.2 855.5h1.9v1.9h-1.9zM263.6 847.1h1.9v1.9h-1.9zM262.2 863.5h1.9v1.9h-1.9zM262.3 849.4h1.9v1.9h-1.9zM264.3 849.8h1.9v1.9h-1.9zM266.7 840.5h1.9v1.9h-1.9zM274.1 855.5h1.9v1.9h-1.9zM265.9 835.6h1.9v1.9h-1.9zM267.2 850.8h1.9v1.9h-1.9zM264.8 847.4h1.9v1.9h-1.9zM258.0 853.6h1.9v1.9h-1.9zM254.2 849.6h1.9v1.9h-1.9zM278.3 856.3h1.9v1.9h-1.9zM276.9 843.5h1.9v1.9h-1.9zM260.9 839.6h1.9v1.9h-1.9zM267.9 838.5h1.9v1.9h-1.9zM264.7 859.2h1.9v1.9h-1.9zM259.4 864.0h1.9v1.9h-1.9zM269.5 860.3h1.9v1.9h-1.9zM251.7 846.0h1.9v1.9h-1.9zM285.9 850.6h1.9v1.9h-1.9zM287.7 849.4h1.9v1.9h-1.9zM275.4 844.3h1.9v1.9h-1.9zM261.4 839.9h1.9v1.9h-1.9zM259.0 866.8h1.9v1.9h-1.9zM260.5 840.3h1.9v1.9h-1.9zM266.7 852.0h1.9v1.9h-1.9zM271.4 848.0h1.9v1.9h-1.9zM256.4 847.5h1.9v1.9h-1.9zM272.6 837.5h1.9v1.9h-1.9zM296.9 845.6h1.9v1.9h-1.9zM274.3 852.2h1.9v1.9h-1.9zM264.8 842.4h1.9v1.9h-1.9zM261.7 859.5h1.9v1.9h-1.9zM271.7 847.5h1.9v1.9h-1.9zM293.3 850.5h1.9v1.9h-1.9zM282.9 845.7h1.9v1.9h-1.9zM265.5 856.2h1.9v1.9h-1.9zM268.8 826.1h1.9v1.9h-1.9zM250.0 851.6h1.9v1.9h-1.9zM258.1 859.6h1.9v1.9h-1.9zM261.1 848.9h1.9v1.9h-1.9zM277.1 830.9h1.9v1.9h-1.9zM261.6 852.8h1.9v1.9h-1.9zM270.5 851.5h1.9v1.9h-1.9zM283.6 848.1h1.9v1.9h-1.9zM275.8 832.2h1.9v1.9h-1.9zM265.7 860.8h1.9v1.9h-1.9zM264.5 853.9h1.9v1.9h-1.9zM251.8 853.3h1.9v1.9h-1.9zM277.6 829.6h1.9v1.9h-1.9zM269.8 850.3h1.9v1.9h-1.9zM285.3 842.7h1.9v1.9h-1.9zM256.5 844.0h1.9v1.9h-1.9zM271.2 872.2h1.9v1.9h-1.9zM264.0 852.6h1.9v1.9h-1.9zM279.9 845.8h1.9v1.9h-1.9zM252.8 861.6h1.9v1.9h-1.9zM252.3 847.6h1.9v1.9h-1.9zM261.9 833.9h1.9v1.9h-1.9zM267.3 848.5h1.9v1.9h-1.9zM261.3 863.3h1.9v1.9h-1.9zM289.6 862.2h1.9v1.9h-1.9zM263.2 848.8h1.9v1.9h-1.9zM269.2 856.8h1.9v1.9h-1.9zM262.6 848.8h1.9v1.9h-1.9zM260.6 856.4h1.9v1.9h-1.9zM272.5 854.7h1.9v1.9h-1.9zM258.4 866.8h1.9v1.9h-1.9zM265.5 873.0h1.9v1.9h-1.9zM248.7 849.1h1.9v1.9h-1.9zM262.3 838.0h1.9v1.9h-1.9zM277.1 855.8h1.9v1.9h-1.9zM255.4 862.2h1.9v1.9h-1.9zM265.1 847.2h1.9v1.9h-1.9zM263.5 845.9h1.9v1.9h-1.9zM273.7 864.1h1.9v1.9h-1.9zM260.2 854.1h1.9v1.9h-1.9zM253.9 849.0h1.9v1.9h-1.9zM256.3 844.1h1.9v1.9h-1.9zM279.1 839.6h1.9v1.9h-1.9zM263.2 840.3h1.9v1.9h-1.9zM285.1 858.7h1.9v1.9h-1.9zM264.4 857.5h1.9v1.9h-1.9zM279.4 834.3h1.9v1.9h-1.9zM270.2 857.9h1.9v1.9h-1.9zM274.5 831.2h1.9v1.9h-1.9zM267.6 854.2h1.9v1.9h-1.9zM286.0 856.8h1.9v1.9h-1.9zM274.1 844.2h1.9v1.9h-1.9zM272.0 851.1h1.9v1.9h-1.9zM246.4 859.0h1.9v1.9h-1.9zM261.0 850.5h1.9v1.9h-1.9zM259.5 842.5h1.9v1.9h-1.9zM262.2 844.0h1.9v1.9h-1.9zM272.2 839.3h1.9v1.9h-1.9zM270.3 852.0h1.9v1.9h-1.9zM266.6 857.2h1.9v1.9h-1.9zM284.6 827.7h1.9v1.9h-1.9zM253.6 862.1h1.9v1.9h-1.9zM265.0 851.2h1.9v1.9h-1.9zM271.4 838.2h1.9v1.9h-1.9zM249.9 858.1h1.9v1.9h-1.9zM267.6 862.6h1.9v1.9h-1.9zM275.7 852.4h1.9v1.9h-1.9zM271.5 862.5h1.9v1.9h-1.9zM272.7 858.5h1.9v1.9h-1.9zM266.0 848.2h1.9v1.9h-1.9zM266.7 853.1h1.9v1.9h-1.9zM252.3 855.8h1.9v1.9h-1.9zM258.5 851.0h1.9v1.9h-1.9zM262.5 865.6h1.9v1.9h-1.9zM258.4 852.8h1.9v1.9h-1.9zM278.9 857.6h1.9v1.9h-1.9zM263.3 841.0h1.9v1.9h-1.9zM242.8 852.2h1.9v1.9h-1.9zM254.1 848.1h1.9v1.9h-1.9zM274.8 847.1h1.9v1.9h-1.9zM267.4 867.3h1.9v1.9h-1.9zM257.1 859.4h1.9v1.9h-1.9zM270.9 870.0h1.9v1.9h-1.9zM267.7 850.4h1.9v1.9h-1.9zM260.1 844.6h1.9v1.9h-1.9zM250.8 862.2h1.9v1.9h-1.9zM276.6 862.0h1.9v1.9h-1.9zM260.2 845.9h1.9v1.9h-1.9zM275.1 843.5h1.9v1.9h-1.9zM278.8 858.2h1.9v1.9h-1.9zM254.1 866.2h1.9v1.9h-1.9zM272.3 849.9h1.9v1.9h-1.9zM280.4 846.5h1.9v1.9h-1.9zM263.1 857.2h1.9v1.9h-1.9zM283.5 836.7h1.9v1.9h-1.9zM274.2 851.3h1.9v1.9h-1.9zM286.3 858.4h1.9v1.9h-1.9zM281.6 844.1h1.9v1.9h-1.9zM270.4 841.3h1.9v1.9h-1.9zM254.9 854.8h1.9v1.9h-1.9zM248.5 861.3h1.9v1.9h-1.9zM252.0 850.8h1.9v1.9h-1.9zM263.8 849.3h1.9v1.9h-1.9zM272.2 845.8h1.9v1.9h-1.9zM273.9 840.2h1.9v1.9h-1.9zM263.6 833.6h1.9v1.9h-1.9zM264.2 850.9h1.9v1.9h-1.9zM297.5 852.2h1.9v1.9h-1.9zM288.7 845.1h1.9v1.9h-1.9zM269.5 846.7h1.9v1.9h-1.9zM278.3 853.4h1.9v1.9h-1.9zM281.0 839.3h1.9v1.9h-1.9zM271.4 852.6h1.9v1.9h-1.9zM265.9 860.4h1.9v1.9h-1.9zM274.5 855.2h1.9v1.9h-1.9zM249.3 858.0h1.9v1.9h-1.9zM268.9 838.5h1.9v1.9h-1.9zM249.2 845.7h1.9v1.9h-1.9zM255.5 853.4h1.9v1.9h-1.9zM274.9 845.6h1.9v1.9h-1.9zM258.3 840.1h1.9v1.9h-1.9zM284.0 863.1h1.9v1.9h-1.9zM270.8 840.9h1.9v1.9h-1.9zM285.6 852.8h1.9v1.9h-1.9zM269.0 844.9h1.9v1.9h-1.9zM278.8 843.6h1.9v1.9h-1.9zM275.8 843.5h1.9v1.9h-1.9zM273.4 839.1h1.9v1.9h-1.9zM257.5 836.5h1.9v1.9h-1.9zM268.6 862.4h1.9v1.9h-1.9zM260.3 867.8h1.9v1.9h-1.9zM254.7 855.8h1.9v1.9h-1.9zM276.7 851.7h1.9v1.9h-1.9zM265.9 861.7h1.9v1.9h-1.9zM264.7 856.8h1.9v1.9h-1.9zM263.3 857.8h1.9v1.9h-1.9zM293.4 860.9h1.9v1.9h-1.9zM252.3 857.9h1.9v1.9h-1.9zM267.0 860.2h1.9v1.9h-1.9zM288.9 846.4h1.9v1.9h-1.9zM265.4 845.0h1.9v1.9h-1.9zM274.3 837.4h1.9v1.9h-1.9zM251.2 855.4h1.9v1.9h-1.9zM270.7 852.6h1.9v1.9h-1.9zM269.4 842.3h1.9v1.9h-1.9zM262.2 856.5h1.9v1.9h-1.9zM281.8 858.4h1.9v1.9h-1.9zM280.7 841.4h1.9v1.9h-1.9zM268.4 850.3h1.9v1.9h-1.9zM299.0 850.7h1.9v1.9h-1.9zM283.9 846.3h1.9v1.9h-1.9zM267.6 850.8h1.9v1.9h-1.9zM251.5 845.2h1.9v1.9h-1.9zM266.7 862.5h1.9v1.9h-1.9zM265.4 858.5h1.9v1.9h-1.9zM251.7 848.9h1.9v1.9h-1.9zM260.9 859.5h1.9v1.9h-1.9zM281.5 855.8h1.9v1.9h-1.9zM270.5 832.0h1.9v1.9h-1.9zM266.8 854.0h1.9v1.9h-1.9zM254.5 855.4h1.9v1.9h-1.9zM267.5 843.1h1.9v1.9h-1.9zM273.6 845.0h1.9v1.9h-1.9zM250.3 861.6h1.9v1.9h-1.9zM278.1 846.4h1.9v1.9h-1.9zM260.5 852.6h1.9v1.9h-1.9zM286.9 854.0h1.9v1.9h-1.9zM275.7 859.1h1.9v1.9h-1.9zM276.3 850.6h1.9v1.9h-1.9zM259.8 852.0h1.9v1.9h-1.9zM244.8 852.7h1.9v1.9h-1.9zM269.9 846.7h1.9v1.9h-1.9zM265.9 860.4h1.9v1.9h-1.9zM265.4 837.0h1.9v1.9h-1.9zM287.8 870.4h1.9v1.9h-1.9zM265.1 848.7h1.9v1.9h-1.9zM255.7 855.6h1.9v1.9h-1.9zM267.8 856.1h1.9v1.9h-1.9zM265.9 859.6h1.9v1.9h-1.9zM268.6 853.8h1.9v1.9h-1.9zM266.2 852.2h1.9v1.9h-1.9zM281.2 847.4h1.9v1.9h-1.9zM265.7 840.1h1.9v1.9h-1.9zM270.5 850.4h1.9v1.9h-1.9zM275.2 840.4h1.9v1.9h-1.9zM262.5 865.7h1.9v1.9h-1.9zM282.5 845.9h1.9v1.9h-1.9zM265.5 855.8h1.9v1.9h-1.9zM258.2 854.9h1.9v1.9h-1.9zM262.7 840.3h1.9v1.9h-1.9zM268.9 856.6h1.9v1.9h-1.9zM276.0 844.3h1.9v1.9h-1.9zM267.7 853.7h1.9v1.9h-1.9z" fill="#50ec0a"/>
<path d="M259.7 865.5h1.9v1.9h-1.9zM290.2 859.4h1.9v1.9h-1.9zM274.3 869.4h1.9v1.9h-1.9zM260.8 862.3h1.9v1.9h-1.9zM252.3 863.9h1.9v1.9h-1.9zM257.5 853.2h1.9v1.9h-1.9zM261.2 867.6h1.9v1.9h-1.9zM301.8 833.3h1.9v1.9h-1.9zM268.0 862.8h1.9v1.9h-1.9zM257.4 844.9h1.9v1.9h-1.9zM285.7 846.8h1.9v1.9h-1.9zM294.9 853.7h1.9v1.9h-1.9zM262.7 868.2h1.9v1.9h-1.9zM275.4 861.1h1.9v1.9h-1.9zM257.8 867.4h1.9v1.9h-1.9zM280.9 860.7h1.9v1.9h-1.9zM295.9 848.1h1.9v1.9h-1.9zM283.9 867.8h1.9v1.9h-1.9zM275.8 848.0h1.9v1.9h-1.9zM268.9 856.8h1.9v1.9h-1.9zM284.7 872.7h1.9v1.9h-1.9zM260.9 856.3h1.9v1.9h-1.9zM269.5 873.9h1.9v1.9h-1.9zM280.7 860.1h1.9v1.9h-1.9zM296.5 849.3h1.9v1.9h-1.9zM270.9 849.7h1.9v1.9h-1.9zM264.1 867.9h1.9v1.9h-1.9zM281.1 864.7h1.9v1.9h-1.9zM272.8 865.9h1.9v1.9h-1.9zM273.9 862.3h1.9v1.9h-1.9zM249.0 865.7h1.9v1.9h-1.9zM251.5 848.6h1.9v1.9h-1.9zM262.1 842.8h1.9v1.9h-1.9zM272.8 857.1h1.9v1.9h-1.9zM269.5 861.4h1.9v1.9h-1.9zM269.5 853.2h1.9v1.9h-1.9zM278.8 872.9h1.9v1.9h-1.9zM245.5 872.6h1.9v1.9h-1.9zM266.5 874.6h1.9v1.9h-1.9zM259.0 849.6h1.9v1.9h-1.9zM244.9 872.5h1.9v1.9h-1.9zM280.2 868.4h1.9v1.9h-1.9zM262.8 866.6h1.9v1.9h-1.9zM285.3 872.4h1.9v1.9h-1.9zM277.8 853.1h1.9v1.9h-1.9zM281.8 864.7h1.9v1.9h-1.9zM283.8 845.6h1.9v1.9h-1.9zM264.8 866.5h1.9v1.9h-1.9zM256.0 854.5h1.9v1.9h-1.9zM293.2 841.1h1.9v1.9h-1.9zM266.7 858.8h1.9v1.9h-1.9zM261.8 879.9h1.9v1.9h-1.9zM285.7 869.2h1.9v1.9h-1.9zM262.5 870.8h1.9v1.9h-1.9zM267.3 867.5h1.9v1.9h-1.9zM268.9 863.1h1.9v1.9h-1.9zM269.4 867.1h1.9v1.9h-1.9zM264.2 851.4h1.9v1.9h-1.9zM256.4 868.5h1.9v1.9h-1.9zM287.3 842.4h1.9v1.9h-1.9zM269.1 865.9h1.9v1.9h-1.9zM281.1 859.1h1.9v1.9h-1.9zM270.6 859.5h1.9v1.9h-1.9zM259.5 852.2h1.9v1.9h-1.9zM256.6 856.0h1.9v1.9h-1.9zM284.1 859.0h1.9v1.9h-1.9zM277.7 860.6h1.9v1.9h-1.9zM275.0 874.3h1.9v1.9h-1.9zM274.8 861.6h1.9v1.9h-1.9zM296.3 862.3h1.9v1.9h-1.9zM286.0 868.1h1.9v1.9h-1.9zM269.1 855.9h1.9v1.9h-1.9zM292.2 856.7h1.9v1.9h-1.9zM269.2 857.6h1.9v1.9h-1.9zM268.3 859.6h1.9v1.9h-1.9zM279.0 859.8h1.9v1.9h-1.9zM268.4 859.1h1.9v1.9h-1.9zM268.8 866.2h1.9v1.9h-1.9zM283.0 859.0h1.9v1.9h-1.9zM265.1 865.9h1.9v1.9h-1.9zM269.9 854.8h1.9v1.9h-1.9zM285.7 856.3h1.9v1.9h-1.9zM277.8 847.4h1.9v1.9h-1.9zM250.8 874.1h1.9v1.9h-1.9zM276.4 867.2h1.9v1.9h-1.9zM262.7 858.9h1.9v1.9h-1.9zM270.8 857.3h1.9v1.9h-1.9zM287.4 860.1h1.9v1.9h-1.9zM265.9 868.4h1.9v1.9h-1.9zM278.4 868.5h1.9v1.9h-1.9zM263.5 856.0h1.9v1.9h-1.9zM280.8 865.1h1.9v1.9h-1.9zM277.0 851.5h1.9v1.9h-1.9zM285.2 855.3h1.9v1.9h-1.9zM262.5 859.3h1.9v1.9h-1.9zM291.6 863.9h1.9v1.9h-1.9zM273.6 864.4h1.9v1.9h-1.9zM276.7 872.1h1.9v1.9h-1.9zM277.9 862.9h1.9v1.9h-1.9zM264.4 863.3h1.9v1.9h-1.9zM295.1 845.5h1.9v1.9h-1.9zM276.1 862.0h1.9v1.9h-1.9zM294.7 855.7h1.9v1.9h-1.9zM273.1 861.0h1.9v1.9h-1.9zM282.7 869.1h1.9v1.9h-1.9zM290.4 861.5h1.9v1.9h-1.9zM296.9 855.5h1.9v1.9h-1.9zM282.1 867.2h1.9v1.9h-1.9zM273.1 860.9h1.9v1.9h-1.9zM257.6 868.1h1.9v1.9h-1.9zM262.2 856.6h1.9v1.9h-1.9zM283.2 859.7h1.9v1.9h-1.9zM278.9 855.5h1.9v1.9h-1.9zM275.0 863.0h1.9v1.9h-1.9zM274.1 856.9h1.9v1.9h-1.9zM289.0 845.0h1.9v1.9h-1.9zM287.0 846.1h1.9v1.9h-1.9zM264.2 862.3h1.9v1.9h-1.9zM263.2 855.7h1.9v1.9h-1.9zM278.3 862.0h1.9v1.9h-1.9zM268.2 863.8h1.9v1.9h-1.9zM271.4 862.4h1.9v1.9h-1.9zM271.4 863.0h1.9v1.9h-1.9zM269.6 866.2h1.9v1.9h-1.9zM278.7 861.7h1.9v1.9h-1.9zM283.1 848.1h1.9v1.9h-1.9zM275.8 855.5h1.9v1.9h-1.9zM281.0 851.0h1.9v1.9h-1.9zM261.1 874.4h1.9v1.9h-1.9zM293.1 853.5h1.9v1.9h-1.9zM279.1 864.4h1.9v1.9h-1.9zM260.2 873.5h1.9v1.9h-1.9zM279.2 847.7h1.9v1.9h-1.9zM285.1 854.3h1.9v1.9h-1.9zM279.3 856.8h1.9v1.9h-1.9zM276.0 862.7h1.9v1.9h-1.9zM274.7 859.3h1.9v1.9h-1.9zM275.8 856.6h1.9v1.9h-1.9zM271.7 873.2h1.9v1.9h-1.9zM267.2 854.2h1.9v1.9h-1.9zM273.1 863.0h1.9v1.9h-1.9zM275.9 868.3h1.9v1.9h-1.9zM254.8 867.7h1.9v1.9h-1.9zM255.1 870.4h1.9v1.9h-1.9zM267.0 846.4h1.9v1.9h-1.9zM292.0 847.7h1.9v1.9h-1.9zM261.4 849.1h1.9v1.9h-1.9zM255.5 870.8h1.9v1.9h-1.9zM261.5 872.2h1.9v1.9h-1.9zM270.4 866.8h1.9v1.9h-1.9zM269.1 866.8h1.9v1.9h-1.9zM279.3 865.6h1.9v1.9h-1.9zM263.6 872.3h1.9v1.9h-1.9zM263.9 855.6h1.9v1.9h-1.9zM270.7 847.2h1.9v1.9h-1.9zM270.4 869.3h1.9v1.9h-1.9zM287.8 864.5h1.9v1.9h-1.9zM260.0 860.1h1.9v1.9h-1.9zM274.1 868.6h1.9v1.9h-1.9zM274.8 859.4h1.9v1.9h-1.9zM277.8 850.6h1.9v1.9h-1.9zM274.4 863.1h1.9v1.9h-1.9zM286.5 857.0h1.9v1.9h-1.9zM267.6 860.3h1.9v1.9h-1.9zM273.9 874.3h1.9v1.9h-1.9zM298.1 851.9h1.9v1.9h-1.9zM271.4 843.2h1.9v1.9h-1.9zM270.2 852.0h1.9v1.9h-1.9zM265.2 877.5h1.9v1.9h-1.9zM293.1 872.2h1.9v1.9h-1.9zM280.1 866.5h1.9v1.9h-1.9zM261.7 874.6h1.9v1.9h-1.9zM286.5 846.8h1.9v1.9h-1.9zM280.5 857.2h1.9v1.9h-1.9zM251.9 869.1h1.9v1.9h-1.9zM297.4 859.7h1.9v1.9h-1.9zM277.8 861.7h1.9v1.9h-1.9zM260.5 858.5h1.9v1.9h-1.9zM263.5 867.1h1.9v1.9h-1.9zM285.1 860.2h1.9v1.9h-1.9zM259.4 864.4h1.9v1.9h-1.9zM266.3 874.1h1.9v1.9h-1.9zM264.1 859.3h1.9v1.9h-1.9zM270.8 857.0h1.9v1.9h-1.9zM280.8 864.4h1.9v1.9h-1.9zM264.8 851.2h1.9v1.9h-1.9zM275.6 851.6h1.9v1.9h-1.9zM261.0 872.8h1.9v1.9h-1.9zM274.5 858.6h1.9v1.9h-1.9zM252.5 871.3h1.9v1.9h-1.9zM260.2 877.0h1.9v1.9h-1.9zM276.2 861.0h1.9v1.9h-1.9zM268.9 870.9h1.9v1.9h-1.9zM267.7 857.5h1.9v1.9h-1.9zM258.9 870.5h1.9v1.9h-1.9zM293.4 859.2h1.9v1.9h-1.9zM266.9 865.4h1.9v1.9h-1.9zM285.0 856.1h1.9v1.9h-1.9zM262.9 860.8h1.9v1.9h-1.9zM266.0 860.1h1.9v1.9h-1.9zM268.4 872.6h1.9v1.9h-1.9zM274.7 870.0h1.9v1.9h-1.9zM270.2 850.0h1.9v1.9h-1.9zM290.1 857.3h1.9v1.9h-1.9zM291.0 860.2h1.9v1.9h-1.9zM256.8 865.2h1.9v1.9h-1.9zM278.5 860.4h1.9v1.9h-1.9zM276.7 857.9h1.9v1.9h-1.9zM257.9 865.4h1.9v1.9h-1.9zM286.7 865.6h1.9v1.9h-1.9zM271.4 859.4h1.9v1.9h-1.9zM268.4 849.6h1.9v1.9h-1.9zM276.7 867.9h1.9v1.9h-1.9zM278.8 862.6h1.9v1.9h-1.9zM273.3 866.3h1.9v1.9h-1.9zM269.1 859.4h1.9v1.9h-1.9zM266.5 867.7h1.9v1.9h-1.9zM259.2 863.4h1.9v1.9h-1.9zM271.6 866.2h1.9v1.9h-1.9zM284.3 851.0h1.9v1.9h-1.9zM279.3 845.0h1.9v1.9h-1.9zM277.4 862.4h1.9v1.9h-1.9zM284.2 855.2h1.9v1.9h-1.9zM283.5 869.8h1.9v1.9h-1.9zM283.1 865.9h1.9v1.9h-1.9zM290.2 866.0h1.9v1.9h-1.9zM274.9 863.1h1.9v1.9h-1.9zM289.3 861.3h1.9v1.9h-1.9zM260.8 861.4h1.9v1.9h-1.9zM286.6 872.1h1.9v1.9h-1.9zM287.4 839.7h1.9v1.9h-1.9zM278.6 863.4h1.9v1.9h-1.9zM249.6 848.4h1.9v1.9h-1.9zM264.1 867.5h1.9v1.9h-1.9zM271.5 861.5h1.9v1.9h-1.9zM253.2 868.2h1.9v1.9h-1.9zM243.4 860.3h1.9v1.9h-1.9zM283.5 863.9h1.9v1.9h-1.9zM275.1 858.8h1.9v1.9h-1.9zM266.8 858.0h1.9v1.9h-1.9zM278.9 857.8h1.9v1.9h-1.9zM291.5 870.5h1.9v1.9h-1.9zM263.3 862.3h1.9v1.9h-1.9zM282.0 844.9h1.9v1.9h-1.9zM291.7 868.2h1.9v1.9h-1.9zM267.1 850.8h1.9v1.9h-1.9zM282.5 843.8h1.9v1.9h-1.9zM266.0 850.5h1.9v1.9h-1.9zM277.6 858.5h1.9v1.9h-1.9zM264.4 866.5h1.9v1.9h-1.9zM275.7 862.6h1.9v1.9h-1.9zM286.5 864.1h1.9v1.9h-1.9zM250.2 871.2h1.9v1.9h-1.9zM268.2 865.3h1.9v1.9h-1.9zM291.0 856.8h1.9v1.9h-1.9zM279.4 871.4h1.9v1.9h-1.9zM290.7 869.6h1.9v1.9h-1.9zM263.9 860.5h1.9v1.9h-1.9zM281.2 850.2h1.9v1.9h-1.9zM275.7 865.9h1.9v1.9h-1.9zM267.4 852.6h1.9v1.9h-1.9zM295.8 859.4h1.9v1.9h-1.9zM272.2 844.1h1.9v1.9h-1.9zM277.2 846.2h1.9v1.9h-1.9zM255.3 861.4h1.9v1.9h-1.9zM278.8 845.5h1.9v1.9h-1.9zM285.3 856.4h1.9v1.9h-1.9zM273.1 870.2h1.9v1.9h-1.9zM288.4 854.3h1.9v1.9h-1.9zM271.1 858.7h1.9v1.9h-1.9zM279.0 869.3h1.9v1.9h-1.9zM301.2 860.0h1.9v1.9h-1.9zM280.6 872.5h1.9v1.9h-1.9zM264.4 865.4h1.9v1.9h-1.9zM259.5 874.6h1.9v1.9h-1.9zM293.3 855.6h1.9v1.9h-1.9zM276.4 874.7h1.9v1.9h-1.9zM266.3 859.3h1.9v1.9h-1.9zM265.2 857.7h1.9v1.9h-1.9zM265.1 872.5h1.9v1.9h-1.9zM278.2 863.3h1.9v1.9h-1.9zM295.3 855.7h1.9v1.9h-1.9zM280.7 864.2h1.9v1.9h-1.9zM253.4 873.2h1.9v1.9h-1.9z" fill="#14d214"/>
<path d="M294.1 854.6h1.9v1.9h-1.9zM267.2 856.5h1.9v1.9h-1.9zM272.3 879.0h1.9v1.9h-1.9zM265.1 874.2h1.9v1.9h-1.9zM289.3 869.1h1.9v1.9h-1.9zM255.8 877.1h1.9v1.9h-1.9zM275.7 870.0h1.9v1.9h-1.9zM276.3 851.4h1.9v1.9h-1.9zM284.9 857.9h1.9v1.9h-1.9zM266.1 872.6h1.9v1.9h-1.9zM298.4 875.4h1.9v1.9h-1.9zM289.4 871.4h1.9v1.9h-1.9zM280.9 865.0h1.9v1.9h-1.9zM274.4 876.2h1.9v1.9h-1.9zM266.1 877.0h1.9v1.9h-1.9zM283.7 874.5h1.9v1.9h-1.9zM283.6 870.3h1.9v1.9h-1.9zM262.8 874.2h1.9v1.9h-1.9zM284.4 850.7h1.9v1.9h-1.9zM270.3 875.4h1.9v1.9h-1.9zM262.3 878.4h1.9v1.9h-1.9zM284.6 868.9h1.9v1.9h-1.9zM287.5 866.4h1.9v1.9h-1.9zM283.8 871.9h1.9v1.9h-1.9zM280.8 872.8h1.9v1.9h-1.9zM273.2 869.3h1.9v1.9h-1.9zM277.5 874.3h1.9v1.9h-1.9zM296.4 868.6h1.9v1.9h-1.9zM253.5 868.8h1.9v1.9h-1.9zM268.8 859.9h1.9v1.9h-1.9zM286.9 871.8h1.9v1.9h-1.9zM274.9 862.8h1.9v1.9h-1.9zM271.9 855.7h1.9v1.9h-1.9zM303.8 870.4h1.9v1.9h-1.9zM289.9 860.0h1.9v1.9h-1.9zM308.6 855.1h1.9v1.9h-1.9zM275.5 864.1h1.9v1.9h-1.9zM259.7 860.9h1.9v1.9h-1.9zM268.2 850.3h1.9v1.9h-1.9zM294.1 871.5h1.9v1.9h-1.9zM287.9 858.1h1.9v1.9h-1.9zM290.8 864.9h1.9v1.9h-1.9zM281.3 870.9h1.9v1.9h-1.9zM265.5 863.5h1.9v1.9h-1.9zM292.9 870.7h1.9v1.9h-1.9zM286.1 868.8h1.9v1.9h-1.9zM268.2 864.9h1.9v1.9h-1.9zM265.8 878.9h1.9v1.9h-1.9zM278.7 869.5h1.9v1.9h-1.9zM262.9 880.5h1.9v1.9h-1.9zM279.8 871.6h1.9v1.9h-1.9zM274.3 863.2h1.9v1.9h-1.9zM288.4 865.4h1.9v1.9h-1.9zM239.5 877.2h1.9v1.9h-1.9zM288.5 861.8h1.9v1.9h-1.9zM281.7 867.7h1.9v1.9h-1.9zM283.4 865.4h1.9v1.9h-1.9zM285.5 853.1h1.9v1.9h-1.9zM260.3 876.4h1.9v1.9h-1.9zM249.1 879.0h1.9v1.9h-1.9zM297.5 873.1h1.9v1.9h-1.9zM263.9 876.2h1.9v1.9h-1.9zM276.1 869.4h1.9v1.9h-1.9zM285.1 859.1h1.9v1.9h-1.9zM277.1 863.9h1.9v1.9h-1.9zM272.9 875.8h1.9v1.9h-1.9zM286.3 857.8h1.9v1.9h-1.9zM264.7 877.6h1.9v1.9h-1.9zM272.4 872.9h1.9v1.9h-1.9zM278.4 862.2h1.9v1.9h-1.9zM273.4 871.7h1.9v1.9h-1.9zM273.8 864.4h1.9v1.9h-1.9zM290.7 865.7h1.9v1.9h-1.9zM273.2 872.6h1.9v1.9h-1.9zM254.2 879.6h1.9v1.9h-1.9zM279.1 862.6h1.9v1.9h-1.9zM292.4 869.7h1.9v1.9h-1.9zM278.1 855.5h1.9v1.9h-1.9zM273.8 876.0h1.9v1.9h-1.9zM293.2 869.8h1.9v1.9h-1.9zM270.9 871.3h1.9v1.9h-1.9zM279.1 851.5h1.9v1.9h-1.9zM272.5 871.2h1.9v1.9h-1.9zM275.8 874.2h1.9v1.9h-1.9zM280.0 866.5h1.9v1.9h-1.9zM296.0 861.7h1.9v1.9h-1.9zM273.1 866.7h1.9v1.9h-1.9zM282.2 868.7h1.9v1.9h-1.9zM278.4 874.0h1.9v1.9h-1.9zM279.7 872.5h1.9v1.9h-1.9zM281.7 874.3h1.9v1.9h-1.9zM292.0 870.1h1.9v1.9h-1.9zM270.0 873.1h1.9v1.9h-1.9zM289.2 857.9h1.9v1.9h-1.9zM272.1 856.7h1.9v1.9h-1.9zM283.9 869.4h1.9v1.9h-1.9zM255.9 878.6h1.9v1.9h-1.9zM274.4 872.5h1.9v1.9h-1.9zM276.0 855.3h1.9v1.9h-1.9zM288.0 859.6h1.9v1.9h-1.9zM279.3 864.9h1.9v1.9h-1.9zM276.7 861.1h1.9v1.9h-1.9zM273.8 865.5h1.9v1.9h-1.9zM296.9 850.1h1.9v1.9h-1.9zM288.8 850.3h1.9v1.9h-1.9zM289.7 862.2h1.9v1.9h-1.9zM294.8 871.5h1.9v1.9h-1.9zM286.0 840.2h1.9v1.9h-1.9zM276.8 865.1h1.9v1.9h-1.9zM262.6 875.6h1.9v1.9h-1.9zM302.4 867.2h1.9v1.9h-1.9zM264.9 875.9h1.9v1.9h-1.9zM283.1 878.3h1.9v1.9h-1.9zM270.5 872.0h1.9v1.9h-1.9zM292.0 869.3h1.9v1.9h-1.9zM285.7 868.4h1.9v1.9h-1.9zM307.5 869.9h1.9v1.9h-1.9z" fill="#12b446"/>
<path d="M297.1 871.4h1.9v1.9h-1.9zM260.3 878.0h1.9v1.9h-1.9zM275.7 878.9h1.9v1.9h-1.9zM288.4 868.9h1.9v1.9h-1.9zM294.1 878.4h1.9v1.9h-1.9zM292.9 869.1h1.9v1.9h-1.9zM300.1 869.8h1.9v1.9h-1.9zM284.6 877.8h1.9v1.9h-1.9zM289.9 882.0h1.9v1.9h-1.9zM278.2 880.3h1.9v1.9h-1.9zM269.7 860.3h1.9v1.9h-1.9zM265.3 880.1h1.9v1.9h-1.9zM270.1 877.1h1.9v1.9h-1.9zM277.2 876.4h1.9v1.9h-1.9zM277.6 873.2h1.9v1.9h-1.9zM277.5 877.1h1.9v1.9h-1.9zM280.6 879.0h1.9v1.9h-1.9zM278.4 880.4h1.9v1.9h-1.9zM271.0 882.1h1.9v1.9h-1.9zM284.8 879.0h1.9v1.9h-1.9zM283.8 876.6h1.9v1.9h-1.9zM270.2 874.0h1.9v1.9h-1.9zM265.3 879.3h1.9v1.9h-1.9zM276.2 876.3h1.9v1.9h-1.9zM290.3 882.6h1.9v1.9h-1.9zM281.2 875.2h1.9v1.9h-1.9zM269.7 881.2h1.9v1.9h-1.9zM286.5 878.7h1.9v1.9h-1.9zM299.0 864.0h1.9v1.9h-1.9zM277.4 876.8h1.9v1.9h-1.9zM288.9 874.1h1.9v1.9h-1.9zM279.3 877.9h1.9v1.9h-1.9zM286.3 867.6h1.9v1.9h-1.9zM283.1 854.7h1.9v1.9h-1.9zM283.2 876.0h1.9v1.9h-1.9zM289.5 873.5h1.9v1.9h-1.9zM280.7 880.8h1.9v1.9h-1.9zM269.4 880.2h1.9v1.9h-1.9zM273.3 880.1h1.9v1.9h-1.9zM295.2 865.9h1.9v1.9h-1.9zM284.9 868.3h1.9v1.9h-1.9z" fill="#168a90"/>
<path d="M293.5 877.1h1.9v1.9h-1.9zM312.0 877.6h1.9v1.9h-1.9zM271.0 878.3h1.9v1.9h-1.9zM275.2 883.5h1.9v1.9h-1.9zM278.2 882.6h1.9v1.9h-1.9zM300.3 876.1h1.9v1.9h-1.9zM280.2 883.7h1.9v1.9h-1.9zM295.3 879.8h1.9v1.9h-1.9zM255.0 882.0h1.9v1.9h-1.9zM291.6 882.7h1.9v1.9h-1.9zM287.8 883.5h1.9v1.9h-1.9zM279.2 883.6h1.9v1.9h-1.9zM275.1 881.4h1.9v1.9h-1.9zM287.1 882.7h1.9v1.9h-1.9zM276.7 882.1h1.9v1.9h-1.9zM308.8 869.5h1.9v1.9h-1.9zM284.1 878.2h1.9v1.9h-1.9zM280.0 881.1h1.9v1.9h-1.9zM303.6 877.2h1.9v1.9h-1.9zM291.1 885.6h1.9v1.9h-1.9zM286.9 878.1h1.9v1.9h-1.9zM285.0 879.4h1.9v1.9h-1.9z" fill="#1f58c8"/>
<path d="M271.3 886.4h1.9v1.9h-1.9zM292.4 881.0h1.9v1.9h-1.9zM287.8 888.9h1.9v1.9h-1.9zM288.6 892.6h1.9v1.9h-1.9zM295.9 886.6h1.9v1.9h-1.9zM297.1 875.8h1.9v1.9h-1.9zM279.6 893.1h1.9v1.9h-1.9zM283.4 891.1h1.9v1.9h-1.9zM267.8 888.1h1.9v1.9h-1.9zM292.6 883.7h1.9v1.9h-1.9zM295.0 890.6h1.9v1.9h-1.9zM277.3 893.0h1.9v1.9h-1.9zM266.8 885.8h1.9v1.9h-1.9zM291.8 890.8h1.9v1.9h-1.9zM286.1 885.7h1.9v1.9h-1.9zM291.9 887.0h1.9v1.9h-1.9zM291.7 885.5h1.9v1.9h-1.9zM273.7 889.7h1.9v1.9h-1.9zM272.3 887.6h1.9v1.9h-1.9zM296.4 892.2h1.9v1.9h-1.9zM279.6 884.1h1.9v1.9h-1.9zM297.2 884.3h1.9v1.9h-1.9zM289.9 889.4h1.9v1.9h-1.9zM287.8 890.1h1.9v1.9h-1.9zM275.7 891.1h1.9v1.9h-1.9zM275.3 894.8h1.9v1.9h-1.9zM268.2 886.6h1.9v1.9h-1.9zM270.1 884.1h1.9v1.9h-1.9zM272.8 889.0h1.9v1.9h-1.9zM275.8 887.8h1.9v1.9h-1.9zM270.3 888.3h1.9v1.9h-1.9zM280.5 885.9h1.9v1.9h-1.9zM286.1 884.5h1.9v1.9h-1.9zM282.7 885.7h1.9v1.9h-1.9zM282.3 889.2h1.9v1.9h-1.9zM297.6 887.6h1.9v1.9h-1.9zM278.3 894.9h1.9v1.9h-1.9zM295.5 883.7h1.9v1.9h-1.9zM281.8 898.0h1.9v1.9h-1.9zM291.4 889.8h1.9v1.9h-1.9zM285.4 888.2h1.9v1.9h-1.9zM290.1 882.6h1.9v1.9h-1.9zM291.3 890.3h1.9v1.9h-1.9zM275.3 881.4h1.9v1.9h-1.9z" fill="#1a30e0"/>
<path d="M189.6 837.0h1.9v1.9h-1.9zM281.3 820.3h1.9v1.9h-1.9zM155.6 836.3h1.9v1.9h-1.9zM150.6 840.9h1.9v1.9h-1.9zM164.5 834.1h1.9v1.9h-1.9zM178.8 839.2h1.9v1.9h-1.9zM200.6 834.0h1.9v1.9h-1.9zM170.2 834.9h1.9v1.9h-1.9z" fill="#ff8c00"/>
<path d="M157.6 839.9h1.9v1.9h-1.9zM166.7 834.0h1.9v1.9h-1.9zM214.1 842.8h1.9v1.9h-1.9zM238.6 834.5h1.9v1.9h-1.9zM212.3 836.1h1.9v1.9h-1.9zM206.6 838.4h1.9v1.9h-1.9zM175.0 836.1h1.9v1.9h-1.9zM197.7 836.8h1.9v1.9h-1.9zM166.3 835.1h1.9v1.9h-1.9zM190.3 833.4h1.9v1.9h-1.9zM154.2 850.3h1.9v1.9h-1.9zM185.1 834.8h1.9v1.9h-1.9zM187.3 834.0h1.9v1.9h-1.9zM190.0 841.7h1.9v1.9h-1.9zM202.9 835.9h1.9v1.9h-1.9zM221.4 836.7h1.9v1.9h-1.9zM230.2 840.8h1.9v1.9h-1.9zM202.9 836.7h1.9v1.9h-1.9zM251.9 835.2h1.9v1.9h-1.9zM210.7 832.7h1.9v1.9h-1.9zM221.9 832.8h1.9v1.9h-1.9zM234.8 835.0h1.9v1.9h-1.9zM199.1 834.9h1.9v1.9h-1.9zM151.2 837.2h1.9v1.9h-1.9zM198.9 839.2h1.9v1.9h-1.9zM221.6 831.2h1.9v1.9h-1.9zM162.4 835.1h1.9v1.9h-1.9zM183.9 840.6h1.9v1.9h-1.9zM243.2 834.0h1.9v1.9h-1.9zM200.4 837.2h1.9v1.9h-1.9zM163.2 837.2h1.9v1.9h-1.9zM167.7 838.9h1.9v1.9h-1.9zM223.4 836.9h1.9v1.9h-1.9zM259.4 831.9h1.9v1.9h-1.9zM198.2 849.5h1.9v1.9h-1.9zM165.6 840.8h1.9v1.9h-1.9zM243.1 836.0h1.9v1.9h-1.9zM165.8 850.7h1.9v1.9h-1.9zM222.8 847.4h1.9v1.9h-1.9zM221.8 834.4h1.9v1.9h-1.9zM195.2 857.5h1.9v1.9h-1.9zM155.1 838.0h1.9v1.9h-1.9zM231.3 833.0h1.9v1.9h-1.9zM178.0 839.7h1.9v1.9h-1.9zM197.0 840.7h1.9v1.9h-1.9zM157.4 846.9h1.9v1.9h-1.9zM185.8 837.4h1.9v1.9h-1.9zM207.5 833.7h1.9v1.9h-1.9zM173.7 839.9h1.9v1.9h-1.9zM209.7 843.4h1.9v1.9h-1.9zM151.0 834.5h1.9v1.9h-1.9zM156.3 837.9h1.9v1.9h-1.9zM202.0 841.4h1.9v1.9h-1.9zM206.0 839.1h1.9v1.9h-1.9zM246.5 831.1h1.9v1.9h-1.9zM177.1 835.2h1.9v1.9h-1.9zM171.7 837.8h1.9v1.9h-1.9zM243.3 829.7h1.9v1.9h-1.9zM193.8 835.9h1.9v1.9h-1.9zM211.0 834.0h1.9v1.9h-1.9zM166.5 843.8h1.9v1.9h-1.9zM211.1 842.7h1.9v1.9h-1.9zM153.6 838.1h1.9v1.9h-1.9zM186.1 835.0h1.9v1.9h-1.9zM205.6 844.7h1.9v1.9h-1.9zM143.2 845.3h1.9v1.9h-1.9zM163.1 835.0h1.9v1.9h-1.9zM160.9 849.2h1.9v1.9h-1.9zM230.0 832.5h1.9v1.9h-1.9zM171.2 842.6h1.9v1.9h-1.9zM224.0 835.9h1.9v1.9h-1.9zM188.8 856.0h1.9v1.9h-1.9zM158.9 839.7h1.9v1.9h-1.9zM184.5 835.6h1.9v1.9h-1.9zM221.3 842.1h1.9v1.9h-1.9zM168.7 836.3h1.9v1.9h-1.9zM173.6 841.1h1.9v1.9h-1.9zM234.8 836.1h1.9v1.9h-1.9zM204.6 840.1h1.9v1.9h-1.9zM207.2 836.4h1.9v1.9h-1.9zM180.1 837.9h1.9v1.9h-1.9zM192.6 835.1h1.9v1.9h-1.9zM216.0 841.2h1.9v1.9h-1.9zM235.8 846.4h1.9v1.9h-1.9zM229.5 841.0h1.9v1.9h-1.9zM233.5 838.0h1.9v1.9h-1.9zM184.2 835.1h1.9v1.9h-1.9zM184.5 835.3h1.9v1.9h-1.9zM180.9 841.9h1.9v1.9h-1.9zM236.9 840.5h1.9v1.9h-1.9zM164.4 839.6h1.9v1.9h-1.9zM187.4 837.1h1.9v1.9h-1.9zM172.7 842.8h1.9v1.9h-1.9zM160.7 835.8h1.9v1.9h-1.9z" fill="#ffc800"/>
<path d="M162.4 858.4h1.9v1.9h-1.9zM163.7 861.8h1.9v1.9h-1.9zM229.2 853.1h1.9v1.9h-1.9zM216.1 835.7h1.9v1.9h-1.9zM228.4 849.3h1.9v1.9h-1.9zM247.7 846.1h1.9v1.9h-1.9zM239.4 849.3h1.9v1.9h-1.9zM225.1 838.8h1.9v1.9h-1.9zM193.0 848.1h1.9v1.9h-1.9zM224.9 838.1h1.9v1.9h-1.9zM216.2 849.7h1.9v1.9h-1.9zM176.6 849.7h1.9v1.9h-1.9zM208.0 860.3h1.9v1.9h-1.9zM202.7 838.4h1.9v1.9h-1.9zM237.5 838.5h1.9v1.9h-1.9zM236.9 838.3h1.9v1.9h-1.9zM199.9 851.6h1.9v1.9h-1.9zM229.5 842.9h1.9v1.9h-1.9zM179.0 840.3h1.9v1.9h-1.9zM226.3 855.6h1.9v1.9h-1.9zM173.8 851.6h1.9v1.9h-1.9zM175.9 834.4h1.9v1.9h-1.9zM220.5 849.5h1.9v1.9h-1.9zM197.5 850.4h1.9v1.9h-1.9zM206.0 863.3h1.9v1.9h-1.9zM220.5 837.9h1.9v1.9h-1.9zM181.7 850.2h1.9v1.9h-1.9zM190.5 842.7h1.9v1.9h-1.9zM191.8 845.4h1.9v1.9h-1.9zM167.0 841.3h1.9v1.9h-1.9zM143.2 856.3h1.9v1.9h-1.9zM201.2 838.8h1.9v1.9h-1.9zM213.7 833.7h1.9v1.9h-1.9zM197.7 844.6h1.9v1.9h-1.9zM148.6 853.1h1.9v1.9h-1.9zM173.2 852.2h1.9v1.9h-1.9zM224.9 854.0h1.9v1.9h-1.9zM220.8 838.0h1.9v1.9h-1.9zM173.6 838.2h1.9v1.9h-1.9zM233.9 845.6h1.9v1.9h-1.9zM190.3 855.9h1.9v1.9h-1.9zM199.2 839.6h1.9v1.9h-1.9zM241.9 833.1h1.9v1.9h-1.9zM176.3 858.2h1.9v1.9h-1.9zM190.5 857.3h1.9v1.9h-1.9zM191.8 858.2h1.9v1.9h-1.9zM213.4 835.4h1.9v1.9h-1.9zM149.6 837.5h1.9v1.9h-1.9zM162.0 869.2h1.9v1.9h-1.9zM172.7 844.6h1.9v1.9h-1.9zM180.4 841.1h1.9v1.9h-1.9zM199.1 846.6h1.9v1.9h-1.9zM210.4 848.1h1.9v1.9h-1.9zM222.4 836.3h1.9v1.9h-1.9zM253.2 841.8h1.9v1.9h-1.9zM158.9 835.5h1.9v1.9h-1.9zM228.1 863.9h1.9v1.9h-1.9zM225.8 848.7h1.9v1.9h-1.9zM237.7 837.1h1.9v1.9h-1.9zM213.0 846.1h1.9v1.9h-1.9zM154.4 839.6h1.9v1.9h-1.9zM145.4 852.7h1.9v1.9h-1.9zM249.7 853.3h1.9v1.9h-1.9zM211.0 859.9h1.9v1.9h-1.9zM212.5 833.1h1.9v1.9h-1.9zM236.6 836.7h1.9v1.9h-1.9zM225.3 847.4h1.9v1.9h-1.9zM227.8 832.2h1.9v1.9h-1.9zM229.0 843.7h1.9v1.9h-1.9zM170.6 837.3h1.9v1.9h-1.9zM202.2 848.4h1.9v1.9h-1.9zM183.3 842.1h1.9v1.9h-1.9zM147.7 848.3h1.9v1.9h-1.9zM168.8 838.5h1.9v1.9h-1.9zM195.2 841.7h1.9v1.9h-1.9zM153.0 855.5h1.9v1.9h-1.9zM222.8 837.8h1.9v1.9h-1.9zM178.5 848.7h1.9v1.9h-1.9zM179.9 854.0h1.9v1.9h-1.9zM146.8 837.1h1.9v1.9h-1.9zM212.6 836.8h1.9v1.9h-1.9zM179.0 849.3h1.9v1.9h-1.9zM178.5 843.3h1.9v1.9h-1.9zM143.7 838.9h1.9v1.9h-1.9zM164.1 845.0h1.9v1.9h-1.9zM155.6 851.5h1.9v1.9h-1.9zM169.7 848.2h1.9v1.9h-1.9zM180.0 839.4h1.9v1.9h-1.9zM223.6 857.5h1.9v1.9h-1.9zM211.9 854.1h1.9v1.9h-1.9zM161.9 844.5h1.9v1.9h-1.9zM165.7 842.2h1.9v1.9h-1.9zM172.8 842.9h1.9v1.9h-1.9zM159.0 837.1h1.9v1.9h-1.9zM146.0 840.6h1.9v1.9h-1.9zM167.1 843.9h1.9v1.9h-1.9zM231.3 852.2h1.9v1.9h-1.9zM186.7 845.9h1.9v1.9h-1.9zM207.6 836.9h1.9v1.9h-1.9zM233.6 844.8h1.9v1.9h-1.9zM165.8 841.9h1.9v1.9h-1.9zM159.2 859.7h1.9v1.9h-1.9zM179.4 842.9h1.9v1.9h-1.9zM227.2 840.9h1.9v1.9h-1.9zM219.1 838.8h1.9v1.9h-1.9zM169.7 856.2h1.9v1.9h-1.9zM220.7 839.1h1.9v1.9h-1.9zM157.2 838.8h1.9v1.9h-1.9zM232.3 832.8h1.9v1.9h-1.9zM191.5 836.8h1.9v1.9h-1.9zM194.2 833.5h1.9v1.9h-1.9zM158.8 837.9h1.9v1.9h-1.9zM153.1 849.3h1.9v1.9h-1.9zM210.9 850.8h1.9v1.9h-1.9zM196.5 835.7h1.9v1.9h-1.9zM204.7 847.0h1.9v1.9h-1.9zM170.2 860.9h1.9v1.9h-1.9zM222.0 839.5h1.9v1.9h-1.9zM145.6 840.6h1.9v1.9h-1.9zM175.7 836.0h1.9v1.9h-1.9zM217.0 852.6h1.9v1.9h-1.9zM158.1 856.5h1.9v1.9h-1.9zM229.6 840.1h1.9v1.9h-1.9zM155.7 847.5h1.9v1.9h-1.9zM216.3 878.5h1.9v1.9h-1.9zM225.2 837.7h1.9v1.9h-1.9zM201.2 844.6h1.9v1.9h-1.9zM143.1 860.6h1.9v1.9h-1.9zM211.4 864.9h1.9v1.9h-1.9zM172.0 841.0h1.9v1.9h-1.9zM217.3 833.1h1.9v1.9h-1.9zM156.5 840.9h1.9v1.9h-1.9zM179.5 833.8h1.9v1.9h-1.9zM218.0 855.7h1.9v1.9h-1.9zM164.3 857.3h1.9v1.9h-1.9zM198.4 854.6h1.9v1.9h-1.9zM245.9 841.2h1.9v1.9h-1.9zM196.2 845.4h1.9v1.9h-1.9zM175.3 858.4h1.9v1.9h-1.9zM220.1 841.0h1.9v1.9h-1.9zM148.3 853.5h1.9v1.9h-1.9zM203.3 835.8h1.9v1.9h-1.9zM204.9 844.3h1.9v1.9h-1.9zM161.3 850.3h1.9v1.9h-1.9zM199.3 839.7h1.9v1.9h-1.9zM161.9 842.8h1.9v1.9h-1.9zM233.5 835.7h1.9v1.9h-1.9zM187.6 835.9h1.9v1.9h-1.9zM173.5 837.3h1.9v1.9h-1.9zM159.4 844.8h1.9v1.9h-1.9zM174.6 838.9h1.9v1.9h-1.9zM194.0 846.8h1.9v1.9h-1.9zM239.5 833.7h1.9v1.9h-1.9zM234.9 839.6h1.9v1.9h-1.9zM192.5 857.5h1.9v1.9h-1.9zM226.5 852.0h1.9v1.9h-1.9zM233.2 834.5h1.9v1.9h-1.9zM154.1 834.9h1.9v1.9h-1.9zM206.3 844.1h1.9v1.9h-1.9zM202.1 841.8h1.9v1.9h-1.9zM156.1 847.1h1.9v1.9h-1.9zM157.5 848.9h1.9v1.9h-1.9zM233.7 837.0h1.9v1.9h-1.9zM221.6 835.4h1.9v1.9h-1.9zM181.1 841.4h1.9v1.9h-1.9zM155.4 846.4h1.9v1.9h-1.9zM179.7 855.1h1.9v1.9h-1.9zM202.2 844.8h1.9v1.9h-1.9zM216.1 839.0h1.9v1.9h-1.9zM252.8 837.9h1.9v1.9h-1.9zM207.9 840.8h1.9v1.9h-1.9zM203.1 844.2h1.9v1.9h-1.9zM199.8 861.0h1.9v1.9h-1.9zM205.1 844.1h1.9v1.9h-1.9zM172.2 859.2h1.9v1.9h-1.9zM216.4 850.6h1.9v1.9h-1.9zM232.1 862.9h1.9v1.9h-1.9zM223.1 838.8h1.9v1.9h-1.9zM146.8 850.2h1.9v1.9h-1.9zM222.3 845.7h1.9v1.9h-1.9zM181.4 846.0h1.9v1.9h-1.9zM247.4 834.0h1.9v1.9h-1.9zM181.3 846.1h1.9v1.9h-1.9zM233.9 839.8h1.9v1.9h-1.9zM203.4 842.6h1.9v1.9h-1.9zM257.3 840.6h1.9v1.9h-1.9zM211.6 852.5h1.9v1.9h-1.9zM185.2 841.3h1.9v1.9h-1.9zM216.6 838.7h1.9v1.9h-1.9zM165.0 841.5h1.9v1.9h-1.9zM149.2 843.0h1.9v1.9h-1.9zM187.4 838.3h1.9v1.9h-1.9zM150.6 834.2h1.9v1.9h-1.9zM168.8 841.1h1.9v1.9h-1.9zM188.9 833.7h1.9v1.9h-1.9zM182.1 841.0h1.9v1.9h-1.9zM241.7 845.4h1.9v1.9h-1.9zM228.2 834.1h1.9v1.9h-1.9zM228.0 851.3h1.9v1.9h-1.9zM209.3 841.8h1.9v1.9h-1.9zM157.3 850.8h1.9v1.9h-1.9zM192.6 848.6h1.9v1.9h-1.9zM190.9 838.1h1.9v1.9h-1.9zM143.1 856.8h1.9v1.9h-1.9zM175.0 841.9h1.9v1.9h-1.9zM152.6 843.6h1.9v1.9h-1.9zM172.1 841.9h1.9v1.9h-1.9zM172.2 848.0h1.9v1.9h-1.9zM208.3 838.6h1.9v1.9h-1.9zM207.0 858.8h1.9v1.9h-1.9zM218.0 861.3h1.9v1.9h-1.9zM253.2 845.2h1.9v1.9h-1.9zM247.3 848.7h1.9v1.9h-1.9zM231.7 840.1h1.9v1.9h-1.9zM199.6 852.2h1.9v1.9h-1.9zM237.0 849.3h1.9v1.9h-1.9zM230.3 839.9h1.9v1.9h-1.9zM202.3 835.9h1.9v1.9h-1.9zM184.7 865.7h1.9v1.9h-1.9zM217.1 842.8h1.9v1.9h-1.9zM237.0 841.4h1.9v1.9h-1.9zM212.5 833.1h1.9v1.9h-1.9zM205.8 848.0h1.9v1.9h-1.9zM235.3 833.3h1.9v1.9h-1.9zM211.2 836.1h1.9v1.9h-1.9zM248.0 844.8h1.9v1.9h-1.9zM191.3 848.6h1.9v1.9h-1.9zM246.0 844.3h1.9v1.9h-1.9zM165.1 838.7h1.9v1.9h-1.9zM233.4 844.4h1.9v1.9h-1.9zM164.8 840.9h1.9v1.9h-1.9zM171.0 844.9h1.9v1.9h-1.9zM199.1 851.5h1.9v1.9h-1.9zM189.7 845.0h1.9v1.9h-1.9zM215.3 839.9h1.9v1.9h-1.9zM219.3 845.2h1.9v1.9h-1.9zM241.8 851.4h1.9v1.9h-1.9zM146.1 858.3h1.9v1.9h-1.9zM178.7 854.7h1.9v1.9h-1.9zM237.8 834.2h1.9v1.9h-1.9zM184.2 844.8h1.9v1.9h-1.9zM189.7 860.1h1.9v1.9h-1.9zM200.8 853.3h1.9v1.9h-1.9zM144.5 837.8h1.9v1.9h-1.9zM258.2 832.2h1.9v1.9h-1.9zM204.5 841.4h1.9v1.9h-1.9zM198.2 843.2h1.9v1.9h-1.9zM220.6 839.5h1.9v1.9h-1.9zM248.4 836.3h1.9v1.9h-1.9zM145.8 839.6h1.9v1.9h-1.9zM245.7 836.2h1.9v1.9h-1.9zM227.2 841.9h1.9v1.9h-1.9zM179.6 835.9h1.9v1.9h-1.9zM152.7 840.5h1.9v1.9h-1.9zM217.1 858.0h1.9v1.9h-1.9zM200.2 845.7h1.9v1.9h-1.9zM204.3 834.7h1.9v1.9h-1.9zM147.6 838.3h1.9v1.9h-1.9zM178.8 850.0h1.9v1.9h-1.9zM159.4 851.4h1.9v1.9h-1.9zM227.2 849.0h1.9v1.9h-1.9zM180.6 841.9h1.9v1.9h-1.9zM223.5 842.3h1.9v1.9h-1.9zM211.7 838.3h1.9v1.9h-1.9zM171.5 859.3h1.9v1.9h-1.9zM177.1 845.3h1.9v1.9h-1.9zM143.8 838.0h1.9v1.9h-1.9zM223.7 841.3h1.9v1.9h-1.9zM200.3 837.2h1.9v1.9h-1.9zM149.0 852.7h1.9v1.9h-1.9zM176.3 858.2h1.9v1.9h-1.9zM183.0 836.1h1.9v1.9h-1.9zM229.6 854.1h1.9v1.9h-1.9zM188.7 840.6h1.9v1.9h-1.9zM221.5 852.5h1.9v1.9h-1.9zM190.8 847.3h1.9v1.9h-1.9zM241.5 846.3h1.9v1.9h-1.9zM163.7 842.7h1.9v1.9h-1.9zM192.6 837.7h1.9v1.9h-1.9zM189.5 843.5h1.9v1.9h-1.9zM143.4 850.3h1.9v1.9h-1.9zM248.3 845.7h1.9v1.9h-1.9zM182.3 840.2h1.9v1.9h-1.9zM165.3 852.4h1.9v1.9h-1.9zM238.9 850.4h1.9v1.9h-1.9zM179.3 856.0h1.9v1.9h-1.9zM244.8 834.6h1.9v1.9h-1.9zM146.1 838.0h1.9v1.9h-1.9zM166.5 842.0h1.9v1.9h-1.9zM222.5 837.3h1.9v1.9h-1.9zM204.3 836.9h1.9v1.9h-1.9zM237.5 837.9h1.9v1.9h-1.9zM155.8 842.9h1.9v1.9h-1.9zM258.4 838.2h1.9v1.9h-1.9zM189.1 843.1h1.9v1.9h-1.9zM231.9 834.0h1.9v1.9h-1.9zM178.8 837.6h1.9v1.9h-1.9zM181.4 840.0h1.9v1.9h-1.9zM167.5 842.5h1.9v1.9h-1.9zM185.3 841.6h1.9v1.9h-1.9zM215.2 861.6h1.9v1.9h-1.9zM206.9 846.7h1.9v1.9h-1.9zM165.0 846.9h1.9v1.9h-1.9zM230.4 848.3h1.9v1.9h-1.9zM152.2 850.5h1.9v1.9h-1.9zM210.2 837.0h1.9v1.9h-1.9zM169.7 844.2h1.9v1.9h-1.9zM185.9 842.5h1.9v1.9h-1.9zM202.3 844.2h1.9v1.9h-1.9zM153.4 843.0h1.9v1.9h-1.9zM163.7 834.7h1.9v1.9h-1.9zM250.4 838.1h1.9v1.9h-1.9zM239.9 854.6h1.9v1.9h-1.9zM144.8 842.3h1.9v1.9h-1.9zM243.3 837.4h1.9v1.9h-1.9zM182.7 848.7h1.9v1.9h-1.9zM219.0 839.5h1.9v1.9h-1.9zM239.8 837.6h1.9v1.9h-1.9zM236.6 836.7h1.9v1.9h-1.9zM170.3 841.0h1.9v1.9h-1.9zM185.2 841.2h1.9v1.9h-1.9zM212.5 855.0h1.9v1.9h-1.9zM202.3 840.1h1.9v1.9h-1.9zM181.5 850.8h1.9v1.9h-1.9zM156.1 851.3h1.9v1.9h-1.9zM217.9 840.9h1.9v1.9h-1.9zM176.5 866.6h1.9v1.9h-1.9zM229.9 835.5h1.9v1.9h-1.9zM175.0 840.2h1.9v1.9h-1.9zM237.8 841.2h1.9v1.9h-1.9zM213.6 836.0h1.9v1.9h-1.9zM239.4 848.2h1.9v1.9h-1.9zM181.4 837.2h1.9v1.9h-1.9zM245.0 845.8h1.9v1.9h-1.9zM237.3 853.4h1.9v1.9h-1.9zM185.3 835.3h1.9v1.9h-1.9zM229.9 856.2h1.9v1.9h-1.9zM194.5 848.1h1.9v1.9h-1.9zM154.9 834.7h1.9v1.9h-1.9zM163.8 850.8h1.9v1.9h-1.9zM163.6 849.1h1.9v1.9h-1.9zM193.3 838.1h1.9v1.9h-1.9zM152.0 836.2h1.9v1.9h-1.9zM184.0 836.3h1.9v1.9h-1.9zM166.6 838.9h1.9v1.9h-1.9zM251.9 840.5h1.9v1.9h-1.9zM148.6 842.3h1.9v1.9h-1.9zM212.8 856.5h1.9v1.9h-1.9zM175.3 858.0h1.9v1.9h-1.9zM194.2 856.1h1.9v1.9h-1.9zM176.7 846.1h1.9v1.9h-1.9zM171.8 836.7h1.9v1.9h-1.9zM221.1 838.9h1.9v1.9h-1.9zM197.8 848.9h1.9v1.9h-1.9z" fill="#f0ee00"/>
<path d="M168.6 852.1h1.9v1.9h-1.9zM234.1 855.3h1.9v1.9h-1.9zM211.4 849.8h1.9v1.9h-1.9zM216.5 845.4h1.9v1.9h-1.9zM163.5 867.2h1.9v1.9h-1.9zM260.3 843.1h1.9v1.9h-1.9zM179.1 856.1h1.9v1.9h-1.9zM227.3 843.3h1.9v1.9h-1.9zM210.9 835.8h1.9v1.9h-1.9zM173.8 861.4h1.9v1.9h-1.9zM175.0 863.5h1.9v1.9h-1.9zM257.0 846.4h1.9v1.9h-1.9zM209.4 838.1h1.9v1.9h-1.9zM207.3 837.9h1.9v1.9h-1.9zM171.8 843.5h1.9v1.9h-1.9zM207.5 839.0h1.9v1.9h-1.9zM248.2 840.1h1.9v1.9h-1.9zM165.8 837.6h1.9v1.9h-1.9zM168.0 870.2h1.9v1.9h-1.9zM189.6 852.9h1.9v1.9h-1.9zM174.1 858.9h1.9v1.9h-1.9zM152.0 844.4h1.9v1.9h-1.9zM203.5 855.1h1.9v1.9h-1.9zM167.0 843.0h1.9v1.9h-1.9zM261.0 841.0h1.9v1.9h-1.9zM218.5 848.9h1.9v1.9h-1.9zM227.1 860.9h1.9v1.9h-1.9zM212.7 849.8h1.9v1.9h-1.9zM181.0 839.6h1.9v1.9h-1.9zM151.4 854.6h1.9v1.9h-1.9zM182.1 843.9h1.9v1.9h-1.9zM182.9 855.4h1.9v1.9h-1.9zM231.1 843.5h1.9v1.9h-1.9zM222.0 843.7h1.9v1.9h-1.9zM218.5 868.7h1.9v1.9h-1.9zM143.6 857.0h1.9v1.9h-1.9zM184.5 842.2h1.9v1.9h-1.9zM147.8 853.2h1.9v1.9h-1.9zM178.0 837.8h1.9v1.9h-1.9zM220.0 837.9h1.9v1.9h-1.9zM228.7 846.7h1.9v1.9h-1.9zM205.1 856.3h1.9v1.9h-1.9zM222.9 845.7h1.9v1.9h-1.9zM242.6 850.3h1.9v1.9h-1.9zM247.5 842.7h1.9v1.9h-1.9zM237.2 852.3h1.9v1.9h-1.9zM167.4 856.2h1.9v1.9h-1.9zM174.3 841.8h1.9v1.9h-1.9zM200.3 856.7h1.9v1.9h-1.9zM193.5 853.8h1.9v1.9h-1.9zM246.6 837.4h1.9v1.9h-1.9zM147.9 859.3h1.9v1.9h-1.9zM216.4 853.3h1.9v1.9h-1.9zM185.4 858.6h1.9v1.9h-1.9zM252.5 844.3h1.9v1.9h-1.9zM181.2 838.8h1.9v1.9h-1.9zM241.2 840.0h1.9v1.9h-1.9zM248.5 846.7h1.9v1.9h-1.9zM181.8 863.1h1.9v1.9h-1.9zM155.7 847.8h1.9v1.9h-1.9zM182.5 872.3h1.9v1.9h-1.9zM253.0 834.2h1.9v1.9h-1.9zM191.9 854.2h1.9v1.9h-1.9zM206.3 854.0h1.9v1.9h-1.9zM177.6 857.9h1.9v1.9h-1.9zM159.6 844.7h1.9v1.9h-1.9zM223.9 842.6h1.9v1.9h-1.9zM243.0 834.0h1.9v1.9h-1.9zM166.6 842.4h1.9v1.9h-1.9zM168.0 847.6h1.9v1.9h-1.9zM210.5 847.0h1.9v1.9h-1.9zM193.1 837.3h1.9v1.9h-1.9zM214.4 848.7h1.9v1.9h-1.9zM152.4 858.1h1.9v1.9h-1.9zM163.4 842.2h1.9v1.9h-1.9zM235.5 833.9h1.9v1.9h-1.9zM185.2 839.8h1.9v1.9h-1.9zM188.7 869.5h1.9v1.9h-1.9zM191.8 865.0h1.9v1.9h-1.9zM194.8 847.3h1.9v1.9h-1.9zM194.3 851.9h1.9v1.9h-1.9zM253.9 840.1h1.9v1.9h-1.9zM220.5 887.4h1.9v1.9h-1.9zM176.2 888.8h1.9v1.9h-1.9zM148.9 856.7h1.9v1.9h-1.9zM151.6 870.6h1.9v1.9h-1.9zM167.0 845.2h1.9v1.9h-1.9zM174.3 850.7h1.9v1.9h-1.9zM210.4 841.5h1.9v1.9h-1.9zM238.9 841.5h1.9v1.9h-1.9zM251.2 849.5h1.9v1.9h-1.9zM201.9 844.1h1.9v1.9h-1.9zM201.0 855.5h1.9v1.9h-1.9zM193.4 853.8h1.9v1.9h-1.9zM149.2 853.8h1.9v1.9h-1.9zM229.1 896.6h1.9v1.9h-1.9zM245.5 849.4h1.9v1.9h-1.9zM235.6 849.1h1.9v1.9h-1.9zM224.9 853.5h1.9v1.9h-1.9zM217.2 858.6h1.9v1.9h-1.9zM151.9 852.8h1.9v1.9h-1.9zM190.7 848.7h1.9v1.9h-1.9zM155.9 855.5h1.9v1.9h-1.9zM146.9 859.3h1.9v1.9h-1.9zM215.3 849.2h1.9v1.9h-1.9zM144.5 861.5h1.9v1.9h-1.9zM164.8 856.4h1.9v1.9h-1.9zM233.9 860.5h1.9v1.9h-1.9zM183.3 853.0h1.9v1.9h-1.9zM183.6 835.4h1.9v1.9h-1.9zM258.5 848.6h1.9v1.9h-1.9zM157.7 851.4h1.9v1.9h-1.9zM243.6 840.9h1.9v1.9h-1.9zM143.7 838.9h1.9v1.9h-1.9zM239.6 840.8h1.9v1.9h-1.9zM235.2 848.1h1.9v1.9h-1.9zM187.7 865.4h1.9v1.9h-1.9zM179.7 872.3h1.9v1.9h-1.9zM186.3 862.9h1.9v1.9h-1.9zM231.7 842.4h1.9v1.9h-1.9zM243.5 854.2h1.9v1.9h-1.9zM252.7 842.0h1.9v1.9h-1.9zM181.8 854.2h1.9v1.9h-1.9zM248.1 831.9h1.9v1.9h-1.9zM195.0 833.4h1.9v1.9h-1.9zM150.0 848.4h1.9v1.9h-1.9zM153.0 855.7h1.9v1.9h-1.9zM251.4 853.5h1.9v1.9h-1.9zM171.3 850.1h1.9v1.9h-1.9zM203.3 867.5h1.9v1.9h-1.9zM171.3 861.1h1.9v1.9h-1.9zM206.2 838.4h1.9v1.9h-1.9zM224.9 848.9h1.9v1.9h-1.9zM237.4 839.2h1.9v1.9h-1.9zM144.9 852.3h1.9v1.9h-1.9zM157.0 853.1h1.9v1.9h-1.9zM247.1 844.1h1.9v1.9h-1.9zM191.4 855.0h1.9v1.9h-1.9zM233.4 862.9h1.9v1.9h-1.9zM223.1 848.9h1.9v1.9h-1.9zM221.8 846.7h1.9v1.9h-1.9zM254.3 836.6h1.9v1.9h-1.9zM190.8 846.5h1.9v1.9h-1.9zM150.4 847.5h1.9v1.9h-1.9zM213.0 840.9h1.9v1.9h-1.9zM192.4 855.8h1.9v1.9h-1.9zM195.7 836.0h1.9v1.9h-1.9zM234.1 851.8h1.9v1.9h-1.9zM207.8 855.7h1.9v1.9h-1.9zM162.4 855.6h1.9v1.9h-1.9zM240.3 847.8h1.9v1.9h-1.9zM194.7 857.4h1.9v1.9h-1.9zM152.5 850.4h1.9v1.9h-1.9zM231.9 871.7h1.9v1.9h-1.9zM151.6 870.0h1.9v1.9h-1.9zM187.9 858.3h1.9v1.9h-1.9zM199.0 861.0h1.9v1.9h-1.9zM226.6 849.4h1.9v1.9h-1.9zM195.7 851.4h1.9v1.9h-1.9zM148.0 847.2h1.9v1.9h-1.9zM229.0 849.6h1.9v1.9h-1.9zM148.6 865.1h1.9v1.9h-1.9zM231.5 866.8h1.9v1.9h-1.9zM224.6 862.3h1.9v1.9h-1.9zM173.5 851.7h1.9v1.9h-1.9zM245.8 847.3h1.9v1.9h-1.9zM211.5 841.4h1.9v1.9h-1.9zM253.0 834.4h1.9v1.9h-1.9zM180.1 847.7h1.9v1.9h-1.9zM217.3 855.6h1.9v1.9h-1.9zM186.9 846.7h1.9v1.9h-1.9zM198.9 860.8h1.9v1.9h-1.9zM212.1 856.6h1.9v1.9h-1.9zM157.5 890.6h1.9v1.9h-1.9zM204.8 861.6h1.9v1.9h-1.9zM215.3 834.6h1.9v1.9h-1.9zM188.4 847.5h1.9v1.9h-1.9zM223.3 858.7h1.9v1.9h-1.9zM195.6 849.1h1.9v1.9h-1.9zM193.8 853.0h1.9v1.9h-1.9zM177.9 861.9h1.9v1.9h-1.9zM221.8 842.9h1.9v1.9h-1.9zM176.9 837.5h1.9v1.9h-1.9zM196.4 862.3h1.9v1.9h-1.9zM144.7 844.0h1.9v1.9h-1.9zM206.7 834.7h1.9v1.9h-1.9zM222.8 833.9h1.9v1.9h-1.9zM166.9 860.9h1.9v1.9h-1.9zM208.1 836.3h1.9v1.9h-1.9zM179.0 844.5h1.9v1.9h-1.9zM262.0 835.4h1.9v1.9h-1.9zM245.1 862.6h1.9v1.9h-1.9zM244.7 857.4h1.9v1.9h-1.9zM166.7 850.3h1.9v1.9h-1.9zM143.8 852.8h1.9v1.9h-1.9zM146.5 859.5h1.9v1.9h-1.9zM182.5 864.3h1.9v1.9h-1.9zM200.5 848.8h1.9v1.9h-1.9zM143.9 845.7h1.9v1.9h-1.9zM236.8 846.3h1.9v1.9h-1.9zM155.9 850.3h1.9v1.9h-1.9zM194.3 835.4h1.9v1.9h-1.9zM235.3 832.4h1.9v1.9h-1.9zM216.7 856.8h1.9v1.9h-1.9zM195.3 850.5h1.9v1.9h-1.9zM221.7 853.4h1.9v1.9h-1.9zM211.4 852.9h1.9v1.9h-1.9zM226.4 862.9h1.9v1.9h-1.9zM157.0 871.5h1.9v1.9h-1.9zM206.0 861.4h1.9v1.9h-1.9zM145.6 866.2h1.9v1.9h-1.9zM180.5 867.1h1.9v1.9h-1.9zM187.4 846.7h1.9v1.9h-1.9zM203.7 853.6h1.9v1.9h-1.9zM238.3 843.9h1.9v1.9h-1.9zM233.7 858.9h1.9v1.9h-1.9zM144.2 850.9h1.9v1.9h-1.9zM155.8 849.9h1.9v1.9h-1.9zM220.6 849.4h1.9v1.9h-1.9zM188.0 842.6h1.9v1.9h-1.9zM190.7 851.4h1.9v1.9h-1.9zM236.7 839.8h1.9v1.9h-1.9zM189.2 847.5h1.9v1.9h-1.9zM167.1 867.9h1.9v1.9h-1.9zM212.9 845.6h1.9v1.9h-1.9zM187.8 846.9h1.9v1.9h-1.9zM169.5 841.3h1.9v1.9h-1.9zM230.9 856.3h1.9v1.9h-1.9zM179.8 845.5h1.9v1.9h-1.9zM253.0 851.7h1.9v1.9h-1.9zM196.1 859.5h1.9v1.9h-1.9zM193.9 865.7h1.9v1.9h-1.9zM195.0 851.2h1.9v1.9h-1.9zM221.7 854.9h1.9v1.9h-1.9zM235.4 841.8h1.9v1.9h-1.9zM259.7 837.5h1.9v1.9h-1.9zM151.4 846.9h1.9v1.9h-1.9zM186.6 844.9h1.9v1.9h-1.9zM206.6 853.1h1.9v1.9h-1.9zM170.0 858.1h1.9v1.9h-1.9zM257.6 859.4h1.9v1.9h-1.9zM153.4 856.6h1.9v1.9h-1.9zM190.3 887.2h1.9v1.9h-1.9zM194.1 844.0h1.9v1.9h-1.9zM253.4 834.7h1.9v1.9h-1.9zM261.2 845.2h1.9v1.9h-1.9zM202.0 854.2h1.9v1.9h-1.9zM165.1 864.5h1.9v1.9h-1.9zM146.3 840.1h1.9v1.9h-1.9zM169.1 848.3h1.9v1.9h-1.9zM174.5 847.8h1.9v1.9h-1.9zM145.9 864.7h1.9v1.9h-1.9zM191.1 853.9h1.9v1.9h-1.9zM240.2 856.3h1.9v1.9h-1.9zM260.2 839.1h1.9v1.9h-1.9zM197.5 853.3h1.9v1.9h-1.9zM169.4 854.3h1.9v1.9h-1.9zM211.8 845.4h1.9v1.9h-1.9zM216.9 850.4h1.9v1.9h-1.9zM171.4 856.2h1.9v1.9h-1.9zM250.4 849.0h1.9v1.9h-1.9zM148.9 870.7h1.9v1.9h-1.9zM220.5 855.1h1.9v1.9h-1.9zM151.5 865.7h1.9v1.9h-1.9zM169.1 856.2h1.9v1.9h-1.9zM258.0 850.2h1.9v1.9h-1.9zM231.5 854.0h1.9v1.9h-1.9zM215.7 847.8h1.9v1.9h-1.9zM180.7 855.5h1.9v1.9h-1.9zM231.7 868.4h1.9v1.9h-1.9zM162.5 840.8h1.9v1.9h-1.9zM201.7 845.7h1.9v1.9h-1.9zM228.4 849.0h1.9v1.9h-1.9zM171.6 863.9h1.9v1.9h-1.9zM189.1 861.6h1.9v1.9h-1.9zM170.4 850.0h1.9v1.9h-1.9zM179.9 837.4h1.9v1.9h-1.9zM169.6 862.9h1.9v1.9h-1.9zM184.0 856.0h1.9v1.9h-1.9zM181.9 840.4h1.9v1.9h-1.9zM204.9 850.0h1.9v1.9h-1.9zM245.9 835.5h1.9v1.9h-1.9zM174.3 846.8h1.9v1.9h-1.9zM212.7 853.8h1.9v1.9h-1.9zM232.2 855.7h1.9v1.9h-1.9zM174.7 862.1h1.9v1.9h-1.9zM243.9 846.8h1.9v1.9h-1.9zM252.6 850.1h1.9v1.9h-1.9zM259.5 832.6h1.9v1.9h-1.9zM191.4 846.7h1.9v1.9h-1.9zM178.1 855.5h1.9v1.9h-1.9zM192.6 865.0h1.9v1.9h-1.9zM236.0 845.3h1.9v1.9h-1.9zM228.4 841.7h1.9v1.9h-1.9zM227.9 843.0h1.9v1.9h-1.9zM207.0 846.3h1.9v1.9h-1.9zM201.5 845.8h1.9v1.9h-1.9zM229.4 861.8h1.9v1.9h-1.9zM233.0 849.2h1.9v1.9h-1.9zM176.1 850.0h1.9v1.9h-1.9zM256.2 840.0h1.9v1.9h-1.9zM205.8 848.6h1.9v1.9h-1.9zM227.3 851.5h1.9v1.9h-1.9zM241.5 842.1h1.9v1.9h-1.9zM235.6 867.8h1.9v1.9h-1.9zM161.2 858.7h1.9v1.9h-1.9zM188.3 845.0h1.9v1.9h-1.9zM213.4 868.1h1.9v1.9h-1.9zM196.5 840.1h1.9v1.9h-1.9zM209.5 847.4h1.9v1.9h-1.9zM171.0 866.2h1.9v1.9h-1.9zM158.9 843.5h1.9v1.9h-1.9zM220.5 843.5h1.9v1.9h-1.9zM160.1 854.8h1.9v1.9h-1.9zM168.6 853.6h1.9v1.9h-1.9zM247.6 840.4h1.9v1.9h-1.9zM143.6 852.9h1.9v1.9h-1.9zM173.2 838.6h1.9v1.9h-1.9zM154.2 844.7h1.9v1.9h-1.9zM240.4 841.1h1.9v1.9h-1.9zM231.3 853.7h1.9v1.9h-1.9zM148.9 847.9h1.9v1.9h-1.9zM207.7 854.9h1.9v1.9h-1.9zM234.9 836.9h1.9v1.9h-1.9zM249.4 869.8h1.9v1.9h-1.9zM218.6 850.0h1.9v1.9h-1.9zM254.2 832.2h1.9v1.9h-1.9zM247.4 848.7h1.9v1.9h-1.9zM145.8 840.4h1.9v1.9h-1.9zM235.0 849.6h1.9v1.9h-1.9zM223.7 855.2h1.9v1.9h-1.9zM159.9 862.8h1.9v1.9h-1.9zM170.5 852.4h1.9v1.9h-1.9zM251.3 845.2h1.9v1.9h-1.9zM156.7 852.6h1.9v1.9h-1.9zM251.4 848.7h1.9v1.9h-1.9zM180.8 857.9h1.9v1.9h-1.9zM146.4 846.9h1.9v1.9h-1.9zM164.7 849.7h1.9v1.9h-1.9zM230.6 850.0h1.9v1.9h-1.9zM191.9 864.1h1.9v1.9h-1.9zM219.8 842.2h1.9v1.9h-1.9zM176.7 859.6h1.9v1.9h-1.9zM182.7 845.0h1.9v1.9h-1.9zM209.6 849.8h1.9v1.9h-1.9zM212.6 850.8h1.9v1.9h-1.9zM145.0 857.4h1.9v1.9h-1.9zM223.7 851.4h1.9v1.9h-1.9zM205.4 849.1h1.9v1.9h-1.9zM226.2 871.5h1.9v1.9h-1.9zM179.7 861.9h1.9v1.9h-1.9zM150.1 864.3h1.9v1.9h-1.9zM219.5 854.8h1.9v1.9h-1.9zM255.0 842.1h1.9v1.9h-1.9zM177.0 849.7h1.9v1.9h-1.9zM189.7 851.3h1.9v1.9h-1.9zM150.0 844.0h1.9v1.9h-1.9zM175.5 855.6h1.9v1.9h-1.9zM149.7 853.0h1.9v1.9h-1.9zM238.0 895.0h1.9v1.9h-1.9zM154.6 852.4h1.9v1.9h-1.9zM250.6 838.4h1.9v1.9h-1.9zM184.3 859.4h1.9v1.9h-1.9zM191.3 843.8h1.9v1.9h-1.9zM175.0 843.7h1.9v1.9h-1.9zM157.1 840.1h1.9v1.9h-1.9zM202.7 852.5h1.9v1.9h-1.9zM256.7 850.3h1.9v1.9h-1.9zM178.7 879.6h1.9v1.9h-1.9zM244.7 851.1h1.9v1.9h-1.9zM226.6 840.9h1.9v1.9h-1.9zM200.5 842.6h1.9v1.9h-1.9zM188.0 862.5h1.9v1.9h-1.9zM234.5 835.2h1.9v1.9h-1.9zM170.2 843.9h1.9v1.9h-1.9zM199.7 857.9h1.9v1.9h-1.9zM178.2 845.9h1.9v1.9h-1.9zM208.0 853.8h1.9v1.9h-1.9zM198.9 837.7h1.9v1.9h-1.9zM201.0 858.3h1.9v1.9h-1.9zM177.6 860.0h1.9v1.9h-1.9zM165.4 844.7h1.9v1.9h-1.9zM184.9 851.4h1.9v1.9h-1.9zM156.4 873.8h1.9v1.9h-1.9zM182.3 838.6h1.9v1.9h-1.9zM160.5 840.8h1.9v1.9h-1.9zM242.7 851.5h1.9v1.9h-1.9zM255.1 848.9h1.9v1.9h-1.9zM182.9 851.0h1.9v1.9h-1.9zM237.2 850.2h1.9v1.9h-1.9zM164.0 842.3h1.9v1.9h-1.9zM150.9 846.4h1.9v1.9h-1.9zM169.5 846.4h1.9v1.9h-1.9zM207.5 847.0h1.9v1.9h-1.9zM242.1 849.0h1.9v1.9h-1.9zM239.6 848.6h1.9v1.9h-1.9zM147.3 847.2h1.9v1.9h-1.9zM218.1 841.2h1.9v1.9h-1.9zM222.8 854.2h1.9v1.9h-1.9zM206.4 847.1h1.9v1.9h-1.9zM194.6 840.0h1.9v1.9h-1.9zM148.5 846.6h1.9v1.9h-1.9zM257.3 835.1h1.9v1.9h-1.9zM253.5 837.1h1.9v1.9h-1.9zM232.9 842.6h1.9v1.9h-1.9zM212.9 847.5h1.9v1.9h-1.9zM242.8 855.9h1.9v1.9h-1.9zM165.2 855.5h1.9v1.9h-1.9zM202.3 869.8h1.9v1.9h-1.9zM174.6 853.6h1.9v1.9h-1.9zM258.5 839.5h1.9v1.9h-1.9zM180.7 852.3h1.9v1.9h-1.9zM251.3 848.1h1.9v1.9h-1.9zM150.8 850.5h1.9v1.9h-1.9zM171.7 844.9h1.9v1.9h-1.9zM145.7 844.1h1.9v1.9h-1.9zM179.2 838.8h1.9v1.9h-1.9zM152.2 854.3h1.9v1.9h-1.9zM221.9 874.7h1.9v1.9h-1.9zM218.3 855.2h1.9v1.9h-1.9zM252.2 841.2h1.9v1.9h-1.9zM149.2 863.1h1.9v1.9h-1.9zM239.6 835.1h1.9v1.9h-1.9zM184.7 848.5h1.9v1.9h-1.9zM205.4 844.6h1.9v1.9h-1.9zM256.4 848.6h1.9v1.9h-1.9zM146.9 864.8h1.9v1.9h-1.9zM229.2 861.6h1.9v1.9h-1.9zM189.4 847.2h1.9v1.9h-1.9zM242.9 839.0h1.9v1.9h-1.9zM181.3 836.4h1.9v1.9h-1.9zM218.3 835.4h1.9v1.9h-1.9zM145.5 842.0h1.9v1.9h-1.9zM251.7 858.2h1.9v1.9h-1.9zM147.1 846.1h1.9v1.9h-1.9zM193.9 844.1h1.9v1.9h-1.9zM171.9 867.6h1.9v1.9h-1.9zM211.1 860.9h1.9v1.9h-1.9zM220.6 839.0h1.9v1.9h-1.9zM152.0 849.8h1.9v1.9h-1.9zM213.0 836.1h1.9v1.9h-1.9zM173.8 846.3h1.9v1.9h-1.9zM220.7 845.9h1.9v1.9h-1.9zM180.1 846.0h1.9v1.9h-1.9zM210.3 847.3h1.9v1.9h-1.9zM227.9 857.5h1.9v1.9h-1.9zM149.9 839.6h1.9v1.9h-1.9zM219.2 856.5h1.9v1.9h-1.9zM231.5 864.3h1.9v1.9h-1.9zM177.2 853.6h1.9v1.9h-1.9zM213.0 878.7h1.9v1.9h-1.9zM247.5 836.3h1.9v1.9h-1.9zM169.6 862.9h1.9v1.9h-1.9zM161.6 839.2h1.9v1.9h-1.9zM245.2 851.2h1.9v1.9h-1.9zM240.2 847.0h1.9v1.9h-1.9zM151.6 855.9h1.9v1.9h-1.9zM206.5 846.6h1.9v1.9h-1.9zM179.4 847.9h1.9v1.9h-1.9zM231.7 842.7h1.9v1.9h-1.9zM167.2 879.7h1.9v1.9h-1.9zM195.0 851.2h1.9v1.9h-1.9zM145.2 852.9h1.9v1.9h-1.9zM149.9 846.3h1.9v1.9h-1.9zM176.7 854.5h1.9v1.9h-1.9zM157.9 855.4h1.9v1.9h-1.9zM213.7 859.2h1.9v1.9h-1.9zM147.1 853.2h1.9v1.9h-1.9zM200.9 859.5h1.9v1.9h-1.9zM245.2 833.4h1.9v1.9h-1.9zM163.9 850.7h1.9v1.9h-1.9zM167.1 857.7h1.9v1.9h-1.9zM157.6 862.9h1.9v1.9h-1.9zM250.3 840.5h1.9v1.9h-1.9zM225.9 857.6h1.9v1.9h-1.9zM252.6 837.6h1.9v1.9h-1.9zM183.4 870.6h1.9v1.9h-1.9zM199.2 866.7h1.9v1.9h-1.9zM227.1 833.0h1.9v1.9h-1.9zM228.9 835.2h1.9v1.9h-1.9zM147.9 866.6h1.9v1.9h-1.9zM185.0 843.6h1.9v1.9h-1.9zM245.3 849.4h1.9v1.9h-1.9zM241.2 844.4h1.9v1.9h-1.9zM173.1 850.9h1.9v1.9h-1.9zM164.0 865.3h1.9v1.9h-1.9zM217.7 858.2h1.9v1.9h-1.9zM153.4 835.5h1.9v1.9h-1.9zM213.8 849.2h1.9v1.9h-1.9zM227.8 852.1h1.9v1.9h-1.9zM253.7 850.0h1.9v1.9h-1.9zM160.4 843.0h1.9v1.9h-1.9zM146.8 867.3h1.9v1.9h-1.9zM247.0 844.1h1.9v1.9h-1.9zM231.0 850.0h1.9v1.9h-1.9zM145.6 855.0h1.9v1.9h-1.9zM212.9 869.7h1.9v1.9h-1.9zM233.8 847.1h1.9v1.9h-1.9zM200.0 868.8h1.9v1.9h-1.9zM174.7 850.0h1.9v1.9h-1.9zM143.9 855.4h1.9v1.9h-1.9zM197.3 863.1h1.9v1.9h-1.9zM191.6 859.5h1.9v1.9h-1.9zM195.6 858.9h1.9v1.9h-1.9zM196.9 852.8h1.9v1.9h-1.9zM228.7 841.2h1.9v1.9h-1.9zM167.9 856.1h1.9v1.9h-1.9zM218.4 866.4h1.9v1.9h-1.9zM232.3 847.5h1.9v1.9h-1.9zM203.7 835.6h1.9v1.9h-1.9zM170.6 846.7h1.9v1.9h-1.9zM144.1 852.9h1.9v1.9h-1.9zM203.4 851.8h1.9v1.9h-1.9zM228.9 852.4h1.9v1.9h-1.9zM166.8 847.6h1.9v1.9h-1.9zM226.6 839.4h1.9v1.9h-1.9zM199.7 872.3h1.9v1.9h-1.9zM184.5 855.0h1.9v1.9h-1.9zM226.5 837.2h1.9v1.9h-1.9zM215.2 852.1h1.9v1.9h-1.9zM176.9 859.6h1.9v1.9h-1.9zM147.3 846.9h1.9v1.9h-1.9zM241.7 851.8h1.9v1.9h-1.9zM188.9 857.5h1.9v1.9h-1.9zM222.4 871.5h1.9v1.9h-1.9zM216.0 858.2h1.9v1.9h-1.9zM258.2 841.2h1.9v1.9h-1.9zM248.1 835.9h1.9v1.9h-1.9zM146.1 837.0h1.9v1.9h-1.9zM169.6 843.9h1.9v1.9h-1.9z" fill="#a8f000"/>
<path d="M246.2 841.2h1.9v1.9h-1.9zM176.6 855.0h1.9v1.9h-1.9zM162.5 864.5h1.9v1.9h-1.9zM258.6 848.6h1.9v1.9h-1.9zM242.4 867.7h1.9v1.9h-1.9zM232.2 862.8h1.9v1.9h-1.9zM254.1 847.5h1.9v1.9h-1.9zM148.2 858.0h1.9v1.9h-1.9zM181.0 856.6h1.9v1.9h-1.9zM225.3 866.0h1.9v1.9h-1.9zM188.1 851.5h1.9v1.9h-1.9zM235.3 869.4h1.9v1.9h-1.9zM220.9 842.4h1.9v1.9h-1.9zM253.7 844.9h1.9v1.9h-1.9zM213.9 867.9h1.9v1.9h-1.9zM196.2 866.5h1.9v1.9h-1.9zM238.4 872.1h1.9v1.9h-1.9zM194.3 858.4h1.9v1.9h-1.9zM190.3 862.6h1.9v1.9h-1.9zM149.6 849.3h1.9v1.9h-1.9zM225.7 872.8h1.9v1.9h-1.9zM248.1 862.2h1.9v1.9h-1.9zM230.7 869.2h1.9v1.9h-1.9zM246.1 854.3h1.9v1.9h-1.9zM198.1 845.0h1.9v1.9h-1.9zM186.8 886.0h1.9v1.9h-1.9zM200.9 862.1h1.9v1.9h-1.9zM162.6 857.8h1.9v1.9h-1.9zM167.1 861.4h1.9v1.9h-1.9zM202.8 864.5h1.9v1.9h-1.9zM169.5 849.0h1.9v1.9h-1.9zM199.5 854.3h1.9v1.9h-1.9zM223.8 862.0h1.9v1.9h-1.9zM176.4 855.4h1.9v1.9h-1.9zM248.1 852.5h1.9v1.9h-1.9zM234.4 858.6h1.9v1.9h-1.9zM204.4 864.9h1.9v1.9h-1.9zM255.9 863.1h1.9v1.9h-1.9zM154.2 861.0h1.9v1.9h-1.9zM215.8 862.6h1.9v1.9h-1.9zM151.1 845.0h1.9v1.9h-1.9zM261.5 869.6h1.9v1.9h-1.9zM259.4 860.9h1.9v1.9h-1.9zM152.6 866.2h1.9v1.9h-1.9zM168.7 871.3h1.9v1.9h-1.9zM194.6 859.0h1.9v1.9h-1.9zM239.2 859.9h1.9v1.9h-1.9zM252.4 863.9h1.9v1.9h-1.9zM213.7 861.8h1.9v1.9h-1.9zM208.8 871.1h1.9v1.9h-1.9zM249.1 847.2h1.9v1.9h-1.9zM146.5 869.6h1.9v1.9h-1.9zM222.2 858.9h1.9v1.9h-1.9zM221.6 871.6h1.9v1.9h-1.9zM185.1 856.4h1.9v1.9h-1.9zM141.8 881.1h1.9v1.9h-1.9zM189.3 855.7h1.9v1.9h-1.9zM257.4 849.5h1.9v1.9h-1.9zM174.5 859.7h1.9v1.9h-1.9zM173.8 859.7h1.9v1.9h-1.9zM155.9 852.8h1.9v1.9h-1.9zM182.4 852.2h1.9v1.9h-1.9zM162.2 867.3h1.9v1.9h-1.9zM145.0 867.4h1.9v1.9h-1.9zM152.5 857.5h1.9v1.9h-1.9zM164.7 886.1h1.9v1.9h-1.9zM254.6 847.5h1.9v1.9h-1.9zM184.0 872.4h1.9v1.9h-1.9zM148.1 863.6h1.9v1.9h-1.9zM257.6 853.8h1.9v1.9h-1.9zM163.7 865.6h1.9v1.9h-1.9zM202.7 865.7h1.9v1.9h-1.9zM155.4 866.4h1.9v1.9h-1.9zM173.1 860.4h1.9v1.9h-1.9zM185.5 863.2h1.9v1.9h-1.9zM196.1 867.3h1.9v1.9h-1.9zM207.2 867.5h1.9v1.9h-1.9zM224.7 877.0h1.9v1.9h-1.9zM199.0 842.3h1.9v1.9h-1.9zM177.0 853.2h1.9v1.9h-1.9zM159.9 874.6h1.9v1.9h-1.9zM180.3 853.8h1.9v1.9h-1.9zM240.4 857.5h1.9v1.9h-1.9zM163.5 858.9h1.9v1.9h-1.9zM175.5 843.4h1.9v1.9h-1.9zM164.2 857.4h1.9v1.9h-1.9zM246.3 857.5h1.9v1.9h-1.9zM186.6 861.2h1.9v1.9h-1.9zM183.8 882.4h1.9v1.9h-1.9zM172.7 858.5h1.9v1.9h-1.9zM153.2 866.0h1.9v1.9h-1.9zM161.1 861.2h1.9v1.9h-1.9zM204.5 860.1h1.9v1.9h-1.9zM175.4 852.0h1.9v1.9h-1.9zM184.1 858.2h1.9v1.9h-1.9zM184.1 867.0h1.9v1.9h-1.9zM213.6 866.3h1.9v1.9h-1.9zM217.9 842.4h1.9v1.9h-1.9zM167.4 876.4h1.9v1.9h-1.9zM257.5 845.7h1.9v1.9h-1.9zM195.5 851.2h1.9v1.9h-1.9zM166.3 859.8h1.9v1.9h-1.9zM224.9 855.1h1.9v1.9h-1.9zM220.5 870.0h1.9v1.9h-1.9zM261.4 838.0h1.9v1.9h-1.9zM258.7 852.9h1.9v1.9h-1.9zM231.9 849.0h1.9v1.9h-1.9zM260.5 859.4h1.9v1.9h-1.9zM224.5 868.6h1.9v1.9h-1.9zM216.2 856.8h1.9v1.9h-1.9zM261.8 844.6h1.9v1.9h-1.9zM209.4 855.2h1.9v1.9h-1.9zM220.9 870.6h1.9v1.9h-1.9zM184.2 876.8h1.9v1.9h-1.9zM246.7 845.9h1.9v1.9h-1.9zM175.6 863.9h1.9v1.9h-1.9zM241.3 863.7h1.9v1.9h-1.9zM143.5 853.4h1.9v1.9h-1.9zM145.8 845.7h1.9v1.9h-1.9zM260.0 855.3h1.9v1.9h-1.9zM249.7 856.2h1.9v1.9h-1.9zM195.7 863.5h1.9v1.9h-1.9zM233.6 852.8h1.9v1.9h-1.9zM238.8 877.4h1.9v1.9h-1.9zM229.7 864.9h1.9v1.9h-1.9zM212.8 845.0h1.9v1.9h-1.9zM216.9 857.6h1.9v1.9h-1.9zM258.0 863.2h1.9v1.9h-1.9zM165.3 884.4h1.9v1.9h-1.9zM205.6 880.2h1.9v1.9h-1.9zM183.3 847.6h1.9v1.9h-1.9zM172.5 863.0h1.9v1.9h-1.9zM222.0 852.9h1.9v1.9h-1.9zM216.3 864.0h1.9v1.9h-1.9zM216.8 855.8h1.9v1.9h-1.9zM156.3 855.0h1.9v1.9h-1.9zM229.3 858.8h1.9v1.9h-1.9zM221.6 869.7h1.9v1.9h-1.9zM235.4 865.0h1.9v1.9h-1.9zM238.4 851.5h1.9v1.9h-1.9zM237.3 864.6h1.9v1.9h-1.9zM196.6 862.0h1.9v1.9h-1.9zM198.4 866.2h1.9v1.9h-1.9zM176.7 863.4h1.9v1.9h-1.9zM172.6 854.4h1.9v1.9h-1.9zM254.1 859.0h1.9v1.9h-1.9zM182.4 869.2h1.9v1.9h-1.9zM157.2 862.4h1.9v1.9h-1.9zM255.5 842.0h1.9v1.9h-1.9zM185.2 868.9h1.9v1.9h-1.9zM150.2 870.3h1.9v1.9h-1.9zM220.0 850.4h1.9v1.9h-1.9zM259.0 850.9h1.9v1.9h-1.9zM144.6 877.9h1.9v1.9h-1.9zM236.0 849.3h1.9v1.9h-1.9zM165.7 846.9h1.9v1.9h-1.9zM203.8 854.8h1.9v1.9h-1.9zM165.3 872.1h1.9v1.9h-1.9zM229.3 864.5h1.9v1.9h-1.9zM227.5 854.3h1.9v1.9h-1.9zM150.5 867.6h1.9v1.9h-1.9zM226.7 867.0h1.9v1.9h-1.9zM160.2 866.0h1.9v1.9h-1.9zM147.6 875.3h1.9v1.9h-1.9zM158.3 855.3h1.9v1.9h-1.9zM219.8 871.3h1.9v1.9h-1.9zM229.4 862.8h1.9v1.9h-1.9zM200.1 843.4h1.9v1.9h-1.9zM187.5 864.7h1.9v1.9h-1.9zM234.3 868.0h1.9v1.9h-1.9zM214.7 892.3h1.9v1.9h-1.9zM146.1 857.7h1.9v1.9h-1.9zM189.9 861.4h1.9v1.9h-1.9zM182.4 854.4h1.9v1.9h-1.9zM189.2 869.9h1.9v1.9h-1.9zM209.4 864.0h1.9v1.9h-1.9zM163.4 871.3h1.9v1.9h-1.9zM161.1 866.3h1.9v1.9h-1.9zM180.9 860.4h1.9v1.9h-1.9zM255.3 851.3h1.9v1.9h-1.9zM165.2 854.9h1.9v1.9h-1.9zM190.2 854.9h1.9v1.9h-1.9zM215.5 872.5h1.9v1.9h-1.9zM151.7 864.3h1.9v1.9h-1.9zM209.9 861.2h1.9v1.9h-1.9zM212.9 852.6h1.9v1.9h-1.9zM239.9 852.8h1.9v1.9h-1.9zM205.3 867.7h1.9v1.9h-1.9zM248.5 850.5h1.9v1.9h-1.9zM240.8 870.3h1.9v1.9h-1.9zM155.9 867.7h1.9v1.9h-1.9zM191.0 847.2h1.9v1.9h-1.9zM147.9 850.9h1.9v1.9h-1.9zM241.6 848.4h1.9v1.9h-1.9zM228.9 866.1h1.9v1.9h-1.9zM171.9 845.3h1.9v1.9h-1.9zM161.2 857.8h1.9v1.9h-1.9zM164.9 857.0h1.9v1.9h-1.9zM220.3 884.6h1.9v1.9h-1.9zM163.7 879.0h1.9v1.9h-1.9zM182.4 870.8h1.9v1.9h-1.9zM217.1 860.8h1.9v1.9h-1.9zM207.3 868.7h1.9v1.9h-1.9zM187.1 863.8h1.9v1.9h-1.9zM184.6 868.9h1.9v1.9h-1.9zM221.3 855.0h1.9v1.9h-1.9zM183.4 862.2h1.9v1.9h-1.9zM177.8 865.0h1.9v1.9h-1.9zM204.5 839.4h1.9v1.9h-1.9zM228.3 865.6h1.9v1.9h-1.9zM200.7 850.9h1.9v1.9h-1.9zM167.5 879.2h1.9v1.9h-1.9zM204.5 849.3h1.9v1.9h-1.9zM178.2 864.7h1.9v1.9h-1.9zM248.2 841.8h1.9v1.9h-1.9zM155.2 861.4h1.9v1.9h-1.9zM171.3 866.8h1.9v1.9h-1.9zM166.4 869.7h1.9v1.9h-1.9zM158.7 870.9h1.9v1.9h-1.9zM205.5 863.5h1.9v1.9h-1.9zM188.6 856.8h1.9v1.9h-1.9zM226.9 867.8h1.9v1.9h-1.9zM153.1 864.8h1.9v1.9h-1.9zM216.0 866.9h1.9v1.9h-1.9zM159.8 864.4h1.9v1.9h-1.9zM244.9 854.5h1.9v1.9h-1.9zM166.8 883.0h1.9v1.9h-1.9zM235.6 842.5h1.9v1.9h-1.9zM255.4 859.9h1.9v1.9h-1.9zM173.8 864.7h1.9v1.9h-1.9zM183.1 858.2h1.9v1.9h-1.9zM256.7 838.6h1.9v1.9h-1.9zM239.4 856.3h1.9v1.9h-1.9zM241.0 850.3h1.9v1.9h-1.9zM154.0 848.8h1.9v1.9h-1.9zM189.1 847.9h1.9v1.9h-1.9zM182.5 855.4h1.9v1.9h-1.9zM257.4 854.5h1.9v1.9h-1.9zM164.7 871.4h1.9v1.9h-1.9zM191.2 866.0h1.9v1.9h-1.9zM227.3 863.9h1.9v1.9h-1.9zM158.7 864.2h1.9v1.9h-1.9zM201.5 878.3h1.9v1.9h-1.9zM225.3 846.5h1.9v1.9h-1.9zM188.9 873.6h1.9v1.9h-1.9zM189.0 855.7h1.9v1.9h-1.9zM252.5 853.3h1.9v1.9h-1.9zM197.4 859.3h1.9v1.9h-1.9zM158.2 867.7h1.9v1.9h-1.9zM259.9 840.8h1.9v1.9h-1.9zM167.4 858.9h1.9v1.9h-1.9zM256.8 841.2h1.9v1.9h-1.9zM202.8 884.8h1.9v1.9h-1.9zM202.7 869.4h1.9v1.9h-1.9zM259.6 839.5h1.9v1.9h-1.9zM211.9 883.8h1.9v1.9h-1.9zM192.6 869.1h1.9v1.9h-1.9zM158.1 865.9h1.9v1.9h-1.9zM176.4 849.0h1.9v1.9h-1.9zM169.0 861.6h1.9v1.9h-1.9zM255.9 858.9h1.9v1.9h-1.9zM227.0 864.5h1.9v1.9h-1.9zM162.8 863.8h1.9v1.9h-1.9zM212.5 852.0h1.9v1.9h-1.9zM234.0 841.3h1.9v1.9h-1.9zM173.3 850.7h1.9v1.9h-1.9zM198.2 857.3h1.9v1.9h-1.9zM170.0 854.0h1.9v1.9h-1.9zM250.6 848.7h1.9v1.9h-1.9zM211.8 870.7h1.9v1.9h-1.9zM157.0 870.5h1.9v1.9h-1.9zM238.0 840.1h1.9v1.9h-1.9zM236.8 864.4h1.9v1.9h-1.9zM191.8 853.5h1.9v1.9h-1.9zM246.2 851.6h1.9v1.9h-1.9zM192.0 861.7h1.9v1.9h-1.9zM249.4 851.7h1.9v1.9h-1.9zM238.0 849.1h1.9v1.9h-1.9zM167.4 861.9h1.9v1.9h-1.9zM238.3 852.8h1.9v1.9h-1.9zM174.6 874.2h1.9v1.9h-1.9zM248.5 835.0h1.9v1.9h-1.9zM258.4 870.7h1.9v1.9h-1.9zM157.6 876.4h1.9v1.9h-1.9zM179.3 875.2h1.9v1.9h-1.9zM143.6 855.1h1.9v1.9h-1.9zM242.4 856.3h1.9v1.9h-1.9zM261.5 844.3h1.9v1.9h-1.9zM172.7 855.3h1.9v1.9h-1.9zM196.6 847.3h1.9v1.9h-1.9zM243.3 852.5h1.9v1.9h-1.9zM261.4 839.5h1.9v1.9h-1.9zM151.9 889.0h1.9v1.9h-1.9zM163.3 874.5h1.9v1.9h-1.9zM174.0 880.0h1.9v1.9h-1.9zM176.5 887.4h1.9v1.9h-1.9zM158.4 878.3h1.9v1.9h-1.9zM169.7 881.4h1.9v1.9h-1.9zM175.2 877.0h1.9v1.9h-1.9zM198.8 863.1h1.9v1.9h-1.9zM223.1 850.6h1.9v1.9h-1.9zM232.7 851.3h1.9v1.9h-1.9zM252.7 849.6h1.9v1.9h-1.9zM246.0 864.0h1.9v1.9h-1.9zM218.6 834.6h1.9v1.9h-1.9zM158.4 866.1h1.9v1.9h-1.9zM149.5 870.5h1.9v1.9h-1.9zM165.0 872.0h1.9v1.9h-1.9zM155.5 863.8h1.9v1.9h-1.9zM256.3 851.6h1.9v1.9h-1.9zM206.2 856.6h1.9v1.9h-1.9zM208.7 855.9h1.9v1.9h-1.9zM174.7 860.1h1.9v1.9h-1.9zM192.1 834.7h1.9v1.9h-1.9zM151.2 839.2h1.9v1.9h-1.9zM155.1 855.8h1.9v1.9h-1.9zM214.9 856.4h1.9v1.9h-1.9zM175.7 876.5h1.9v1.9h-1.9zM215.7 870.6h1.9v1.9h-1.9zM171.3 889.6h1.9v1.9h-1.9zM167.6 864.2h1.9v1.9h-1.9zM214.4 845.7h1.9v1.9h-1.9zM155.2 844.3h1.9v1.9h-1.9zM191.1 853.9h1.9v1.9h-1.9zM160.9 864.4h1.9v1.9h-1.9zM158.4 860.7h1.9v1.9h-1.9zM221.0 881.2h1.9v1.9h-1.9zM248.8 855.6h1.9v1.9h-1.9zM261.5 840.4h1.9v1.9h-1.9zM224.0 865.8h1.9v1.9h-1.9zM152.3 869.6h1.9v1.9h-1.9zM246.9 850.1h1.9v1.9h-1.9zM244.0 857.2h1.9v1.9h-1.9zM180.0 876.9h1.9v1.9h-1.9zM144.5 856.2h1.9v1.9h-1.9zM166.5 868.7h1.9v1.9h-1.9zM258.4 842.2h1.9v1.9h-1.9zM218.2 859.3h1.9v1.9h-1.9zM178.2 867.8h1.9v1.9h-1.9zM151.7 865.7h1.9v1.9h-1.9zM213.4 844.0h1.9v1.9h-1.9zM167.1 864.2h1.9v1.9h-1.9zM175.0 870.7h1.9v1.9h-1.9zM261.5 851.5h1.9v1.9h-1.9zM215.2 854.8h1.9v1.9h-1.9zM191.7 870.6h1.9v1.9h-1.9zM206.9 860.8h1.9v1.9h-1.9zM193.1 864.3h1.9v1.9h-1.9zM170.3 863.1h1.9v1.9h-1.9zM156.1 860.2h1.9v1.9h-1.9zM257.8 864.5h1.9v1.9h-1.9zM171.7 863.1h1.9v1.9h-1.9zM168.2 860.5h1.9v1.9h-1.9zM146.3 873.9h1.9v1.9h-1.9zM208.1 858.5h1.9v1.9h-1.9zM194.2 878.3h1.9v1.9h-1.9zM257.5 855.9h1.9v1.9h-1.9zM193.1 846.6h1.9v1.9h-1.9zM156.9 868.4h1.9v1.9h-1.9zM256.3 843.6h1.9v1.9h-1.9zM247.9 871.4h1.9v1.9h-1.9zM200.6 868.7h1.9v1.9h-1.9zM224.3 857.5h1.9v1.9h-1.9zM195.5 844.1h1.9v1.9h-1.9zM231.5 859.1h1.9v1.9h-1.9zM156.8 886.1h1.9v1.9h-1.9zM216.6 851.9h1.9v1.9h-1.9zM170.7 852.2h1.9v1.9h-1.9zM168.2 853.0h1.9v1.9h-1.9zM198.3 853.7h1.9v1.9h-1.9zM175.5 847.4h1.9v1.9h-1.9zM195.8 868.0h1.9v1.9h-1.9zM191.5 862.2h1.9v1.9h-1.9zM195.0 869.9h1.9v1.9h-1.9zM153.4 858.8h1.9v1.9h-1.9zM146.8 857.4h1.9v1.9h-1.9zM146.4 859.0h1.9v1.9h-1.9zM261.2 841.4h1.9v1.9h-1.9zM188.3 856.8h1.9v1.9h-1.9zM154.2 849.9h1.9v1.9h-1.9zM254.7 853.6h1.9v1.9h-1.9zM216.1 859.8h1.9v1.9h-1.9zM260.0 859.1h1.9v1.9h-1.9zM154.7 865.3h1.9v1.9h-1.9zM238.4 852.8h1.9v1.9h-1.9zM158.3 862.6h1.9v1.9h-1.9zM186.4 873.7h1.9v1.9h-1.9zM180.8 857.8h1.9v1.9h-1.9zM177.9 871.6h1.9v1.9h-1.9zM184.3 842.4h1.9v1.9h-1.9zM240.4 855.7h1.9v1.9h-1.9zM260.6 848.7h1.9v1.9h-1.9zM250.9 856.8h1.9v1.9h-1.9zM257.7 847.6h1.9v1.9h-1.9zM195.6 881.2h1.9v1.9h-1.9zM191.3 874.8h1.9v1.9h-1.9zM202.3 865.5h1.9v1.9h-1.9zM150.0 852.5h1.9v1.9h-1.9zM243.1 850.5h1.9v1.9h-1.9zM160.4 857.0h1.9v1.9h-1.9zM215.4 855.1h1.9v1.9h-1.9zM216.6 850.7h1.9v1.9h-1.9zM194.5 854.1h1.9v1.9h-1.9zM171.9 882.1h1.9v1.9h-1.9zM261.0 854.5h1.9v1.9h-1.9zM184.5 888.5h1.9v1.9h-1.9zM207.0 858.3h1.9v1.9h-1.9zM255.3 850.6h1.9v1.9h-1.9zM259.3 844.8h1.9v1.9h-1.9zM197.6 870.6h1.9v1.9h-1.9zM223.6 863.1h1.9v1.9h-1.9zM185.8 861.1h1.9v1.9h-1.9zM171.6 859.1h1.9v1.9h-1.9zM157.4 854.5h1.9v1.9h-1.9zM183.4 858.6h1.9v1.9h-1.9zM246.8 851.5h1.9v1.9h-1.9zM247.4 863.8h1.9v1.9h-1.9zM145.4 861.4h1.9v1.9h-1.9zM222.8 850.4h1.9v1.9h-1.9zM204.5 863.5h1.9v1.9h-1.9zM194.7 843.1h1.9v1.9h-1.9zM189.0 840.7h1.9v1.9h-1.9zM208.3 855.8h1.9v1.9h-1.9zM154.3 870.8h1.9v1.9h-1.9zM211.5 868.9h1.9v1.9h-1.9zM238.4 857.8h1.9v1.9h-1.9zM222.3 869.1h1.9v1.9h-1.9zM173.2 847.2h1.9v1.9h-1.9zM202.9 846.2h1.9v1.9h-1.9zM240.1 859.0h1.9v1.9h-1.9zM248.1 856.1h1.9v1.9h-1.9zM144.3 854.7h1.9v1.9h-1.9zM165.2 863.6h1.9v1.9h-1.9zM208.4 850.6h1.9v1.9h-1.9zM231.6 853.5h1.9v1.9h-1.9zM165.0 863.5h1.9v1.9h-1.9zM143.2 865.0h1.9v1.9h-1.9z" fill="#50ec0a"/>
<path d="M154.5 871.3h1.9v1.9h-1.9zM177.9 875.1h1.9v1.9h-1.9zM197.2 875.7h1.9v1.9h-1.9zM218.6 864.3h1.9v1.9h-1.9zM190.2 872.9h1.9v1.9h-1.9zM249.3 873.3h1.9v1.9h-1.9zM215.4 853.3h1.9v1.9h-1.9zM214.3 878.4h1.9v1.9h-1.9zM175.7 865.8h1.9v1.9h-1.9zM228.7 886.6h1.9v1.9h-1.9zM174.8 875.9h1.9v1.9h-1.9zM160.9 866.0h1.9v1.9h-1.9zM219.2 876.0h1.9v1.9h-1.9zM202.8 879.6h1.9v1.9h-1.9zM222.3 867.1h1.9v1.9h-1.9zM205.6 865.7h1.9v1.9h-1.9zM195.4 863.2h1.9v1.9h-1.9zM243.6 862.7h1.9v1.9h-1.9zM224.2 855.8h1.9v1.9h-1.9zM213.8 847.9h1.9v1.9h-1.9zM248.4 852.9h1.9v1.9h-1.9zM252.2 842.5h1.9v1.9h-1.9zM185.4 873.9h1.9v1.9h-1.9zM240.3 861.0h1.9v1.9h-1.9zM176.7 885.3h1.9v1.9h-1.9zM260.4 841.1h1.9v1.9h-1.9zM160.9 867.6h1.9v1.9h-1.9zM250.3 862.3h1.9v1.9h-1.9zM203.9 863.3h1.9v1.9h-1.9zM257.7 851.6h1.9v1.9h-1.9zM240.7 869.8h1.9v1.9h-1.9zM244.1 846.6h1.9v1.9h-1.9zM169.7 869.1h1.9v1.9h-1.9zM254.7 854.2h1.9v1.9h-1.9zM175.2 849.1h1.9v1.9h-1.9zM224.3 867.8h1.9v1.9h-1.9zM235.8 872.2h1.9v1.9h-1.9zM259.9 840.8h1.9v1.9h-1.9zM255.7 873.1h1.9v1.9h-1.9zM204.8 868.1h1.9v1.9h-1.9zM229.6 860.4h1.9v1.9h-1.9zM146.3 871.4h1.9v1.9h-1.9zM214.7 873.9h1.9v1.9h-1.9zM191.3 886.4h1.9v1.9h-1.9zM188.9 876.0h1.9v1.9h-1.9zM251.4 859.7h1.9v1.9h-1.9zM240.2 865.7h1.9v1.9h-1.9zM209.4 874.6h1.9v1.9h-1.9zM238.4 859.5h1.9v1.9h-1.9zM248.8 853.5h1.9v1.9h-1.9zM258.3 863.5h1.9v1.9h-1.9zM251.9 874.9h1.9v1.9h-1.9zM255.1 863.2h1.9v1.9h-1.9zM219.1 866.9h1.9v1.9h-1.9zM165.5 865.1h1.9v1.9h-1.9zM183.2 873.9h1.9v1.9h-1.9zM248.0 861.8h1.9v1.9h-1.9zM241.0 859.4h1.9v1.9h-1.9zM258.9 846.5h1.9v1.9h-1.9zM185.9 854.9h1.9v1.9h-1.9zM166.6 850.6h1.9v1.9h-1.9zM202.9 874.0h1.9v1.9h-1.9zM149.8 862.7h1.9v1.9h-1.9zM226.4 868.7h1.9v1.9h-1.9zM164.4 870.1h1.9v1.9h-1.9zM245.4 868.4h1.9v1.9h-1.9zM258.8 852.9h1.9v1.9h-1.9zM227.6 856.9h1.9v1.9h-1.9zM175.9 877.2h1.9v1.9h-1.9zM226.8 870.9h1.9v1.9h-1.9zM169.5 858.2h1.9v1.9h-1.9zM190.9 867.8h1.9v1.9h-1.9zM219.6 885.6h1.9v1.9h-1.9zM161.2 876.5h1.9v1.9h-1.9zM154.3 875.9h1.9v1.9h-1.9zM237.5 865.8h1.9v1.9h-1.9zM259.1 850.3h1.9v1.9h-1.9zM221.9 868.3h1.9v1.9h-1.9zM221.3 892.0h1.9v1.9h-1.9zM255.4 854.6h1.9v1.9h-1.9zM216.1 867.8h1.9v1.9h-1.9zM253.9 833.6h1.9v1.9h-1.9zM146.1 864.7h1.9v1.9h-1.9zM211.1 880.3h1.9v1.9h-1.9zM261.6 868.4h1.9v1.9h-1.9zM169.5 871.8h1.9v1.9h-1.9zM261.0 856.4h1.9v1.9h-1.9zM188.6 873.8h1.9v1.9h-1.9zM251.4 871.2h1.9v1.9h-1.9zM146.0 880.7h1.9v1.9h-1.9zM214.8 874.2h1.9v1.9h-1.9zM230.6 874.9h1.9v1.9h-1.9zM242.7 884.5h1.9v1.9h-1.9zM181.2 860.5h1.9v1.9h-1.9zM164.0 877.4h1.9v1.9h-1.9zM147.0 868.0h1.9v1.9h-1.9zM243.6 862.6h1.9v1.9h-1.9zM181.3 886.4h1.9v1.9h-1.9zM176.9 876.0h1.9v1.9h-1.9zM217.8 874.3h1.9v1.9h-1.9zM156.4 871.3h1.9v1.9h-1.9zM218.0 849.0h1.9v1.9h-1.9zM227.2 878.7h1.9v1.9h-1.9zM205.5 873.2h1.9v1.9h-1.9zM146.4 867.9h1.9v1.9h-1.9zM241.7 876.5h1.9v1.9h-1.9zM228.4 866.3h1.9v1.9h-1.9zM257.9 856.4h1.9v1.9h-1.9zM179.9 856.3h1.9v1.9h-1.9zM200.4 869.4h1.9v1.9h-1.9zM182.8 868.0h1.9v1.9h-1.9zM160.0 876.1h1.9v1.9h-1.9zM244.6 856.2h1.9v1.9h-1.9zM251.4 863.5h1.9v1.9h-1.9zM254.0 866.2h1.9v1.9h-1.9zM230.6 855.5h1.9v1.9h-1.9zM206.4 867.7h1.9v1.9h-1.9zM178.9 861.0h1.9v1.9h-1.9zM154.3 898.0h1.9v1.9h-1.9zM154.7 870.9h1.9v1.9h-1.9zM258.5 861.2h1.9v1.9h-1.9zM195.4 888.6h1.9v1.9h-1.9zM215.7 878.0h1.9v1.9h-1.9zM236.1 855.9h1.9v1.9h-1.9zM180.5 864.3h1.9v1.9h-1.9zM164.0 865.6h1.9v1.9h-1.9zM144.1 873.6h1.9v1.9h-1.9zM192.2 870.7h1.9v1.9h-1.9zM207.7 863.1h1.9v1.9h-1.9zM177.7 880.9h1.9v1.9h-1.9zM221.7 859.5h1.9v1.9h-1.9zM235.7 873.0h1.9v1.9h-1.9zM207.8 872.4h1.9v1.9h-1.9zM256.1 850.7h1.9v1.9h-1.9zM160.3 868.9h1.9v1.9h-1.9zM210.9 865.9h1.9v1.9h-1.9zM183.2 872.8h1.9v1.9h-1.9zM206.0 875.3h1.9v1.9h-1.9zM260.5 861.4h1.9v1.9h-1.9zM246.5 851.6h1.9v1.9h-1.9zM226.2 862.4h1.9v1.9h-1.9zM225.8 877.7h1.9v1.9h-1.9zM151.1 868.4h1.9v1.9h-1.9zM192.6 867.4h1.9v1.9h-1.9zM175.1 870.8h1.9v1.9h-1.9zM230.6 877.8h1.9v1.9h-1.9zM210.7 872.4h1.9v1.9h-1.9zM252.0 858.6h1.9v1.9h-1.9zM254.7 859.6h1.9v1.9h-1.9zM257.5 859.2h1.9v1.9h-1.9zM158.8 884.3h1.9v1.9h-1.9zM164.0 862.3h1.9v1.9h-1.9zM256.2 854.3h1.9v1.9h-1.9zM256.7 859.5h1.9v1.9h-1.9zM258.8 858.0h1.9v1.9h-1.9zM163.1 856.9h1.9v1.9h-1.9zM174.1 853.5h1.9v1.9h-1.9zM260.9 847.9h1.9v1.9h-1.9zM204.5 866.7h1.9v1.9h-1.9zM183.7 881.4h1.9v1.9h-1.9zM193.3 878.8h1.9v1.9h-1.9zM183.2 869.2h1.9v1.9h-1.9zM180.0 869.3h1.9v1.9h-1.9zM178.1 877.0h1.9v1.9h-1.9zM223.0 883.6h1.9v1.9h-1.9zM159.5 871.5h1.9v1.9h-1.9zM211.0 861.3h1.9v1.9h-1.9zM217.0 885.7h1.9v1.9h-1.9zM211.5 862.7h1.9v1.9h-1.9zM241.0 853.7h1.9v1.9h-1.9zM146.8 881.2h1.9v1.9h-1.9zM157.0 875.3h1.9v1.9h-1.9zM255.3 868.2h1.9v1.9h-1.9zM212.2 882.4h1.9v1.9h-1.9zM145.3 869.5h1.9v1.9h-1.9zM200.3 851.1h1.9v1.9h-1.9zM205.3 871.4h1.9v1.9h-1.9zM188.5 883.3h1.9v1.9h-1.9zM184.4 861.7h1.9v1.9h-1.9zM247.0 852.7h1.9v1.9h-1.9zM160.7 861.8h1.9v1.9h-1.9zM252.7 858.9h1.9v1.9h-1.9zM253.8 859.8h1.9v1.9h-1.9zM255.8 870.2h1.9v1.9h-1.9zM178.0 862.6h1.9v1.9h-1.9zM186.0 873.8h1.9v1.9h-1.9zM259.2 865.5h1.9v1.9h-1.9zM148.1 870.1h1.9v1.9h-1.9zM176.0 879.4h1.9v1.9h-1.9zM244.6 844.0h1.9v1.9h-1.9zM205.7 869.6h1.9v1.9h-1.9zM256.1 853.4h1.9v1.9h-1.9zM223.5 872.4h1.9v1.9h-1.9zM254.3 860.0h1.9v1.9h-1.9zM252.4 864.8h1.9v1.9h-1.9zM146.1 861.5h1.9v1.9h-1.9zM154.0 875.8h1.9v1.9h-1.9zM220.7 855.9h1.9v1.9h-1.9zM148.9 868.6h1.9v1.9h-1.9z" fill="#14d214"/>
<path d="M154.4 871.2h1.9v1.9h-1.9zM254.6 859.1h1.9v1.9h-1.9zM145.1 869.5h1.9v1.9h-1.9zM244.5 862.9h1.9v1.9h-1.9zM234.9 868.6h1.9v1.9h-1.9zM261.3 869.5h1.9v1.9h-1.9zM228.4 871.4h1.9v1.9h-1.9zM224.3 875.6h1.9v1.9h-1.9zM260.2 844.2h1.9v1.9h-1.9zM220.4 876.5h1.9v1.9h-1.9zM239.1 871.7h1.9v1.9h-1.9zM250.0 867.5h1.9v1.9h-1.9zM251.4 861.1h1.9v1.9h-1.9zM258.7 869.1h1.9v1.9h-1.9zM199.6 868.4h1.9v1.9h-1.9zM204.2 878.2h1.9v1.9h-1.9zM188.7 878.2h1.9v1.9h-1.9zM244.9 873.5h1.9v1.9h-1.9zM253.0 861.2h1.9v1.9h-1.9zM193.8 883.2h1.9v1.9h-1.9zM247.1 874.0h1.9v1.9h-1.9zM172.9 866.7h1.9v1.9h-1.9zM181.4 859.9h1.9v1.9h-1.9zM175.8 877.1h1.9v1.9h-1.9zM261.6 860.8h1.9v1.9h-1.9zM261.1 854.4h1.9v1.9h-1.9zM172.8 879.1h1.9v1.9h-1.9zM164.0 873.6h1.9v1.9h-1.9zM149.9 880.4h1.9v1.9h-1.9zM173.0 880.2h1.9v1.9h-1.9zM255.3 866.2h1.9v1.9h-1.9zM171.7 876.7h1.9v1.9h-1.9zM221.5 875.7h1.9v1.9h-1.9zM199.5 869.5h1.9v1.9h-1.9zM254.5 863.3h1.9v1.9h-1.9zM260.4 874.9h1.9v1.9h-1.9zM259.9 867.6h1.9v1.9h-1.9zM246.9 866.6h1.9v1.9h-1.9zM237.1 874.3h1.9v1.9h-1.9zM184.9 878.5h1.9v1.9h-1.9zM167.2 883.6h1.9v1.9h-1.9zM249.6 871.6h1.9v1.9h-1.9zM261.2 857.5h1.9v1.9h-1.9zM147.1 876.2h1.9v1.9h-1.9zM153.1 872.0h1.9v1.9h-1.9zM171.4 873.9h1.9v1.9h-1.9zM260.6 863.2h1.9v1.9h-1.9z" fill="#12b446"/>
<path d="M219.7 872.1h1.9v1.9h-1.9zM175.8 876.0h1.9v1.9h-1.9zM143.0 841.8h1.9v1.9h-1.9zM260.5 852.9h1.9v1.9h-1.9zM261.7 870.4h1.9v1.9h-1.9zM183.8 887.0h1.9v1.9h-1.9z" fill="#168a90"/>
<path d="M145.3 860.1h1.9v1.9h-1.9zM159.7 885.9h1.9v1.9h-1.9zM249.5 833.0h1.9v1.9h-1.9zM163.0 889.1h1.9v1.9h-1.9z" fill="#1f58c8"/>
<path d="M147.3 878.2h1.9v1.9h-1.9z" fill="#1a30e0"/>
<path d="M188.4 827.6h1.9v1.9h-1.9z" fill="#ff2a00"/>
<path d="M176.3 844.1h1.9v1.9h-1.9zM212.5 837.6h1.9v1.9h-1.9zM147.0 842.5h1.9v1.9h-1.9zM179.0 840.3h1.9v1.9h-1.9zM167.0 834.9h1.9v1.9h-1.9zM244.6 834.7h1.9v1.9h-1.9zM151.8 835.1h1.9v1.9h-1.9zM217.2 829.8h1.9v1.9h-1.9zM283.9 821.4h1.9v1.9h-1.9z" fill="#ff8c00"/>
<path d="M208.9 839.4h1.9v1.9h-1.9zM198.8 836.7h1.9v1.9h-1.9zM161.8 838.4h1.9v1.9h-1.9zM199.6 837.6h1.9v1.9h-1.9zM146.5 838.7h1.9v1.9h-1.9zM185.0 841.7h1.9v1.9h-1.9zM163.0 842.4h1.9v1.9h-1.9zM182.4 835.1h1.9v1.9h-1.9zM216.9 846.0h1.9v1.9h-1.9zM184.5 844.4h1.9v1.9h-1.9zM241.8 844.8h1.9v1.9h-1.9zM233.0 846.3h1.9v1.9h-1.9zM161.0 851.2h1.9v1.9h-1.9zM202.9 840.8h1.9v1.9h-1.9zM241.1 837.9h1.9v1.9h-1.9zM229.5 834.7h1.9v1.9h-1.9zM158.3 847.3h1.9v1.9h-1.9zM159.5 834.1h1.9v1.9h-1.9zM148.1 841.7h1.9v1.9h-1.9zM150.3 852.3h1.9v1.9h-1.9zM219.4 841.2h1.9v1.9h-1.9zM206.3 850.2h1.9v1.9h-1.9zM204.2 850.0h1.9v1.9h-1.9zM219.3 837.5h1.9v1.9h-1.9zM225.8 835.2h1.9v1.9h-1.9zM194.4 841.0h1.9v1.9h-1.9zM171.4 833.7h1.9v1.9h-1.9zM230.4 848.3h1.9v1.9h-1.9zM289.3 825.2h1.9v1.9h-1.9zM222.0 836.8h1.9v1.9h-1.9zM150.8 839.1h1.9v1.9h-1.9zM218.0 836.9h1.9v1.9h-1.9zM160.8 837.2h1.9v1.9h-1.9zM191.6 836.5h1.9v1.9h-1.9zM181.5 837.9h1.9v1.9h-1.9zM180.1 835.6h1.9v1.9h-1.9zM225.8 837.5h1.9v1.9h-1.9zM185.7 840.8h1.9v1.9h-1.9zM220.0 847.1h1.9v1.9h-1.9zM240.6 837.2h1.9v1.9h-1.9zM239.4 839.9h1.9v1.9h-1.9zM174.2 835.6h1.9v1.9h-1.9zM209.0 825.0h1.9v1.9h-1.9zM246.9 829.5h1.9v1.9h-1.9zM166.3 843.4h1.9v1.9h-1.9zM210.2 844.4h1.9v1.9h-1.9zM143.2 839.7h1.9v1.9h-1.9zM184.3 834.5h1.9v1.9h-1.9zM209.9 839.5h1.9v1.9h-1.9zM229.4 836.0h1.9v1.9h-1.9zM151.5 834.6h1.9v1.9h-1.9zM203.1 840.9h1.9v1.9h-1.9zM196.5 847.1h1.9v1.9h-1.9zM255.0 846.6h1.9v1.9h-1.9zM201.2 837.9h1.9v1.9h-1.9zM180.2 853.8h1.9v1.9h-1.9zM204.4 841.8h1.9v1.9h-1.9zM244.6 834.3h1.9v1.9h-1.9zM209.8 830.6h1.9v1.9h-1.9zM212.2 832.7h1.9v1.9h-1.9zM152.3 842.6h1.9v1.9h-1.9zM224.5 848.1h1.9v1.9h-1.9zM231.4 834.0h1.9v1.9h-1.9zM189.1 843.5h1.9v1.9h-1.9zM156.3 835.7h1.9v1.9h-1.9zM181.1 834.1h1.9v1.9h-1.9zM192.0 836.3h1.9v1.9h-1.9zM166.6 834.3h1.9v1.9h-1.9zM143.8 835.5h1.9v1.9h-1.9zM229.6 835.6h1.9v1.9h-1.9zM153.4 838.0h1.9v1.9h-1.9zM179.8 836.2h1.9v1.9h-1.9zM215.1 847.6h1.9v1.9h-1.9zM202.6 839.1h1.9v1.9h-1.9zM148.7 851.8h1.9v1.9h-1.9zM174.4 836.2h1.9v1.9h-1.9zM200.1 840.2h1.9v1.9h-1.9zM175.5 835.5h1.9v1.9h-1.9zM201.1 839.0h1.9v1.9h-1.9zM146.7 842.8h1.9v1.9h-1.9zM153.0 847.7h1.9v1.9h-1.9zM183.8 827.5h1.9v1.9h-1.9zM209.9 834.3h1.9v1.9h-1.9zM181.7 833.5h1.9v1.9h-1.9zM229.7 844.0h1.9v1.9h-1.9zM189.4 842.5h1.9v1.9h-1.9zM201.7 857.6h1.9v1.9h-1.9zM228.3 834.5h1.9v1.9h-1.9zM224.7 841.7h1.9v1.9h-1.9zM171.5 845.2h1.9v1.9h-1.9zM232.2 837.0h1.9v1.9h-1.9zM144.6 840.0h1.9v1.9h-1.9zM152.3 845.0h1.9v1.9h-1.9zM207.3 836.6h1.9v1.9h-1.9zM143.2 837.8h1.9v1.9h-1.9zM255.6 834.7h1.9v1.9h-1.9z" fill="#ffc800"/>
<path d="M208.5 843.9h1.9v1.9h-1.9zM244.0 845.0h1.9v1.9h-1.9zM239.3 843.1h1.9v1.9h-1.9zM223.5 844.6h1.9v1.9h-1.9zM177.7 837.1h1.9v1.9h-1.9zM210.5 850.0h1.9v1.9h-1.9zM233.9 846.6h1.9v1.9h-1.9zM149.3 841.5h1.9v1.9h-1.9zM145.8 842.1h1.9v1.9h-1.9zM172.4 842.6h1.9v1.9h-1.9zM205.2 841.2h1.9v1.9h-1.9zM173.8 853.0h1.9v1.9h-1.9zM145.6 835.5h1.9v1.9h-1.9zM194.5 841.2h1.9v1.9h-1.9zM152.4 850.5h1.9v1.9h-1.9zM197.0 854.0h1.9v1.9h-1.9zM203.2 834.6h1.9v1.9h-1.9zM254.7 834.7h1.9v1.9h-1.9zM229.6 846.2h1.9v1.9h-1.9zM170.7 843.4h1.9v1.9h-1.9zM196.1 838.1h1.9v1.9h-1.9zM155.5 850.2h1.9v1.9h-1.9zM205.4 837.2h1.9v1.9h-1.9zM194.1 838.4h1.9v1.9h-1.9zM207.9 835.0h1.9v1.9h-1.9zM212.5 859.8h1.9v1.9h-1.9zM155.9 836.5h1.9v1.9h-1.9zM201.5 846.5h1.9v1.9h-1.9zM205.1 833.6h1.9v1.9h-1.9zM248.0 835.7h1.9v1.9h-1.9zM185.3 832.0h1.9v1.9h-1.9zM240.3 833.1h1.9v1.9h-1.9zM207.4 839.0h1.9v1.9h-1.9zM152.7 842.5h1.9v1.9h-1.9zM171.7 843.7h1.9v1.9h-1.9zM176.9 855.2h1.9v1.9h-1.9zM152.0 843.9h1.9v1.9h-1.9zM187.3 856.9h1.9v1.9h-1.9zM242.3 854.1h1.9v1.9h-1.9zM246.3 840.1h1.9v1.9h-1.9zM214.5 834.5h1.9v1.9h-1.9zM160.2 844.1h1.9v1.9h-1.9zM203.0 859.3h1.9v1.9h-1.9zM216.5 835.1h1.9v1.9h-1.9zM208.4 843.7h1.9v1.9h-1.9zM183.2 841.0h1.9v1.9h-1.9zM173.9 840.3h1.9v1.9h-1.9zM241.4 833.9h1.9v1.9h-1.9zM240.6 840.7h1.9v1.9h-1.9zM186.0 853.8h1.9v1.9h-1.9zM213.8 840.0h1.9v1.9h-1.9zM244.4 834.9h1.9v1.9h-1.9zM209.1 837.7h1.9v1.9h-1.9zM241.8 842.6h1.9v1.9h-1.9zM148.5 844.1h1.9v1.9h-1.9zM148.3 841.8h1.9v1.9h-1.9zM159.7 843.8h1.9v1.9h-1.9zM153.5 850.6h1.9v1.9h-1.9zM143.3 838.9h1.9v1.9h-1.9zM186.5 857.8h1.9v1.9h-1.9zM164.4 843.8h1.9v1.9h-1.9zM181.1 856.4h1.9v1.9h-1.9zM202.5 845.3h1.9v1.9h-1.9zM146.4 843.4h1.9v1.9h-1.9zM172.1 846.2h1.9v1.9h-1.9zM226.0 842.1h1.9v1.9h-1.9zM174.1 855.2h1.9v1.9h-1.9zM224.4 838.1h1.9v1.9h-1.9zM229.0 841.5h1.9v1.9h-1.9zM174.4 836.3h1.9v1.9h-1.9zM202.8 847.7h1.9v1.9h-1.9zM146.0 852.3h1.9v1.9h-1.9zM195.4 851.5h1.9v1.9h-1.9zM151.0 843.4h1.9v1.9h-1.9zM233.2 860.0h1.9v1.9h-1.9zM181.2 843.3h1.9v1.9h-1.9zM161.0 865.1h1.9v1.9h-1.9zM200.1 831.4h1.9v1.9h-1.9zM201.9 834.2h1.9v1.9h-1.9zM176.4 839.5h1.9v1.9h-1.9zM168.3 846.8h1.9v1.9h-1.9zM197.8 856.7h1.9v1.9h-1.9zM191.0 854.5h1.9v1.9h-1.9zM238.5 844.0h1.9v1.9h-1.9zM239.4 846.9h1.9v1.9h-1.9zM164.9 849.6h1.9v1.9h-1.9zM202.8 848.8h1.9v1.9h-1.9zM248.3 837.3h1.9v1.9h-1.9zM235.0 842.0h1.9v1.9h-1.9zM159.6 837.9h1.9v1.9h-1.9zM184.1 849.6h1.9v1.9h-1.9zM165.5 834.9h1.9v1.9h-1.9zM230.8 845.3h1.9v1.9h-1.9zM244.1 834.9h1.9v1.9h-1.9zM187.2 837.3h1.9v1.9h-1.9zM169.0 847.8h1.9v1.9h-1.9zM194.6 838.2h1.9v1.9h-1.9zM178.4 835.2h1.9v1.9h-1.9zM146.7 848.3h1.9v1.9h-1.9zM250.9 850.6h1.9v1.9h-1.9zM226.8 856.6h1.9v1.9h-1.9zM213.8 842.4h1.9v1.9h-1.9zM183.6 842.3h1.9v1.9h-1.9zM257.2 839.0h1.9v1.9h-1.9zM218.7 848.5h1.9v1.9h-1.9zM205.4 844.7h1.9v1.9h-1.9zM229.4 844.4h1.9v1.9h-1.9zM163.6 835.7h1.9v1.9h-1.9zM229.3 839.3h1.9v1.9h-1.9zM204.3 841.9h1.9v1.9h-1.9zM227.4 835.2h1.9v1.9h-1.9zM171.5 849.6h1.9v1.9h-1.9zM182.3 858.3h1.9v1.9h-1.9zM231.7 842.2h1.9v1.9h-1.9zM244.9 839.0h1.9v1.9h-1.9zM241.9 839.5h1.9v1.9h-1.9zM195.2 837.1h1.9v1.9h-1.9zM172.0 841.8h1.9v1.9h-1.9zM195.1 840.9h1.9v1.9h-1.9zM224.0 842.3h1.9v1.9h-1.9zM160.6 839.1h1.9v1.9h-1.9zM225.6 844.5h1.9v1.9h-1.9zM163.2 853.9h1.9v1.9h-1.9zM241.8 844.8h1.9v1.9h-1.9zM247.7 847.4h1.9v1.9h-1.9zM187.0 850.8h1.9v1.9h-1.9zM181.8 844.7h1.9v1.9h-1.9zM175.4 836.2h1.9v1.9h-1.9zM198.2 840.7h1.9v1.9h-1.9zM145.3 845.8h1.9v1.9h-1.9zM143.7 862.9h1.9v1.9h-1.9zM207.9 850.9h1.9v1.9h-1.9zM222.5 842.4h1.9v1.9h-1.9zM225.7 843.6h1.9v1.9h-1.9zM192.9 846.9h1.9v1.9h-1.9zM160.5 847.3h1.9v1.9h-1.9zM151.6 850.7h1.9v1.9h-1.9zM165.9 859.7h1.9v1.9h-1.9zM160.9 852.3h1.9v1.9h-1.9zM183.8 846.7h1.9v1.9h-1.9zM168.4 844.1h1.9v1.9h-1.9zM183.5 845.8h1.9v1.9h-1.9zM227.1 843.1h1.9v1.9h-1.9zM171.9 845.8h1.9v1.9h-1.9zM215.3 832.6h1.9v1.9h-1.9zM231.9 856.5h1.9v1.9h-1.9zM251.9 835.9h1.9v1.9h-1.9zM151.5 853.8h1.9v1.9h-1.9zM160.1 847.5h1.9v1.9h-1.9zM201.9 850.8h1.9v1.9h-1.9zM187.9 849.5h1.9v1.9h-1.9zM211.6 840.7h1.9v1.9h-1.9zM213.6 846.9h1.9v1.9h-1.9zM192.7 847.4h1.9v1.9h-1.9zM180.2 848.9h1.9v1.9h-1.9zM213.9 833.2h1.9v1.9h-1.9zM213.9 841.7h1.9v1.9h-1.9zM162.1 860.0h1.9v1.9h-1.9zM250.0 839.2h1.9v1.9h-1.9zM207.9 846.4h1.9v1.9h-1.9zM171.3 852.2h1.9v1.9h-1.9zM208.7 842.9h1.9v1.9h-1.9zM183.9 838.7h1.9v1.9h-1.9zM163.7 834.1h1.9v1.9h-1.9zM173.8 849.5h1.9v1.9h-1.9zM159.4 834.9h1.9v1.9h-1.9zM178.1 838.4h1.9v1.9h-1.9zM212.4 837.4h1.9v1.9h-1.9zM144.4 850.5h1.9v1.9h-1.9zM177.2 836.0h1.9v1.9h-1.9zM182.4 845.6h1.9v1.9h-1.9zM164.1 851.9h1.9v1.9h-1.9zM239.3 834.7h1.9v1.9h-1.9zM231.2 838.6h1.9v1.9h-1.9zM177.8 840.1h1.9v1.9h-1.9zM161.1 848.1h1.9v1.9h-1.9zM235.9 843.4h1.9v1.9h-1.9zM229.5 838.9h1.9v1.9h-1.9zM151.9 847.6h1.9v1.9h-1.9zM238.1 843.2h1.9v1.9h-1.9zM210.4 852.7h1.9v1.9h-1.9zM220.8 837.7h1.9v1.9h-1.9zM204.5 832.7h1.9v1.9h-1.9zM184.0 841.7h1.9v1.9h-1.9zM210.8 854.1h1.9v1.9h-1.9zM224.8 847.2h1.9v1.9h-1.9zM197.3 840.8h1.9v1.9h-1.9zM223.8 856.1h1.9v1.9h-1.9zM221.1 835.5h1.9v1.9h-1.9zM250.6 840.5h1.9v1.9h-1.9zM206.7 839.9h1.9v1.9h-1.9zM222.7 839.0h1.9v1.9h-1.9zM184.8 854.6h1.9v1.9h-1.9zM193.2 840.6h1.9v1.9h-1.9zM218.9 842.7h1.9v1.9h-1.9zM143.7 850.1h1.9v1.9h-1.9zM245.3 837.4h1.9v1.9h-1.9zM189.8 841.6h1.9v1.9h-1.9zM181.5 855.9h1.9v1.9h-1.9zM224.5 857.2h1.9v1.9h-1.9zM191.9 835.5h1.9v1.9h-1.9zM189.8 842.2h1.9v1.9h-1.9zM203.1 846.4h1.9v1.9h-1.9zM183.4 843.3h1.9v1.9h-1.9zM144.9 835.2h1.9v1.9h-1.9zM175.0 835.9h1.9v1.9h-1.9zM246.8 862.6h1.9v1.9h-1.9zM171.1 843.2h1.9v1.9h-1.9zM189.3 853.9h1.9v1.9h-1.9zM183.4 843.7h1.9v1.9h-1.9zM187.0 849.1h1.9v1.9h-1.9zM203.5 846.8h1.9v1.9h-1.9zM164.9 850.5h1.9v1.9h-1.9zM163.8 851.2h1.9v1.9h-1.9zM242.6 851.8h1.9v1.9h-1.9zM229.5 850.3h1.9v1.9h-1.9zM157.9 843.5h1.9v1.9h-1.9zM231.0 837.1h1.9v1.9h-1.9zM151.4 851.3h1.9v1.9h-1.9zM171.0 834.7h1.9v1.9h-1.9zM229.5 840.2h1.9v1.9h-1.9zM169.7 841.4h1.9v1.9h-1.9zM203.7 846.8h1.9v1.9h-1.9zM205.8 844.2h1.9v1.9h-1.9zM171.0 847.6h1.9v1.9h-1.9zM186.4 848.3h1.9v1.9h-1.9zM188.2 838.9h1.9v1.9h-1.9zM172.7 841.8h1.9v1.9h-1.9zM179.5 841.8h1.9v1.9h-1.9zM186.9 846.9h1.9v1.9h-1.9zM221.2 840.5h1.9v1.9h-1.9zM169.8 836.8h1.9v1.9h-1.9zM200.2 850.0h1.9v1.9h-1.9zM166.7 839.2h1.9v1.9h-1.9zM192.0 839.5h1.9v1.9h-1.9zM217.7 834.9h1.9v1.9h-1.9zM241.6 842.7h1.9v1.9h-1.9zM143.7 861.2h1.9v1.9h-1.9zM145.4 868.1h1.9v1.9h-1.9zM166.1 841.1h1.9v1.9h-1.9zM170.3 843.2h1.9v1.9h-1.9zM248.2 839.9h1.9v1.9h-1.9zM190.6 837.3h1.9v1.9h-1.9zM175.0 838.5h1.9v1.9h-1.9zM232.0 842.7h1.9v1.9h-1.9zM150.8 842.8h1.9v1.9h-1.9zM172.5 840.6h1.9v1.9h-1.9zM202.9 843.7h1.9v1.9h-1.9zM144.6 852.4h1.9v1.9h-1.9zM207.6 834.3h1.9v1.9h-1.9zM241.5 835.9h1.9v1.9h-1.9zM210.4 834.7h1.9v1.9h-1.9zM168.0 845.5h1.9v1.9h-1.9zM162.7 840.6h1.9v1.9h-1.9zM164.3 841.0h1.9v1.9h-1.9zM184.5 846.3h1.9v1.9h-1.9zM189.6 849.8h1.9v1.9h-1.9zM207.6 839.4h1.9v1.9h-1.9zM221.8 850.7h1.9v1.9h-1.9zM147.7 857.8h1.9v1.9h-1.9zM212.1 833.9h1.9v1.9h-1.9zM199.1 842.9h1.9v1.9h-1.9zM200.5 842.6h1.9v1.9h-1.9zM165.1 840.8h1.9v1.9h-1.9zM255.0 844.4h1.9v1.9h-1.9zM208.0 844.8h1.9v1.9h-1.9zM167.1 834.8h1.9v1.9h-1.9zM188.5 846.6h1.9v1.9h-1.9zM195.0 842.1h1.9v1.9h-1.9zM206.6 848.4h1.9v1.9h-1.9zM154.0 849.0h1.9v1.9h-1.9zM209.6 837.4h1.9v1.9h-1.9zM216.2 857.8h1.9v1.9h-1.9zM161.0 855.3h1.9v1.9h-1.9zM187.5 855.4h1.9v1.9h-1.9zM161.5 841.6h1.9v1.9h-1.9zM232.3 840.0h1.9v1.9h-1.9zM215.5 839.1h1.9v1.9h-1.9zM168.6 846.4h1.9v1.9h-1.9zM237.9 855.9h1.9v1.9h-1.9zM201.5 836.4h1.9v1.9h-1.9zM163.5 840.8h1.9v1.9h-1.9zM168.4 843.8h1.9v1.9h-1.9zM175.4 844.8h1.9v1.9h-1.9zM221.0 835.0h1.9v1.9h-1.9zM184.8 843.6h1.9v1.9h-1.9zM208.2 832.8h1.9v1.9h-1.9zM183.6 869.8h1.9v1.9h-1.9zM157.2 842.6h1.9v1.9h-1.9zM204.4 834.9h1.9v1.9h-1.9zM250.1 834.8h1.9v1.9h-1.9zM235.7 835.0h1.9v1.9h-1.9zM182.0 844.7h1.9v1.9h-1.9zM213.0 835.9h1.9v1.9h-1.9zM161.6 854.1h1.9v1.9h-1.9zM208.6 843.3h1.9v1.9h-1.9zM158.1 836.7h1.9v1.9h-1.9zM211.0 843.1h1.9v1.9h-1.9zM220.7 836.6h1.9v1.9h-1.9zM156.7 843.3h1.9v1.9h-1.9zM235.1 838.7h1.9v1.9h-1.9zM237.5 841.9h1.9v1.9h-1.9zM214.6 850.5h1.9v1.9h-1.9zM178.3 834.9h1.9v1.9h-1.9zM248.2 832.1h1.9v1.9h-1.9zM183.2 853.5h1.9v1.9h-1.9zM144.9 839.8h1.9v1.9h-1.9zM197.4 835.1h1.9v1.9h-1.9zM168.0 836.6h1.9v1.9h-1.9zM204.6 841.5h1.9v1.9h-1.9zM224.3 851.4h1.9v1.9h-1.9zM215.8 852.9h1.9v1.9h-1.9zM216.1 835.1h1.9v1.9h-1.9zM146.2 842.0h1.9v1.9h-1.9zM153.5 844.6h1.9v1.9h-1.9zM170.9 873.6h1.9v1.9h-1.9zM223.7 837.3h1.9v1.9h-1.9zM223.1 845.4h1.9v1.9h-1.9zM231.0 835.0h1.9v1.9h-1.9zM160.7 838.9h1.9v1.9h-1.9zM227.3 840.5h1.9v1.9h-1.9zM162.2 841.7h1.9v1.9h-1.9zM158.0 843.0h1.9v1.9h-1.9zM188.6 846.7h1.9v1.9h-1.9zM165.9 860.0h1.9v1.9h-1.9zM204.6 842.3h1.9v1.9h-1.9zM195.0 840.6h1.9v1.9h-1.9zM211.1 847.8h1.9v1.9h-1.9zM205.4 839.3h1.9v1.9h-1.9zM208.2 850.5h1.9v1.9h-1.9zM157.8 837.9h1.9v1.9h-1.9zM193.7 846.7h1.9v1.9h-1.9zM197.6 845.8h1.9v1.9h-1.9zM168.2 834.2h1.9v1.9h-1.9zM253.0 835.6h1.9v1.9h-1.9zM199.2 841.6h1.9v1.9h-1.9zM219.1 846.9h1.9v1.9h-1.9zM182.4 846.8h1.9v1.9h-1.9zM144.9 845.5h1.9v1.9h-1.9zM225.1 856.6h1.9v1.9h-1.9zM207.8 856.0h1.9v1.9h-1.9zM162.9 838.9h1.9v1.9h-1.9zM215.1 835.9h1.9v1.9h-1.9zM194.0 835.4h1.9v1.9h-1.9z" fill="#f0ee00"/>
<path d="M249.2 852.3h1.9v1.9h-1.9zM234.8 846.9h1.9v1.9h-1.9zM248.1 841.9h1.9v1.9h-1.9zM230.3 840.5h1.9v1.9h-1.9zM222.0 840.0h1.9v1.9h-1.9zM187.3 861.0h1.9v1.9h-1.9zM253.3 834.4h1.9v1.9h-1.9zM156.7 850.9h1.9v1.9h-1.9zM184.3 878.6h1.9v1.9h-1.9zM170.9 843.7h1.9v1.9h-1.9zM172.2 851.7h1.9v1.9h-1.9zM217.6 851.7h1.9v1.9h-1.9zM245.5 857.6h1.9v1.9h-1.9zM159.8 856.3h1.9v1.9h-1.9zM159.0 841.1h1.9v1.9h-1.9zM151.1 838.4h1.9v1.9h-1.9zM165.9 850.1h1.9v1.9h-1.9zM216.7 869.4h1.9v1.9h-1.9zM247.8 840.1h1.9v1.9h-1.9zM177.3 848.2h1.9v1.9h-1.9zM153.6 863.7h1.9v1.9h-1.9zM165.9 867.8h1.9v1.9h-1.9zM174.4 854.6h1.9v1.9h-1.9zM152.6 857.9h1.9v1.9h-1.9zM181.4 851.8h1.9v1.9h-1.9zM225.4 859.4h1.9v1.9h-1.9zM260.7 837.2h1.9v1.9h-1.9zM256.7 841.8h1.9v1.9h-1.9zM174.7 869.7h1.9v1.9h-1.9zM244.6 841.3h1.9v1.9h-1.9zM217.7 860.0h1.9v1.9h-1.9zM188.8 861.0h1.9v1.9h-1.9zM152.2 878.4h1.9v1.9h-1.9zM214.0 838.0h1.9v1.9h-1.9zM185.1 852.6h1.9v1.9h-1.9zM149.4 884.2h1.9v1.9h-1.9zM161.9 845.2h1.9v1.9h-1.9zM143.3 856.9h1.9v1.9h-1.9zM201.9 851.9h1.9v1.9h-1.9zM194.8 849.6h1.9v1.9h-1.9zM217.0 861.3h1.9v1.9h-1.9zM145.9 849.1h1.9v1.9h-1.9zM253.4 842.8h1.9v1.9h-1.9zM229.2 884.6h1.9v1.9h-1.9zM150.6 842.0h1.9v1.9h-1.9zM233.9 844.0h1.9v1.9h-1.9zM210.5 851.1h1.9v1.9h-1.9zM209.6 849.2h1.9v1.9h-1.9zM148.3 844.2h1.9v1.9h-1.9zM215.8 845.7h1.9v1.9h-1.9zM175.1 842.8h1.9v1.9h-1.9zM151.8 869.9h1.9v1.9h-1.9zM255.4 851.2h1.9v1.9h-1.9zM194.3 853.8h1.9v1.9h-1.9zM226.9 858.3h1.9v1.9h-1.9zM249.8 841.2h1.9v1.9h-1.9zM208.7 847.1h1.9v1.9h-1.9zM245.6 835.1h1.9v1.9h-1.9zM217.9 845.3h1.9v1.9h-1.9zM202.1 848.1h1.9v1.9h-1.9zM182.8 850.6h1.9v1.9h-1.9zM238.6 855.6h1.9v1.9h-1.9zM191.4 863.4h1.9v1.9h-1.9zM147.6 837.4h1.9v1.9h-1.9zM189.5 836.9h1.9v1.9h-1.9zM260.4 854.5h1.9v1.9h-1.9zM161.7 862.7h1.9v1.9h-1.9zM179.2 848.4h1.9v1.9h-1.9zM195.1 842.2h1.9v1.9h-1.9zM193.4 840.2h1.9v1.9h-1.9zM206.2 859.8h1.9v1.9h-1.9zM243.5 839.7h1.9v1.9h-1.9zM189.6 849.0h1.9v1.9h-1.9zM152.8 852.5h1.9v1.9h-1.9zM214.2 850.5h1.9v1.9h-1.9zM164.1 853.6h1.9v1.9h-1.9zM165.7 845.6h1.9v1.9h-1.9zM148.8 854.4h1.9v1.9h-1.9zM221.2 834.8h1.9v1.9h-1.9zM175.0 860.2h1.9v1.9h-1.9zM244.1 852.7h1.9v1.9h-1.9zM209.6 856.7h1.9v1.9h-1.9zM159.6 856.6h1.9v1.9h-1.9zM206.3 865.0h1.9v1.9h-1.9zM173.8 857.3h1.9v1.9h-1.9zM159.6 847.4h1.9v1.9h-1.9zM245.9 837.8h1.9v1.9h-1.9zM150.5 853.4h1.9v1.9h-1.9zM149.3 846.5h1.9v1.9h-1.9zM181.1 851.1h1.9v1.9h-1.9zM170.3 854.9h1.9v1.9h-1.9zM230.2 837.4h1.9v1.9h-1.9zM226.2 846.6h1.9v1.9h-1.9zM260.4 844.7h1.9v1.9h-1.9zM185.2 850.9h1.9v1.9h-1.9zM195.9 844.0h1.9v1.9h-1.9zM164.9 857.2h1.9v1.9h-1.9zM240.1 843.4h1.9v1.9h-1.9zM177.2 866.1h1.9v1.9h-1.9zM236.0 867.5h1.9v1.9h-1.9zM213.0 860.3h1.9v1.9h-1.9zM190.5 841.6h1.9v1.9h-1.9zM220.8 847.8h1.9v1.9h-1.9zM202.3 860.3h1.9v1.9h-1.9zM147.2 846.9h1.9v1.9h-1.9zM162.6 857.7h1.9v1.9h-1.9zM196.0 864.5h1.9v1.9h-1.9zM147.4 867.5h1.9v1.9h-1.9zM184.2 871.1h1.9v1.9h-1.9zM195.7 846.3h1.9v1.9h-1.9zM150.6 865.0h1.9v1.9h-1.9zM243.5 847.9h1.9v1.9h-1.9zM231.3 870.0h1.9v1.9h-1.9zM198.5 848.2h1.9v1.9h-1.9zM151.0 852.8h1.9v1.9h-1.9zM166.9 852.9h1.9v1.9h-1.9zM195.9 843.7h1.9v1.9h-1.9zM182.3 840.8h1.9v1.9h-1.9zM169.5 863.2h1.9v1.9h-1.9zM148.2 853.3h1.9v1.9h-1.9zM204.9 837.4h1.9v1.9h-1.9zM167.6 853.6h1.9v1.9h-1.9zM210.9 858.0h1.9v1.9h-1.9zM162.8 849.1h1.9v1.9h-1.9zM252.0 843.7h1.9v1.9h-1.9zM224.4 837.4h1.9v1.9h-1.9zM175.5 845.0h1.9v1.9h-1.9zM229.2 858.1h1.9v1.9h-1.9zM163.7 866.7h1.9v1.9h-1.9zM189.8 854.7h1.9v1.9h-1.9zM167.6 855.8h1.9v1.9h-1.9zM204.1 861.0h1.9v1.9h-1.9zM187.5 844.5h1.9v1.9h-1.9zM216.5 858.6h1.9v1.9h-1.9zM227.1 856.4h1.9v1.9h-1.9zM250.5 851.8h1.9v1.9h-1.9zM226.0 860.9h1.9v1.9h-1.9zM202.6 835.8h1.9v1.9h-1.9zM180.1 837.7h1.9v1.9h-1.9zM195.6 857.6h1.9v1.9h-1.9zM258.3 838.1h1.9v1.9h-1.9zM143.5 907.9h1.9v1.9h-1.9zM258.1 833.9h1.9v1.9h-1.9zM246.7 837.1h1.9v1.9h-1.9zM251.7 849.1h1.9v1.9h-1.9zM249.0 843.4h1.9v1.9h-1.9zM200.0 836.8h1.9v1.9h-1.9zM177.7 865.5h1.9v1.9h-1.9zM170.4 858.6h1.9v1.9h-1.9zM196.3 844.2h1.9v1.9h-1.9zM190.8 865.9h1.9v1.9h-1.9zM189.6 840.4h1.9v1.9h-1.9zM143.9 850.8h1.9v1.9h-1.9zM215.9 850.1h1.9v1.9h-1.9zM211.1 873.4h1.9v1.9h-1.9zM167.4 838.6h1.9v1.9h-1.9zM233.8 854.4h1.9v1.9h-1.9zM149.4 842.6h1.9v1.9h-1.9zM231.5 852.1h1.9v1.9h-1.9zM188.6 846.9h1.9v1.9h-1.9zM192.0 846.2h1.9v1.9h-1.9zM146.5 865.7h1.9v1.9h-1.9zM221.9 855.4h1.9v1.9h-1.9zM184.1 836.9h1.9v1.9h-1.9zM227.2 863.5h1.9v1.9h-1.9zM147.3 853.0h1.9v1.9h-1.9zM237.2 860.3h1.9v1.9h-1.9zM235.6 865.0h1.9v1.9h-1.9zM185.8 850.2h1.9v1.9h-1.9zM225.8 848.6h1.9v1.9h-1.9zM157.7 846.6h1.9v1.9h-1.9zM239.0 849.2h1.9v1.9h-1.9zM204.4 844.0h1.9v1.9h-1.9zM229.0 842.0h1.9v1.9h-1.9zM246.0 836.0h1.9v1.9h-1.9zM163.8 849.9h1.9v1.9h-1.9zM244.5 847.4h1.9v1.9h-1.9zM253.7 845.5h1.9v1.9h-1.9zM148.6 841.5h1.9v1.9h-1.9zM167.8 846.5h1.9v1.9h-1.9zM236.7 854.9h1.9v1.9h-1.9zM195.5 850.7h1.9v1.9h-1.9zM167.5 867.5h1.9v1.9h-1.9zM227.3 835.6h1.9v1.9h-1.9zM260.2 848.5h1.9v1.9h-1.9zM156.0 839.6h1.9v1.9h-1.9zM195.9 866.8h1.9v1.9h-1.9zM194.3 845.9h1.9v1.9h-1.9zM236.2 855.2h1.9v1.9h-1.9zM197.7 867.2h1.9v1.9h-1.9zM175.2 855.1h1.9v1.9h-1.9zM211.3 858.5h1.9v1.9h-1.9zM201.8 851.5h1.9v1.9h-1.9zM209.7 842.5h1.9v1.9h-1.9zM217.6 899.3h1.9v1.9h-1.9zM216.6 842.2h1.9v1.9h-1.9zM148.4 865.9h1.9v1.9h-1.9zM156.8 851.1h1.9v1.9h-1.9zM189.0 861.6h1.9v1.9h-1.9zM206.4 849.4h1.9v1.9h-1.9zM149.2 839.2h1.9v1.9h-1.9zM193.5 858.8h1.9v1.9h-1.9zM147.4 857.8h1.9v1.9h-1.9zM199.9 857.5h1.9v1.9h-1.9zM192.8 858.0h1.9v1.9h-1.9zM183.0 841.3h1.9v1.9h-1.9zM214.6 846.9h1.9v1.9h-1.9zM209.0 855.0h1.9v1.9h-1.9zM181.5 845.6h1.9v1.9h-1.9zM215.8 853.7h1.9v1.9h-1.9zM244.8 838.0h1.9v1.9h-1.9zM210.9 851.8h1.9v1.9h-1.9zM234.9 850.1h1.9v1.9h-1.9zM234.5 851.7h1.9v1.9h-1.9zM172.6 835.1h1.9v1.9h-1.9zM189.4 865.8h1.9v1.9h-1.9zM248.0 837.0h1.9v1.9h-1.9zM220.0 850.5h1.9v1.9h-1.9zM194.3 861.6h1.9v1.9h-1.9zM165.7 843.4h1.9v1.9h-1.9zM228.1 862.0h1.9v1.9h-1.9zM204.8 851.6h1.9v1.9h-1.9zM204.9 841.3h1.9v1.9h-1.9zM170.9 841.7h1.9v1.9h-1.9zM226.7 855.1h1.9v1.9h-1.9zM253.3 833.4h1.9v1.9h-1.9zM253.5 852.2h1.9v1.9h-1.9zM194.2 847.7h1.9v1.9h-1.9zM214.1 856.8h1.9v1.9h-1.9zM147.3 852.4h1.9v1.9h-1.9zM231.2 854.6h1.9v1.9h-1.9zM234.9 847.3h1.9v1.9h-1.9zM226.9 846.8h1.9v1.9h-1.9zM228.7 847.2h1.9v1.9h-1.9zM202.8 846.8h1.9v1.9h-1.9zM145.9 844.4h1.9v1.9h-1.9zM244.4 845.0h1.9v1.9h-1.9zM143.9 854.8h1.9v1.9h-1.9zM254.5 839.1h1.9v1.9h-1.9zM247.8 857.8h1.9v1.9h-1.9zM186.8 844.3h1.9v1.9h-1.9zM196.1 850.3h1.9v1.9h-1.9zM224.5 843.8h1.9v1.9h-1.9zM229.6 832.7h1.9v1.9h-1.9zM247.0 855.0h1.9v1.9h-1.9zM254.0 849.8h1.9v1.9h-1.9zM202.3 849.5h1.9v1.9h-1.9zM190.5 861.1h1.9v1.9h-1.9zM147.7 858.2h1.9v1.9h-1.9zM146.5 847.9h1.9v1.9h-1.9zM222.2 853.7h1.9v1.9h-1.9zM204.4 848.2h1.9v1.9h-1.9zM232.6 845.5h1.9v1.9h-1.9zM233.2 848.0h1.9v1.9h-1.9zM177.2 858.5h1.9v1.9h-1.9zM224.1 845.4h1.9v1.9h-1.9zM152.8 854.5h1.9v1.9h-1.9zM180.0 843.4h1.9v1.9h-1.9zM153.6 888.9h1.9v1.9h-1.9zM239.2 861.0h1.9v1.9h-1.9zM227.0 837.1h1.9v1.9h-1.9zM237.0 867.3h1.9v1.9h-1.9zM168.9 853.1h1.9v1.9h-1.9zM171.0 886.4h1.9v1.9h-1.9zM212.0 837.4h1.9v1.9h-1.9zM237.9 845.1h1.9v1.9h-1.9zM250.3 857.0h1.9v1.9h-1.9zM225.5 860.9h1.9v1.9h-1.9zM178.7 852.5h1.9v1.9h-1.9zM152.6 874.2h1.9v1.9h-1.9zM168.1 860.9h1.9v1.9h-1.9zM240.1 843.7h1.9v1.9h-1.9zM197.0 841.2h1.9v1.9h-1.9zM253.9 835.7h1.9v1.9h-1.9zM178.2 863.6h1.9v1.9h-1.9zM259.5 849.1h1.9v1.9h-1.9zM173.1 850.4h1.9v1.9h-1.9zM240.4 838.3h1.9v1.9h-1.9zM198.4 839.3h1.9v1.9h-1.9zM151.8 871.5h1.9v1.9h-1.9zM166.4 847.3h1.9v1.9h-1.9zM243.8 841.6h1.9v1.9h-1.9zM225.9 856.9h1.9v1.9h-1.9zM175.0 846.9h1.9v1.9h-1.9zM258.5 832.5h1.9v1.9h-1.9zM169.5 884.2h1.9v1.9h-1.9zM239.3 846.2h1.9v1.9h-1.9zM196.5 847.8h1.9v1.9h-1.9zM241.0 885.1h1.9v1.9h-1.9zM193.1 846.1h1.9v1.9h-1.9zM192.2 841.8h1.9v1.9h-1.9zM170.2 856.7h1.9v1.9h-1.9zM163.0 835.4h1.9v1.9h-1.9zM237.3 837.3h1.9v1.9h-1.9zM257.1 832.7h1.9v1.9h-1.9zM160.4 855.2h1.9v1.9h-1.9zM241.5 839.2h1.9v1.9h-1.9zM190.1 847.4h1.9v1.9h-1.9zM171.5 852.0h1.9v1.9h-1.9zM200.7 843.7h1.9v1.9h-1.9zM160.2 859.0h1.9v1.9h-1.9zM165.3 839.6h1.9v1.9h-1.9zM220.8 849.8h1.9v1.9h-1.9zM212.0 863.3h1.9v1.9h-1.9zM215.9 853.5h1.9v1.9h-1.9zM199.0 843.5h1.9v1.9h-1.9zM176.4 857.2h1.9v1.9h-1.9zM231.1 849.4h1.9v1.9h-1.9zM258.1 834.3h1.9v1.9h-1.9zM157.0 850.1h1.9v1.9h-1.9zM178.4 854.1h1.9v1.9h-1.9zM197.5 858.8h1.9v1.9h-1.9zM242.1 881.3h1.9v1.9h-1.9zM243.2 849.4h1.9v1.9h-1.9zM229.6 853.8h1.9v1.9h-1.9zM221.1 845.4h1.9v1.9h-1.9zM173.7 857.4h1.9v1.9h-1.9zM192.7 856.4h1.9v1.9h-1.9zM209.1 847.0h1.9v1.9h-1.9zM234.1 845.6h1.9v1.9h-1.9zM199.2 843.0h1.9v1.9h-1.9zM150.2 856.4h1.9v1.9h-1.9zM171.3 840.8h1.9v1.9h-1.9zM160.9 848.6h1.9v1.9h-1.9zM165.2 849.4h1.9v1.9h-1.9zM155.8 868.8h1.9v1.9h-1.9zM183.2 851.1h1.9v1.9h-1.9zM208.9 843.6h1.9v1.9h-1.9zM208.8 840.4h1.9v1.9h-1.9zM178.1 847.5h1.9v1.9h-1.9zM255.0 849.4h1.9v1.9h-1.9zM216.1 865.5h1.9v1.9h-1.9zM173.1 868.0h1.9v1.9h-1.9zM244.3 837.0h1.9v1.9h-1.9zM191.6 874.5h1.9v1.9h-1.9zM172.1 853.8h1.9v1.9h-1.9zM184.0 850.7h1.9v1.9h-1.9zM217.9 860.8h1.9v1.9h-1.9zM217.5 838.2h1.9v1.9h-1.9zM191.6 852.7h1.9v1.9h-1.9zM155.2 843.3h1.9v1.9h-1.9zM236.2 852.4h1.9v1.9h-1.9zM145.3 852.8h1.9v1.9h-1.9zM177.8 858.9h1.9v1.9h-1.9zM183.1 837.0h1.9v1.9h-1.9zM177.3 846.6h1.9v1.9h-1.9zM230.2 872.0h1.9v1.9h-1.9zM204.9 847.5h1.9v1.9h-1.9zM163.2 881.1h1.9v1.9h-1.9zM222.8 854.8h1.9v1.9h-1.9zM190.1 865.1h1.9v1.9h-1.9zM169.7 850.0h1.9v1.9h-1.9zM184.2 859.4h1.9v1.9h-1.9zM183.8 855.5h1.9v1.9h-1.9zM201.7 848.5h1.9v1.9h-1.9zM184.9 870.6h1.9v1.9h-1.9zM198.5 869.9h1.9v1.9h-1.9zM170.1 869.8h1.9v1.9h-1.9zM225.1 843.4h1.9v1.9h-1.9zM231.2 852.8h1.9v1.9h-1.9zM209.0 843.4h1.9v1.9h-1.9zM184.2 847.6h1.9v1.9h-1.9zM147.1 843.2h1.9v1.9h-1.9zM175.9 848.4h1.9v1.9h-1.9zM180.1 855.0h1.9v1.9h-1.9zM240.3 840.9h1.9v1.9h-1.9zM180.8 847.3h1.9v1.9h-1.9zM231.5 843.9h1.9v1.9h-1.9zM236.0 846.8h1.9v1.9h-1.9zM194.3 851.3h1.9v1.9h-1.9zM198.7 864.0h1.9v1.9h-1.9zM177.2 854.5h1.9v1.9h-1.9zM172.1 843.6h1.9v1.9h-1.9zM242.7 852.0h1.9v1.9h-1.9zM149.9 850.7h1.9v1.9h-1.9zM171.2 846.3h1.9v1.9h-1.9zM245.6 845.7h1.9v1.9h-1.9zM232.4 846.5h1.9v1.9h-1.9zM174.0 848.5h1.9v1.9h-1.9zM229.1 853.2h1.9v1.9h-1.9zM189.7 851.3h1.9v1.9h-1.9zM254.1 845.7h1.9v1.9h-1.9zM194.1 837.7h1.9v1.9h-1.9zM152.1 851.3h1.9v1.9h-1.9zM237.7 848.6h1.9v1.9h-1.9zM248.5 848.2h1.9v1.9h-1.9zM221.5 845.5h1.9v1.9h-1.9zM189.5 865.5h1.9v1.9h-1.9zM151.8 851.0h1.9v1.9h-1.9zM167.5 848.7h1.9v1.9h-1.9zM227.3 842.9h1.9v1.9h-1.9zM258.2 834.6h1.9v1.9h-1.9zM215.0 845.8h1.9v1.9h-1.9zM230.8 847.3h1.9v1.9h-1.9zM229.7 846.8h1.9v1.9h-1.9zM170.7 855.0h1.9v1.9h-1.9zM172.2 856.9h1.9v1.9h-1.9zM161.0 844.7h1.9v1.9h-1.9zM212.9 857.0h1.9v1.9h-1.9zM228.4 842.9h1.9v1.9h-1.9zM169.0 840.4h1.9v1.9h-1.9zM240.2 855.5h1.9v1.9h-1.9zM206.7 850.0h1.9v1.9h-1.9zM195.1 851.1h1.9v1.9h-1.9zM209.3 849.3h1.9v1.9h-1.9zM212.5 899.6h1.9v1.9h-1.9zM234.4 865.9h1.9v1.9h-1.9zM187.1 842.6h1.9v1.9h-1.9zM201.2 852.7h1.9v1.9h-1.9zM247.2 860.5h1.9v1.9h-1.9zM209.7 846.8h1.9v1.9h-1.9zM249.3 851.1h1.9v1.9h-1.9zM158.9 847.0h1.9v1.9h-1.9zM184.1 855.4h1.9v1.9h-1.9zM148.4 848.4h1.9v1.9h-1.9zM255.6 846.4h1.9v1.9h-1.9zM241.9 847.0h1.9v1.9h-1.9zM148.2 859.2h1.9v1.9h-1.9zM205.9 845.4h1.9v1.9h-1.9zM174.6 847.7h1.9v1.9h-1.9zM199.5 862.9h1.9v1.9h-1.9zM157.4 839.4h1.9v1.9h-1.9zM147.2 843.0h1.9v1.9h-1.9zM242.3 845.8h1.9v1.9h-1.9zM165.3 851.3h1.9v1.9h-1.9zM164.1 845.8h1.9v1.9h-1.9zM186.4 853.1h1.9v1.9h-1.9zM172.0 859.3h1.9v1.9h-1.9zM186.8 852.7h1.9v1.9h-1.9zM149.7 857.1h1.9v1.9h-1.9zM166.1 834.0h1.9v1.9h-1.9zM246.5 847.7h1.9v1.9h-1.9zM240.9 836.1h1.9v1.9h-1.9zM240.3 858.6h1.9v1.9h-1.9zM247.0 852.4h1.9v1.9h-1.9zM241.9 854.4h1.9v1.9h-1.9zM185.9 857.2h1.9v1.9h-1.9zM158.8 860.1h1.9v1.9h-1.9zM169.6 850.2h1.9v1.9h-1.9zM252.0 852.0h1.9v1.9h-1.9zM220.6 858.8h1.9v1.9h-1.9zM254.8 850.3h1.9v1.9h-1.9zM171.8 861.8h1.9v1.9h-1.9zM227.0 856.6h1.9v1.9h-1.9zM172.2 864.5h1.9v1.9h-1.9zM250.9 849.5h1.9v1.9h-1.9zM244.0 851.8h1.9v1.9h-1.9zM194.8 846.7h1.9v1.9h-1.9zM145.4 862.7h1.9v1.9h-1.9zM150.6 868.8h1.9v1.9h-1.9zM214.0 837.1h1.9v1.9h-1.9zM225.9 846.6h1.9v1.9h-1.9zM177.9 853.6h1.9v1.9h-1.9zM158.6 859.1h1.9v1.9h-1.9zM154.2 857.9h1.9v1.9h-1.9zM154.0 867.5h1.9v1.9h-1.9zM202.0 853.4h1.9v1.9h-1.9zM248.3 842.2h1.9v1.9h-1.9zM157.9 862.3h1.9v1.9h-1.9zM160.1 866.2h1.9v1.9h-1.9zM170.0 853.1h1.9v1.9h-1.9zM208.0 840.8h1.9v1.9h-1.9zM171.8 880.6h1.9v1.9h-1.9zM163.4 846.9h1.9v1.9h-1.9zM223.2 841.1h1.9v1.9h-1.9zM260.9 832.7h1.9v1.9h-1.9zM201.9 851.2h1.9v1.9h-1.9zM204.6 858.0h1.9v1.9h-1.9zM214.4 860.7h1.9v1.9h-1.9zM170.6 839.6h1.9v1.9h-1.9zM182.6 850.9h1.9v1.9h-1.9zM241.8 847.5h1.9v1.9h-1.9zM215.6 864.6h1.9v1.9h-1.9zM259.8 850.0h1.9v1.9h-1.9zM159.9 838.0h1.9v1.9h-1.9zM182.6 840.6h1.9v1.9h-1.9zM216.4 844.6h1.9v1.9h-1.9zM155.2 852.5h1.9v1.9h-1.9zM179.3 850.0h1.9v1.9h-1.9zM185.4 861.3h1.9v1.9h-1.9zM225.9 888.1h1.9v1.9h-1.9zM240.3 845.9h1.9v1.9h-1.9zM190.1 835.2h1.9v1.9h-1.9zM194.7 847.6h1.9v1.9h-1.9zM182.5 852.2h1.9v1.9h-1.9zM254.9 833.5h1.9v1.9h-1.9zM257.9 840.0h1.9v1.9h-1.9zM220.7 846.2h1.9v1.9h-1.9zM159.1 856.2h1.9v1.9h-1.9zM233.1 839.5h1.9v1.9h-1.9zM163.7 849.1h1.9v1.9h-1.9zM196.8 879.9h1.9v1.9h-1.9zM189.3 855.1h1.9v1.9h-1.9zM171.7 858.9h1.9v1.9h-1.9zM175.3 851.6h1.9v1.9h-1.9zM251.1 845.2h1.9v1.9h-1.9zM194.7 851.3h1.9v1.9h-1.9zM255.1 846.2h1.9v1.9h-1.9zM258.1 840.7h1.9v1.9h-1.9zM146.4 854.5h1.9v1.9h-1.9zM155.3 870.0h1.9v1.9h-1.9zM201.7 861.2h1.9v1.9h-1.9zM202.3 882.9h1.9v1.9h-1.9zM218.3 839.9h1.9v1.9h-1.9zM158.1 858.9h1.9v1.9h-1.9zM216.2 850.0h1.9v1.9h-1.9zM156.3 847.7h1.9v1.9h-1.9zM169.9 865.0h1.9v1.9h-1.9zM160.4 867.9h1.9v1.9h-1.9zM169.2 846.3h1.9v1.9h-1.9zM246.9 842.8h1.9v1.9h-1.9zM189.5 863.5h1.9v1.9h-1.9zM175.4 842.7h1.9v1.9h-1.9zM183.1 863.4h1.9v1.9h-1.9zM193.6 843.4h1.9v1.9h-1.9zM203.0 834.1h1.9v1.9h-1.9zM231.5 857.9h1.9v1.9h-1.9zM251.6 850.0h1.9v1.9h-1.9zM202.0 853.0h1.9v1.9h-1.9zM189.7 839.7h1.9v1.9h-1.9zM144.4 870.4h1.9v1.9h-1.9zM199.5 842.8h1.9v1.9h-1.9zM161.1 847.8h1.9v1.9h-1.9zM249.7 848.6h1.9v1.9h-1.9zM199.7 881.8h1.9v1.9h-1.9zM144.9 848.2h1.9v1.9h-1.9zM195.2 868.2h1.9v1.9h-1.9zM181.6 849.4h1.9v1.9h-1.9zM170.3 862.2h1.9v1.9h-1.9zM205.3 858.7h1.9v1.9h-1.9zM232.0 861.0h1.9v1.9h-1.9zM202.1 851.8h1.9v1.9h-1.9zM246.8 847.8h1.9v1.9h-1.9zM144.9 869.2h1.9v1.9h-1.9zM164.1 846.6h1.9v1.9h-1.9zM243.3 843.3h1.9v1.9h-1.9zM247.2 836.6h1.9v1.9h-1.9zM178.8 851.5h1.9v1.9h-1.9zM238.2 837.9h1.9v1.9h-1.9zM248.4 864.8h1.9v1.9h-1.9zM223.5 866.5h1.9v1.9h-1.9zM189.2 865.0h1.9v1.9h-1.9zM169.7 851.1h1.9v1.9h-1.9zM160.3 853.7h1.9v1.9h-1.9zM245.4 846.5h1.9v1.9h-1.9zM174.8 860.4h1.9v1.9h-1.9zM182.4 846.9h1.9v1.9h-1.9zM193.2 838.6h1.9v1.9h-1.9zM157.3 846.1h1.9v1.9h-1.9zM257.6 834.1h1.9v1.9h-1.9zM171.2 849.0h1.9v1.9h-1.9zM151.0 836.9h1.9v1.9h-1.9zM216.3 846.5h1.9v1.9h-1.9zM148.2 862.6h1.9v1.9h-1.9zM243.0 849.4h1.9v1.9h-1.9zM238.6 845.6h1.9v1.9h-1.9zM250.0 835.9h1.9v1.9h-1.9zM147.7 859.7h1.9v1.9h-1.9zM150.8 843.1h1.9v1.9h-1.9zM192.1 856.8h1.9v1.9h-1.9zM255.3 853.2h1.9v1.9h-1.9zM243.1 862.3h1.9v1.9h-1.9zM168.1 856.5h1.9v1.9h-1.9z" fill="#a8f000"/>
<path d="M148.3 857.3h1.9v1.9h-1.9zM203.7 877.9h1.9v1.9h-1.9zM235.6 848.6h1.9v1.9h-1.9zM170.8 848.1h1.9v1.9h-1.9zM191.2 864.1h1.9v1.9h-1.9zM245.8 853.4h1.9v1.9h-1.9zM234.9 854.3h1.9v1.9h-1.9zM153.2 847.4h1.9v1.9h-1.9zM257.8 852.1h1.9v1.9h-1.9zM191.1 868.4h1.9v1.9h-1.9zM182.1 871.9h1.9v1.9h-1.9zM195.4 859.5h1.9v1.9h-1.9zM249.4 855.1h1.9v1.9h-1.9zM225.6 860.4h1.9v1.9h-1.9zM187.8 871.4h1.9v1.9h-1.9zM239.5 867.3h1.9v1.9h-1.9zM149.5 853.1h1.9v1.9h-1.9zM179.3 884.6h1.9v1.9h-1.9zM158.9 884.6h1.9v1.9h-1.9zM183.4 862.4h1.9v1.9h-1.9zM144.6 856.0h1.9v1.9h-1.9zM148.7 869.1h1.9v1.9h-1.9zM257.4 847.5h1.9v1.9h-1.9zM152.1 881.5h1.9v1.9h-1.9zM212.9 896.4h1.9v1.9h-1.9zM244.3 857.4h1.9v1.9h-1.9zM226.0 864.2h1.9v1.9h-1.9zM202.9 853.3h1.9v1.9h-1.9zM217.7 870.1h1.9v1.9h-1.9zM168.3 867.7h1.9v1.9h-1.9zM182.7 875.7h1.9v1.9h-1.9zM181.2 861.4h1.9v1.9h-1.9zM241.2 867.1h1.9v1.9h-1.9zM198.1 848.0h1.9v1.9h-1.9zM247.3 868.2h1.9v1.9h-1.9zM211.9 869.7h1.9v1.9h-1.9zM173.3 858.8h1.9v1.9h-1.9zM172.7 843.1h1.9v1.9h-1.9zM252.2 844.4h1.9v1.9h-1.9zM260.9 859.4h1.9v1.9h-1.9zM243.3 847.7h1.9v1.9h-1.9zM248.7 861.4h1.9v1.9h-1.9zM233.0 871.6h1.9v1.9h-1.9zM243.6 860.4h1.9v1.9h-1.9zM255.3 837.8h1.9v1.9h-1.9zM206.6 864.7h1.9v1.9h-1.9zM233.0 853.5h1.9v1.9h-1.9zM154.2 875.3h1.9v1.9h-1.9zM246.0 843.9h1.9v1.9h-1.9zM222.3 869.9h1.9v1.9h-1.9zM232.6 870.0h1.9v1.9h-1.9zM223.2 850.6h1.9v1.9h-1.9zM253.5 875.2h1.9v1.9h-1.9zM211.4 847.3h1.9v1.9h-1.9zM186.4 869.8h1.9v1.9h-1.9zM250.1 867.9h1.9v1.9h-1.9zM219.1 882.1h1.9v1.9h-1.9zM180.3 877.7h1.9v1.9h-1.9zM234.0 864.1h1.9v1.9h-1.9zM198.2 840.6h1.9v1.9h-1.9zM182.7 864.8h1.9v1.9h-1.9zM176.0 857.5h1.9v1.9h-1.9zM149.7 865.1h1.9v1.9h-1.9zM250.0 863.0h1.9v1.9h-1.9zM203.2 859.1h1.9v1.9h-1.9zM150.2 855.5h1.9v1.9h-1.9zM202.0 860.6h1.9v1.9h-1.9zM167.3 853.9h1.9v1.9h-1.9zM201.7 853.9h1.9v1.9h-1.9zM246.0 854.8h1.9v1.9h-1.9zM198.8 867.9h1.9v1.9h-1.9zM233.1 864.1h1.9v1.9h-1.9zM256.8 856.6h1.9v1.9h-1.9zM207.9 863.8h1.9v1.9h-1.9zM158.7 870.3h1.9v1.9h-1.9zM173.4 859.1h1.9v1.9h-1.9zM243.3 851.6h1.9v1.9h-1.9zM232.1 845.8h1.9v1.9h-1.9zM203.6 860.9h1.9v1.9h-1.9zM178.6 851.6h1.9v1.9h-1.9zM195.5 872.5h1.9v1.9h-1.9zM253.7 851.8h1.9v1.9h-1.9zM194.4 860.1h1.9v1.9h-1.9zM215.2 854.1h1.9v1.9h-1.9zM243.4 860.4h1.9v1.9h-1.9zM261.9 847.8h1.9v1.9h-1.9zM252.0 867.8h1.9v1.9h-1.9zM172.7 880.3h1.9v1.9h-1.9zM245.5 846.4h1.9v1.9h-1.9zM199.1 861.9h1.9v1.9h-1.9zM161.1 856.9h1.9v1.9h-1.9zM228.4 848.2h1.9v1.9h-1.9zM213.3 857.0h1.9v1.9h-1.9zM160.1 865.1h1.9v1.9h-1.9zM259.3 847.7h1.9v1.9h-1.9zM145.5 862.3h1.9v1.9h-1.9zM183.7 870.0h1.9v1.9h-1.9zM231.6 852.5h1.9v1.9h-1.9zM251.2 858.3h1.9v1.9h-1.9zM210.2 871.1h1.9v1.9h-1.9zM259.6 836.1h1.9v1.9h-1.9zM256.6 854.7h1.9v1.9h-1.9zM250.2 851.0h1.9v1.9h-1.9zM254.9 873.7h1.9v1.9h-1.9zM157.6 851.1h1.9v1.9h-1.9zM230.6 857.5h1.9v1.9h-1.9zM261.3 855.9h1.9v1.9h-1.9zM257.1 849.4h1.9v1.9h-1.9zM228.2 854.4h1.9v1.9h-1.9zM169.9 873.8h1.9v1.9h-1.9zM219.7 863.7h1.9v1.9h-1.9zM252.7 850.6h1.9v1.9h-1.9zM227.6 876.3h1.9v1.9h-1.9zM150.0 850.2h1.9v1.9h-1.9zM237.6 851.7h1.9v1.9h-1.9zM181.0 879.9h1.9v1.9h-1.9zM169.2 868.1h1.9v1.9h-1.9zM161.2 863.7h1.9v1.9h-1.9zM190.4 861.9h1.9v1.9h-1.9zM197.7 848.6h1.9v1.9h-1.9zM151.8 873.7h1.9v1.9h-1.9zM161.3 862.2h1.9v1.9h-1.9zM157.8 861.8h1.9v1.9h-1.9zM184.4 851.7h1.9v1.9h-1.9zM188.6 862.2h1.9v1.9h-1.9zM221.9 854.6h1.9v1.9h-1.9zM168.6 861.9h1.9v1.9h-1.9zM192.3 852.9h1.9v1.9h-1.9zM250.9 854.9h1.9v1.9h-1.9zM196.0 875.9h1.9v1.9h-1.9zM142.6 879.1h1.9v1.9h-1.9zM221.3 846.1h1.9v1.9h-1.9zM148.4 861.7h1.9v1.9h-1.9zM250.4 838.0h1.9v1.9h-1.9zM145.0 862.2h1.9v1.9h-1.9zM225.1 872.6h1.9v1.9h-1.9zM192.2 851.9h1.9v1.9h-1.9zM156.8 870.6h1.9v1.9h-1.9zM191.6 863.5h1.9v1.9h-1.9zM152.3 847.9h1.9v1.9h-1.9zM255.6 866.5h1.9v1.9h-1.9zM162.1 861.7h1.9v1.9h-1.9zM144.4 861.0h1.9v1.9h-1.9zM225.2 859.7h1.9v1.9h-1.9zM245.2 843.4h1.9v1.9h-1.9zM205.1 851.8h1.9v1.9h-1.9zM167.7 880.4h1.9v1.9h-1.9zM163.6 867.7h1.9v1.9h-1.9zM258.9 847.7h1.9v1.9h-1.9zM251.4 849.4h1.9v1.9h-1.9zM196.5 866.4h1.9v1.9h-1.9zM201.0 855.8h1.9v1.9h-1.9zM153.9 874.0h1.9v1.9h-1.9zM175.0 857.6h1.9v1.9h-1.9zM218.4 845.6h1.9v1.9h-1.9zM154.6 858.6h1.9v1.9h-1.9zM144.7 857.5h1.9v1.9h-1.9zM251.6 837.7h1.9v1.9h-1.9zM164.5 857.5h1.9v1.9h-1.9zM180.3 868.2h1.9v1.9h-1.9zM155.0 864.4h1.9v1.9h-1.9zM197.8 864.6h1.9v1.9h-1.9zM231.7 868.3h1.9v1.9h-1.9zM143.1 842.0h1.9v1.9h-1.9zM256.9 868.2h1.9v1.9h-1.9zM193.4 861.8h1.9v1.9h-1.9zM144.8 870.6h1.9v1.9h-1.9zM208.3 862.9h1.9v1.9h-1.9zM182.0 871.6h1.9v1.9h-1.9zM194.5 875.0h1.9v1.9h-1.9zM155.2 860.6h1.9v1.9h-1.9zM189.8 878.9h1.9v1.9h-1.9zM167.2 864.9h1.9v1.9h-1.9zM206.9 858.2h1.9v1.9h-1.9zM261.8 862.0h1.9v1.9h-1.9zM195.2 866.7h1.9v1.9h-1.9zM156.3 864.2h1.9v1.9h-1.9zM245.8 848.8h1.9v1.9h-1.9zM183.3 853.8h1.9v1.9h-1.9zM236.0 861.8h1.9v1.9h-1.9zM181.0 881.7h1.9v1.9h-1.9zM197.5 863.0h1.9v1.9h-1.9zM201.6 869.3h1.9v1.9h-1.9zM175.0 844.0h1.9v1.9h-1.9zM203.3 853.9h1.9v1.9h-1.9zM253.4 845.9h1.9v1.9h-1.9zM242.2 854.8h1.9v1.9h-1.9zM142.2 889.4h1.9v1.9h-1.9zM207.7 849.7h1.9v1.9h-1.9zM261.2 851.7h1.9v1.9h-1.9zM257.0 846.9h1.9v1.9h-1.9zM155.0 865.6h1.9v1.9h-1.9zM245.5 849.9h1.9v1.9h-1.9zM234.1 869.6h1.9v1.9h-1.9zM208.0 870.0h1.9v1.9h-1.9zM200.8 854.6h1.9v1.9h-1.9zM194.3 865.2h1.9v1.9h-1.9zM200.6 873.8h1.9v1.9h-1.9zM229.6 866.6h1.9v1.9h-1.9zM197.7 862.9h1.9v1.9h-1.9zM186.1 852.2h1.9v1.9h-1.9zM231.2 861.7h1.9v1.9h-1.9zM230.7 878.7h1.9v1.9h-1.9zM151.6 855.0h1.9v1.9h-1.9zM250.9 835.9h1.9v1.9h-1.9zM246.9 862.2h1.9v1.9h-1.9zM161.1 858.6h1.9v1.9h-1.9zM169.3 871.3h1.9v1.9h-1.9zM256.2 832.8h1.9v1.9h-1.9zM258.9 848.0h1.9v1.9h-1.9zM199.1 859.6h1.9v1.9h-1.9zM196.8 858.9h1.9v1.9h-1.9zM150.5 871.3h1.9v1.9h-1.9zM216.0 866.0h1.9v1.9h-1.9zM248.0 838.6h1.9v1.9h-1.9zM172.6 850.0h1.9v1.9h-1.9zM216.7 857.6h1.9v1.9h-1.9zM236.8 879.5h1.9v1.9h-1.9zM150.5 882.1h1.9v1.9h-1.9zM255.7 841.7h1.9v1.9h-1.9zM158.5 860.3h1.9v1.9h-1.9zM235.3 847.0h1.9v1.9h-1.9zM186.3 865.7h1.9v1.9h-1.9zM253.0 846.7h1.9v1.9h-1.9zM250.3 850.3h1.9v1.9h-1.9zM147.9 870.4h1.9v1.9h-1.9zM178.3 859.0h1.9v1.9h-1.9zM200.6 858.3h1.9v1.9h-1.9zM247.2 851.9h1.9v1.9h-1.9zM205.7 853.2h1.9v1.9h-1.9zM179.9 851.5h1.9v1.9h-1.9zM191.0 860.4h1.9v1.9h-1.9zM261.2 846.6h1.9v1.9h-1.9zM176.3 864.2h1.9v1.9h-1.9zM168.4 863.7h1.9v1.9h-1.9zM237.0 846.9h1.9v1.9h-1.9zM157.3 849.9h1.9v1.9h-1.9zM241.1 840.1h1.9v1.9h-1.9zM198.6 858.3h1.9v1.9h-1.9zM203.7 872.0h1.9v1.9h-1.9zM196.1 866.8h1.9v1.9h-1.9zM219.8 855.9h1.9v1.9h-1.9zM144.0 866.2h1.9v1.9h-1.9zM154.1 877.4h1.9v1.9h-1.9zM145.0 857.9h1.9v1.9h-1.9zM255.2 862.3h1.9v1.9h-1.9zM218.0 880.6h1.9v1.9h-1.9zM149.1 850.4h1.9v1.9h-1.9zM211.6 870.3h1.9v1.9h-1.9zM255.1 850.9h1.9v1.9h-1.9zM244.3 857.5h1.9v1.9h-1.9zM150.3 867.7h1.9v1.9h-1.9zM163.4 860.8h1.9v1.9h-1.9zM178.3 856.9h1.9v1.9h-1.9zM182.5 867.4h1.9v1.9h-1.9zM224.6 857.7h1.9v1.9h-1.9zM207.8 867.1h1.9v1.9h-1.9zM259.7 847.2h1.9v1.9h-1.9zM196.1 878.9h1.9v1.9h-1.9zM213.6 891.9h1.9v1.9h-1.9zM255.1 850.7h1.9v1.9h-1.9zM147.3 853.0h1.9v1.9h-1.9zM147.4 865.3h1.9v1.9h-1.9zM210.3 861.5h1.9v1.9h-1.9zM200.3 870.3h1.9v1.9h-1.9zM235.0 866.4h1.9v1.9h-1.9zM174.0 864.4h1.9v1.9h-1.9zM233.4 855.7h1.9v1.9h-1.9zM247.4 854.9h1.9v1.9h-1.9zM174.7 866.0h1.9v1.9h-1.9zM247.6 842.3h1.9v1.9h-1.9zM200.2 870.0h1.9v1.9h-1.9zM155.4 864.2h1.9v1.9h-1.9zM186.3 853.3h1.9v1.9h-1.9zM195.5 838.9h1.9v1.9h-1.9zM204.0 870.7h1.9v1.9h-1.9zM213.3 863.1h1.9v1.9h-1.9zM194.7 881.9h1.9v1.9h-1.9zM202.9 864.5h1.9v1.9h-1.9zM220.9 872.8h1.9v1.9h-1.9zM205.4 863.9h1.9v1.9h-1.9zM252.1 855.0h1.9v1.9h-1.9zM158.5 867.7h1.9v1.9h-1.9zM145.6 854.6h1.9v1.9h-1.9zM223.7 867.3h1.9v1.9h-1.9zM249.9 849.8h1.9v1.9h-1.9zM145.3 879.6h1.9v1.9h-1.9zM245.2 869.9h1.9v1.9h-1.9zM202.3 864.5h1.9v1.9h-1.9zM166.7 853.5h1.9v1.9h-1.9zM250.1 842.4h1.9v1.9h-1.9zM254.7 855.5h1.9v1.9h-1.9zM199.2 871.0h1.9v1.9h-1.9zM231.8 872.8h1.9v1.9h-1.9zM253.8 855.9h1.9v1.9h-1.9zM182.4 874.3h1.9v1.9h-1.9zM226.8 846.9h1.9v1.9h-1.9zM192.3 855.8h1.9v1.9h-1.9zM204.6 855.7h1.9v1.9h-1.9zM149.6 864.3h1.9v1.9h-1.9zM238.8 860.7h1.9v1.9h-1.9zM232.7 862.5h1.9v1.9h-1.9zM252.1 862.5h1.9v1.9h-1.9zM252.6 845.0h1.9v1.9h-1.9zM188.7 852.9h1.9v1.9h-1.9zM228.5 847.9h1.9v1.9h-1.9zM197.8 868.2h1.9v1.9h-1.9zM257.8 835.8h1.9v1.9h-1.9zM156.4 863.8h1.9v1.9h-1.9zM164.7 851.3h1.9v1.9h-1.9zM257.3 844.6h1.9v1.9h-1.9zM177.2 873.3h1.9v1.9h-1.9zM259.6 848.5h1.9v1.9h-1.9zM172.5 857.2h1.9v1.9h-1.9zM195.1 869.4h1.9v1.9h-1.9zM173.1 860.7h1.9v1.9h-1.9zM196.5 865.8h1.9v1.9h-1.9zM162.7 865.0h1.9v1.9h-1.9zM151.8 853.3h1.9v1.9h-1.9zM206.6 862.9h1.9v1.9h-1.9zM254.4 846.4h1.9v1.9h-1.9zM226.1 856.1h1.9v1.9h-1.9zM171.7 869.5h1.9v1.9h-1.9zM232.7 855.3h1.9v1.9h-1.9zM199.8 854.3h1.9v1.9h-1.9zM190.3 870.0h1.9v1.9h-1.9zM223.4 857.1h1.9v1.9h-1.9zM195.0 866.1h1.9v1.9h-1.9zM215.1 863.1h1.9v1.9h-1.9zM144.6 876.2h1.9v1.9h-1.9zM147.6 863.5h1.9v1.9h-1.9zM182.3 877.3h1.9v1.9h-1.9zM249.9 866.4h1.9v1.9h-1.9zM246.3 842.1h1.9v1.9h-1.9zM170.1 878.3h1.9v1.9h-1.9zM213.8 861.9h1.9v1.9h-1.9zM178.6 839.5h1.9v1.9h-1.9zM249.8 859.2h1.9v1.9h-1.9zM259.6 844.5h1.9v1.9h-1.9zM160.3 879.2h1.9v1.9h-1.9zM243.2 845.3h1.9v1.9h-1.9zM171.0 861.7h1.9v1.9h-1.9zM230.9 859.9h1.9v1.9h-1.9zM170.7 866.3h1.9v1.9h-1.9zM200.1 848.7h1.9v1.9h-1.9zM147.3 863.0h1.9v1.9h-1.9zM254.4 853.3h1.9v1.9h-1.9zM164.7 861.0h1.9v1.9h-1.9zM169.6 858.6h1.9v1.9h-1.9zM199.9 862.5h1.9v1.9h-1.9zM242.2 861.7h1.9v1.9h-1.9zM240.0 854.6h1.9v1.9h-1.9zM147.6 867.2h1.9v1.9h-1.9zM210.0 882.7h1.9v1.9h-1.9zM205.5 862.3h1.9v1.9h-1.9zM249.1 859.7h1.9v1.9h-1.9zM239.8 845.5h1.9v1.9h-1.9zM151.4 861.5h1.9v1.9h-1.9zM229.8 870.7h1.9v1.9h-1.9zM234.0 858.9h1.9v1.9h-1.9zM247.6 851.1h1.9v1.9h-1.9zM199.3 848.8h1.9v1.9h-1.9zM195.2 862.0h1.9v1.9h-1.9zM244.8 859.9h1.9v1.9h-1.9zM154.7 864.3h1.9v1.9h-1.9zM210.8 857.5h1.9v1.9h-1.9zM176.6 844.6h1.9v1.9h-1.9zM183.1 878.7h1.9v1.9h-1.9zM157.7 873.4h1.9v1.9h-1.9zM192.5 857.4h1.9v1.9h-1.9zM255.5 846.6h1.9v1.9h-1.9zM187.0 858.2h1.9v1.9h-1.9zM252.3 836.7h1.9v1.9h-1.9zM171.9 867.1h1.9v1.9h-1.9zM158.2 853.8h1.9v1.9h-1.9zM235.0 873.0h1.9v1.9h-1.9zM159.2 867.6h1.9v1.9h-1.9zM255.0 863.5h1.9v1.9h-1.9zM181.6 861.4h1.9v1.9h-1.9zM174.9 858.7h1.9v1.9h-1.9zM148.6 862.2h1.9v1.9h-1.9zM221.8 869.5h1.9v1.9h-1.9zM237.0 862.7h1.9v1.9h-1.9zM252.3 851.5h1.9v1.9h-1.9zM169.2 861.3h1.9v1.9h-1.9zM234.6 861.7h1.9v1.9h-1.9zM172.7 863.6h1.9v1.9h-1.9zM173.2 863.7h1.9v1.9h-1.9zM235.9 866.6h1.9v1.9h-1.9zM177.0 846.1h1.9v1.9h-1.9zM207.9 856.5h1.9v1.9h-1.9zM148.4 870.0h1.9v1.9h-1.9zM178.3 869.7h1.9v1.9h-1.9zM253.8 858.6h1.9v1.9h-1.9zM153.9 865.4h1.9v1.9h-1.9zM208.1 874.8h1.9v1.9h-1.9zM145.2 852.1h1.9v1.9h-1.9zM218.0 859.9h1.9v1.9h-1.9zM226.3 838.1h1.9v1.9h-1.9zM230.3 862.0h1.9v1.9h-1.9zM207.6 880.2h1.9v1.9h-1.9zM258.0 856.0h1.9v1.9h-1.9zM261.7 844.5h1.9v1.9h-1.9zM196.9 850.0h1.9v1.9h-1.9zM165.4 856.0h1.9v1.9h-1.9zM223.3 838.8h1.9v1.9h-1.9zM169.4 854.8h1.9v1.9h-1.9zM181.4 866.0h1.9v1.9h-1.9zM176.3 855.3h1.9v1.9h-1.9zM148.6 862.8h1.9v1.9h-1.9zM185.1 863.0h1.9v1.9h-1.9zM206.6 863.2h1.9v1.9h-1.9zM226.9 858.6h1.9v1.9h-1.9zM165.4 885.2h1.9v1.9h-1.9zM158.1 869.9h1.9v1.9h-1.9zM194.5 856.7h1.9v1.9h-1.9zM169.8 869.3h1.9v1.9h-1.9zM170.3 867.7h1.9v1.9h-1.9zM201.4 862.7h1.9v1.9h-1.9zM244.9 858.3h1.9v1.9h-1.9zM175.8 859.1h1.9v1.9h-1.9zM158.3 864.8h1.9v1.9h-1.9zM241.4 866.3h1.9v1.9h-1.9zM230.9 861.8h1.9v1.9h-1.9zM230.4 861.7h1.9v1.9h-1.9zM259.3 837.3h1.9v1.9h-1.9zM200.3 847.6h1.9v1.9h-1.9zM177.8 850.1h1.9v1.9h-1.9zM179.7 860.4h1.9v1.9h-1.9zM213.2 849.6h1.9v1.9h-1.9zM177.1 869.2h1.9v1.9h-1.9zM155.2 859.5h1.9v1.9h-1.9zM194.0 874.4h1.9v1.9h-1.9zM190.9 866.6h1.9v1.9h-1.9zM147.4 862.9h1.9v1.9h-1.9zM239.5 878.8h1.9v1.9h-1.9zM238.7 842.0h1.9v1.9h-1.9zM164.0 857.2h1.9v1.9h-1.9z" fill="#50ec0a"/>
<path d="M186.8 872.3h1.9v1.9h-1.9zM185.7 865.4h1.9v1.9h-1.9zM209.2 866.4h1.9v1.9h-1.9zM232.0 872.2h1.9v1.9h-1.9zM183.0 866.5h1.9v1.9h-1.9zM194.2 875.5h1.9v1.9h-1.9zM255.6 847.0h1.9v1.9h-1.9zM248.5 859.0h1.9v1.9h-1.9zM259.9 848.3h1.9v1.9h-1.9zM171.0 875.8h1.9v1.9h-1.9zM154.9 881.1h1.9v1.9h-1.9zM241.7 864.4h1.9v1.9h-1.9zM246.7 864.5h1.9v1.9h-1.9zM204.2 868.8h1.9v1.9h-1.9zM223.1 878.9h1.9v1.9h-1.9zM171.0 868.9h1.9v1.9h-1.9zM173.5 867.7h1.9v1.9h-1.9zM246.0 865.9h1.9v1.9h-1.9zM254.8 847.8h1.9v1.9h-1.9zM207.0 871.3h1.9v1.9h-1.9zM253.0 859.0h1.9v1.9h-1.9zM230.7 862.9h1.9v1.9h-1.9zM220.2 867.4h1.9v1.9h-1.9zM208.5 871.0h1.9v1.9h-1.9zM176.0 862.8h1.9v1.9h-1.9zM221.4 871.8h1.9v1.9h-1.9zM214.4 866.1h1.9v1.9h-1.9zM250.5 866.2h1.9v1.9h-1.9zM256.3 860.2h1.9v1.9h-1.9zM258.4 863.8h1.9v1.9h-1.9zM149.7 873.0h1.9v1.9h-1.9zM149.8 870.4h1.9v1.9h-1.9zM231.8 863.3h1.9v1.9h-1.9zM248.2 865.8h1.9v1.9h-1.9zM231.6 880.2h1.9v1.9h-1.9zM156.6 872.4h1.9v1.9h-1.9zM154.9 870.3h1.9v1.9h-1.9zM251.2 875.6h1.9v1.9h-1.9zM248.7 863.2h1.9v1.9h-1.9zM241.0 884.0h1.9v1.9h-1.9zM251.5 871.5h1.9v1.9h-1.9zM162.5 883.9h1.9v1.9h-1.9zM243.8 856.2h1.9v1.9h-1.9zM201.7 885.9h1.9v1.9h-1.9zM163.2 877.4h1.9v1.9h-1.9zM255.4 864.8h1.9v1.9h-1.9zM258.1 862.6h1.9v1.9h-1.9zM182.2 885.2h1.9v1.9h-1.9zM238.5 871.7h1.9v1.9h-1.9zM176.6 869.2h1.9v1.9h-1.9zM262.0 855.4h1.9v1.9h-1.9zM238.3 873.7h1.9v1.9h-1.9zM230.0 879.0h1.9v1.9h-1.9zM226.8 861.3h1.9v1.9h-1.9zM156.9 872.9h1.9v1.9h-1.9zM194.2 870.6h1.9v1.9h-1.9zM223.2 869.2h1.9v1.9h-1.9zM194.7 873.2h1.9v1.9h-1.9zM251.5 871.6h1.9v1.9h-1.9zM230.5 868.6h1.9v1.9h-1.9zM227.0 859.4h1.9v1.9h-1.9zM183.3 872.7h1.9v1.9h-1.9zM213.7 859.4h1.9v1.9h-1.9zM158.1 862.7h1.9v1.9h-1.9zM229.1 872.1h1.9v1.9h-1.9zM260.4 861.6h1.9v1.9h-1.9zM205.0 864.2h1.9v1.9h-1.9zM200.1 884.7h1.9v1.9h-1.9zM258.3 849.0h1.9v1.9h-1.9zM147.5 873.4h1.9v1.9h-1.9zM201.7 867.2h1.9v1.9h-1.9zM242.9 887.3h1.9v1.9h-1.9zM239.0 864.4h1.9v1.9h-1.9zM226.6 867.5h1.9v1.9h-1.9zM168.6 875.9h1.9v1.9h-1.9zM236.7 860.2h1.9v1.9h-1.9zM211.9 873.2h1.9v1.9h-1.9zM224.0 869.1h1.9v1.9h-1.9zM205.6 861.7h1.9v1.9h-1.9zM204.0 864.1h1.9v1.9h-1.9zM180.1 862.2h1.9v1.9h-1.9zM224.7 862.3h1.9v1.9h-1.9zM154.9 852.9h1.9v1.9h-1.9zM244.5 863.2h1.9v1.9h-1.9zM219.9 872.0h1.9v1.9h-1.9zM190.9 864.5h1.9v1.9h-1.9zM150.2 884.4h1.9v1.9h-1.9zM242.5 870.1h1.9v1.9h-1.9zM202.7 864.3h1.9v1.9h-1.9zM207.8 878.7h1.9v1.9h-1.9zM260.5 843.5h1.9v1.9h-1.9zM223.4 879.3h1.9v1.9h-1.9zM224.3 860.6h1.9v1.9h-1.9zM155.3 875.0h1.9v1.9h-1.9zM196.1 866.6h1.9v1.9h-1.9zM254.1 853.5h1.9v1.9h-1.9zM174.1 863.4h1.9v1.9h-1.9zM183.9 881.1h1.9v1.9h-1.9zM166.7 872.5h1.9v1.9h-1.9zM231.7 868.0h1.9v1.9h-1.9zM226.4 876.4h1.9v1.9h-1.9zM236.9 876.6h1.9v1.9h-1.9zM157.2 875.9h1.9v1.9h-1.9zM260.9 872.8h1.9v1.9h-1.9zM205.4 866.2h1.9v1.9h-1.9zM152.3 878.5h1.9v1.9h-1.9zM246.4 855.4h1.9v1.9h-1.9zM149.4 865.7h1.9v1.9h-1.9zM220.3 878.1h1.9v1.9h-1.9zM194.4 870.1h1.9v1.9h-1.9zM165.0 879.0h1.9v1.9h-1.9zM176.1 874.9h1.9v1.9h-1.9zM205.9 867.8h1.9v1.9h-1.9zM196.7 867.7h1.9v1.9h-1.9zM236.1 858.8h1.9v1.9h-1.9zM257.7 857.0h1.9v1.9h-1.9zM196.6 871.5h1.9v1.9h-1.9zM146.5 879.9h1.9v1.9h-1.9zM258.8 846.8h1.9v1.9h-1.9zM235.6 871.5h1.9v1.9h-1.9zM216.6 863.8h1.9v1.9h-1.9zM248.6 875.9h1.9v1.9h-1.9zM257.3 844.1h1.9v1.9h-1.9zM151.4 883.3h1.9v1.9h-1.9zM249.9 861.7h1.9v1.9h-1.9zM245.1 846.4h1.9v1.9h-1.9zM148.9 868.9h1.9v1.9h-1.9zM249.8 852.7h1.9v1.9h-1.9zM151.1 866.3h1.9v1.9h-1.9zM165.0 878.6h1.9v1.9h-1.9zM206.7 868.3h1.9v1.9h-1.9zM242.2 863.7h1.9v1.9h-1.9zM207.7 867.6h1.9v1.9h-1.9zM193.9 866.6h1.9v1.9h-1.9zM151.9 870.2h1.9v1.9h-1.9zM173.3 861.6h1.9v1.9h-1.9zM261.6 845.3h1.9v1.9h-1.9zM240.7 870.1h1.9v1.9h-1.9zM246.5 876.4h1.9v1.9h-1.9zM207.8 880.5h1.9v1.9h-1.9zM243.1 856.5h1.9v1.9h-1.9zM248.7 855.6h1.9v1.9h-1.9zM243.9 862.5h1.9v1.9h-1.9zM247.6 854.0h1.9v1.9h-1.9zM237.7 867.0h1.9v1.9h-1.9zM229.6 863.7h1.9v1.9h-1.9zM181.5 873.3h1.9v1.9h-1.9zM201.7 867.5h1.9v1.9h-1.9zM258.2 872.3h1.9v1.9h-1.9zM224.3 873.7h1.9v1.9h-1.9zM253.2 871.6h1.9v1.9h-1.9zM233.0 878.5h1.9v1.9h-1.9zM252.9 853.1h1.9v1.9h-1.9zM158.9 868.0h1.9v1.9h-1.9zM237.2 864.6h1.9v1.9h-1.9zM259.2 857.0h1.9v1.9h-1.9zM213.2 880.7h1.9v1.9h-1.9zM181.5 864.6h1.9v1.9h-1.9zM194.0 857.5h1.9v1.9h-1.9zM255.7 848.8h1.9v1.9h-1.9zM154.5 846.1h1.9v1.9h-1.9zM181.9 878.9h1.9v1.9h-1.9zM180.3 865.0h1.9v1.9h-1.9zM261.4 853.3h1.9v1.9h-1.9zM143.8 876.7h1.9v1.9h-1.9zM243.4 869.7h1.9v1.9h-1.9zM252.7 861.8h1.9v1.9h-1.9zM261.4 855.1h1.9v1.9h-1.9zM232.6 864.5h1.9v1.9h-1.9zM206.2 868.6h1.9v1.9h-1.9zM147.6 879.3h1.9v1.9h-1.9zM221.9 875.2h1.9v1.9h-1.9zM258.0 848.0h1.9v1.9h-1.9zM230.5 862.1h1.9v1.9h-1.9zM183.0 875.4h1.9v1.9h-1.9zM205.0 850.7h1.9v1.9h-1.9zM227.0 865.7h1.9v1.9h-1.9zM154.9 874.6h1.9v1.9h-1.9zM238.9 866.0h1.9v1.9h-1.9zM240.9 871.8h1.9v1.9h-1.9zM256.7 867.0h1.9v1.9h-1.9zM184.8 849.0h1.9v1.9h-1.9zM255.5 866.1h1.9v1.9h-1.9zM145.1 877.4h1.9v1.9h-1.9zM244.3 857.2h1.9v1.9h-1.9z" fill="#14d214"/>
<path d="M244.2 847.8h1.9v1.9h-1.9zM201.5 877.6h1.9v1.9h-1.9zM259.9 863.0h1.9v1.9h-1.9zM260.8 863.9h1.9v1.9h-1.9zM260.0 862.1h1.9v1.9h-1.9zM217.5 873.0h1.9v1.9h-1.9zM258.6 875.2h1.9v1.9h-1.9zM205.2 884.7h1.9v1.9h-1.9zM260.0 870.7h1.9v1.9h-1.9zM251.0 861.8h1.9v1.9h-1.9zM177.2 872.2h1.9v1.9h-1.9zM168.7 870.2h1.9v1.9h-1.9zM153.7 866.6h1.9v1.9h-1.9zM258.7 861.8h1.9v1.9h-1.9zM165.8 875.1h1.9v1.9h-1.9zM181.5 874.2h1.9v1.9h-1.9zM253.6 866.1h1.9v1.9h-1.9zM253.5 872.2h1.9v1.9h-1.9zM172.7 887.7h1.9v1.9h-1.9zM242.9 871.1h1.9v1.9h-1.9zM247.1 869.2h1.9v1.9h-1.9zM185.0 874.6h1.9v1.9h-1.9zM254.6 874.6h1.9v1.9h-1.9zM250.2 863.8h1.9v1.9h-1.9zM249.0 867.9h1.9v1.9h-1.9zM251.0 870.7h1.9v1.9h-1.9zM238.6 875.1h1.9v1.9h-1.9zM193.0 873.7h1.9v1.9h-1.9zM205.2 877.4h1.9v1.9h-1.9zM249.9 874.8h1.9v1.9h-1.9zM212.3 869.9h1.9v1.9h-1.9zM208.2 878.2h1.9v1.9h-1.9z" fill="#12b446"/>
<path d="M255.2 873.1h1.9v1.9h-1.9zM225.7 881.9h1.9v1.9h-1.9zM192.4 869.6h1.9v1.9h-1.9zM156.3 886.2h1.9v1.9h-1.9zM247.1 874.6h1.9v1.9h-1.9zM261.7 874.6h1.9v1.9h-1.9z" fill="#168a90"/>
<path d="M203.3 878.9h1.9v1.9h-1.9zM170.7 872.9h1.9v1.9h-1.9zM226.3 865.7h1.9v1.9h-1.9zM233.2 878.4h1.9v1.9h-1.9zM211.1 893.5h1.9v1.9h-1.9zM153.7 854.1h1.9v1.9h-1.9z" fill="#1f58c8"/>
<path d="M229.0 834.6h1.9v1.9h-1.9zM152.3 833.4h1.9v1.9h-1.9zM179.2 851.6h1.9v1.9h-1.9zM294.9 834.0h1.9v1.9h-1.9zM184.3 833.3h1.9v1.9h-1.9zM273.9 833.7h1.9v1.9h-1.9zM191.8 834.3h1.9v1.9h-1.9zM221.7 838.1h1.9v1.9h-1.9zM226.1 838.5h1.9v1.9h-1.9zM214.7 836.4h1.9v1.9h-1.9z" fill="#ff8c00"/>
<path d="M157.1 850.6h1.9v1.9h-1.9zM143.7 846.0h1.9v1.9h-1.9zM163.2 836.8h1.9v1.9h-1.9zM209.8 833.7h1.9v1.9h-1.9zM224.2 838.2h1.9v1.9h-1.9zM231.8 838.0h1.9v1.9h-1.9zM208.4 835.7h1.9v1.9h-1.9zM236.4 833.6h1.9v1.9h-1.9zM192.3 841.6h1.9v1.9h-1.9zM244.3 828.2h1.9v1.9h-1.9zM163.3 846.8h1.9v1.9h-1.9zM209.2 837.6h1.9v1.9h-1.9zM200.0 837.9h1.9v1.9h-1.9zM211.0 846.7h1.9v1.9h-1.9zM182.9 835.3h1.9v1.9h-1.9zM173.5 837.5h1.9v1.9h-1.9zM236.7 838.8h1.9v1.9h-1.9zM211.0 835.2h1.9v1.9h-1.9zM178.1 843.4h1.9v1.9h-1.9zM299.7 835.4h1.9v1.9h-1.9zM170.1 838.9h1.9v1.9h-1.9zM205.2 836.2h1.9v1.9h-1.9zM226.3 840.3h1.9v1.9h-1.9zM170.5 842.3h1.9v1.9h-1.9zM196.8 835.8h1.9v1.9h-1.9zM208.6 838.4h1.9v1.9h-1.9zM180.4 834.5h1.9v1.9h-1.9zM215.1 837.9h1.9v1.9h-1.9zM210.9 825.9h1.9v1.9h-1.9zM163.4 841.4h1.9v1.9h-1.9zM181.9 842.6h1.9v1.9h-1.9zM232.0 839.6h1.9v1.9h-1.9zM200.2 838.9h1.9v1.9h-1.9zM189.2 846.1h1.9v1.9h-1.9zM212.2 854.9h1.9v1.9h-1.9zM156.2 840.7h1.9v1.9h-1.9zM179.3 838.1h1.9v1.9h-1.9zM226.7 843.8h1.9v1.9h-1.9zM279.8 829.6h1.9v1.9h-1.9zM159.2 842.2h1.9v1.9h-1.9zM229.5 849.0h1.9v1.9h-1.9zM188.8 848.0h1.9v1.9h-1.9zM145.7 839.4h1.9v1.9h-1.9zM177.7 851.6h1.9v1.9h-1.9zM168.8 837.5h1.9v1.9h-1.9zM176.2 835.3h1.9v1.9h-1.9zM209.0 850.9h1.9v1.9h-1.9zM214.2 843.1h1.9v1.9h-1.9zM220.7 835.3h1.9v1.9h-1.9zM239.9 841.2h1.9v1.9h-1.9zM165.1 846.5h1.9v1.9h-1.9zM193.1 847.6h1.9v1.9h-1.9zM188.0 839.6h1.9v1.9h-1.9zM145.4 841.9h1.9v1.9h-1.9zM239.4 832.3h1.9v1.9h-1.9zM181.2 842.7h1.9v1.9h-1.9zM252.2 833.4h1.9v1.9h-1.9zM166.1 834.5h1.9v1.9h-1.9zM227.7 839.7h1.9v1.9h-1.9zM167.1 825.1h1.9v1.9h-1.9zM155.2 836.8h1.9v1.9h-1.9zM213.9 836.3h1.9v1.9h-1.9zM216.2 843.8h1.9v1.9h-1.9zM228.5 837.4h1.9v1.9h-1.9zM143.7 846.2h1.9v1.9h-1.9zM240.1 823.1h1.9v1.9h-1.9zM170.9 834.7h1.9v1.9h-1.9zM151.1 838.1h1.9v1.9h-1.9zM209.5 837.2h1.9v1.9h-1.9zM143.8 842.8h1.9v1.9h-1.9zM205.3 838.8h1.9v1.9h-1.9zM159.4 840.8h1.9v1.9h-1.9zM155.6 839.6h1.9v1.9h-1.9zM200.9 843.4h1.9v1.9h-1.9zM211.1 838.6h1.9v1.9h-1.9zM223.9 844.9h1.9v1.9h-1.9zM161.1 835.3h1.9v1.9h-1.9zM190.6 835.4h1.9v1.9h-1.9zM205.4 839.0h1.9v1.9h-1.9zM230.4 833.3h1.9v1.9h-1.9zM207.2 844.0h1.9v1.9h-1.9zM217.1 839.4h1.9v1.9h-1.9zM228.1 838.6h1.9v1.9h-1.9zM162.8 826.5h1.9v1.9h-1.9zM208.3 845.3h1.9v1.9h-1.9zM181.3 840.9h1.9v1.9h-1.9zM191.0 838.8h1.9v1.9h-1.9zM149.3 841.1h1.9v1.9h-1.9zM240.8 834.7h1.9v1.9h-1.9zM183.2 841.3h1.9v1.9h-1.9zM179.8 845.1h1.9v1.9h-1.9zM226.7 845.0h1.9v1.9h-1.9zM185.0 849.4h1.9v1.9h-1.9zM201.4 835.8h1.9v1.9h-1.9zM150.6 839.3h1.9v1.9h-1.9zM167.4 836.7h1.9v1.9h-1.9zM221.8 839.9h1.9v1.9h-1.9zM163.2 836.3h1.9v1.9h-1.9zM187.8 834.9h1.9v1.9h-1.9zM231.6 834.1h1.9v1.9h-1.9zM157.0 835.2h1.9v1.9h-1.9zM194.5 834.3h1.9v1.9h-1.9zM214.4 833.2h1.9v1.9h-1.9z" fill="#ffc800"/>
<path d="M148.0 850.3h1.9v1.9h-1.9zM178.3 848.7h1.9v1.9h-1.9zM145.9 840.8h1.9v1.9h-1.9zM145.1 842.7h1.9v1.9h-1.9zM152.7 850.0h1.9v1.9h-1.9zM220.0 847.7h1.9v1.9h-1.9zM151.6 835.7h1.9v1.9h-1.9zM195.0 842.1h1.9v1.9h-1.9zM215.1 835.0h1.9v1.9h-1.9zM226.4 833.9h1.9v1.9h-1.9zM182.2 851.8h1.9v1.9h-1.9zM172.5 842.7h1.9v1.9h-1.9zM161.2 849.6h1.9v1.9h-1.9zM198.4 834.1h1.9v1.9h-1.9zM212.3 841.8h1.9v1.9h-1.9zM233.5 846.9h1.9v1.9h-1.9zM205.3 856.3h1.9v1.9h-1.9zM207.2 841.9h1.9v1.9h-1.9zM210.9 846.7h1.9v1.9h-1.9zM208.2 854.0h1.9v1.9h-1.9zM146.4 852.5h1.9v1.9h-1.9zM222.4 835.7h1.9v1.9h-1.9zM237.5 844.6h1.9v1.9h-1.9zM257.8 838.3h1.9v1.9h-1.9zM243.1 838.6h1.9v1.9h-1.9zM166.1 849.5h1.9v1.9h-1.9zM181.6 838.0h1.9v1.9h-1.9zM195.3 837.4h1.9v1.9h-1.9zM172.2 842.3h1.9v1.9h-1.9zM212.6 838.2h1.9v1.9h-1.9zM196.7 847.5h1.9v1.9h-1.9zM166.5 849.7h1.9v1.9h-1.9zM209.9 839.1h1.9v1.9h-1.9zM152.4 844.7h1.9v1.9h-1.9zM243.1 880.7h1.9v1.9h-1.9zM190.8 836.6h1.9v1.9h-1.9zM194.6 844.9h1.9v1.9h-1.9zM204.1 851.0h1.9v1.9h-1.9zM250.7 834.5h1.9v1.9h-1.9zM195.9 833.7h1.9v1.9h-1.9zM230.6 841.5h1.9v1.9h-1.9zM149.0 854.6h1.9v1.9h-1.9zM170.3 845.0h1.9v1.9h-1.9zM234.9 861.7h1.9v1.9h-1.9zM219.7 854.5h1.9v1.9h-1.9zM191.4 840.7h1.9v1.9h-1.9zM169.7 849.8h1.9v1.9h-1.9zM231.3 833.2h1.9v1.9h-1.9zM156.0 842.2h1.9v1.9h-1.9zM177.9 843.2h1.9v1.9h-1.9zM239.0 844.3h1.9v1.9h-1.9zM159.2 850.2h1.9v1.9h-1.9zM225.5 837.6h1.9v1.9h-1.9zM237.1 841.0h1.9v1.9h-1.9zM200.1 846.2h1.9v1.9h-1.9zM203.8 846.0h1.9v1.9h-1.9zM232.9 840.5h1.9v1.9h-1.9zM204.8 844.8h1.9v1.9h-1.9zM172.7 842.9h1.9v1.9h-1.9zM151.2 847.7h1.9v1.9h-1.9zM217.7 838.3h1.9v1.9h-1.9zM169.4 856.3h1.9v1.9h-1.9zM227.9 840.0h1.9v1.9h-1.9zM202.9 845.4h1.9v1.9h-1.9zM218.5 843.2h1.9v1.9h-1.9zM208.6 848.5h1.9v1.9h-1.9zM160.9 840.0h1.9v1.9h-1.9zM239.8 838.9h1.9v1.9h-1.9zM148.3 842.5h1.9v1.9h-1.9zM181.3 834.7h1.9v1.9h-1.9zM162.7 834.3h1.9v1.9h-1.9zM227.2 838.1h1.9v1.9h-1.9zM225.3 836.2h1.9v1.9h-1.9zM229.2 857.8h1.9v1.9h-1.9zM230.5 858.7h1.9v1.9h-1.9zM147.7 842.4h1.9v1.9h-1.9zM209.8 845.7h1.9v1.9h-1.9zM218.2 844.9h1.9v1.9h-1.9zM194.5 868.7h1.9v1.9h-1.9zM166.1 840.4h1.9v1.9h-1.9zM194.0 838.7h1.9v1.9h-1.9zM198.0 839.2h1.9v1.9h-1.9zM186.2 868.8h1.9v1.9h-1.9zM166.6 860.4h1.9v1.9h-1.9zM151.9 843.4h1.9v1.9h-1.9zM175.6 852.3h1.9v1.9h-1.9zM230.4 842.9h1.9v1.9h-1.9zM183.1 851.6h1.9v1.9h-1.9zM237.0 853.3h1.9v1.9h-1.9zM150.3 855.2h1.9v1.9h-1.9zM255.8 836.8h1.9v1.9h-1.9zM151.2 840.9h1.9v1.9h-1.9zM179.0 862.0h1.9v1.9h-1.9zM211.9 840.4h1.9v1.9h-1.9zM149.8 840.1h1.9v1.9h-1.9zM202.3 845.3h1.9v1.9h-1.9zM156.6 858.6h1.9v1.9h-1.9zM214.1 847.9h1.9v1.9h-1.9zM211.8 855.8h1.9v1.9h-1.9zM192.7 850.2h1.9v1.9h-1.9zM201.9 844.0h1.9v1.9h-1.9zM158.1 861.6h1.9v1.9h-1.9zM201.7 850.2h1.9v1.9h-1.9zM223.5 846.9h1.9v1.9h-1.9zM202.2 837.0h1.9v1.9h-1.9zM163.8 840.7h1.9v1.9h-1.9zM159.1 842.6h1.9v1.9h-1.9zM167.6 837.6h1.9v1.9h-1.9zM174.9 845.3h1.9v1.9h-1.9zM214.6 848.0h1.9v1.9h-1.9zM227.9 843.4h1.9v1.9h-1.9zM225.0 844.6h1.9v1.9h-1.9zM187.6 842.5h1.9v1.9h-1.9zM194.0 839.9h1.9v1.9h-1.9zM164.5 839.4h1.9v1.9h-1.9zM166.2 847.3h1.9v1.9h-1.9zM193.7 864.3h1.9v1.9h-1.9zM147.5 849.6h1.9v1.9h-1.9zM170.5 844.3h1.9v1.9h-1.9zM184.0 843.2h1.9v1.9h-1.9zM147.1 850.1h1.9v1.9h-1.9zM188.8 859.9h1.9v1.9h-1.9zM221.8 850.0h1.9v1.9h-1.9zM255.8 844.4h1.9v1.9h-1.9zM199.4 841.7h1.9v1.9h-1.9zM185.4 834.2h1.9v1.9h-1.9zM175.2 839.1h1.9v1.9h-1.9zM198.4 843.0h1.9v1.9h-1.9zM192.7 844.3h1.9v1.9h-1.9zM162.8 864.9h1.9v1.9h-1.9zM206.1 834.6h1.9v1.9h-1.9zM181.4 843.8h1.9v1.9h-1.9zM191.8 841.4h1.9v1.9h-1.9zM175.0 842.1h1.9v1.9h-1.9zM176.5 886.3h1.9v1.9h-1.9zM164.4 838.4h1.9v1.9h-1.9zM144.1 841.0h1.9v1.9h-1.9zM219.8 835.8h1.9v1.9h-1.9zM238.7 839.2h1.9v1.9h-1.9zM190.1 845.0h1.9v1.9h-1.9zM232.5 846.9h1.9v1.9h-1.9zM147.8 861.0h1.9v1.9h-1.9zM246.1 843.1h1.9v1.9h-1.9zM188.8 843.5h1.9v1.9h-1.9zM237.7 832.4h1.9v1.9h-1.9zM183.9 852.2h1.9v1.9h-1.9zM261.8 834.2h1.9v1.9h-1.9zM172.8 853.1h1.9v1.9h-1.9zM176.1 847.6h1.9v1.9h-1.9zM173.2 862.3h1.9v1.9h-1.9zM244.5 839.5h1.9v1.9h-1.9zM258.3 838.8h1.9v1.9h-1.9zM220.7 843.6h1.9v1.9h-1.9zM149.3 845.3h1.9v1.9h-1.9zM225.7 861.0h1.9v1.9h-1.9zM146.0 838.8h1.9v1.9h-1.9zM235.0 842.0h1.9v1.9h-1.9zM173.0 844.3h1.9v1.9h-1.9zM228.5 837.5h1.9v1.9h-1.9zM174.4 837.4h1.9v1.9h-1.9zM233.8 834.9h1.9v1.9h-1.9zM164.4 851.7h1.9v1.9h-1.9zM158.4 843.0h1.9v1.9h-1.9zM154.0 844.9h1.9v1.9h-1.9zM203.5 839.0h1.9v1.9h-1.9zM214.4 840.5h1.9v1.9h-1.9zM220.7 845.2h1.9v1.9h-1.9zM201.9 852.7h1.9v1.9h-1.9zM244.3 836.8h1.9v1.9h-1.9zM225.3 845.1h1.9v1.9h-1.9zM173.5 853.5h1.9v1.9h-1.9zM208.3 838.6h1.9v1.9h-1.9zM224.7 839.4h1.9v1.9h-1.9zM245.3 839.2h1.9v1.9h-1.9zM201.2 846.1h1.9v1.9h-1.9zM177.2 834.9h1.9v1.9h-1.9zM162.3 838.1h1.9v1.9h-1.9zM231.1 844.6h1.9v1.9h-1.9zM212.1 846.6h1.9v1.9h-1.9zM201.6 850.1h1.9v1.9h-1.9zM216.2 835.8h1.9v1.9h-1.9zM214.5 845.6h1.9v1.9h-1.9zM188.0 854.3h1.9v1.9h-1.9zM224.0 846.5h1.9v1.9h-1.9zM253.9 842.9h1.9v1.9h-1.9zM172.8 847.7h1.9v1.9h-1.9zM144.4 848.3h1.9v1.9h-1.9zM161.6 840.0h1.9v1.9h-1.9zM167.0 839.0h1.9v1.9h-1.9zM176.9 847.4h1.9v1.9h-1.9zM181.8 841.1h1.9v1.9h-1.9zM170.5 843.8h1.9v1.9h-1.9zM159.2 844.9h1.9v1.9h-1.9zM186.0 855.3h1.9v1.9h-1.9zM159.3 847.6h1.9v1.9h-1.9zM227.5 835.7h1.9v1.9h-1.9zM248.7 836.8h1.9v1.9h-1.9zM221.2 842.6h1.9v1.9h-1.9zM226.0 844.9h1.9v1.9h-1.9zM255.1 832.8h1.9v1.9h-1.9zM160.0 848.7h1.9v1.9h-1.9zM177.8 838.8h1.9v1.9h-1.9zM176.3 838.0h1.9v1.9h-1.9zM186.1 835.7h1.9v1.9h-1.9zM150.4 861.2h1.9v1.9h-1.9zM160.6 845.1h1.9v1.9h-1.9zM153.6 850.6h1.9v1.9h-1.9zM174.0 835.3h1.9v1.9h-1.9zM148.2 843.6h1.9v1.9h-1.9zM197.8 837.1h1.9v1.9h-1.9zM150.3 846.9h1.9v1.9h-1.9zM186.0 834.4h1.9v1.9h-1.9zM174.7 843.7h1.9v1.9h-1.9zM158.2 835.7h1.9v1.9h-1.9zM186.8 859.3h1.9v1.9h-1.9zM205.0 863.0h1.9v1.9h-1.9zM155.6 847.4h1.9v1.9h-1.9zM233.6 862.9h1.9v1.9h-1.9zM214.4 843.2h1.9v1.9h-1.9zM184.9 833.7h1.9v1.9h-1.9zM227.6 845.5h1.9v1.9h-1.9zM207.2 843.7h1.9v1.9h-1.9zM170.3 848.6h1.9v1.9h-1.9zM250.4 847.7h1.9v1.9h-1.9zM218.5 851.3h1.9v1.9h-1.9zM244.7 844.4h1.9v1.9h-1.9zM249.1 835.7h1.9v1.9h-1.9zM180.2 838.3h1.9v1.9h-1.9zM190.3 849.1h1.9v1.9h-1.9zM195.0 849.7h1.9v1.9h-1.9zM145.6 852.7h1.9v1.9h-1.9zM195.2 845.1h1.9v1.9h-1.9zM226.4 838.3h1.9v1.9h-1.9zM198.2 837.1h1.9v1.9h-1.9zM166.8 837.5h1.9v1.9h-1.9zM221.1 843.1h1.9v1.9h-1.9zM220.2 837.8h1.9v1.9h-1.9zM160.9 836.0h1.9v1.9h-1.9zM250.0 833.8h1.9v1.9h-1.9zM256.5 843.7h1.9v1.9h-1.9zM167.9 841.2h1.9v1.9h-1.9zM172.3 836.4h1.9v1.9h-1.9zM237.5 838.4h1.9v1.9h-1.9zM167.0 853.4h1.9v1.9h-1.9zM228.6 835.0h1.9v1.9h-1.9zM159.3 838.4h1.9v1.9h-1.9zM211.0 832.8h1.9v1.9h-1.9zM240.5 844.0h1.9v1.9h-1.9zM150.1 853.7h1.9v1.9h-1.9zM149.1 846.9h1.9v1.9h-1.9zM219.8 847.4h1.9v1.9h-1.9zM147.9 845.2h1.9v1.9h-1.9zM208.3 838.2h1.9v1.9h-1.9zM245.3 844.1h1.9v1.9h-1.9zM171.9 842.3h1.9v1.9h-1.9zM204.3 841.0h1.9v1.9h-1.9zM208.9 844.7h1.9v1.9h-1.9zM204.0 846.0h1.9v1.9h-1.9zM149.9 850.8h1.9v1.9h-1.9zM192.2 864.6h1.9v1.9h-1.9zM181.1 850.0h1.9v1.9h-1.9zM198.3 840.4h1.9v1.9h-1.9zM209.5 851.4h1.9v1.9h-1.9zM176.6 851.7h1.9v1.9h-1.9zM171.5 839.1h1.9v1.9h-1.9zM205.9 854.0h1.9v1.9h-1.9zM168.8 855.1h1.9v1.9h-1.9zM207.2 836.3h1.9v1.9h-1.9zM167.2 854.4h1.9v1.9h-1.9zM195.2 834.5h1.9v1.9h-1.9zM215.0 843.0h1.9v1.9h-1.9zM212.2 834.8h1.9v1.9h-1.9zM190.5 837.1h1.9v1.9h-1.9zM145.5 835.8h1.9v1.9h-1.9zM227.6 863.6h1.9v1.9h-1.9zM218.1 836.0h1.9v1.9h-1.9zM217.4 836.1h1.9v1.9h-1.9zM216.0 842.3h1.9v1.9h-1.9zM204.4 837.1h1.9v1.9h-1.9zM152.2 841.6h1.9v1.9h-1.9zM246.6 854.4h1.9v1.9h-1.9zM149.8 843.4h1.9v1.9h-1.9zM179.6 847.1h1.9v1.9h-1.9zM244.4 847.1h1.9v1.9h-1.9zM208.0 840.2h1.9v1.9h-1.9zM185.7 834.5h1.9v1.9h-1.9zM208.0 842.1h1.9v1.9h-1.9zM183.6 834.4h1.9v1.9h-1.9zM203.3 836.5h1.9v1.9h-1.9zM211.5 848.7h1.9v1.9h-1.9zM232.1 840.5h1.9v1.9h-1.9zM180.3 840.2h1.9v1.9h-1.9zM222.4 859.8h1.9v1.9h-1.9zM168.4 857.1h1.9v1.9h-1.9zM174.6 843.1h1.9v1.9h-1.9zM186.5 856.4h1.9v1.9h-1.9zM213.8 843.3h1.9v1.9h-1.9zM244.5 854.6h1.9v1.9h-1.9zM236.4 844.5h1.9v1.9h-1.9zM176.4 848.0h1.9v1.9h-1.9zM205.8 840.1h1.9v1.9h-1.9zM226.0 840.4h1.9v1.9h-1.9zM213.8 839.4h1.9v1.9h-1.9zM205.1 859.1h1.9v1.9h-1.9zM165.6 851.1h1.9v1.9h-1.9zM244.3 835.1h1.9v1.9h-1.9zM223.3 843.4h1.9v1.9h-1.9zM145.3 846.0h1.9v1.9h-1.9zM217.5 857.9h1.9v1.9h-1.9zM146.8 854.2h1.9v1.9h-1.9zM185.4 859.7h1.9v1.9h-1.9zM182.3 835.8h1.9v1.9h-1.9zM195.3 845.6h1.9v1.9h-1.9zM161.7 840.4h1.9v1.9h-1.9zM161.2 861.6h1.9v1.9h-1.9zM217.7 853.5h1.9v1.9h-1.9zM147.3 852.8h1.9v1.9h-1.9zM219.9 847.8h1.9v1.9h-1.9zM241.0 838.3h1.9v1.9h-1.9zM172.9 842.3h1.9v1.9h-1.9zM229.5 862.9h1.9v1.9h-1.9zM247.4 832.4h1.9v1.9h-1.9zM148.2 849.7h1.9v1.9h-1.9zM227.5 833.2h1.9v1.9h-1.9zM197.2 858.9h1.9v1.9h-1.9zM225.2 841.0h1.9v1.9h-1.9zM145.3 856.9h1.9v1.9h-1.9zM231.7 852.5h1.9v1.9h-1.9zM199.9 847.8h1.9v1.9h-1.9zM187.1 847.3h1.9v1.9h-1.9zM185.4 840.7h1.9v1.9h-1.9zM162.1 850.3h1.9v1.9h-1.9zM202.0 839.0h1.9v1.9h-1.9zM171.0 840.5h1.9v1.9h-1.9zM211.8 848.6h1.9v1.9h-1.9zM241.7 842.1h1.9v1.9h-1.9zM169.9 836.6h1.9v1.9h-1.9zM195.4 883.8h1.9v1.9h-1.9zM214.2 843.8h1.9v1.9h-1.9z" fill="#f0ee00"/>
<path d="M192.0 858.0h1.9v1.9h-1.9zM148.1 852.6h1.9v1.9h-1.9zM160.0 868.9h1.9v1.9h-1.9zM197.1 840.3h1.9v1.9h-1.9zM226.7 865.1h1.9v1.9h-1.9zM151.5 864.0h1.9v1.9h-1.9zM208.5 861.1h1.9v1.9h-1.9zM230.2 845.0h1.9v1.9h-1.9zM203.5 843.9h1.9v1.9h-1.9zM178.5 844.2h1.9v1.9h-1.9zM177.9 843.9h1.9v1.9h-1.9zM213.4 867.7h1.9v1.9h-1.9zM214.8 862.6h1.9v1.9h-1.9zM171.7 865.3h1.9v1.9h-1.9zM236.2 838.6h1.9v1.9h-1.9zM181.1 856.7h1.9v1.9h-1.9zM184.8 850.8h1.9v1.9h-1.9zM151.6 853.5h1.9v1.9h-1.9zM177.9 863.3h1.9v1.9h-1.9zM194.6 854.2h1.9v1.9h-1.9zM208.4 865.5h1.9v1.9h-1.9zM239.1 856.2h1.9v1.9h-1.9zM158.9 848.4h1.9v1.9h-1.9zM254.3 840.4h1.9v1.9h-1.9zM167.0 862.7h1.9v1.9h-1.9zM185.2 872.4h1.9v1.9h-1.9zM177.8 843.5h1.9v1.9h-1.9zM173.9 865.5h1.9v1.9h-1.9zM200.9 836.4h1.9v1.9h-1.9zM190.2 865.9h1.9v1.9h-1.9zM191.5 854.2h1.9v1.9h-1.9zM211.8 863.1h1.9v1.9h-1.9zM192.8 855.2h1.9v1.9h-1.9zM248.7 858.1h1.9v1.9h-1.9zM206.3 867.5h1.9v1.9h-1.9zM240.5 855.8h1.9v1.9h-1.9zM260.0 836.5h1.9v1.9h-1.9zM156.6 859.0h1.9v1.9h-1.9zM224.2 852.3h1.9v1.9h-1.9zM189.2 852.3h1.9v1.9h-1.9zM217.2 849.0h1.9v1.9h-1.9zM215.8 861.0h1.9v1.9h-1.9zM256.2 841.3h1.9v1.9h-1.9zM199.3 869.3h1.9v1.9h-1.9zM144.6 847.1h1.9v1.9h-1.9zM240.4 841.9h1.9v1.9h-1.9zM152.3 866.3h1.9v1.9h-1.9zM179.9 861.8h1.9v1.9h-1.9zM155.5 878.1h1.9v1.9h-1.9zM209.9 838.7h1.9v1.9h-1.9zM219.3 861.6h1.9v1.9h-1.9zM178.8 855.0h1.9v1.9h-1.9zM216.3 842.2h1.9v1.9h-1.9zM258.0 835.0h1.9v1.9h-1.9zM146.9 859.8h1.9v1.9h-1.9zM172.0 845.9h1.9v1.9h-1.9zM220.9 895.6h1.9v1.9h-1.9zM212.6 837.6h1.9v1.9h-1.9zM254.4 844.9h1.9v1.9h-1.9zM231.0 868.6h1.9v1.9h-1.9zM175.4 859.0h1.9v1.9h-1.9zM210.4 878.6h1.9v1.9h-1.9zM232.8 859.8h1.9v1.9h-1.9zM224.9 867.5h1.9v1.9h-1.9zM144.9 862.1h1.9v1.9h-1.9zM152.7 856.7h1.9v1.9h-1.9zM233.1 857.0h1.9v1.9h-1.9zM252.5 838.7h1.9v1.9h-1.9zM220.3 842.9h1.9v1.9h-1.9zM234.5 843.4h1.9v1.9h-1.9zM210.0 852.4h1.9v1.9h-1.9zM152.6 870.6h1.9v1.9h-1.9zM206.5 842.7h1.9v1.9h-1.9zM238.5 856.5h1.9v1.9h-1.9zM164.2 848.3h1.9v1.9h-1.9zM188.4 885.6h1.9v1.9h-1.9zM243.3 845.5h1.9v1.9h-1.9zM206.2 880.4h1.9v1.9h-1.9zM244.8 833.4h1.9v1.9h-1.9zM224.3 848.1h1.9v1.9h-1.9zM233.9 860.9h1.9v1.9h-1.9zM257.2 837.9h1.9v1.9h-1.9zM230.3 839.9h1.9v1.9h-1.9zM226.2 850.5h1.9v1.9h-1.9zM195.5 842.7h1.9v1.9h-1.9zM243.8 843.3h1.9v1.9h-1.9zM206.9 889.4h1.9v1.9h-1.9zM212.7 844.4h1.9v1.9h-1.9zM152.8 843.7h1.9v1.9h-1.9zM153.5 844.8h1.9v1.9h-1.9zM162.4 870.8h1.9v1.9h-1.9zM206.5 860.9h1.9v1.9h-1.9zM252.3 841.0h1.9v1.9h-1.9zM261.5 837.3h1.9v1.9h-1.9zM182.1 869.9h1.9v1.9h-1.9zM239.2 855.0h1.9v1.9h-1.9zM181.8 857.5h1.9v1.9h-1.9zM213.2 848.9h1.9v1.9h-1.9zM253.0 840.1h1.9v1.9h-1.9zM219.2 839.1h1.9v1.9h-1.9zM232.5 875.2h1.9v1.9h-1.9zM204.5 862.6h1.9v1.9h-1.9zM261.2 845.2h1.9v1.9h-1.9zM213.7 851.7h1.9v1.9h-1.9zM179.0 846.5h1.9v1.9h-1.9zM146.5 862.3h1.9v1.9h-1.9zM243.1 854.0h1.9v1.9h-1.9zM241.0 839.4h1.9v1.9h-1.9zM150.1 858.7h1.9v1.9h-1.9zM244.0 886.5h1.9v1.9h-1.9zM244.3 840.2h1.9v1.9h-1.9zM236.3 858.7h1.9v1.9h-1.9zM143.7 850.2h1.9v1.9h-1.9zM228.3 854.1h1.9v1.9h-1.9zM179.1 838.9h1.9v1.9h-1.9zM197.8 843.7h1.9v1.9h-1.9zM249.6 852.9h1.9v1.9h-1.9zM150.4 869.1h1.9v1.9h-1.9zM246.2 842.7h1.9v1.9h-1.9zM197.8 845.9h1.9v1.9h-1.9zM152.3 878.4h1.9v1.9h-1.9zM174.7 854.2h1.9v1.9h-1.9zM236.4 858.6h1.9v1.9h-1.9zM181.6 858.3h1.9v1.9h-1.9zM151.9 863.9h1.9v1.9h-1.9zM252.6 833.0h1.9v1.9h-1.9zM255.2 835.8h1.9v1.9h-1.9zM172.5 857.4h1.9v1.9h-1.9zM160.4 850.0h1.9v1.9h-1.9zM174.0 857.1h1.9v1.9h-1.9zM235.0 850.4h1.9v1.9h-1.9zM218.7 846.9h1.9v1.9h-1.9zM254.6 849.9h1.9v1.9h-1.9zM203.5 855.6h1.9v1.9h-1.9zM221.9 871.3h1.9v1.9h-1.9zM147.2 856.9h1.9v1.9h-1.9zM167.6 856.2h1.9v1.9h-1.9zM212.5 853.4h1.9v1.9h-1.9zM196.1 851.4h1.9v1.9h-1.9zM221.8 846.0h1.9v1.9h-1.9zM158.4 856.9h1.9v1.9h-1.9zM207.3 845.2h1.9v1.9h-1.9zM201.3 858.6h1.9v1.9h-1.9zM230.9 855.2h1.9v1.9h-1.9zM151.4 863.9h1.9v1.9h-1.9zM242.5 843.8h1.9v1.9h-1.9zM240.3 855.4h1.9v1.9h-1.9zM188.7 847.1h1.9v1.9h-1.9zM198.2 843.4h1.9v1.9h-1.9zM221.9 855.5h1.9v1.9h-1.9zM157.2 866.8h1.9v1.9h-1.9zM258.1 837.5h1.9v1.9h-1.9zM194.7 840.3h1.9v1.9h-1.9zM191.8 879.8h1.9v1.9h-1.9zM144.9 844.8h1.9v1.9h-1.9zM144.0 843.2h1.9v1.9h-1.9zM179.7 835.8h1.9v1.9h-1.9zM157.0 855.8h1.9v1.9h-1.9zM195.2 856.7h1.9v1.9h-1.9zM239.0 860.4h1.9v1.9h-1.9zM211.8 836.7h1.9v1.9h-1.9zM218.3 835.1h1.9v1.9h-1.9zM182.2 855.3h1.9v1.9h-1.9zM154.1 852.5h1.9v1.9h-1.9zM254.9 846.3h1.9v1.9h-1.9zM229.0 841.2h1.9v1.9h-1.9zM194.5 849.5h1.9v1.9h-1.9zM212.9 850.1h1.9v1.9h-1.9zM186.4 856.9h1.9v1.9h-1.9zM230.2 856.6h1.9v1.9h-1.9zM236.8 850.9h1.9v1.9h-1.9zM164.0 866.8h1.9v1.9h-1.9zM160.5 865.3h1.9v1.9h-1.9zM160.1 848.4h1.9v1.9h-1.9zM157.7 857.6h1.9v1.9h-1.9zM176.9 847.1h1.9v1.9h-1.9zM209.9 854.1h1.9v1.9h-1.9zM191.7 848.9h1.9v1.9h-1.9zM222.7 855.8h1.9v1.9h-1.9zM255.7 836.5h1.9v1.9h-1.9zM150.0 835.8h1.9v1.9h-1.9zM251.9 831.8h1.9v1.9h-1.9zM190.2 850.3h1.9v1.9h-1.9zM228.4 848.3h1.9v1.9h-1.9zM211.0 850.1h1.9v1.9h-1.9zM160.0 842.7h1.9v1.9h-1.9zM231.9 833.5h1.9v1.9h-1.9zM235.0 845.7h1.9v1.9h-1.9zM206.9 849.5h1.9v1.9h-1.9zM171.1 845.6h1.9v1.9h-1.9zM249.0 838.7h1.9v1.9h-1.9zM203.2 865.9h1.9v1.9h-1.9zM217.5 855.4h1.9v1.9h-1.9zM196.0 845.7h1.9v1.9h-1.9zM215.3 860.8h1.9v1.9h-1.9zM234.6 858.4h1.9v1.9h-1.9zM214.9 859.5h1.9v1.9h-1.9zM223.1 840.8h1.9v1.9h-1.9zM174.3 862.1h1.9v1.9h-1.9zM190.0 853.5h1.9v1.9h-1.9zM209.6 859.8h1.9v1.9h-1.9zM152.1 853.9h1.9v1.9h-1.9zM181.4 849.6h1.9v1.9h-1.9zM186.5 845.7h1.9v1.9h-1.9zM181.5 858.0h1.9v1.9h-1.9zM189.7 869.1h1.9v1.9h-1.9zM256.3 858.0h1.9v1.9h-1.9zM258.9 833.9h1.9v1.9h-1.9zM197.3 855.7h1.9v1.9h-1.9zM187.8 851.0h1.9v1.9h-1.9zM248.2 839.6h1.9v1.9h-1.9zM229.4 854.8h1.9v1.9h-1.9zM162.3 858.8h1.9v1.9h-1.9zM163.2 850.3h1.9v1.9h-1.9zM210.1 840.6h1.9v1.9h-1.9zM164.0 845.5h1.9v1.9h-1.9zM158.6 855.9h1.9v1.9h-1.9zM236.2 857.0h1.9v1.9h-1.9zM227.4 835.4h1.9v1.9h-1.9zM244.2 854.8h1.9v1.9h-1.9zM177.4 839.6h1.9v1.9h-1.9zM242.1 853.2h1.9v1.9h-1.9zM194.9 859.7h1.9v1.9h-1.9zM234.1 835.8h1.9v1.9h-1.9zM170.7 842.5h1.9v1.9h-1.9zM163.7 861.6h1.9v1.9h-1.9zM225.4 857.7h1.9v1.9h-1.9zM170.6 836.4h1.9v1.9h-1.9zM212.7 843.9h1.9v1.9h-1.9zM200.1 858.7h1.9v1.9h-1.9zM233.3 854.4h1.9v1.9h-1.9zM173.6 863.5h1.9v1.9h-1.9zM155.2 855.3h1.9v1.9h-1.9zM227.5 852.3h1.9v1.9h-1.9zM162.1 848.4h1.9v1.9h-1.9zM158.2 844.1h1.9v1.9h-1.9zM228.7 841.6h1.9v1.9h-1.9zM190.0 862.4h1.9v1.9h-1.9zM233.8 853.2h1.9v1.9h-1.9zM202.1 843.6h1.9v1.9h-1.9zM163.1 858.6h1.9v1.9h-1.9zM232.9 861.2h1.9v1.9h-1.9zM147.7 839.4h1.9v1.9h-1.9zM196.4 847.9h1.9v1.9h-1.9zM225.0 847.8h1.9v1.9h-1.9zM159.5 846.3h1.9v1.9h-1.9zM208.6 888.6h1.9v1.9h-1.9zM238.9 845.8h1.9v1.9h-1.9zM248.6 840.5h1.9v1.9h-1.9zM218.3 853.6h1.9v1.9h-1.9zM222.8 857.7h1.9v1.9h-1.9zM165.8 849.4h1.9v1.9h-1.9zM239.3 882.4h1.9v1.9h-1.9zM170.0 851.9h1.9v1.9h-1.9zM195.6 850.4h1.9v1.9h-1.9zM252.8 840.6h1.9v1.9h-1.9zM152.2 859.3h1.9v1.9h-1.9zM229.4 845.0h1.9v1.9h-1.9zM208.2 856.9h1.9v1.9h-1.9zM162.1 861.1h1.9v1.9h-1.9zM249.9 858.1h1.9v1.9h-1.9zM173.4 859.7h1.9v1.9h-1.9zM239.4 851.8h1.9v1.9h-1.9zM220.7 865.8h1.9v1.9h-1.9zM191.7 839.0h1.9v1.9h-1.9zM179.6 842.3h1.9v1.9h-1.9zM172.8 856.4h1.9v1.9h-1.9zM172.6 858.9h1.9v1.9h-1.9zM209.2 841.3h1.9v1.9h-1.9zM158.2 855.5h1.9v1.9h-1.9zM177.5 836.8h1.9v1.9h-1.9zM192.8 837.0h1.9v1.9h-1.9zM221.1 852.8h1.9v1.9h-1.9zM208.8 844.8h1.9v1.9h-1.9zM204.8 846.7h1.9v1.9h-1.9zM169.7 860.9h1.9v1.9h-1.9zM172.8 858.2h1.9v1.9h-1.9zM203.6 842.0h1.9v1.9h-1.9zM253.9 847.6h1.9v1.9h-1.9zM174.5 852.4h1.9v1.9h-1.9zM252.0 849.3h1.9v1.9h-1.9zM217.6 864.6h1.9v1.9h-1.9zM150.3 865.8h1.9v1.9h-1.9zM162.6 854.4h1.9v1.9h-1.9zM222.3 862.9h1.9v1.9h-1.9zM217.1 841.1h1.9v1.9h-1.9zM245.5 856.8h1.9v1.9h-1.9zM168.6 854.2h1.9v1.9h-1.9zM218.9 861.5h1.9v1.9h-1.9zM213.5 836.1h1.9v1.9h-1.9zM226.6 859.6h1.9v1.9h-1.9zM163.8 854.5h1.9v1.9h-1.9zM186.4 854.9h1.9v1.9h-1.9zM249.4 848.1h1.9v1.9h-1.9zM201.6 850.6h1.9v1.9h-1.9zM222.9 872.4h1.9v1.9h-1.9zM250.0 849.0h1.9v1.9h-1.9zM184.3 847.5h1.9v1.9h-1.9zM233.9 835.8h1.9v1.9h-1.9zM151.3 847.4h1.9v1.9h-1.9zM206.3 859.6h1.9v1.9h-1.9zM242.4 843.3h1.9v1.9h-1.9zM215.2 860.3h1.9v1.9h-1.9zM156.4 849.9h1.9v1.9h-1.9zM182.3 843.4h1.9v1.9h-1.9zM252.6 849.7h1.9v1.9h-1.9zM156.2 862.7h1.9v1.9h-1.9zM217.0 839.4h1.9v1.9h-1.9zM208.0 855.1h1.9v1.9h-1.9zM184.7 872.0h1.9v1.9h-1.9zM162.0 851.6h1.9v1.9h-1.9zM208.7 837.7h1.9v1.9h-1.9zM163.8 851.9h1.9v1.9h-1.9zM260.2 835.7h1.9v1.9h-1.9zM181.7 849.6h1.9v1.9h-1.9zM183.6 851.2h1.9v1.9h-1.9zM191.7 853.5h1.9v1.9h-1.9zM214.4 850.8h1.9v1.9h-1.9zM184.6 854.5h1.9v1.9h-1.9zM193.6 839.8h1.9v1.9h-1.9zM169.2 840.7h1.9v1.9h-1.9zM163.0 868.9h1.9v1.9h-1.9zM189.5 857.0h1.9v1.9h-1.9zM201.0 864.5h1.9v1.9h-1.9zM260.2 853.3h1.9v1.9h-1.9zM232.2 840.1h1.9v1.9h-1.9zM218.4 843.0h1.9v1.9h-1.9zM199.4 853.2h1.9v1.9h-1.9zM198.6 833.4h1.9v1.9h-1.9zM164.3 857.3h1.9v1.9h-1.9zM239.4 844.2h1.9v1.9h-1.9zM152.7 866.8h1.9v1.9h-1.9zM227.5 858.0h1.9v1.9h-1.9zM193.0 843.2h1.9v1.9h-1.9zM179.4 859.8h1.9v1.9h-1.9zM258.7 839.1h1.9v1.9h-1.9zM172.0 852.3h1.9v1.9h-1.9zM215.1 861.8h1.9v1.9h-1.9zM233.0 859.9h1.9v1.9h-1.9zM182.5 857.6h1.9v1.9h-1.9zM144.4 867.9h1.9v1.9h-1.9zM232.0 835.9h1.9v1.9h-1.9zM245.3 852.4h1.9v1.9h-1.9zM212.7 853.4h1.9v1.9h-1.9zM197.1 843.2h1.9v1.9h-1.9zM205.6 871.2h1.9v1.9h-1.9zM143.3 878.7h1.9v1.9h-1.9zM226.2 855.8h1.9v1.9h-1.9zM148.7 863.1h1.9v1.9h-1.9zM242.1 842.7h1.9v1.9h-1.9zM163.2 853.9h1.9v1.9h-1.9zM256.9 860.8h1.9v1.9h-1.9zM236.3 863.7h1.9v1.9h-1.9zM168.6 862.0h1.9v1.9h-1.9zM228.3 848.3h1.9v1.9h-1.9zM243.4 848.7h1.9v1.9h-1.9zM244.6 843.7h1.9v1.9h-1.9zM212.8 855.6h1.9v1.9h-1.9zM201.9 848.8h1.9v1.9h-1.9zM163.0 852.5h1.9v1.9h-1.9zM167.0 840.6h1.9v1.9h-1.9zM198.1 842.2h1.9v1.9h-1.9zM155.4 853.7h1.9v1.9h-1.9zM212.0 839.1h1.9v1.9h-1.9zM224.9 844.4h1.9v1.9h-1.9zM150.3 847.8h1.9v1.9h-1.9zM251.0 847.4h1.9v1.9h-1.9zM167.5 838.0h1.9v1.9h-1.9zM210.4 860.3h1.9v1.9h-1.9zM222.0 864.7h1.9v1.9h-1.9zM174.1 865.3h1.9v1.9h-1.9zM146.2 865.0h1.9v1.9h-1.9zM254.9 847.3h1.9v1.9h-1.9zM253.2 845.1h1.9v1.9h-1.9zM224.8 852.0h1.9v1.9h-1.9zM181.2 873.6h1.9v1.9h-1.9zM230.3 847.3h1.9v1.9h-1.9zM244.3 838.2h1.9v1.9h-1.9zM202.7 844.5h1.9v1.9h-1.9zM198.7 858.9h1.9v1.9h-1.9zM143.9 855.4h1.9v1.9h-1.9zM186.4 873.8h1.9v1.9h-1.9zM191.1 851.2h1.9v1.9h-1.9zM183.1 863.2h1.9v1.9h-1.9zM154.7 849.2h1.9v1.9h-1.9zM161.7 842.6h1.9v1.9h-1.9zM218.9 851.9h1.9v1.9h-1.9zM230.6 849.2h1.9v1.9h-1.9zM230.3 858.4h1.9v1.9h-1.9zM258.6 842.4h1.9v1.9h-1.9zM240.9 858.7h1.9v1.9h-1.9zM151.0 854.9h1.9v1.9h-1.9zM211.1 839.3h1.9v1.9h-1.9zM194.1 857.4h1.9v1.9h-1.9zM167.5 862.7h1.9v1.9h-1.9zM144.0 856.9h1.9v1.9h-1.9zM230.4 845.9h1.9v1.9h-1.9zM175.1 836.8h1.9v1.9h-1.9zM261.2 843.3h1.9v1.9h-1.9zM188.6 855.0h1.9v1.9h-1.9zM240.2 844.8h1.9v1.9h-1.9zM184.1 864.0h1.9v1.9h-1.9zM220.3 852.6h1.9v1.9h-1.9zM185.0 863.3h1.9v1.9h-1.9zM194.0 845.2h1.9v1.9h-1.9zM171.5 854.1h1.9v1.9h-1.9zM196.8 869.2h1.9v1.9h-1.9zM201.1 835.6h1.9v1.9h-1.9zM223.2 854.4h1.9v1.9h-1.9zM184.4 854.8h1.9v1.9h-1.9zM181.9 861.6h1.9v1.9h-1.9zM214.6 861.2h1.9v1.9h-1.9zM218.9 843.4h1.9v1.9h-1.9zM198.8 841.1h1.9v1.9h-1.9zM197.3 842.4h1.9v1.9h-1.9zM190.3 855.3h1.9v1.9h-1.9zM172.5 857.5h1.9v1.9h-1.9zM185.3 846.6h1.9v1.9h-1.9zM219.9 846.7h1.9v1.9h-1.9zM149.6 866.7h1.9v1.9h-1.9zM233.3 850.5h1.9v1.9h-1.9zM218.1 855.2h1.9v1.9h-1.9zM246.2 840.9h1.9v1.9h-1.9zM251.1 834.0h1.9v1.9h-1.9zM245.1 857.4h1.9v1.9h-1.9zM260.9 847.9h1.9v1.9h-1.9zM244.9 848.7h1.9v1.9h-1.9zM203.8 837.2h1.9v1.9h-1.9zM233.8 866.2h1.9v1.9h-1.9zM244.7 855.6h1.9v1.9h-1.9zM194.4 868.4h1.9v1.9h-1.9zM226.9 856.2h1.9v1.9h-1.9zM185.0 848.6h1.9v1.9h-1.9zM219.3 848.3h1.9v1.9h-1.9zM158.6 873.1h1.9v1.9h-1.9zM204.3 853.3h1.9v1.9h-1.9zM251.5 860.4h1.9v1.9h-1.9zM207.7 839.4h1.9v1.9h-1.9zM218.7 835.5h1.9v1.9h-1.9zM158.3 841.2h1.9v1.9h-1.9zM150.7 862.0h1.9v1.9h-1.9zM207.0 842.9h1.9v1.9h-1.9zM195.3 861.4h1.9v1.9h-1.9zM172.1 841.4h1.9v1.9h-1.9zM162.9 852.2h1.9v1.9h-1.9zM150.0 857.1h1.9v1.9h-1.9zM182.8 852.4h1.9v1.9h-1.9zM147.4 846.1h1.9v1.9h-1.9zM248.0 850.2h1.9v1.9h-1.9zM238.4 850.9h1.9v1.9h-1.9zM202.1 861.2h1.9v1.9h-1.9zM217.4 846.2h1.9v1.9h-1.9zM196.6 850.0h1.9v1.9h-1.9zM150.5 858.7h1.9v1.9h-1.9zM174.2 838.0h1.9v1.9h-1.9zM229.9 852.2h1.9v1.9h-1.9zM158.5 843.1h1.9v1.9h-1.9zM250.2 852.2h1.9v1.9h-1.9zM204.2 864.8h1.9v1.9h-1.9zM153.3 856.5h1.9v1.9h-1.9zM182.1 848.1h1.9v1.9h-1.9zM256.6 836.6h1.9v1.9h-1.9zM229.5 835.1h1.9v1.9h-1.9zM228.2 850.2h1.9v1.9h-1.9zM154.6 850.1h1.9v1.9h-1.9zM204.5 870.9h1.9v1.9h-1.9zM156.0 866.5h1.9v1.9h-1.9zM222.5 853.0h1.9v1.9h-1.9zM186.4 853.4h1.9v1.9h-1.9zM147.6 866.7h1.9v1.9h-1.9zM213.3 838.0h1.9v1.9h-1.9zM182.0 847.7h1.9v1.9h-1.9zM199.1 855.9h1.9v1.9h-1.9zM253.2 839.0h1.9v1.9h-1.9zM237.5 837.5h1.9v1.9h-1.9zM233.8 853.6h1.9v1.9h-1.9zM149.2 842.8h1.9v1.9h-1.9zM157.3 858.8h1.9v1.9h-1.9zM256.7 837.8h1.9v1.9h-1.9zM208.2 841.3h1.9v1.9h-1.9zM205.5 843.0h1.9v1.9h-1.9zM144.7 839.6h1.9v1.9h-1.9zM199.7 841.7h1.9v1.9h-1.9zM238.4 846.6h1.9v1.9h-1.9zM234.2 861.6h1.9v1.9h-1.9zM217.0 845.4h1.9v1.9h-1.9zM161.5 864.4h1.9v1.9h-1.9zM239.3 860.0h1.9v1.9h-1.9zM200.6 843.5h1.9v1.9h-1.9zM232.6 862.0h1.9v1.9h-1.9zM198.0 856.0h1.9v1.9h-1.9zM154.8 845.6h1.9v1.9h-1.9zM231.1 849.8h1.9v1.9h-1.9zM227.4 858.8h1.9v1.9h-1.9zM216.9 839.6h1.9v1.9h-1.9zM158.2 863.8h1.9v1.9h-1.9zM194.4 849.9h1.9v1.9h-1.9zM216.2 858.6h1.9v1.9h-1.9zM204.0 855.4h1.9v1.9h-1.9zM256.2 842.5h1.9v1.9h-1.9zM232.9 857.9h1.9v1.9h-1.9zM194.8 865.6h1.9v1.9h-1.9zM223.7 853.3h1.9v1.9h-1.9zM198.3 855.2h1.9v1.9h-1.9zM150.3 849.7h1.9v1.9h-1.9zM166.9 840.5h1.9v1.9h-1.9zM164.8 844.5h1.9v1.9h-1.9zM185.4 842.5h1.9v1.9h-1.9zM226.3 839.7h1.9v1.9h-1.9zM146.9 843.5h1.9v1.9h-1.9zM195.9 862.9h1.9v1.9h-1.9zM151.7 854.4h1.9v1.9h-1.9zM242.6 856.3h1.9v1.9h-1.9zM198.4 846.2h1.9v1.9h-1.9zM216.4 845.7h1.9v1.9h-1.9zM227.1 855.4h1.9v1.9h-1.9zM253.3 856.4h1.9v1.9h-1.9zM146.2 854.8h1.9v1.9h-1.9zM253.0 840.3h1.9v1.9h-1.9zM256.3 843.7h1.9v1.9h-1.9zM182.0 842.3h1.9v1.9h-1.9zM254.2 839.6h1.9v1.9h-1.9zM235.0 871.5h1.9v1.9h-1.9zM195.8 841.0h1.9v1.9h-1.9zM214.4 854.1h1.9v1.9h-1.9zM155.4 863.2h1.9v1.9h-1.9zM260.8 844.2h1.9v1.9h-1.9zM180.0 866.6h1.9v1.9h-1.9zM163.1 836.9h1.9v1.9h-1.9zM154.8 847.1h1.9v1.9h-1.9zM161.1 858.0h1.9v1.9h-1.9zM212.0 845.6h1.9v1.9h-1.9zM200.3 852.0h1.9v1.9h-1.9zM146.5 839.0h1.9v1.9h-1.9zM249.5 840.1h1.9v1.9h-1.9zM186.5 871.2h1.9v1.9h-1.9zM239.1 847.6h1.9v1.9h-1.9zM150.3 845.9h1.9v1.9h-1.9zM254.6 848.4h1.9v1.9h-1.9zM197.2 837.0h1.9v1.9h-1.9zM178.5 867.9h1.9v1.9h-1.9zM201.7 854.8h1.9v1.9h-1.9zM210.0 850.1h1.9v1.9h-1.9zM209.4 843.7h1.9v1.9h-1.9zM200.9 856.6h1.9v1.9h-1.9zM213.1 851.6h1.9v1.9h-1.9zM183.1 848.8h1.9v1.9h-1.9zM172.9 857.5h1.9v1.9h-1.9zM197.9 837.2h1.9v1.9h-1.9zM259.7 833.9h1.9v1.9h-1.9zM223.9 876.6h1.9v1.9h-1.9zM209.4 851.7h1.9v1.9h-1.9zM244.3 843.1h1.9v1.9h-1.9zM188.8 865.8h1.9v1.9h-1.9zM204.5 854.9h1.9v1.9h-1.9zM226.4 856.6h1.9v1.9h-1.9z" fill="#a8f000"/>
<path d="M179.9 870.4h1.9v1.9h-1.9zM260.7 847.8h1.9v1.9h-1.9zM217.3 855.4h1.9v1.9h-1.9zM247.7 854.5h1.9v1.9h-1.9zM238.8 869.3h1.9v1.9h-1.9zM257.9 853.0h1.9v1.9h-1.9zM165.4 854.1h1.9v1.9h-1.9zM229.8 850.4h1.9v1.9h-1.9zM166.5 862.9h1.9v1.9h-1.9zM181.2 860.3h1.9v1.9h-1.9zM227.0 859.2h1.9v1.9h-1.9zM259.3 855.1h1.9v1.9h-1.9zM220.4 866.4h1.9v1.9h-1.9zM228.1 873.3h1.9v1.9h-1.9zM213.9 883.0h1.9v1.9h-1.9zM203.0 865.6h1.9v1.9h-1.9zM215.9 861.9h1.9v1.9h-1.9zM229.1 861.1h1.9v1.9h-1.9zM159.9 859.3h1.9v1.9h-1.9zM246.7 866.9h1.9v1.9h-1.9zM175.6 873.5h1.9v1.9h-1.9zM153.9 869.1h1.9v1.9h-1.9zM240.6 854.3h1.9v1.9h-1.9zM229.6 856.9h1.9v1.9h-1.9zM260.2 845.8h1.9v1.9h-1.9zM248.8 855.7h1.9v1.9h-1.9zM212.3 861.1h1.9v1.9h-1.9zM220.0 853.0h1.9v1.9h-1.9zM244.0 856.2h1.9v1.9h-1.9zM213.5 856.3h1.9v1.9h-1.9zM174.4 871.6h1.9v1.9h-1.9zM260.5 838.7h1.9v1.9h-1.9zM254.3 871.6h1.9v1.9h-1.9zM184.3 858.3h1.9v1.9h-1.9zM190.2 866.4h1.9v1.9h-1.9zM246.8 854.9h1.9v1.9h-1.9zM146.3 864.1h1.9v1.9h-1.9zM180.6 862.9h1.9v1.9h-1.9zM217.2 854.0h1.9v1.9h-1.9zM219.2 850.5h1.9v1.9h-1.9zM246.3 854.9h1.9v1.9h-1.9zM179.5 855.1h1.9v1.9h-1.9zM157.2 874.6h1.9v1.9h-1.9zM239.6 878.9h1.9v1.9h-1.9zM148.2 867.0h1.9v1.9h-1.9zM157.1 867.0h1.9v1.9h-1.9zM159.0 866.5h1.9v1.9h-1.9zM208.0 835.0h1.9v1.9h-1.9zM260.4 861.3h1.9v1.9h-1.9zM214.3 848.3h1.9v1.9h-1.9zM157.4 889.1h1.9v1.9h-1.9zM241.7 855.1h1.9v1.9h-1.9zM149.0 858.0h1.9v1.9h-1.9zM167.9 872.3h1.9v1.9h-1.9zM260.2 849.0h1.9v1.9h-1.9zM208.6 852.0h1.9v1.9h-1.9zM256.7 859.4h1.9v1.9h-1.9zM143.6 852.6h1.9v1.9h-1.9zM250.8 846.7h1.9v1.9h-1.9zM243.0 843.2h1.9v1.9h-1.9zM243.3 846.0h1.9v1.9h-1.9zM157.3 861.5h1.9v1.9h-1.9zM254.0 839.8h1.9v1.9h-1.9zM227.2 880.4h1.9v1.9h-1.9zM220.7 858.8h1.9v1.9h-1.9zM191.2 879.0h1.9v1.9h-1.9zM260.8 859.6h1.9v1.9h-1.9zM206.1 870.6h1.9v1.9h-1.9zM236.8 862.9h1.9v1.9h-1.9zM248.7 855.4h1.9v1.9h-1.9zM159.8 866.4h1.9v1.9h-1.9zM170.9 874.4h1.9v1.9h-1.9zM250.9 849.0h1.9v1.9h-1.9zM240.4 888.4h1.9v1.9h-1.9zM201.0 862.1h1.9v1.9h-1.9zM150.3 860.7h1.9v1.9h-1.9zM188.6 858.4h1.9v1.9h-1.9zM218.6 859.0h1.9v1.9h-1.9zM152.9 866.7h1.9v1.9h-1.9zM232.9 840.0h1.9v1.9h-1.9zM153.6 880.1h1.9v1.9h-1.9zM228.1 855.1h1.9v1.9h-1.9zM163.5 871.6h1.9v1.9h-1.9zM182.2 857.8h1.9v1.9h-1.9zM251.1 842.4h1.9v1.9h-1.9zM188.9 862.8h1.9v1.9h-1.9zM210.4 869.3h1.9v1.9h-1.9zM167.6 867.7h1.9v1.9h-1.9zM177.7 849.1h1.9v1.9h-1.9zM252.5 862.3h1.9v1.9h-1.9zM195.2 859.4h1.9v1.9h-1.9zM216.6 866.3h1.9v1.9h-1.9zM170.5 871.3h1.9v1.9h-1.9zM239.6 864.6h1.9v1.9h-1.9zM224.0 855.2h1.9v1.9h-1.9zM154.2 866.3h1.9v1.9h-1.9zM203.2 850.2h1.9v1.9h-1.9zM252.4 854.3h1.9v1.9h-1.9zM224.4 848.5h1.9v1.9h-1.9zM259.2 847.7h1.9v1.9h-1.9zM185.5 852.5h1.9v1.9h-1.9zM156.6 845.4h1.9v1.9h-1.9zM203.7 865.1h1.9v1.9h-1.9zM235.0 881.9h1.9v1.9h-1.9zM163.0 874.9h1.9v1.9h-1.9zM176.2 851.6h1.9v1.9h-1.9zM219.9 835.2h1.9v1.9h-1.9zM159.8 866.3h1.9v1.9h-1.9zM239.7 886.9h1.9v1.9h-1.9zM192.1 848.7h1.9v1.9h-1.9zM217.0 876.3h1.9v1.9h-1.9zM174.4 869.1h1.9v1.9h-1.9zM155.1 862.4h1.9v1.9h-1.9zM261.2 842.9h1.9v1.9h-1.9zM211.7 864.3h1.9v1.9h-1.9zM199.5 852.4h1.9v1.9h-1.9zM186.4 850.8h1.9v1.9h-1.9zM229.5 866.9h1.9v1.9h-1.9zM191.5 866.2h1.9v1.9h-1.9zM179.8 861.5h1.9v1.9h-1.9zM231.3 855.9h1.9v1.9h-1.9zM197.6 856.5h1.9v1.9h-1.9zM222.7 861.4h1.9v1.9h-1.9zM234.8 855.9h1.9v1.9h-1.9zM194.9 874.0h1.9v1.9h-1.9zM261.4 833.0h1.9v1.9h-1.9zM249.1 840.2h1.9v1.9h-1.9zM151.4 864.7h1.9v1.9h-1.9zM257.1 861.3h1.9v1.9h-1.9zM188.6 864.7h1.9v1.9h-1.9zM176.6 861.9h1.9v1.9h-1.9zM195.4 879.7h1.9v1.9h-1.9zM198.3 847.1h1.9v1.9h-1.9zM211.2 859.8h1.9v1.9h-1.9zM163.5 854.3h1.9v1.9h-1.9zM226.7 867.8h1.9v1.9h-1.9zM227.7 857.0h1.9v1.9h-1.9zM183.8 862.4h1.9v1.9h-1.9zM180.6 848.7h1.9v1.9h-1.9zM157.3 876.5h1.9v1.9h-1.9zM214.0 859.9h1.9v1.9h-1.9zM179.7 855.0h1.9v1.9h-1.9zM233.9 867.4h1.9v1.9h-1.9zM258.8 834.6h1.9v1.9h-1.9zM252.8 856.2h1.9v1.9h-1.9zM188.6 853.3h1.9v1.9h-1.9zM206.9 856.4h1.9v1.9h-1.9zM205.1 862.3h1.9v1.9h-1.9zM150.9 867.7h1.9v1.9h-1.9zM205.6 856.1h1.9v1.9h-1.9zM248.8 841.2h1.9v1.9h-1.9zM199.2 858.7h1.9v1.9h-1.9zM197.4 851.8h1.9v1.9h-1.9zM243.1 854.1h1.9v1.9h-1.9zM245.1 854.1h1.9v1.9h-1.9zM201.6 868.8h1.9v1.9h-1.9zM198.9 866.3h1.9v1.9h-1.9zM232.9 868.3h1.9v1.9h-1.9zM214.4 857.9h1.9v1.9h-1.9zM257.1 853.3h1.9v1.9h-1.9zM202.9 885.7h1.9v1.9h-1.9zM148.1 868.8h1.9v1.9h-1.9zM231.7 861.9h1.9v1.9h-1.9zM164.7 867.0h1.9v1.9h-1.9zM178.9 872.8h1.9v1.9h-1.9zM240.7 858.1h1.9v1.9h-1.9zM177.9 839.6h1.9v1.9h-1.9zM205.9 881.1h1.9v1.9h-1.9zM251.5 859.3h1.9v1.9h-1.9zM220.6 889.9h1.9v1.9h-1.9zM186.2 862.6h1.9v1.9h-1.9zM231.6 857.5h1.9v1.9h-1.9zM150.5 870.8h1.9v1.9h-1.9zM221.7 841.8h1.9v1.9h-1.9zM186.3 846.6h1.9v1.9h-1.9zM253.3 834.5h1.9v1.9h-1.9zM176.4 863.5h1.9v1.9h-1.9zM173.1 862.3h1.9v1.9h-1.9zM252.5 862.4h1.9v1.9h-1.9zM176.0 861.2h1.9v1.9h-1.9zM194.0 861.5h1.9v1.9h-1.9zM186.6 889.8h1.9v1.9h-1.9zM169.6 865.5h1.9v1.9h-1.9zM229.0 879.4h1.9v1.9h-1.9zM188.9 857.5h1.9v1.9h-1.9zM164.7 840.1h1.9v1.9h-1.9zM203.9 863.2h1.9v1.9h-1.9zM206.4 859.3h1.9v1.9h-1.9zM145.7 859.3h1.9v1.9h-1.9zM168.5 869.4h1.9v1.9h-1.9zM157.5 853.6h1.9v1.9h-1.9zM248.3 858.3h1.9v1.9h-1.9zM178.8 867.0h1.9v1.9h-1.9zM167.3 873.5h1.9v1.9h-1.9zM170.3 848.9h1.9v1.9h-1.9zM168.0 857.3h1.9v1.9h-1.9zM204.8 860.2h1.9v1.9h-1.9zM260.2 854.0h1.9v1.9h-1.9zM257.1 843.2h1.9v1.9h-1.9zM254.9 852.9h1.9v1.9h-1.9zM158.6 851.9h1.9v1.9h-1.9zM212.7 851.3h1.9v1.9h-1.9zM168.8 884.2h1.9v1.9h-1.9zM151.6 859.6h1.9v1.9h-1.9zM260.0 848.8h1.9v1.9h-1.9zM227.0 877.4h1.9v1.9h-1.9zM247.7 851.8h1.9v1.9h-1.9zM215.8 864.5h1.9v1.9h-1.9zM242.1 866.6h1.9v1.9h-1.9zM203.0 864.0h1.9v1.9h-1.9zM197.5 875.6h1.9v1.9h-1.9zM224.2 881.5h1.9v1.9h-1.9zM197.4 879.8h1.9v1.9h-1.9zM239.4 874.4h1.9v1.9h-1.9zM154.3 860.4h1.9v1.9h-1.9zM233.8 863.3h1.9v1.9h-1.9zM223.8 867.4h1.9v1.9h-1.9zM216.0 868.1h1.9v1.9h-1.9zM188.5 867.1h1.9v1.9h-1.9zM166.7 873.1h1.9v1.9h-1.9zM163.0 876.4h1.9v1.9h-1.9zM211.4 867.0h1.9v1.9h-1.9zM180.8 883.3h1.9v1.9h-1.9zM208.2 860.3h1.9v1.9h-1.9zM224.2 864.7h1.9v1.9h-1.9zM201.3 869.7h1.9v1.9h-1.9zM238.3 861.4h1.9v1.9h-1.9zM152.4 877.5h1.9v1.9h-1.9zM155.4 869.5h1.9v1.9h-1.9zM154.4 856.1h1.9v1.9h-1.9zM221.5 879.7h1.9v1.9h-1.9zM252.5 839.6h1.9v1.9h-1.9zM209.9 861.6h1.9v1.9h-1.9zM168.1 864.7h1.9v1.9h-1.9zM188.8 863.7h1.9v1.9h-1.9zM182.7 861.4h1.9v1.9h-1.9zM196.4 866.4h1.9v1.9h-1.9zM252.9 847.5h1.9v1.9h-1.9zM214.2 847.1h1.9v1.9h-1.9zM191.6 852.6h1.9v1.9h-1.9zM234.8 855.9h1.9v1.9h-1.9zM197.2 880.4h1.9v1.9h-1.9zM162.9 873.5h1.9v1.9h-1.9zM236.9 874.1h1.9v1.9h-1.9zM195.3 860.4h1.9v1.9h-1.9zM190.8 865.9h1.9v1.9h-1.9zM165.8 855.6h1.9v1.9h-1.9zM220.9 886.0h1.9v1.9h-1.9zM178.4 860.6h1.9v1.9h-1.9zM197.2 871.8h1.9v1.9h-1.9zM260.2 839.7h1.9v1.9h-1.9zM164.3 869.8h1.9v1.9h-1.9zM253.1 871.2h1.9v1.9h-1.9zM161.7 837.4h1.9v1.9h-1.9zM240.0 875.6h1.9v1.9h-1.9zM145.1 857.3h1.9v1.9h-1.9zM235.2 869.3h1.9v1.9h-1.9zM196.8 869.6h1.9v1.9h-1.9zM178.5 855.7h1.9v1.9h-1.9zM221.6 847.2h1.9v1.9h-1.9zM194.4 891.7h1.9v1.9h-1.9zM253.6 861.5h1.9v1.9h-1.9zM254.0 853.3h1.9v1.9h-1.9zM222.9 868.7h1.9v1.9h-1.9zM232.8 842.6h1.9v1.9h-1.9zM162.7 885.9h1.9v1.9h-1.9zM182.9 866.1h1.9v1.9h-1.9zM256.5 857.1h1.9v1.9h-1.9zM198.1 870.0h1.9v1.9h-1.9zM231.1 851.5h1.9v1.9h-1.9zM254.8 842.2h1.9v1.9h-1.9zM152.4 861.1h1.9v1.9h-1.9zM163.6 853.3h1.9v1.9h-1.9zM259.0 856.5h1.9v1.9h-1.9zM255.1 831.7h1.9v1.9h-1.9zM164.5 862.4h1.9v1.9h-1.9zM200.1 855.2h1.9v1.9h-1.9zM211.0 867.5h1.9v1.9h-1.9zM159.3 855.6h1.9v1.9h-1.9zM251.0 847.8h1.9v1.9h-1.9zM197.1 854.4h1.9v1.9h-1.9zM253.0 850.1h1.9v1.9h-1.9zM144.1 866.0h1.9v1.9h-1.9zM189.7 887.7h1.9v1.9h-1.9zM166.8 864.3h1.9v1.9h-1.9zM169.3 871.0h1.9v1.9h-1.9zM179.2 886.2h1.9v1.9h-1.9zM209.1 864.3h1.9v1.9h-1.9zM250.8 847.3h1.9v1.9h-1.9zM162.5 864.2h1.9v1.9h-1.9zM200.1 867.7h1.9v1.9h-1.9zM216.6 863.7h1.9v1.9h-1.9zM252.3 840.8h1.9v1.9h-1.9zM232.0 865.2h1.9v1.9h-1.9zM218.0 864.1h1.9v1.9h-1.9zM234.8 865.7h1.9v1.9h-1.9zM159.9 863.8h1.9v1.9h-1.9zM171.1 866.5h1.9v1.9h-1.9zM202.7 867.6h1.9v1.9h-1.9zM222.4 836.2h1.9v1.9h-1.9zM179.3 878.3h1.9v1.9h-1.9zM193.7 849.2h1.9v1.9h-1.9zM239.7 851.9h1.9v1.9h-1.9zM231.6 862.1h1.9v1.9h-1.9zM228.3 845.7h1.9v1.9h-1.9zM187.5 847.7h1.9v1.9h-1.9zM250.1 857.7h1.9v1.9h-1.9zM145.9 861.4h1.9v1.9h-1.9zM235.3 837.6h1.9v1.9h-1.9zM203.5 867.6h1.9v1.9h-1.9zM221.8 874.2h1.9v1.9h-1.9zM246.1 860.8h1.9v1.9h-1.9zM155.9 845.1h1.9v1.9h-1.9zM169.8 868.7h1.9v1.9h-1.9zM149.7 853.3h1.9v1.9h-1.9zM217.4 858.3h1.9v1.9h-1.9zM151.4 867.5h1.9v1.9h-1.9zM257.9 846.9h1.9v1.9h-1.9zM161.2 870.8h1.9v1.9h-1.9zM152.6 857.5h1.9v1.9h-1.9zM248.6 867.8h1.9v1.9h-1.9zM214.9 864.3h1.9v1.9h-1.9zM185.3 860.6h1.9v1.9h-1.9zM149.6 861.7h1.9v1.9h-1.9zM206.9 859.4h1.9v1.9h-1.9zM143.6 873.2h1.9v1.9h-1.9zM199.8 867.1h1.9v1.9h-1.9zM246.5 869.9h1.9v1.9h-1.9zM151.4 837.2h1.9v1.9h-1.9zM186.1 876.4h1.9v1.9h-1.9zM256.4 851.4h1.9v1.9h-1.9zM241.4 860.7h1.9v1.9h-1.9zM211.0 857.2h1.9v1.9h-1.9zM257.5 858.7h1.9v1.9h-1.9zM216.6 869.6h1.9v1.9h-1.9zM245.1 837.8h1.9v1.9h-1.9zM229.2 859.1h1.9v1.9h-1.9zM156.4 876.8h1.9v1.9h-1.9zM171.7 860.4h1.9v1.9h-1.9zM155.8 855.5h1.9v1.9h-1.9zM157.4 866.4h1.9v1.9h-1.9zM167.8 860.6h1.9v1.9h-1.9zM244.0 886.5h1.9v1.9h-1.9zM150.3 854.4h1.9v1.9h-1.9zM251.6 859.5h1.9v1.9h-1.9zM184.5 859.1h1.9v1.9h-1.9zM217.9 850.1h1.9v1.9h-1.9zM170.0 858.0h1.9v1.9h-1.9zM154.8 866.2h1.9v1.9h-1.9zM154.6 873.9h1.9v1.9h-1.9zM249.4 853.7h1.9v1.9h-1.9zM144.5 854.9h1.9v1.9h-1.9zM228.7 868.7h1.9v1.9h-1.9zM242.7 865.4h1.9v1.9h-1.9zM215.0 860.7h1.9v1.9h-1.9zM181.4 857.0h1.9v1.9h-1.9zM213.5 877.6h1.9v1.9h-1.9zM235.7 860.9h1.9v1.9h-1.9zM150.8 839.5h1.9v1.9h-1.9zM159.6 856.1h1.9v1.9h-1.9zM226.1 887.9h1.9v1.9h-1.9zM223.1 856.7h1.9v1.9h-1.9zM186.4 880.3h1.9v1.9h-1.9zM179.9 850.0h1.9v1.9h-1.9zM185.3 859.0h1.9v1.9h-1.9zM258.8 853.5h1.9v1.9h-1.9zM257.8 838.3h1.9v1.9h-1.9zM253.0 856.2h1.9v1.9h-1.9zM220.4 862.9h1.9v1.9h-1.9zM260.8 851.7h1.9v1.9h-1.9zM258.0 851.7h1.9v1.9h-1.9zM194.5 848.4h1.9v1.9h-1.9zM181.5 868.2h1.9v1.9h-1.9zM150.0 875.1h1.9v1.9h-1.9zM255.7 859.6h1.9v1.9h-1.9zM249.8 838.7h1.9v1.9h-1.9zM166.7 858.6h1.9v1.9h-1.9zM233.7 869.2h1.9v1.9h-1.9zM196.0 850.0h1.9v1.9h-1.9zM256.8 843.9h1.9v1.9h-1.9zM226.7 860.4h1.9v1.9h-1.9zM208.3 861.5h1.9v1.9h-1.9zM193.8 867.2h1.9v1.9h-1.9zM201.4 863.9h1.9v1.9h-1.9zM193.1 866.7h1.9v1.9h-1.9zM173.6 868.6h1.9v1.9h-1.9zM162.7 869.1h1.9v1.9h-1.9zM210.6 879.2h1.9v1.9h-1.9zM259.5 844.1h1.9v1.9h-1.9zM215.1 848.9h1.9v1.9h-1.9zM147.4 873.4h1.9v1.9h-1.9zM174.6 868.5h1.9v1.9h-1.9zM217.8 867.8h1.9v1.9h-1.9zM195.0 845.7h1.9v1.9h-1.9zM238.2 856.4h1.9v1.9h-1.9zM172.7 862.4h1.9v1.9h-1.9zM183.9 852.5h1.9v1.9h-1.9zM210.0 858.5h1.9v1.9h-1.9zM199.0 852.0h1.9v1.9h-1.9zM175.7 860.1h1.9v1.9h-1.9zM241.4 883.5h1.9v1.9h-1.9zM260.1 855.5h1.9v1.9h-1.9zM255.7 845.2h1.9v1.9h-1.9zM232.5 851.3h1.9v1.9h-1.9zM150.9 864.9h1.9v1.9h-1.9zM213.5 858.6h1.9v1.9h-1.9zM144.2 848.4h1.9v1.9h-1.9zM211.8 873.8h1.9v1.9h-1.9zM151.8 865.6h1.9v1.9h-1.9zM248.6 866.8h1.9v1.9h-1.9zM241.0 858.8h1.9v1.9h-1.9zM257.5 858.5h1.9v1.9h-1.9zM173.2 863.3h1.9v1.9h-1.9zM186.0 856.3h1.9v1.9h-1.9zM178.9 877.1h1.9v1.9h-1.9zM193.6 854.9h1.9v1.9h-1.9zM192.0 870.6h1.9v1.9h-1.9zM261.7 859.2h1.9v1.9h-1.9zM259.9 853.2h1.9v1.9h-1.9zM238.2 859.7h1.9v1.9h-1.9zM200.4 848.2h1.9v1.9h-1.9zM256.9 874.2h1.9v1.9h-1.9zM183.0 855.9h1.9v1.9h-1.9zM225.6 868.8h1.9v1.9h-1.9zM225.2 853.1h1.9v1.9h-1.9zM178.6 869.6h1.9v1.9h-1.9zM233.8 867.0h1.9v1.9h-1.9zM162.8 865.6h1.9v1.9h-1.9zM199.0 872.4h1.9v1.9h-1.9zM159.3 862.0h1.9v1.9h-1.9zM173.2 842.1h1.9v1.9h-1.9zM180.4 864.4h1.9v1.9h-1.9zM220.3 855.0h1.9v1.9h-1.9zM168.8 848.0h1.9v1.9h-1.9zM227.6 854.8h1.9v1.9h-1.9zM175.0 846.5h1.9v1.9h-1.9z" fill="#50ec0a"/>
<path d="M167.0 874.4h1.9v1.9h-1.9zM259.4 853.5h1.9v1.9h-1.9zM204.7 873.6h1.9v1.9h-1.9zM255.8 864.8h1.9v1.9h-1.9zM162.2 894.7h1.9v1.9h-1.9zM249.9 863.9h1.9v1.9h-1.9zM194.9 865.6h1.9v1.9h-1.9zM224.1 872.0h1.9v1.9h-1.9zM193.4 851.1h1.9v1.9h-1.9zM178.5 876.4h1.9v1.9h-1.9zM261.6 839.9h1.9v1.9h-1.9zM164.0 868.6h1.9v1.9h-1.9zM153.8 872.0h1.9v1.9h-1.9zM160.7 867.9h1.9v1.9h-1.9zM192.5 862.8h1.9v1.9h-1.9zM160.5 866.5h1.9v1.9h-1.9zM252.0 871.2h1.9v1.9h-1.9zM230.2 875.0h1.9v1.9h-1.9zM261.7 876.4h1.9v1.9h-1.9zM258.7 873.3h1.9v1.9h-1.9zM199.2 867.3h1.9v1.9h-1.9zM246.2 865.6h1.9v1.9h-1.9zM210.8 861.1h1.9v1.9h-1.9zM225.5 878.5h1.9v1.9h-1.9zM183.6 881.2h1.9v1.9h-1.9zM248.0 861.8h1.9v1.9h-1.9zM258.2 874.8h1.9v1.9h-1.9zM143.9 871.6h1.9v1.9h-1.9zM157.1 872.1h1.9v1.9h-1.9zM257.0 838.3h1.9v1.9h-1.9zM155.5 859.6h1.9v1.9h-1.9zM194.5 866.9h1.9v1.9h-1.9zM208.1 862.6h1.9v1.9h-1.9zM261.9 862.2h1.9v1.9h-1.9zM253.1 867.5h1.9v1.9h-1.9zM255.3 834.6h1.9v1.9h-1.9zM246.2 857.0h1.9v1.9h-1.9zM229.1 859.2h1.9v1.9h-1.9zM207.3 874.7h1.9v1.9h-1.9zM177.7 869.1h1.9v1.9h-1.9zM256.2 847.0h1.9v1.9h-1.9zM226.7 862.2h1.9v1.9h-1.9zM253.8 858.4h1.9v1.9h-1.9zM247.5 864.4h1.9v1.9h-1.9zM189.4 857.5h1.9v1.9h-1.9zM241.5 871.3h1.9v1.9h-1.9zM169.9 876.7h1.9v1.9h-1.9zM257.6 863.8h1.9v1.9h-1.9zM261.3 846.8h1.9v1.9h-1.9zM230.8 883.4h1.9v1.9h-1.9zM243.3 862.2h1.9v1.9h-1.9zM200.4 857.0h1.9v1.9h-1.9zM247.8 852.1h1.9v1.9h-1.9zM188.0 869.6h1.9v1.9h-1.9zM224.0 873.7h1.9v1.9h-1.9zM224.6 853.7h1.9v1.9h-1.9zM185.6 851.5h1.9v1.9h-1.9zM188.0 863.3h1.9v1.9h-1.9zM228.7 879.5h1.9v1.9h-1.9zM178.4 872.1h1.9v1.9h-1.9zM198.3 871.5h1.9v1.9h-1.9zM231.6 878.6h1.9v1.9h-1.9zM151.0 881.8h1.9v1.9h-1.9zM243.7 864.6h1.9v1.9h-1.9zM149.9 865.8h1.9v1.9h-1.9zM239.3 856.1h1.9v1.9h-1.9zM192.9 869.5h1.9v1.9h-1.9zM250.5 859.7h1.9v1.9h-1.9zM249.1 871.3h1.9v1.9h-1.9zM180.5 864.2h1.9v1.9h-1.9zM239.9 879.0h1.9v1.9h-1.9zM254.9 861.6h1.9v1.9h-1.9zM256.2 856.8h1.9v1.9h-1.9zM204.8 862.2h1.9v1.9h-1.9zM245.1 861.3h1.9v1.9h-1.9zM186.2 872.9h1.9v1.9h-1.9zM222.9 863.8h1.9v1.9h-1.9zM158.7 849.2h1.9v1.9h-1.9zM192.0 862.5h1.9v1.9h-1.9zM200.2 866.4h1.9v1.9h-1.9zM155.9 869.0h1.9v1.9h-1.9zM235.4 866.1h1.9v1.9h-1.9zM200.3 853.6h1.9v1.9h-1.9zM200.4 874.5h1.9v1.9h-1.9zM208.2 871.5h1.9v1.9h-1.9zM230.2 872.5h1.9v1.9h-1.9zM246.4 870.0h1.9v1.9h-1.9zM178.9 864.1h1.9v1.9h-1.9zM212.1 871.1h1.9v1.9h-1.9zM146.5 869.1h1.9v1.9h-1.9zM246.8 861.2h1.9v1.9h-1.9zM165.9 866.1h1.9v1.9h-1.9zM145.5 879.9h1.9v1.9h-1.9zM243.5 847.9h1.9v1.9h-1.9zM160.0 869.6h1.9v1.9h-1.9zM237.0 876.3h1.9v1.9h-1.9zM183.2 855.0h1.9v1.9h-1.9zM252.9 860.9h1.9v1.9h-1.9zM140.6 881.0h1.9v1.9h-1.9zM243.9 870.4h1.9v1.9h-1.9zM245.3 875.5h1.9v1.9h-1.9zM235.8 859.3h1.9v1.9h-1.9zM252.1 844.8h1.9v1.9h-1.9zM179.6 884.3h1.9v1.9h-1.9zM252.7 860.0h1.9v1.9h-1.9zM162.9 878.7h1.9v1.9h-1.9zM256.8 847.0h1.9v1.9h-1.9zM260.2 856.1h1.9v1.9h-1.9zM255.4 845.2h1.9v1.9h-1.9zM168.3 869.9h1.9v1.9h-1.9zM220.5 853.1h1.9v1.9h-1.9zM258.4 862.1h1.9v1.9h-1.9zM163.6 875.8h1.9v1.9h-1.9zM143.5 860.7h1.9v1.9h-1.9zM259.3 866.4h1.9v1.9h-1.9zM235.6 863.7h1.9v1.9h-1.9zM187.1 888.2h1.9v1.9h-1.9zM242.7 873.9h1.9v1.9h-1.9zM234.9 860.5h1.9v1.9h-1.9zM244.6 855.5h1.9v1.9h-1.9zM215.5 871.7h1.9v1.9h-1.9zM161.9 850.5h1.9v1.9h-1.9zM157.7 870.3h1.9v1.9h-1.9zM166.0 867.2h1.9v1.9h-1.9zM164.1 874.6h1.9v1.9h-1.9zM189.8 867.0h1.9v1.9h-1.9zM213.4 871.8h1.9v1.9h-1.9zM188.5 880.8h1.9v1.9h-1.9zM209.3 885.0h1.9v1.9h-1.9zM170.8 864.6h1.9v1.9h-1.9zM172.0 866.7h1.9v1.9h-1.9zM253.8 859.2h1.9v1.9h-1.9zM201.1 870.0h1.9v1.9h-1.9zM190.0 864.4h1.9v1.9h-1.9zM243.3 881.8h1.9v1.9h-1.9zM242.0 854.4h1.9v1.9h-1.9zM220.9 861.4h1.9v1.9h-1.9zM162.2 879.2h1.9v1.9h-1.9zM181.1 868.8h1.9v1.9h-1.9zM239.6 859.0h1.9v1.9h-1.9zM228.1 875.5h1.9v1.9h-1.9zM235.0 869.3h1.9v1.9h-1.9zM244.1 875.9h1.9v1.9h-1.9zM235.4 886.1h1.9v1.9h-1.9zM200.5 870.6h1.9v1.9h-1.9zM236.4 871.8h1.9v1.9h-1.9zM232.2 874.7h1.9v1.9h-1.9zM179.5 858.6h1.9v1.9h-1.9zM203.8 854.2h1.9v1.9h-1.9zM242.3 864.3h1.9v1.9h-1.9zM185.7 865.1h1.9v1.9h-1.9zM257.6 872.9h1.9v1.9h-1.9zM239.2 868.6h1.9v1.9h-1.9zM246.4 875.4h1.9v1.9h-1.9zM157.4 857.2h1.9v1.9h-1.9zM242.9 850.1h1.9v1.9h-1.9zM236.6 860.7h1.9v1.9h-1.9zM152.2 866.6h1.9v1.9h-1.9zM175.4 873.9h1.9v1.9h-1.9zM216.6 882.2h1.9v1.9h-1.9zM177.8 890.5h1.9v1.9h-1.9zM195.0 858.6h1.9v1.9h-1.9zM250.8 862.6h1.9v1.9h-1.9zM258.9 866.1h1.9v1.9h-1.9zM221.5 861.8h1.9v1.9h-1.9zM153.7 877.7h1.9v1.9h-1.9zM149.3 864.1h1.9v1.9h-1.9zM252.6 874.8h1.9v1.9h-1.9zM261.8 870.9h1.9v1.9h-1.9zM260.5 865.5h1.9v1.9h-1.9zM251.7 852.3h1.9v1.9h-1.9zM259.5 858.8h1.9v1.9h-1.9zM164.5 887.2h1.9v1.9h-1.9zM261.9 855.4h1.9v1.9h-1.9zM178.0 860.3h1.9v1.9h-1.9zM189.3 865.3h1.9v1.9h-1.9zM222.2 861.2h1.9v1.9h-1.9zM244.3 867.1h1.9v1.9h-1.9zM261.5 856.5h1.9v1.9h-1.9zM218.5 868.5h1.9v1.9h-1.9zM203.5 871.5h1.9v1.9h-1.9zM149.6 876.6h1.9v1.9h-1.9zM252.2 857.8h1.9v1.9h-1.9zM178.0 876.9h1.9v1.9h-1.9z" fill="#14d214"/>
<path d="M248.1 869.4h1.9v1.9h-1.9zM207.9 875.8h1.9v1.9h-1.9zM204.9 874.3h1.9v1.9h-1.9zM211.3 871.8h1.9v1.9h-1.9zM259.2 848.5h1.9v1.9h-1.9zM198.0 868.4h1.9v1.9h-1.9zM261.2 861.5h1.9v1.9h-1.9zM214.4 857.5h1.9v1.9h-1.9zM219.4 871.8h1.9v1.9h-1.9zM154.7 869.3h1.9v1.9h-1.9zM224.3 874.2h1.9v1.9h-1.9zM257.3 869.9h1.9v1.9h-1.9zM245.9 876.7h1.9v1.9h-1.9zM257.8 863.9h1.9v1.9h-1.9zM240.2 879.5h1.9v1.9h-1.9zM259.9 876.2h1.9v1.9h-1.9zM261.8 854.7h1.9v1.9h-1.9zM259.2 861.4h1.9v1.9h-1.9zM262.0 850.1h1.9v1.9h-1.9zM207.2 875.4h1.9v1.9h-1.9zM167.3 872.2h1.9v1.9h-1.9zM249.7 866.1h1.9v1.9h-1.9zM220.0 867.5h1.9v1.9h-1.9zM254.2 855.0h1.9v1.9h-1.9zM166.9 874.9h1.9v1.9h-1.9zM254.5 870.2h1.9v1.9h-1.9zM152.0 884.3h1.9v1.9h-1.9zM155.1 867.5h1.9v1.9h-1.9zM146.9 871.4h1.9v1.9h-1.9zM203.6 876.6h1.9v1.9h-1.9zM243.6 866.2h1.9v1.9h-1.9zM249.6 866.0h1.9v1.9h-1.9zM246.6 861.5h1.9v1.9h-1.9zM181.5 863.7h1.9v1.9h-1.9zM209.8 879.1h1.9v1.9h-1.9zM170.2 878.5h1.9v1.9h-1.9zM210.7 882.4h1.9v1.9h-1.9z" fill="#12b446"/>
<path d="M261.5 878.4h1.9v1.9h-1.9zM220.4 872.4h1.9v1.9h-1.9zM179.1 882.0h1.9v1.9h-1.9zM163.3 874.6h1.9v1.9h-1.9zM203.6 885.9h1.9v1.9h-1.9zM247.6 866.6h1.9v1.9h-1.9zM155.0 881.2h1.9v1.9h-1.9z" fill="#168a90"/>
<path d="M232.5 869.2h1.9v1.9h-1.9zM202.3 881.5h1.9v1.9h-1.9zM240.6 872.7h1.9v1.9h-1.9zM228.0 889.9h1.9v1.9h-1.9zM209.2 868.9h1.9v1.9h-1.9zM167.9 879.7h1.9v1.9h-1.9z" fill="#1f58c8"/>
<path d="M185.9 888.1h1.9v1.9h-1.9zM211.3 888.2h1.9v1.9h-1.9z" fill="#1a30e0"/>
<path d="M285.2 877.9h1.9v1.9h-1.9zM280.3 876.2h1.9v1.9h-1.9zM268.3 885.0h1.9v1.9h-1.9zM284.7 878.5h1.9v1.9h-1.9zM287.1 924.6h1.9v1.9h-1.9zM289.9 882.0h1.9v1.9h-1.9zM290.4 877.6h1.9v1.9h-1.9zM280.0 883.8h1.9v1.9h-1.9z" fill="#50ec0a"/>
<path d="M282.6 876.8h1.9v1.9h-1.9zM286.3 881.3h1.9v1.9h-1.9zM285.8 877.6h1.9v1.9h-1.9zM285.5 883.0h1.9v1.9h-1.9zM281.9 878.5h1.9v1.9h-1.9zM284.4 880.3h1.9v1.9h-1.9zM285.9 880.8h1.9v1.9h-1.9zM282.6 881.5h1.9v1.9h-1.9zM284.0 882.4h1.9v1.9h-1.9zM280.2 915.1h1.9v1.9h-1.9zM282.6 883.5h1.9v1.9h-1.9zM277.4 878.8h1.9v1.9h-1.9zM285.9 880.2h1.9v1.9h-1.9zM287.0 876.2h1.9v1.9h-1.9zM288.8 881.9h1.9v1.9h-1.9zM281.6 878.0h1.9v1.9h-1.9zM284.3 880.6h1.9v1.9h-1.9zM290.2 886.5h1.9v1.9h-1.9zM284.6 880.4h1.9v1.9h-1.9zM280.2 886.5h1.9v1.9h-1.9zM287.9 877.7h1.9v1.9h-1.9zM285.3 877.3h1.9v1.9h-1.9zM261.7 952.1h1.9v1.9h-1.9zM289.4 894.7h1.9v1.9h-1.9zM292.2 881.8h1.9v1.9h-1.9zM282.0 880.2h1.9v1.9h-1.9zM284.3 879.4h1.9v1.9h-1.9zM278.9 879.4h1.9v1.9h-1.9zM291.7 876.2h1.9v1.9h-1.9zM281.7 939.8h1.9v1.9h-1.9zM285.9 888.2h1.9v1.9h-1.9zM283.4 881.9h1.9v1.9h-1.9zM256.3 904.4h1.9v1.9h-1.9zM274.5 882.8h1.9v1.9h-1.9zM290.9 878.3h1.9v1.9h-1.9zM285.6 889.1h1.9v1.9h-1.9zM277.0 876.3h1.9v1.9h-1.9zM286.9 921.2h1.9v1.9h-1.9zM280.8 890.3h1.9v1.9h-1.9zM288.6 877.6h1.9v1.9h-1.9zM283.8 888.1h1.9v1.9h-1.9zM285.8 884.3h1.9v1.9h-1.9zM282.3 885.7h1.9v1.9h-1.9zM285.4 884.2h1.9v1.9h-1.9zM277.7 914.7h1.9v1.9h-1.9zM253.7 910.5h1.9v1.9h-1.9zM281.0 886.3h1.9v1.9h-1.9zM282.9 881.7h1.9v1.9h-1.9zM289.8 876.0h1.9v1.9h-1.9zM284.8 883.0h1.9v1.9h-1.9zM292.2 892.1h1.9v1.9h-1.9z" fill="#14d214"/>
<path d="M287.8 880.4h1.9v1.9h-1.9zM278.7 884.9h1.9v1.9h-1.9zM281.6 890.8h1.9v1.9h-1.9zM284.7 883.2h1.9v1.9h-1.9zM276.5 890.6h1.9v1.9h-1.9zM292.7 893.2h1.9v1.9h-1.9zM275.7 898.5h1.9v1.9h-1.9zM290.0 892.4h1.9v1.9h-1.9zM281.5 888.8h1.9v1.9h-1.9zM281.7 948.1h1.9v1.9h-1.9zM280.3 939.0h1.9v1.9h-1.9zM288.1 886.3h1.9v1.9h-1.9zM288.8 881.9h1.9v1.9h-1.9zM275.1 937.6h1.9v1.9h-1.9zM274.5 915.0h1.9v1.9h-1.9zM274.4 896.5h1.9v1.9h-1.9zM272.3 930.4h1.9v1.9h-1.9zM281.1 878.7h1.9v1.9h-1.9zM280.7 884.9h1.9v1.9h-1.9zM283.3 893.9h1.9v1.9h-1.9zM269.2 942.3h1.9v1.9h-1.9zM284.0 884.1h1.9v1.9h-1.9zM285.1 893.9h1.9v1.9h-1.9zM290.0 876.6h1.9v1.9h-1.9zM276.5 887.2h1.9v1.9h-1.9zM285.4 895.9h1.9v1.9h-1.9zM282.7 884.9h1.9v1.9h-1.9zM275.6 885.0h1.9v1.9h-1.9zM283.1 883.8h1.9v1.9h-1.9zM263.9 949.2h1.9v1.9h-1.9zM283.8 894.8h1.9v1.9h-1.9zM280.6 923.3h1.9v1.9h-1.9zM287.8 882.9h1.9v1.9h-1.9zM293.0 950.9h1.9v1.9h-1.9zM252.5 938.2h1.9v1.9h-1.9zM272.2 928.2h1.9v1.9h-1.9zM292.7 881.2h1.9v1.9h-1.9zM292.5 884.4h1.9v1.9h-1.9zM283.5 880.0h1.9v1.9h-1.9zM272.5 938.8h1.9v1.9h-1.9zM263.8 891.1h1.9v1.9h-1.9zM277.8 885.0h1.9v1.9h-1.9zM263.0 901.0h1.9v1.9h-1.9zM283.3 891.6h1.9v1.9h-1.9zM277.5 899.2h1.9v1.9h-1.9zM287.1 882.2h1.9v1.9h-1.9zM282.3 894.8h1.9v1.9h-1.9zM292.9 927.2h1.9v1.9h-1.9zM280.8 891.0h1.9v1.9h-1.9zM292.5 897.8h1.9v1.9h-1.9zM273.7 950.6h1.9v1.9h-1.9zM278.3 929.6h1.9v1.9h-1.9zM284.7 902.6h1.9v1.9h-1.9zM282.1 895.2h1.9v1.9h-1.9zM283.5 895.1h1.9v1.9h-1.9zM287.9 891.8h1.9v1.9h-1.9zM280.2 925.7h1.9v1.9h-1.9zM285.7 882.9h1.9v1.9h-1.9zM287.9 891.6h1.9v1.9h-1.9zM284.8 887.3h1.9v1.9h-1.9zM292.2 884.3h1.9v1.9h-1.9zM283.0 931.5h1.9v1.9h-1.9zM282.1 885.2h1.9v1.9h-1.9zM291.7 897.9h1.9v1.9h-1.9zM290.7 886.3h1.9v1.9h-1.9zM284.4 885.9h1.9v1.9h-1.9zM293.0 938.5h1.9v1.9h-1.9zM283.1 880.9h1.9v1.9h-1.9zM291.7 883.5h1.9v1.9h-1.9zM276.1 928.9h1.9v1.9h-1.9zM276.9 884.6h1.9v1.9h-1.9zM288.5 884.2h1.9v1.9h-1.9zM280.0 892.2h1.9v1.9h-1.9zM281.2 941.7h1.9v1.9h-1.9zM280.8 912.0h1.9v1.9h-1.9zM292.7 898.4h1.9v1.9h-1.9zM282.2 921.9h1.9v1.9h-1.9zM284.0 910.2h1.9v1.9h-1.9zM280.9 893.4h1.9v1.9h-1.9zM301.0 946.5h1.9v1.9h-1.9zM266.0 888.3h1.9v1.9h-1.9zM283.8 876.4h1.9v1.9h-1.9zM287.6 881.4h1.9v1.9h-1.9zM285.1 902.6h1.9v1.9h-1.9zM282.8 886.5h1.9v1.9h-1.9zM277.4 887.6h1.9v1.9h-1.9zM291.4 892.0h1.9v1.9h-1.9zM284.5 946.0h1.9v1.9h-1.9zM285.7 877.9h1.9v1.9h-1.9zM282.3 890.0h1.9v1.9h-1.9zM285.7 889.8h1.9v1.9h-1.9zM279.3 887.3h1.9v1.9h-1.9zM285.9 929.1h1.9v1.9h-1.9zM289.8 885.1h1.9v1.9h-1.9zM283.7 902.8h1.9v1.9h-1.9zM284.9 891.7h1.9v1.9h-1.9zM277.6 905.2h1.9v1.9h-1.9zM285.1 929.5h1.9v1.9h-1.9zM284.2 925.2h1.9v1.9h-1.9zM277.1 945.8h1.9v1.9h-1.9zM284.5 894.1h1.9v1.9h-1.9zM261.9 952.7h1.9v1.9h-1.9zM285.4 898.5h1.9v1.9h-1.9zM288.3 881.8h1.9v1.9h-1.9zM297.9 938.9h1.9v1.9h-1.9zM283.2 883.9h1.9v1.9h-1.9zM281.9 882.5h1.9v1.9h-1.9z" fill="#12b446"/>
<path d="M275.2 940.9h1.9v1.9h-1.9zM283.1 905.8h1.9v1.9h-1.9zM283.3 902.4h1.9v1.9h-1.9zM247.6 943.1h1.9v1.9h-1.9zM274.9 933.4h1.9v1.9h-1.9zM280.3 914.0h1.9v1.9h-1.9zM279.2 891.2h1.9v1.9h-1.9zM282.3 906.5h1.9v1.9h-1.9zM280.0 904.9h1.9v1.9h-1.9zM276.3 935.8h1.9v1.9h-1.9zM277.7 898.0h1.9v1.9h-1.9zM280.9 884.7h1.9v1.9h-1.9zM279.8 950.4h1.9v1.9h-1.9zM284.2 895.2h1.9v1.9h-1.9zM276.6 946.7h1.9v1.9h-1.9zM280.0 930.3h1.9v1.9h-1.9zM280.5 904.8h1.9v1.9h-1.9zM283.2 901.1h1.9v1.9h-1.9zM283.6 918.2h1.9v1.9h-1.9zM286.5 917.7h1.9v1.9h-1.9zM288.9 880.7h1.9v1.9h-1.9zM279.9 894.9h1.9v1.9h-1.9zM252.3 946.8h1.9v1.9h-1.9zM281.8 949.5h1.9v1.9h-1.9zM279.6 906.6h1.9v1.9h-1.9zM280.6 904.5h1.9v1.9h-1.9zM280.3 922.7h1.9v1.9h-1.9zM275.8 909.7h1.9v1.9h-1.9zM294.4 926.4h1.9v1.9h-1.9zM278.4 923.6h1.9v1.9h-1.9zM270.3 947.1h1.9v1.9h-1.9zM277.3 925.0h1.9v1.9h-1.9zM276.7 926.9h1.9v1.9h-1.9zM275.3 905.7h1.9v1.9h-1.9zM273.0 934.9h1.9v1.9h-1.9zM268.6 931.9h1.9v1.9h-1.9zM283.3 895.7h1.9v1.9h-1.9zM280.8 952.2h1.9v1.9h-1.9zM280.2 913.5h1.9v1.9h-1.9zM285.8 908.5h1.9v1.9h-1.9zM265.7 898.5h1.9v1.9h-1.9zM282.2 889.5h1.9v1.9h-1.9zM286.4 892.6h1.9v1.9h-1.9zM285.8 949.5h1.9v1.9h-1.9zM282.9 892.4h1.9v1.9h-1.9zM280.7 946.2h1.9v1.9h-1.9zM284.4 929.9h1.9v1.9h-1.9zM281.8 935.2h1.9v1.9h-1.9zM277.7 933.4h1.9v1.9h-1.9zM287.8 891.9h1.9v1.9h-1.9zM285.4 920.8h1.9v1.9h-1.9zM280.1 950.3h1.9v1.9h-1.9zM288.0 903.9h1.9v1.9h-1.9zM289.7 886.9h1.9v1.9h-1.9zM278.9 904.3h1.9v1.9h-1.9zM280.2 941.8h1.9v1.9h-1.9zM246.9 890.4h1.9v1.9h-1.9zM274.8 933.3h1.9v1.9h-1.9zM287.8 895.2h1.9v1.9h-1.9zM280.4 946.2h1.9v1.9h-1.9zM274.7 919.9h1.9v1.9h-1.9zM281.5 900.7h1.9v1.9h-1.9zM281.7 886.6h1.9v1.9h-1.9zM285.8 923.5h1.9v1.9h-1.9zM279.2 949.7h1.9v1.9h-1.9zM283.0 943.2h1.9v1.9h-1.9zM281.5 952.3h1.9v1.9h-1.9zM286.5 914.0h1.9v1.9h-1.9zM276.3 910.5h1.9v1.9h-1.9zM256.8 904.7h1.9v1.9h-1.9zM274.2 922.3h1.9v1.9h-1.9zM281.6 893.7h1.9v1.9h-1.9zM286.3 919.6h1.9v1.9h-1.9zM283.7 891.5h1.9v1.9h-1.9zM282.2 907.7h1.9v1.9h-1.9zM276.3 923.4h1.9v1.9h-1.9zM278.9 926.6h1.9v1.9h-1.9zM251.7 954.1h1.9v1.9h-1.9zM283.8 952.2h1.9v1.9h-1.9zM288.3 895.3h1.9v1.9h-1.9zM279.9 911.2h1.9v1.9h-1.9zM281.1 888.5h1.9v1.9h-1.9zM275.0 894.0h1.9v1.9h-1.9zM277.2 921.3h1.9v1.9h-1.9zM291.3 946.4h1.9v1.9h-1.9zM278.3 927.3h1.9v1.9h-1.9zM268.6 939.8h1.9v1.9h-1.9zM285.8 940.2h1.9v1.9h-1.9zM279.2 907.5h1.9v1.9h-1.9zM287.7 907.0h1.9v1.9h-1.9zM278.1 923.5h1.9v1.9h-1.9zM277.7 913.6h1.9v1.9h-1.9zM283.4 890.3h1.9v1.9h-1.9zM280.8 932.1h1.9v1.9h-1.9zM288.5 884.9h1.9v1.9h-1.9zM282.3 892.6h1.9v1.9h-1.9zM281.1 934.0h1.9v1.9h-1.9zM281.3 921.0h1.9v1.9h-1.9zM282.6 923.0h1.9v1.9h-1.9zM282.7 897.2h1.9v1.9h-1.9zM279.3 940.7h1.9v1.9h-1.9zM279.1 888.9h1.9v1.9h-1.9zM285.1 889.5h1.9v1.9h-1.9zM279.4 909.6h1.9v1.9h-1.9zM290.2 894.1h1.9v1.9h-1.9zM283.6 916.2h1.9v1.9h-1.9zM287.5 879.7h1.9v1.9h-1.9zM279.3 911.6h1.9v1.9h-1.9zM256.4 896.5h1.9v1.9h-1.9zM260.6 943.3h1.9v1.9h-1.9zM279.5 924.5h1.9v1.9h-1.9zM283.1 888.1h1.9v1.9h-1.9zM279.7 943.3h1.9v1.9h-1.9zM281.1 922.7h1.9v1.9h-1.9zM279.0 923.7h1.9v1.9h-1.9zM282.7 885.0h1.9v1.9h-1.9zM282.8 891.3h1.9v1.9h-1.9zM284.8 898.1h1.9v1.9h-1.9zM281.3 922.6h1.9v1.9h-1.9zM284.6 934.3h1.9v1.9h-1.9zM283.6 893.8h1.9v1.9h-1.9zM285.9 950.2h1.9v1.9h-1.9zM286.9 923.9h1.9v1.9h-1.9zM281.6 898.8h1.9v1.9h-1.9zM267.6 907.9h1.9v1.9h-1.9zM276.8 944.4h1.9v1.9h-1.9zM281.3 926.2h1.9v1.9h-1.9zM278.3 934.8h1.9v1.9h-1.9zM281.1 896.0h1.9v1.9h-1.9zM255.4 900.9h1.9v1.9h-1.9zM282.3 942.1h1.9v1.9h-1.9zM283.2 906.3h1.9v1.9h-1.9zM273.9 923.8h1.9v1.9h-1.9zM280.6 912.8h1.9v1.9h-1.9zM281.3 888.1h1.9v1.9h-1.9zM288.3 951.8h1.9v1.9h-1.9zM278.2 950.7h1.9v1.9h-1.9zM276.0 902.4h1.9v1.9h-1.9zM284.5 924.8h1.9v1.9h-1.9zM282.1 935.0h1.9v1.9h-1.9zM282.5 952.1h1.9v1.9h-1.9zM280.9 919.7h1.9v1.9h-1.9zM272.7 904.8h1.9v1.9h-1.9zM280.5 899.8h1.9v1.9h-1.9zM282.1 887.9h1.9v1.9h-1.9zM275.6 942.5h1.9v1.9h-1.9zM285.2 893.0h1.9v1.9h-1.9zM281.9 893.3h1.9v1.9h-1.9zM275.4 943.4h1.9v1.9h-1.9zM282.3 928.9h1.9v1.9h-1.9zM284.8 901.8h1.9v1.9h-1.9zM289.6 891.7h1.9v1.9h-1.9zM282.5 945.6h1.9v1.9h-1.9zM286.1 913.7h1.9v1.9h-1.9zM287.5 893.1h1.9v1.9h-1.9zM280.3 892.1h1.9v1.9h-1.9zM280.3 887.0h1.9v1.9h-1.9zM280.5 908.3h1.9v1.9h-1.9zM284.0 890.2h1.9v1.9h-1.9zM251.4 923.4h1.9v1.9h-1.9zM284.8 919.6h1.9v1.9h-1.9zM283.4 922.2h1.9v1.9h-1.9zM283.6 920.7h1.9v1.9h-1.9zM278.8 945.9h1.9v1.9h-1.9zM280.3 911.6h1.9v1.9h-1.9zM286.6 885.6h1.9v1.9h-1.9zM282.4 885.1h1.9v1.9h-1.9zM288.0 903.5h1.9v1.9h-1.9zM283.0 889.6h1.9v1.9h-1.9zM284.5 890.4h1.9v1.9h-1.9zM277.2 921.9h1.9v1.9h-1.9zM266.1 946.2h1.9v1.9h-1.9zM278.5 932.6h1.9v1.9h-1.9zM280.4 915.4h1.9v1.9h-1.9zM281.5 904.4h1.9v1.9h-1.9zM282.4 942.4h1.9v1.9h-1.9zM274.0 937.1h1.9v1.9h-1.9zM285.1 899.9h1.9v1.9h-1.9zM280.9 910.0h1.9v1.9h-1.9zM279.0 915.1h1.9v1.9h-1.9zM281.5 890.4h1.9v1.9h-1.9zM279.8 913.6h1.9v1.9h-1.9zM287.5 919.3h1.9v1.9h-1.9zM265.3 920.6h1.9v1.9h-1.9zM280.8 904.6h1.9v1.9h-1.9zM275.4 908.0h1.9v1.9h-1.9zM287.0 897.1h1.9v1.9h-1.9zM278.0 929.3h1.9v1.9h-1.9zM281.2 928.5h1.9v1.9h-1.9zM287.5 894.3h1.9v1.9h-1.9zM281.3 937.5h1.9v1.9h-1.9zM288.0 920.3h1.9v1.9h-1.9zM283.2 902.6h1.9v1.9h-1.9zM270.0 951.8h1.9v1.9h-1.9zM286.2 890.5h1.9v1.9h-1.9zM268.8 945.8h1.9v1.9h-1.9zM282.8 915.6h1.9v1.9h-1.9zM284.7 913.6h1.9v1.9h-1.9zM282.6 940.4h1.9v1.9h-1.9zM279.0 911.1h1.9v1.9h-1.9zM277.6 906.2h1.9v1.9h-1.9zM287.2 906.8h1.9v1.9h-1.9zM282.4 951.7h1.9v1.9h-1.9zM286.2 891.6h1.9v1.9h-1.9zM279.5 947.1h1.9v1.9h-1.9zM278.7 908.2h1.9v1.9h-1.9zM280.8 909.2h1.9v1.9h-1.9zM280.2 886.6h1.9v1.9h-1.9zM284.8 917.9h1.9v1.9h-1.9zM273.1 896.5h1.9v1.9h-1.9zM290.9 904.1h1.9v1.9h-1.9zM286.1 950.8h1.9v1.9h-1.9zM264.6 885.8h1.9v1.9h-1.9zM280.1 890.8h1.9v1.9h-1.9zM279.3 903.0h1.9v1.9h-1.9zM292.8 889.9h1.9v1.9h-1.9zM287.0 898.7h1.9v1.9h-1.9zM286.2 942.9h1.9v1.9h-1.9zM273.3 931.2h1.9v1.9h-1.9zM282.0 950.1h1.9v1.9h-1.9zM282.2 883.5h1.9v1.9h-1.9z" fill="#168a90"/>
<path d="M285.2 896.7h1.9v1.9h-1.9zM271.0 929.1h1.9v1.9h-1.9zM280.5 950.9h1.9v1.9h-1.9zM285.4 940.5h1.9v1.9h-1.9zM283.8 914.4h1.9v1.9h-1.9zM285.1 945.1h1.9v1.9h-1.9zM274.7 902.7h1.9v1.9h-1.9zM289.7 925.9h1.9v1.9h-1.9zM287.7 902.3h1.9v1.9h-1.9zM285.1 916.4h1.9v1.9h-1.9zM282.1 942.3h1.9v1.9h-1.9zM276.4 905.4h1.9v1.9h-1.9zM279.3 946.6h1.9v1.9h-1.9zM281.2 945.0h1.9v1.9h-1.9zM283.0 902.6h1.9v1.9h-1.9zM274.3 943.2h1.9v1.9h-1.9zM281.6 899.0h1.9v1.9h-1.9zM278.9 915.4h1.9v1.9h-1.9zM274.8 946.7h1.9v1.9h-1.9zM293.9 906.8h1.9v1.9h-1.9zM269.8 903.4h1.9v1.9h-1.9zM285.5 898.7h1.9v1.9h-1.9zM282.6 918.0h1.9v1.9h-1.9zM286.8 909.7h1.9v1.9h-1.9zM290.4 917.5h1.9v1.9h-1.9zM280.6 937.6h1.9v1.9h-1.9zM284.6 904.1h1.9v1.9h-1.9zM277.3 920.7h1.9v1.9h-1.9zM281.2 945.4h1.9v1.9h-1.9zM280.2 909.4h1.9v1.9h-1.9zM277.2 898.6h1.9v1.9h-1.9zM285.3 928.1h1.9v1.9h-1.9zM286.2 901.3h1.9v1.9h-1.9zM275.0 933.7h1.9v1.9h-1.9zM286.9 929.0h1.9v1.9h-1.9zM268.7 918.5h1.9v1.9h-1.9zM272.0 922.6h1.9v1.9h-1.9zM274.9 915.4h1.9v1.9h-1.9zM285.9 915.2h1.9v1.9h-1.9zM283.3 898.9h1.9v1.9h-1.9zM277.7 941.4h1.9v1.9h-1.9zM282.7 901.6h1.9v1.9h-1.9zM286.8 945.4h1.9v1.9h-1.9zM274.7 944.6h1.9v1.9h-1.9zM281.6 899.3h1.9v1.9h-1.9zM287.3 950.3h1.9v1.9h-1.9zM279.7 932.0h1.9v1.9h-1.9zM286.6 947.9h1.9v1.9h-1.9zM282.2 930.3h1.9v1.9h-1.9zM283.7 907.5h1.9v1.9h-1.9zM279.1 949.1h1.9v1.9h-1.9zM282.0 897.3h1.9v1.9h-1.9zM281.3 920.8h1.9v1.9h-1.9zM282.6 910.3h1.9v1.9h-1.9zM281.9 919.8h1.9v1.9h-1.9zM273.3 934.4h1.9v1.9h-1.9zM276.4 924.4h1.9v1.9h-1.9zM287.8 900.6h1.9v1.9h-1.9zM279.4 947.8h1.9v1.9h-1.9zM284.5 913.1h1.9v1.9h-1.9zM275.8 918.8h1.9v1.9h-1.9zM285.3 947.6h1.9v1.9h-1.9zM268.4 925.7h1.9v1.9h-1.9zM286.7 918.0h1.9v1.9h-1.9zM283.0 910.7h1.9v1.9h-1.9zM284.7 914.6h1.9v1.9h-1.9zM281.3 946.7h1.9v1.9h-1.9zM277.6 954.8h1.9v1.9h-1.9zM282.3 904.5h1.9v1.9h-1.9zM279.3 904.5h1.9v1.9h-1.9zM281.2 943.8h1.9v1.9h-1.9zM273.9 923.9h1.9v1.9h-1.9zM280.8 910.7h1.9v1.9h-1.9zM287.7 905.4h1.9v1.9h-1.9zM273.7 952.9h1.9v1.9h-1.9zM285.3 922.0h1.9v1.9h-1.9zM285.5 933.5h1.9v1.9h-1.9zM280.4 947.3h1.9v1.9h-1.9zM278.9 936.0h1.9v1.9h-1.9zM288.2 907.8h1.9v1.9h-1.9zM280.4 951.6h1.9v1.9h-1.9zM284.7 949.5h1.9v1.9h-1.9zM285.0 943.6h1.9v1.9h-1.9zM281.3 918.5h1.9v1.9h-1.9zM283.1 896.6h1.9v1.9h-1.9zM281.8 941.7h1.9v1.9h-1.9zM277.2 944.5h1.9v1.9h-1.9zM281.3 909.1h1.9v1.9h-1.9zM281.5 918.7h1.9v1.9h-1.9zM271.7 904.8h1.9v1.9h-1.9zM279.7 925.5h1.9v1.9h-1.9zM282.5 935.6h1.9v1.9h-1.9zM282.9 950.4h1.9v1.9h-1.9zM279.8 947.7h1.9v1.9h-1.9zM272.6 952.6h1.9v1.9h-1.9zM279.8 912.8h1.9v1.9h-1.9zM284.8 927.4h1.9v1.9h-1.9zM284.5 943.8h1.9v1.9h-1.9zM281.4 915.8h1.9v1.9h-1.9zM273.2 935.6h1.9v1.9h-1.9zM277.6 934.5h1.9v1.9h-1.9zM277.7 946.1h1.9v1.9h-1.9zM277.0 905.7h1.9v1.9h-1.9zM274.8 950.3h1.9v1.9h-1.9zM283.6 904.9h1.9v1.9h-1.9zM268.3 903.5h1.9v1.9h-1.9zM258.2 932.4h1.9v1.9h-1.9zM277.9 947.2h1.9v1.9h-1.9zM280.0 949.9h1.9v1.9h-1.9zM284.4 898.4h1.9v1.9h-1.9zM279.8 949.1h1.9v1.9h-1.9zM278.5 930.0h1.9v1.9h-1.9zM270.5 889.3h1.9v1.9h-1.9zM276.1 930.9h1.9v1.9h-1.9zM286.9 907.0h1.9v1.9h-1.9zM283.9 893.6h1.9v1.9h-1.9zM279.9 902.5h1.9v1.9h-1.9zM288.3 913.3h1.9v1.9h-1.9zM276.3 947.0h1.9v1.9h-1.9zM284.7 890.9h1.9v1.9h-1.9zM276.1 919.2h1.9v1.9h-1.9zM280.9 950.8h1.9v1.9h-1.9zM281.2 937.7h1.9v1.9h-1.9zM277.9 947.8h1.9v1.9h-1.9zM279.6 942.8h1.9v1.9h-1.9zM280.6 899.0h1.9v1.9h-1.9zM284.4 936.5h1.9v1.9h-1.9zM280.7 927.2h1.9v1.9h-1.9zM284.6 896.1h1.9v1.9h-1.9zM278.6 919.6h1.9v1.9h-1.9zM277.2 929.3h1.9v1.9h-1.9zM282.0 899.9h1.9v1.9h-1.9zM269.6 950.8h1.9v1.9h-1.9zM277.5 919.0h1.9v1.9h-1.9zM282.8 926.5h1.9v1.9h-1.9zM281.0 908.9h1.9v1.9h-1.9zM273.2 915.2h1.9v1.9h-1.9zM280.3 909.0h1.9v1.9h-1.9zM272.5 900.9h1.9v1.9h-1.9zM277.1 937.8h1.9v1.9h-1.9zM281.8 903.3h1.9v1.9h-1.9zM281.0 912.8h1.9v1.9h-1.9zM286.9 889.7h1.9v1.9h-1.9zM283.4 894.5h1.9v1.9h-1.9zM283.3 894.8h1.9v1.9h-1.9zM283.8 941.7h1.9v1.9h-1.9zM275.4 917.8h1.9v1.9h-1.9zM282.7 903.0h1.9v1.9h-1.9zM278.5 900.4h1.9v1.9h-1.9zM280.1 907.2h1.9v1.9h-1.9zM277.4 948.8h1.9v1.9h-1.9zM278.3 949.5h1.9v1.9h-1.9zM286.6 928.9h1.9v1.9h-1.9zM282.3 939.6h1.9v1.9h-1.9zM292.0 940.6h1.9v1.9h-1.9zM294.2 917.4h1.9v1.9h-1.9zM275.2 941.4h1.9v1.9h-1.9zM274.8 936.4h1.9v1.9h-1.9zM288.1 914.6h1.9v1.9h-1.9zM274.1 942.2h1.9v1.9h-1.9zM265.4 925.3h1.9v1.9h-1.9zM300.5 891.6h1.9v1.9h-1.9zM284.0 929.5h1.9v1.9h-1.9zM284.4 928.5h1.9v1.9h-1.9zM278.3 917.2h1.9v1.9h-1.9zM288.5 939.3h1.9v1.9h-1.9zM279.5 948.0h1.9v1.9h-1.9zM284.9 942.6h1.9v1.9h-1.9zM279.6 944.5h1.9v1.9h-1.9zM284.6 907.0h1.9v1.9h-1.9zM282.7 890.1h1.9v1.9h-1.9zM280.7 925.4h1.9v1.9h-1.9zM273.9 904.6h1.9v1.9h-1.9zM290.1 902.1h1.9v1.9h-1.9zM287.8 902.4h1.9v1.9h-1.9zM289.1 885.9h1.9v1.9h-1.9zM274.4 914.6h1.9v1.9h-1.9zM280.6 951.1h1.9v1.9h-1.9zM282.1 922.6h1.9v1.9h-1.9zM277.2 951.9h1.9v1.9h-1.9zM274.6 937.4h1.9v1.9h-1.9zM284.8 907.4h1.9v1.9h-1.9zM276.0 920.2h1.9v1.9h-1.9zM280.6 937.4h1.9v1.9h-1.9zM280.5 929.7h1.9v1.9h-1.9zM287.0 911.9h1.9v1.9h-1.9zM284.7 937.0h1.9v1.9h-1.9zM279.8 936.4h1.9v1.9h-1.9zM270.7 951.9h1.9v1.9h-1.9zM277.1 926.1h1.9v1.9h-1.9zM281.2 916.8h1.9v1.9h-1.9zM284.2 910.2h1.9v1.9h-1.9zM278.5 935.8h1.9v1.9h-1.9zM279.0 926.3h1.9v1.9h-1.9zM281.8 930.6h1.9v1.9h-1.9z" fill="#1f58c8"/>
<path d="M248.5 895.2h1.9v1.9h-1.9zM285.7 938.2h1.9v1.9h-1.9zM285.0 909.1h1.9v1.9h-1.9zM282.0 906.3h1.9v1.9h-1.9zM280.6 936.9h1.9v1.9h-1.9zM276.8 926.9h1.9v1.9h-1.9zM288.9 903.6h1.9v1.9h-1.9zM274.9 948.8h1.9v1.9h-1.9zM277.6 901.5h1.9v1.9h-1.9zM273.5 935.9h1.9v1.9h-1.9zM281.9 943.9h1.9v1.9h-1.9zM272.0 947.2h1.9v1.9h-1.9zM281.9 904.2h1.9v1.9h-1.9zM276.2 942.4h1.9v1.9h-1.9zM279.3 930.5h1.9v1.9h-1.9zM267.3 938.9h1.9v1.9h-1.9zM278.7 902.1h1.9v1.9h-1.9zM279.6 922.3h1.9v1.9h-1.9zM273.0 906.4h1.9v1.9h-1.9zM267.2 890.3h1.9v1.9h-1.9zM281.8 926.4h1.9v1.9h-1.9zM282.2 949.4h1.9v1.9h-1.9zM283.6 918.3h1.9v1.9h-1.9zM279.1 909.6h1.9v1.9h-1.9zM282.0 948.5h1.9v1.9h-1.9zM285.5 919.5h1.9v1.9h-1.9zM285.5 902.5h1.9v1.9h-1.9zM277.1 940.8h1.9v1.9h-1.9zM280.3 935.8h1.9v1.9h-1.9zM278.2 889.7h1.9v1.9h-1.9zM274.6 934.2h1.9v1.9h-1.9zM281.3 904.1h1.9v1.9h-1.9zM290.7 901.9h1.9v1.9h-1.9zM280.3 929.3h1.9v1.9h-1.9zM259.8 948.7h1.9v1.9h-1.9zM284.1 918.3h1.9v1.9h-1.9zM277.9 939.1h1.9v1.9h-1.9zM271.9 949.0h1.9v1.9h-1.9zM279.9 929.1h1.9v1.9h-1.9zM284.2 899.9h1.9v1.9h-1.9zM282.4 917.0h1.9v1.9h-1.9zM281.5 910.2h1.9v1.9h-1.9zM279.8 932.2h1.9v1.9h-1.9zM280.1 900.5h1.9v1.9h-1.9zM278.1 925.1h1.9v1.9h-1.9zM280.2 908.1h1.9v1.9h-1.9zM282.0 916.6h1.9v1.9h-1.9zM251.8 900.4h1.9v1.9h-1.9zM283.7 915.8h1.9v1.9h-1.9zM282.6 920.6h1.9v1.9h-1.9zM277.1 901.7h1.9v1.9h-1.9zM274.7 946.8h1.9v1.9h-1.9zM281.1 913.2h1.9v1.9h-1.9zM271.6 915.1h1.9v1.9h-1.9zM288.3 908.5h1.9v1.9h-1.9zM271.1 934.9h1.9v1.9h-1.9zM273.4 919.6h1.9v1.9h-1.9zM267.9 888.2h1.9v1.9h-1.9z" fill="#1a30e0"/>
<path d="M285.1 877.3h1.9v1.9h-1.9z" fill="#a8f000"/>
<path d="M285.1 876.2h1.9v1.9h-1.9zM283.5 876.2h1.9v1.9h-1.9zM291.7 876.9h1.9v1.9h-1.9zM285.3 877.9h1.9v1.9h-1.9zM292.5 877.3h1.9v1.9h-1.9zM288.2 877.8h1.9v1.9h-1.9zM283.8 881.5h1.9v1.9h-1.9zM285.3 878.4h1.9v1.9h-1.9zM286.6 877.8h1.9v1.9h-1.9zM286.8 876.2h1.9v1.9h-1.9z" fill="#50ec0a"/>
<path d="M291.1 880.9h1.9v1.9h-1.9zM285.4 880.0h1.9v1.9h-1.9zM283.7 879.3h1.9v1.9h-1.9zM294.0 886.1h1.9v1.9h-1.9zM282.8 884.6h1.9v1.9h-1.9zM292.8 889.8h1.9v1.9h-1.9zM285.8 883.5h1.9v1.9h-1.9zM282.6 883.7h1.9v1.9h-1.9zM278.8 877.2h1.9v1.9h-1.9zM278.9 878.7h1.9v1.9h-1.9zM285.1 892.5h1.9v1.9h-1.9zM284.2 881.2h1.9v1.9h-1.9zM283.0 879.5h1.9v1.9h-1.9zM283.0 876.4h1.9v1.9h-1.9zM292.2 895.3h1.9v1.9h-1.9zM277.9 879.5h1.9v1.9h-1.9zM284.8 878.8h1.9v1.9h-1.9zM278.1 882.3h1.9v1.9h-1.9zM287.8 886.5h1.9v1.9h-1.9zM284.8 878.4h1.9v1.9h-1.9zM278.3 882.5h1.9v1.9h-1.9zM290.0 879.3h1.9v1.9h-1.9zM278.1 880.2h1.9v1.9h-1.9zM283.4 893.2h1.9v1.9h-1.9zM281.8 876.7h1.9v1.9h-1.9zM289.3 883.1h1.9v1.9h-1.9zM287.0 884.1h1.9v1.9h-1.9zM288.9 883.5h1.9v1.9h-1.9zM284.6 883.1h1.9v1.9h-1.9zM286.8 877.4h1.9v1.9h-1.9zM283.4 884.1h1.9v1.9h-1.9zM281.1 891.7h1.9v1.9h-1.9zM285.9 881.6h1.9v1.9h-1.9zM282.8 883.4h1.9v1.9h-1.9zM279.9 884.3h1.9v1.9h-1.9zM286.1 881.5h1.9v1.9h-1.9zM280.7 876.6h1.9v1.9h-1.9zM285.2 877.2h1.9v1.9h-1.9zM292.4 877.4h1.9v1.9h-1.9zM283.4 885.6h1.9v1.9h-1.9zM278.2 878.5h1.9v1.9h-1.9zM291.6 876.4h1.9v1.9h-1.9zM280.5 882.3h1.9v1.9h-1.9zM283.8 878.6h1.9v1.9h-1.9zM289.0 876.2h1.9v1.9h-1.9zM261.5 947.8h1.9v1.9h-1.9zM302.4 947.4h1.9v1.9h-1.9zM286.5 882.2h1.9v1.9h-1.9z" fill="#14d214"/>
<path d="M284.1 880.9h1.9v1.9h-1.9zM288.1 925.3h1.9v1.9h-1.9zM275.5 884.8h1.9v1.9h-1.9zM276.6 887.3h1.9v1.9h-1.9zM286.3 883.8h1.9v1.9h-1.9zM282.6 884.5h1.9v1.9h-1.9zM283.7 880.3h1.9v1.9h-1.9zM276.6 898.2h1.9v1.9h-1.9zM257.6 927.0h1.9v1.9h-1.9zM280.0 928.6h1.9v1.9h-1.9zM283.1 892.9h1.9v1.9h-1.9zM283.1 885.0h1.9v1.9h-1.9zM279.8 882.9h1.9v1.9h-1.9zM280.7 890.2h1.9v1.9h-1.9zM280.0 885.7h1.9v1.9h-1.9zM284.2 884.6h1.9v1.9h-1.9zM273.4 881.6h1.9v1.9h-1.9zM297.7 938.3h1.9v1.9h-1.9zM282.7 880.6h1.9v1.9h-1.9zM276.4 947.2h1.9v1.9h-1.9zM278.7 908.2h1.9v1.9h-1.9zM278.8 932.1h1.9v1.9h-1.9zM283.4 924.7h1.9v1.9h-1.9zM280.8 885.0h1.9v1.9h-1.9zM279.2 882.7h1.9v1.9h-1.9zM282.8 883.3h1.9v1.9h-1.9zM282.8 914.0h1.9v1.9h-1.9zM281.5 885.1h1.9v1.9h-1.9zM284.6 936.3h1.9v1.9h-1.9zM288.1 912.6h1.9v1.9h-1.9zM281.6 895.7h1.9v1.9h-1.9zM291.4 942.8h1.9v1.9h-1.9zM274.7 918.1h1.9v1.9h-1.9zM283.4 879.8h1.9v1.9h-1.9zM284.4 884.5h1.9v1.9h-1.9zM283.4 927.8h1.9v1.9h-1.9zM281.8 915.9h1.9v1.9h-1.9zM282.9 915.9h1.9v1.9h-1.9zM287.5 920.4h1.9v1.9h-1.9zM284.7 898.4h1.9v1.9h-1.9zM281.8 893.1h1.9v1.9h-1.9zM296.9 889.4h1.9v1.9h-1.9zM282.4 944.7h1.9v1.9h-1.9zM279.8 903.4h1.9v1.9h-1.9zM285.2 915.8h1.9v1.9h-1.9zM288.4 937.7h1.9v1.9h-1.9zM289.6 884.6h1.9v1.9h-1.9zM282.0 882.5h1.9v1.9h-1.9zM278.1 915.6h1.9v1.9h-1.9zM279.3 934.6h1.9v1.9h-1.9zM281.6 925.7h1.9v1.9h-1.9zM287.1 930.0h1.9v1.9h-1.9zM285.4 885.5h1.9v1.9h-1.9zM286.4 896.3h1.9v1.9h-1.9zM276.9 930.9h1.9v1.9h-1.9zM269.5 944.9h1.9v1.9h-1.9zM284.1 899.9h1.9v1.9h-1.9zM282.1 885.6h1.9v1.9h-1.9zM286.7 890.4h1.9v1.9h-1.9zM285.3 887.1h1.9v1.9h-1.9zM283.8 902.1h1.9v1.9h-1.9zM284.1 890.4h1.9v1.9h-1.9zM275.5 930.6h1.9v1.9h-1.9zM261.3 905.9h1.9v1.9h-1.9zM287.7 890.6h1.9v1.9h-1.9zM265.6 915.8h1.9v1.9h-1.9zM282.9 896.1h1.9v1.9h-1.9zM288.8 886.3h1.9v1.9h-1.9zM292.5 881.6h1.9v1.9h-1.9zM283.0 940.6h1.9v1.9h-1.9zM288.0 892.0h1.9v1.9h-1.9zM280.4 895.0h1.9v1.9h-1.9zM285.1 919.2h1.9v1.9h-1.9zM287.5 890.9h1.9v1.9h-1.9zM284.4 946.1h1.9v1.9h-1.9zM281.6 894.8h1.9v1.9h-1.9zM278.2 903.3h1.9v1.9h-1.9zM286.8 909.6h1.9v1.9h-1.9zM279.3 881.7h1.9v1.9h-1.9zM288.2 884.3h1.9v1.9h-1.9zM255.3 891.2h1.9v1.9h-1.9zM279.6 880.1h1.9v1.9h-1.9zM283.9 882.3h1.9v1.9h-1.9zM284.9 887.1h1.9v1.9h-1.9zM277.0 895.8h1.9v1.9h-1.9zM280.7 891.9h1.9v1.9h-1.9zM287.3 887.9h1.9v1.9h-1.9zM288.8 883.9h1.9v1.9h-1.9zM277.7 891.2h1.9v1.9h-1.9zM288.6 886.9h1.9v1.9h-1.9zM274.5 891.7h1.9v1.9h-1.9zM275.5 883.8h1.9v1.9h-1.9zM276.3 885.5h1.9v1.9h-1.9zM284.6 886.7h1.9v1.9h-1.9zM300.8 880.2h1.9v1.9h-1.9zM278.5 890.0h1.9v1.9h-1.9z" fill="#12b446"/>
<path d="M279.7 950.0h1.9v1.9h-1.9zM290.5 904.5h1.9v1.9h-1.9zM283.7 940.7h1.9v1.9h-1.9zM284.4 922.8h1.9v1.9h-1.9zM282.4 917.1h1.9v1.9h-1.9zM278.2 952.1h1.9v1.9h-1.9zM283.2 928.5h1.9v1.9h-1.9zM280.3 917.6h1.9v1.9h-1.9zM275.8 893.1h1.9v1.9h-1.9zM279.0 930.1h1.9v1.9h-1.9zM280.3 928.8h1.9v1.9h-1.9zM298.7 925.9h1.9v1.9h-1.9zM274.2 903.0h1.9v1.9h-1.9zM279.2 918.5h1.9v1.9h-1.9zM286.2 888.0h1.9v1.9h-1.9zM280.6 892.1h1.9v1.9h-1.9zM285.4 903.0h1.9v1.9h-1.9zM281.5 924.3h1.9v1.9h-1.9zM282.4 941.4h1.9v1.9h-1.9zM287.6 920.9h1.9v1.9h-1.9zM283.5 898.1h1.9v1.9h-1.9zM279.4 933.5h1.9v1.9h-1.9zM275.9 940.7h1.9v1.9h-1.9zM291.0 893.9h1.9v1.9h-1.9zM276.0 924.9h1.9v1.9h-1.9zM271.9 921.3h1.9v1.9h-1.9zM277.4 927.4h1.9v1.9h-1.9zM286.3 916.6h1.9v1.9h-1.9zM279.1 932.2h1.9v1.9h-1.9zM282.9 928.4h1.9v1.9h-1.9zM279.0 944.5h1.9v1.9h-1.9zM284.7 912.7h1.9v1.9h-1.9zM283.5 921.0h1.9v1.9h-1.9zM284.3 943.7h1.9v1.9h-1.9zM280.7 921.0h1.9v1.9h-1.9zM275.4 945.6h1.9v1.9h-1.9zM277.7 917.1h1.9v1.9h-1.9zM285.4 932.0h1.9v1.9h-1.9zM272.3 954.3h1.9v1.9h-1.9zM282.9 918.4h1.9v1.9h-1.9zM298.1 926.5h1.9v1.9h-1.9zM289.2 892.8h1.9v1.9h-1.9zM283.9 907.9h1.9v1.9h-1.9zM282.2 937.2h1.9v1.9h-1.9zM273.4 886.1h1.9v1.9h-1.9zM279.2 894.3h1.9v1.9h-1.9zM282.4 891.5h1.9v1.9h-1.9zM285.2 907.9h1.9v1.9h-1.9zM287.6 909.4h1.9v1.9h-1.9zM280.1 911.7h1.9v1.9h-1.9zM289.6 905.5h1.9v1.9h-1.9zM283.8 907.0h1.9v1.9h-1.9zM276.6 949.6h1.9v1.9h-1.9zM287.7 893.5h1.9v1.9h-1.9zM276.5 902.5h1.9v1.9h-1.9zM281.0 922.9h1.9v1.9h-1.9zM277.7 952.8h1.9v1.9h-1.9zM290.9 949.5h1.9v1.9h-1.9zM281.6 879.5h1.9v1.9h-1.9zM276.1 920.9h1.9v1.9h-1.9zM283.5 887.5h1.9v1.9h-1.9zM276.1 904.2h1.9v1.9h-1.9zM279.2 950.1h1.9v1.9h-1.9zM282.7 917.4h1.9v1.9h-1.9zM271.7 928.4h1.9v1.9h-1.9zM285.4 923.2h1.9v1.9h-1.9zM269.8 898.3h1.9v1.9h-1.9zM280.5 890.7h1.9v1.9h-1.9zM280.6 901.7h1.9v1.9h-1.9zM277.7 890.9h1.9v1.9h-1.9zM280.9 899.6h1.9v1.9h-1.9zM285.0 898.7h1.9v1.9h-1.9zM280.2 922.0h1.9v1.9h-1.9zM287.1 898.7h1.9v1.9h-1.9zM274.5 926.7h1.9v1.9h-1.9zM278.7 894.5h1.9v1.9h-1.9zM285.0 900.4h1.9v1.9h-1.9zM288.2 890.7h1.9v1.9h-1.9zM277.3 948.9h1.9v1.9h-1.9zM282.0 932.3h1.9v1.9h-1.9zM281.1 903.3h1.9v1.9h-1.9zM289.6 905.5h1.9v1.9h-1.9zM291.4 903.3h1.9v1.9h-1.9zM288.1 893.3h1.9v1.9h-1.9zM272.7 945.4h1.9v1.9h-1.9zM284.6 914.8h1.9v1.9h-1.9zM284.4 931.1h1.9v1.9h-1.9zM270.5 950.4h1.9v1.9h-1.9zM279.5 951.2h1.9v1.9h-1.9zM281.0 906.9h1.9v1.9h-1.9zM287.6 897.7h1.9v1.9h-1.9zM283.4 949.0h1.9v1.9h-1.9zM285.6 889.7h1.9v1.9h-1.9zM285.7 950.8h1.9v1.9h-1.9zM278.5 925.8h1.9v1.9h-1.9zM281.7 890.7h1.9v1.9h-1.9zM285.9 901.7h1.9v1.9h-1.9zM285.9 914.6h1.9v1.9h-1.9zM281.1 928.5h1.9v1.9h-1.9zM276.1 940.1h1.9v1.9h-1.9zM283.9 926.7h1.9v1.9h-1.9zM275.0 951.1h1.9v1.9h-1.9zM281.7 888.8h1.9v1.9h-1.9zM279.1 925.2h1.9v1.9h-1.9zM281.2 890.0h1.9v1.9h-1.9zM278.9 927.1h1.9v1.9h-1.9zM281.2 931.0h1.9v1.9h-1.9zM281.2 895.5h1.9v1.9h-1.9zM295.2 883.7h1.9v1.9h-1.9zM285.7 896.8h1.9v1.9h-1.9zM283.0 913.8h1.9v1.9h-1.9zM280.1 908.2h1.9v1.9h-1.9zM279.0 889.3h1.9v1.9h-1.9zM279.8 893.1h1.9v1.9h-1.9zM276.6 907.9h1.9v1.9h-1.9zM287.1 932.6h1.9v1.9h-1.9zM280.9 920.9h1.9v1.9h-1.9zM279.2 910.6h1.9v1.9h-1.9zM281.9 951.5h1.9v1.9h-1.9zM282.8 885.0h1.9v1.9h-1.9zM276.4 903.4h1.9v1.9h-1.9zM282.9 893.8h1.9v1.9h-1.9zM272.8 915.7h1.9v1.9h-1.9zM274.9 952.7h1.9v1.9h-1.9zM282.4 908.1h1.9v1.9h-1.9zM274.9 913.9h1.9v1.9h-1.9zM290.3 894.4h1.9v1.9h-1.9zM274.0 896.5h1.9v1.9h-1.9zM285.4 896.7h1.9v1.9h-1.9zM282.0 903.9h1.9v1.9h-1.9zM291.4 891.7h1.9v1.9h-1.9zM285.2 897.4h1.9v1.9h-1.9zM282.0 887.9h1.9v1.9h-1.9zM285.1 892.0h1.9v1.9h-1.9zM277.9 894.2h1.9v1.9h-1.9zM280.2 926.9h1.9v1.9h-1.9zM275.1 923.3h1.9v1.9h-1.9zM264.6 915.2h1.9v1.9h-1.9zM285.8 923.4h1.9v1.9h-1.9zM287.3 900.5h1.9v1.9h-1.9zM283.7 885.8h1.9v1.9h-1.9zM281.1 900.9h1.9v1.9h-1.9zM280.7 938.0h1.9v1.9h-1.9zM275.9 910.5h1.9v1.9h-1.9zM280.9 923.6h1.9v1.9h-1.9zM284.8 917.0h1.9v1.9h-1.9zM280.0 904.1h1.9v1.9h-1.9zM278.4 917.4h1.9v1.9h-1.9zM281.6 945.9h1.9v1.9h-1.9zM284.4 897.9h1.9v1.9h-1.9zM274.3 949.2h1.9v1.9h-1.9zM277.0 935.9h1.9v1.9h-1.9zM285.3 933.5h1.9v1.9h-1.9zM284.1 929.9h1.9v1.9h-1.9zM283.6 923.0h1.9v1.9h-1.9zM276.3 922.8h1.9v1.9h-1.9zM280.2 929.9h1.9v1.9h-1.9zM276.2 932.7h1.9v1.9h-1.9zM281.0 892.9h1.9v1.9h-1.9zM284.2 889.3h1.9v1.9h-1.9zM276.8 901.0h1.9v1.9h-1.9zM287.9 893.9h1.9v1.9h-1.9zM283.2 930.4h1.9v1.9h-1.9zM281.9 944.9h1.9v1.9h-1.9zM292.3 889.2h1.9v1.9h-1.9zM283.9 910.7h1.9v1.9h-1.9zM282.8 903.1h1.9v1.9h-1.9zM275.5 932.5h1.9v1.9h-1.9zM278.6 943.2h1.9v1.9h-1.9zM279.6 932.6h1.9v1.9h-1.9zM252.5 910.5h1.9v1.9h-1.9zM274.8 939.2h1.9v1.9h-1.9zM274.1 922.0h1.9v1.9h-1.9zM283.6 921.4h1.9v1.9h-1.9zM285.5 933.5h1.9v1.9h-1.9zM265.7 954.4h1.9v1.9h-1.9zM281.8 910.8h1.9v1.9h-1.9zM274.1 940.1h1.9v1.9h-1.9zM276.3 943.4h1.9v1.9h-1.9zM287.7 926.8h1.9v1.9h-1.9zM276.8 944.9h1.9v1.9h-1.9zM276.9 939.6h1.9v1.9h-1.9zM283.2 909.9h1.9v1.9h-1.9zM277.0 942.7h1.9v1.9h-1.9zM275.1 902.4h1.9v1.9h-1.9zM286.5 902.4h1.9v1.9h-1.9zM281.5 914.1h1.9v1.9h-1.9zM282.2 892.9h1.9v1.9h-1.9zM278.4 886.8h1.9v1.9h-1.9zM281.7 892.8h1.9v1.9h-1.9zM285.1 921.3h1.9v1.9h-1.9zM277.5 897.3h1.9v1.9h-1.9zM276.2 915.4h1.9v1.9h-1.9zM279.4 897.3h1.9v1.9h-1.9zM266.0 908.1h1.9v1.9h-1.9zM277.8 944.8h1.9v1.9h-1.9zM284.3 902.3h1.9v1.9h-1.9zM279.6 945.7h1.9v1.9h-1.9zM285.1 919.1h1.9v1.9h-1.9zM281.5 935.0h1.9v1.9h-1.9zM281.1 891.0h1.9v1.9h-1.9zM281.8 911.7h1.9v1.9h-1.9zM282.4 928.2h1.9v1.9h-1.9zM280.4 934.5h1.9v1.9h-1.9zM279.9 951.0h1.9v1.9h-1.9zM277.0 921.8h1.9v1.9h-1.9zM287.0 920.2h1.9v1.9h-1.9zM270.7 948.8h1.9v1.9h-1.9zM284.7 925.5h1.9v1.9h-1.9zM281.7 898.4h1.9v1.9h-1.9zM273.3 933.3h1.9v1.9h-1.9zM277.1 893.9h1.9v1.9h-1.9zM283.8 914.5h1.9v1.9h-1.9zM283.9 911.4h1.9v1.9h-1.9zM280.9 935.9h1.9v1.9h-1.9zM288.8 894.8h1.9v1.9h-1.9zM280.5 918.2h1.9v1.9h-1.9zM278.8 913.9h1.9v1.9h-1.9zM284.0 931.6h1.9v1.9h-1.9zM278.0 896.4h1.9v1.9h-1.9zM284.3 940.0h1.9v1.9h-1.9zM278.3 950.1h1.9v1.9h-1.9zM281.6 906.9h1.9v1.9h-1.9zM285.3 909.7h1.9v1.9h-1.9zM278.2 946.3h1.9v1.9h-1.9zM280.3 915.7h1.9v1.9h-1.9z" fill="#168a90"/>
<path d="M283.9 929.7h1.9v1.9h-1.9zM285.4 947.1h1.9v1.9h-1.9zM282.2 922.4h1.9v1.9h-1.9zM283.5 914.2h1.9v1.9h-1.9zM289.2 940.0h1.9v1.9h-1.9zM275.2 949.7h1.9v1.9h-1.9zM284.6 913.0h1.9v1.9h-1.9zM280.1 928.2h1.9v1.9h-1.9zM276.5 931.2h1.9v1.9h-1.9zM286.7 937.8h1.9v1.9h-1.9zM284.0 902.8h1.9v1.9h-1.9zM282.0 908.8h1.9v1.9h-1.9zM282.1 909.2h1.9v1.9h-1.9zM291.8 926.7h1.9v1.9h-1.9zM279.8 922.4h1.9v1.9h-1.9zM288.3 905.1h1.9v1.9h-1.9zM280.4 932.5h1.9v1.9h-1.9zM274.1 914.6h1.9v1.9h-1.9zM277.5 914.4h1.9v1.9h-1.9zM279.7 944.0h1.9v1.9h-1.9zM279.6 909.3h1.9v1.9h-1.9zM264.9 921.7h1.9v1.9h-1.9zM289.9 891.7h1.9v1.9h-1.9zM283.3 910.8h1.9v1.9h-1.9zM271.6 942.5h1.9v1.9h-1.9zM284.1 951.8h1.9v1.9h-1.9zM279.8 952.9h1.9v1.9h-1.9zM276.4 933.7h1.9v1.9h-1.9zM282.0 895.8h1.9v1.9h-1.9zM287.4 929.5h1.9v1.9h-1.9zM284.7 909.5h1.9v1.9h-1.9zM282.8 926.2h1.9v1.9h-1.9zM286.1 930.5h1.9v1.9h-1.9zM285.2 941.1h1.9v1.9h-1.9zM282.5 938.5h1.9v1.9h-1.9zM290.0 936.8h1.9v1.9h-1.9zM295.9 927.2h1.9v1.9h-1.9zM279.0 912.0h1.9v1.9h-1.9zM281.2 926.5h1.9v1.9h-1.9zM279.2 939.4h1.9v1.9h-1.9zM278.2 936.9h1.9v1.9h-1.9zM278.0 933.6h1.9v1.9h-1.9zM281.1 901.9h1.9v1.9h-1.9zM282.3 893.4h1.9v1.9h-1.9zM292.6 893.4h1.9v1.9h-1.9zM278.9 897.6h1.9v1.9h-1.9zM277.0 941.6h1.9v1.9h-1.9zM278.0 925.2h1.9v1.9h-1.9zM285.7 891.5h1.9v1.9h-1.9zM290.7 931.2h1.9v1.9h-1.9zM284.8 921.8h1.9v1.9h-1.9zM284.9 894.4h1.9v1.9h-1.9zM277.5 908.4h1.9v1.9h-1.9zM265.0 932.8h1.9v1.9h-1.9zM280.2 924.5h1.9v1.9h-1.9zM275.3 924.0h1.9v1.9h-1.9zM275.1 926.3h1.9v1.9h-1.9zM289.5 894.9h1.9v1.9h-1.9zM279.8 940.5h1.9v1.9h-1.9zM278.4 948.6h1.9v1.9h-1.9zM280.2 897.7h1.9v1.9h-1.9zM280.8 916.8h1.9v1.9h-1.9zM281.2 912.9h1.9v1.9h-1.9zM282.1 906.0h1.9v1.9h-1.9zM294.6 932.7h1.9v1.9h-1.9zM288.1 906.4h1.9v1.9h-1.9zM271.6 950.8h1.9v1.9h-1.9zM277.8 922.0h1.9v1.9h-1.9zM288.2 927.9h1.9v1.9h-1.9zM274.1 930.5h1.9v1.9h-1.9zM279.1 945.8h1.9v1.9h-1.9zM275.1 932.3h1.9v1.9h-1.9zM275.0 952.0h1.9v1.9h-1.9zM260.6 931.7h1.9v1.9h-1.9zM278.9 898.9h1.9v1.9h-1.9zM282.3 938.2h1.9v1.9h-1.9zM281.0 908.4h1.9v1.9h-1.9zM280.7 941.6h1.9v1.9h-1.9zM284.1 935.8h1.9v1.9h-1.9zM282.0 905.0h1.9v1.9h-1.9zM289.1 898.1h1.9v1.9h-1.9zM284.8 924.4h1.9v1.9h-1.9zM285.8 929.1h1.9v1.9h-1.9zM273.6 950.8h1.9v1.9h-1.9zM282.5 949.5h1.9v1.9h-1.9zM279.6 931.9h1.9v1.9h-1.9zM278.3 919.3h1.9v1.9h-1.9zM288.6 903.0h1.9v1.9h-1.9zM278.9 944.1h1.9v1.9h-1.9zM277.2 913.8h1.9v1.9h-1.9zM281.5 907.3h1.9v1.9h-1.9zM278.3 948.5h1.9v1.9h-1.9zM287.8 904.6h1.9v1.9h-1.9zM293.0 891.9h1.9v1.9h-1.9zM274.2 932.6h1.9v1.9h-1.9zM284.8 908.4h1.9v1.9h-1.9zM281.0 921.3h1.9v1.9h-1.9zM280.3 893.3h1.9v1.9h-1.9zM274.0 922.2h1.9v1.9h-1.9zM268.8 947.2h1.9v1.9h-1.9zM283.1 936.9h1.9v1.9h-1.9zM285.9 940.9h1.9v1.9h-1.9zM280.5 943.4h1.9v1.9h-1.9zM277.2 916.9h1.9v1.9h-1.9zM283.3 918.7h1.9v1.9h-1.9zM285.2 945.8h1.9v1.9h-1.9zM279.9 942.2h1.9v1.9h-1.9zM277.7 948.1h1.9v1.9h-1.9zM292.0 924.2h1.9v1.9h-1.9zM280.8 900.1h1.9v1.9h-1.9zM267.7 949.9h1.9v1.9h-1.9zM284.7 918.1h1.9v1.9h-1.9zM282.7 890.4h1.9v1.9h-1.9zM286.0 895.0h1.9v1.9h-1.9zM283.2 895.5h1.9v1.9h-1.9zM268.6 886.8h1.9v1.9h-1.9zM286.1 947.3h1.9v1.9h-1.9zM278.8 942.8h1.9v1.9h-1.9zM280.8 911.1h1.9v1.9h-1.9zM289.6 913.1h1.9v1.9h-1.9zM272.4 940.7h1.9v1.9h-1.9zM280.3 927.8h1.9v1.9h-1.9zM285.8 896.9h1.9v1.9h-1.9zM283.5 930.5h1.9v1.9h-1.9zM282.0 895.9h1.9v1.9h-1.9zM282.8 935.0h1.9v1.9h-1.9zM272.8 919.5h1.9v1.9h-1.9zM279.8 927.8h1.9v1.9h-1.9zM281.8 949.8h1.9v1.9h-1.9zM285.9 899.5h1.9v1.9h-1.9zM280.4 946.4h1.9v1.9h-1.9zM276.0 894.5h1.9v1.9h-1.9zM283.0 898.9h1.9v1.9h-1.9zM277.3 952.5h1.9v1.9h-1.9zM278.9 929.0h1.9v1.9h-1.9zM278.2 946.8h1.9v1.9h-1.9zM279.5 943.1h1.9v1.9h-1.9zM280.7 904.9h1.9v1.9h-1.9zM285.9 926.0h1.9v1.9h-1.9zM284.9 921.3h1.9v1.9h-1.9zM287.1 892.9h1.9v1.9h-1.9zM284.6 901.1h1.9v1.9h-1.9zM286.3 946.3h1.9v1.9h-1.9zM279.0 940.4h1.9v1.9h-1.9zM274.0 941.4h1.9v1.9h-1.9zM281.3 948.7h1.9v1.9h-1.9zM272.7 952.2h1.9v1.9h-1.9zM279.5 904.1h1.9v1.9h-1.9zM282.9 923.6h1.9v1.9h-1.9zM281.0 933.6h1.9v1.9h-1.9zM281.0 935.6h1.9v1.9h-1.9zM283.2 901.2h1.9v1.9h-1.9zM287.4 906.6h1.9v1.9h-1.9zM287.3 907.9h1.9v1.9h-1.9zM285.4 920.2h1.9v1.9h-1.9zM280.2 947.9h1.9v1.9h-1.9zM278.1 949.6h1.9v1.9h-1.9zM276.5 947.2h1.9v1.9h-1.9zM275.8 925.2h1.9v1.9h-1.9zM258.3 927.2h1.9v1.9h-1.9zM283.8 929.6h1.9v1.9h-1.9zM281.1 947.3h1.9v1.9h-1.9zM279.8 900.4h1.9v1.9h-1.9zM262.2 922.8h1.9v1.9h-1.9zM286.2 894.1h1.9v1.9h-1.9zM277.0 948.9h1.9v1.9h-1.9zM282.1 946.8h1.9v1.9h-1.9zM279.8 913.5h1.9v1.9h-1.9zM277.1 939.5h1.9v1.9h-1.9zM283.8 910.7h1.9v1.9h-1.9zM280.0 935.3h1.9v1.9h-1.9zM264.9 921.7h1.9v1.9h-1.9zM279.3 945.5h1.9v1.9h-1.9zM283.9 905.5h1.9v1.9h-1.9zM283.4 904.1h1.9v1.9h-1.9zM282.5 950.7h1.9v1.9h-1.9zM276.7 949.1h1.9v1.9h-1.9zM284.7 910.3h1.9v1.9h-1.9zM271.4 936.0h1.9v1.9h-1.9zM274.4 929.9h1.9v1.9h-1.9zM270.0 928.2h1.9v1.9h-1.9zM285.7 906.0h1.9v1.9h-1.9zM285.8 945.1h1.9v1.9h-1.9zM280.7 924.7h1.9v1.9h-1.9zM272.6 920.8h1.9v1.9h-1.9zM277.2 927.3h1.9v1.9h-1.9zM283.3 898.1h1.9v1.9h-1.9zM280.6 950.4h1.9v1.9h-1.9zM282.0 946.5h1.9v1.9h-1.9zM275.0 913.6h1.9v1.9h-1.9zM279.2 921.7h1.9v1.9h-1.9zM283.1 920.2h1.9v1.9h-1.9zM281.4 919.2h1.9v1.9h-1.9zM292.5 890.4h1.9v1.9h-1.9zM278.1 914.3h1.9v1.9h-1.9zM278.5 936.1h1.9v1.9h-1.9zM284.6 925.5h1.9v1.9h-1.9zM284.8 907.5h1.9v1.9h-1.9zM286.6 903.1h1.9v1.9h-1.9zM283.2 931.7h1.9v1.9h-1.9zM277.4 917.7h1.9v1.9h-1.9zM273.1 935.7h1.9v1.9h-1.9zM277.0 946.0h1.9v1.9h-1.9zM285.2 920.2h1.9v1.9h-1.9zM282.5 950.4h1.9v1.9h-1.9zM283.3 943.7h1.9v1.9h-1.9zM266.4 954.3h1.9v1.9h-1.9zM266.2 929.0h1.9v1.9h-1.9z" fill="#1f58c8"/>
<path d="M279.0 902.2h1.9v1.9h-1.9zM285.6 927.7h1.9v1.9h-1.9zM285.1 912.7h1.9v1.9h-1.9zM280.1 951.6h1.9v1.9h-1.9zM280.8 948.7h1.9v1.9h-1.9zM272.8 918.0h1.9v1.9h-1.9zM291.1 930.1h1.9v1.9h-1.9zM274.3 950.0h1.9v1.9h-1.9zM279.9 935.5h1.9v1.9h-1.9zM272.3 915.2h1.9v1.9h-1.9zM287.3 942.5h1.9v1.9h-1.9zM283.2 896.8h1.9v1.9h-1.9zM281.9 929.0h1.9v1.9h-1.9zM275.3 903.5h1.9v1.9h-1.9zM282.5 915.8h1.9v1.9h-1.9zM274.8 943.4h1.9v1.9h-1.9zM283.5 912.9h1.9v1.9h-1.9zM278.2 943.9h1.9v1.9h-1.9zM270.3 949.0h1.9v1.9h-1.9zM283.5 949.5h1.9v1.9h-1.9zM279.2 927.5h1.9v1.9h-1.9zM276.1 918.8h1.9v1.9h-1.9zM272.0 886.2h1.9v1.9h-1.9zM282.5 920.1h1.9v1.9h-1.9zM285.2 901.2h1.9v1.9h-1.9zM278.5 912.9h1.9v1.9h-1.9zM282.1 936.3h1.9v1.9h-1.9zM287.6 900.6h1.9v1.9h-1.9zM281.7 914.2h1.9v1.9h-1.9zM284.7 917.5h1.9v1.9h-1.9zM282.3 923.5h1.9v1.9h-1.9zM273.7 914.4h1.9v1.9h-1.9zM283.3 905.6h1.9v1.9h-1.9zM278.8 931.5h1.9v1.9h-1.9zM284.4 937.4h1.9v1.9h-1.9zM282.0 948.5h1.9v1.9h-1.9zM265.5 898.8h1.9v1.9h-1.9zM283.6 912.1h1.9v1.9h-1.9zM275.4 946.0h1.9v1.9h-1.9zM276.7 924.9h1.9v1.9h-1.9zM257.9 950.6h1.9v1.9h-1.9zM276.1 950.1h1.9v1.9h-1.9zM277.8 907.3h1.9v1.9h-1.9zM285.9 948.2h1.9v1.9h-1.9zM272.0 946.6h1.9v1.9h-1.9zM284.8 907.1h1.9v1.9h-1.9zM277.2 945.6h1.9v1.9h-1.9zM280.7 919.8h1.9v1.9h-1.9zM258.2 940.7h1.9v1.9h-1.9zM271.7 909.7h1.9v1.9h-1.9zM279.7 922.7h1.9v1.9h-1.9z" fill="#1a30e0"/>
<path d="M288.5 877.8h1.9v1.9h-1.9z" fill="#a8f000"/>
<path d="M288.0 878.4h1.9v1.9h-1.9zM293.1 877.3h1.9v1.9h-1.9zM288.2 909.1h1.9v1.9h-1.9zM288.7 878.9h1.9v1.9h-1.9zM269.0 909.0h1.9v1.9h-1.9zM281.2 881.0h1.9v1.9h-1.9zM288.8 878.3h1.9v1.9h-1.9zM280.9 884.4h1.9v1.9h-1.9zM284.3 876.1h1.9v1.9h-1.9zM285.3 880.1h1.9v1.9h-1.9zM290.3 877.3h1.9v1.9h-1.9z" fill="#50ec0a"/>
<path d="M292.5 909.4h1.9v1.9h-1.9zM283.4 880.7h1.9v1.9h-1.9zM288.0 883.3h1.9v1.9h-1.9zM284.6 883.4h1.9v1.9h-1.9zM279.4 880.0h1.9v1.9h-1.9zM295.4 931.1h1.9v1.9h-1.9zM293.0 882.7h1.9v1.9h-1.9zM281.4 894.9h1.9v1.9h-1.9zM264.4 918.5h1.9v1.9h-1.9zM286.3 884.3h1.9v1.9h-1.9zM291.2 879.0h1.9v1.9h-1.9zM279.7 885.4h1.9v1.9h-1.9zM290.1 884.0h1.9v1.9h-1.9zM291.2 881.0h1.9v1.9h-1.9zM281.6 879.6h1.9v1.9h-1.9zM288.5 883.2h1.9v1.9h-1.9zM280.5 877.2h1.9v1.9h-1.9zM284.4 886.7h1.9v1.9h-1.9zM282.1 876.4h1.9v1.9h-1.9zM288.3 877.3h1.9v1.9h-1.9zM285.0 876.1h1.9v1.9h-1.9zM288.0 883.7h1.9v1.9h-1.9zM285.8 884.6h1.9v1.9h-1.9zM286.4 887.1h1.9v1.9h-1.9zM285.8 880.3h1.9v1.9h-1.9zM272.0 923.0h1.9v1.9h-1.9zM281.0 889.0h1.9v1.9h-1.9zM265.6 941.6h1.9v1.9h-1.9zM290.1 880.9h1.9v1.9h-1.9zM275.9 880.1h1.9v1.9h-1.9zM284.1 886.2h1.9v1.9h-1.9zM265.8 908.2h1.9v1.9h-1.9zM285.4 878.6h1.9v1.9h-1.9zM258.0 938.5h1.9v1.9h-1.9zM288.3 881.4h1.9v1.9h-1.9zM287.0 887.5h1.9v1.9h-1.9z" fill="#14d214"/>
<path d="M289.6 881.2h1.9v1.9h-1.9zM282.8 889.6h1.9v1.9h-1.9zM288.0 876.2h1.9v1.9h-1.9zM277.5 912.3h1.9v1.9h-1.9zM270.8 911.7h1.9v1.9h-1.9zM285.7 877.0h1.9v1.9h-1.9zM290.2 885.2h1.9v1.9h-1.9zM256.0 893.7h1.9v1.9h-1.9zM275.4 890.5h1.9v1.9h-1.9zM281.7 876.2h1.9v1.9h-1.9zM284.5 944.1h1.9v1.9h-1.9zM301.6 897.7h1.9v1.9h-1.9zM286.3 945.9h1.9v1.9h-1.9zM284.0 889.8h1.9v1.9h-1.9zM281.9 894.2h1.9v1.9h-1.9zM278.3 879.7h1.9v1.9h-1.9zM275.6 922.2h1.9v1.9h-1.9zM282.8 899.8h1.9v1.9h-1.9zM281.9 894.1h1.9v1.9h-1.9zM273.3 929.2h1.9v1.9h-1.9zM289.0 893.4h1.9v1.9h-1.9zM292.8 884.2h1.9v1.9h-1.9zM283.9 934.4h1.9v1.9h-1.9zM288.1 884.6h1.9v1.9h-1.9zM284.9 898.6h1.9v1.9h-1.9zM274.6 889.8h1.9v1.9h-1.9zM286.1 882.1h1.9v1.9h-1.9zM285.5 882.9h1.9v1.9h-1.9zM283.9 908.0h1.9v1.9h-1.9zM278.7 952.0h1.9v1.9h-1.9zM276.8 891.0h1.9v1.9h-1.9zM292.3 901.6h1.9v1.9h-1.9zM283.7 879.1h1.9v1.9h-1.9zM274.6 935.8h1.9v1.9h-1.9zM279.7 891.7h1.9v1.9h-1.9zM285.7 937.2h1.9v1.9h-1.9zM278.6 882.8h1.9v1.9h-1.9zM277.7 927.7h1.9v1.9h-1.9zM290.9 890.0h1.9v1.9h-1.9zM284.3 936.1h1.9v1.9h-1.9zM283.2 896.0h1.9v1.9h-1.9zM286.5 888.1h1.9v1.9h-1.9zM277.6 877.0h1.9v1.9h-1.9zM288.3 894.8h1.9v1.9h-1.9zM287.4 883.4h1.9v1.9h-1.9zM279.1 880.1h1.9v1.9h-1.9zM268.8 933.9h1.9v1.9h-1.9zM295.0 923.3h1.9v1.9h-1.9zM280.6 935.3h1.9v1.9h-1.9zM278.2 893.2h1.9v1.9h-1.9zM283.4 895.4h1.9v1.9h-1.9zM267.1 904.9h1.9v1.9h-1.9zM284.7 882.9h1.9v1.9h-1.9zM281.6 893.6h1.9v1.9h-1.9zM286.5 887.5h1.9v1.9h-1.9zM283.2 885.0h1.9v1.9h-1.9zM283.7 904.2h1.9v1.9h-1.9zM275.6 890.6h1.9v1.9h-1.9zM287.0 880.8h1.9v1.9h-1.9zM284.9 879.7h1.9v1.9h-1.9zM281.8 905.7h1.9v1.9h-1.9zM289.4 889.4h1.9v1.9h-1.9zM280.5 911.9h1.9v1.9h-1.9zM287.2 886.5h1.9v1.9h-1.9zM283.6 912.0h1.9v1.9h-1.9zM290.2 908.5h1.9v1.9h-1.9zM271.7 947.3h1.9v1.9h-1.9zM282.5 942.3h1.9v1.9h-1.9zM285.9 882.1h1.9v1.9h-1.9zM286.6 914.1h1.9v1.9h-1.9zM282.2 889.7h1.9v1.9h-1.9zM285.6 911.6h1.9v1.9h-1.9zM279.8 886.6h1.9v1.9h-1.9zM290.3 889.0h1.9v1.9h-1.9zM287.3 900.7h1.9v1.9h-1.9zM280.9 879.4h1.9v1.9h-1.9zM286.6 881.3h1.9v1.9h-1.9zM290.1 882.4h1.9v1.9h-1.9zM288.7 884.2h1.9v1.9h-1.9zM264.6 897.6h1.9v1.9h-1.9zM280.3 902.3h1.9v1.9h-1.9zM285.4 878.7h1.9v1.9h-1.9zM291.4 879.9h1.9v1.9h-1.9zM283.7 886.0h1.9v1.9h-1.9zM287.5 894.9h1.9v1.9h-1.9zM276.9 947.6h1.9v1.9h-1.9zM283.0 902.5h1.9v1.9h-1.9zM284.1 895.5h1.9v1.9h-1.9zM285.4 885.5h1.9v1.9h-1.9zM269.2 941.3h1.9v1.9h-1.9zM288.5 894.0h1.9v1.9h-1.9zM270.2 921.3h1.9v1.9h-1.9zM281.8 925.1h1.9v1.9h-1.9zM278.4 943.4h1.9v1.9h-1.9zM276.9 885.1h1.9v1.9h-1.9zM293.5 925.8h1.9v1.9h-1.9zM284.7 884.7h1.9v1.9h-1.9zM285.9 885.8h1.9v1.9h-1.9zM284.9 904.0h1.9v1.9h-1.9zM277.4 884.2h1.9v1.9h-1.9zM285.5 892.9h1.9v1.9h-1.9z" fill="#12b446"/>
<path d="M287.1 887.1h1.9v1.9h-1.9zM283.1 930.9h1.9v1.9h-1.9zM283.9 911.1h1.9v1.9h-1.9zM284.7 927.3h1.9v1.9h-1.9zM272.9 947.9h1.9v1.9h-1.9zM282.1 898.8h1.9v1.9h-1.9zM274.1 900.2h1.9v1.9h-1.9zM288.6 916.6h1.9v1.9h-1.9zM282.0 901.4h1.9v1.9h-1.9zM278.3 922.7h1.9v1.9h-1.9zM283.1 897.1h1.9v1.9h-1.9zM283.3 929.1h1.9v1.9h-1.9zM290.7 907.6h1.9v1.9h-1.9zM281.8 934.0h1.9v1.9h-1.9zM274.0 952.3h1.9v1.9h-1.9zM266.4 931.9h1.9v1.9h-1.9zM289.5 901.5h1.9v1.9h-1.9zM280.3 930.9h1.9v1.9h-1.9zM282.7 899.4h1.9v1.9h-1.9zM277.1 932.6h1.9v1.9h-1.9zM261.2 894.1h1.9v1.9h-1.9zM285.2 887.6h1.9v1.9h-1.9zM284.8 925.1h1.9v1.9h-1.9zM279.2 917.7h1.9v1.9h-1.9zM279.3 915.3h1.9v1.9h-1.9zM276.8 910.3h1.9v1.9h-1.9zM266.3 939.1h1.9v1.9h-1.9zM289.5 900.4h1.9v1.9h-1.9zM278.8 922.2h1.9v1.9h-1.9zM283.1 911.9h1.9v1.9h-1.9zM274.2 939.2h1.9v1.9h-1.9zM278.5 922.5h1.9v1.9h-1.9zM283.8 928.3h1.9v1.9h-1.9zM281.1 938.4h1.9v1.9h-1.9zM284.2 889.8h1.9v1.9h-1.9zM280.3 900.4h1.9v1.9h-1.9zM294.0 887.7h1.9v1.9h-1.9zM281.4 898.9h1.9v1.9h-1.9zM277.3 915.2h1.9v1.9h-1.9zM278.0 937.5h1.9v1.9h-1.9zM287.3 898.6h1.9v1.9h-1.9zM273.8 931.2h1.9v1.9h-1.9zM276.6 908.4h1.9v1.9h-1.9zM283.7 949.3h1.9v1.9h-1.9zM285.6 904.9h1.9v1.9h-1.9zM264.3 920.8h1.9v1.9h-1.9zM278.6 886.6h1.9v1.9h-1.9zM280.6 913.6h1.9v1.9h-1.9zM281.0 928.3h1.9v1.9h-1.9zM287.0 938.7h1.9v1.9h-1.9zM278.7 927.4h1.9v1.9h-1.9zM276.6 911.6h1.9v1.9h-1.9zM280.0 928.6h1.9v1.9h-1.9zM277.8 951.4h1.9v1.9h-1.9zM285.9 912.1h1.9v1.9h-1.9zM276.0 911.6h1.9v1.9h-1.9zM278.0 888.4h1.9v1.9h-1.9zM285.7 887.9h1.9v1.9h-1.9zM282.1 933.9h1.9v1.9h-1.9zM282.5 890.4h1.9v1.9h-1.9zM273.6 937.2h1.9v1.9h-1.9zM280.1 918.8h1.9v1.9h-1.9zM288.2 881.9h1.9v1.9h-1.9zM277.4 905.5h1.9v1.9h-1.9zM285.9 888.2h1.9v1.9h-1.9zM290.2 898.2h1.9v1.9h-1.9zM284.0 932.4h1.9v1.9h-1.9zM281.5 911.3h1.9v1.9h-1.9zM281.1 909.8h1.9v1.9h-1.9zM279.8 952.1h1.9v1.9h-1.9zM278.9 937.9h1.9v1.9h-1.9zM276.3 929.1h1.9v1.9h-1.9zM278.8 906.5h1.9v1.9h-1.9zM283.5 942.7h1.9v1.9h-1.9zM275.4 940.7h1.9v1.9h-1.9zM282.8 897.5h1.9v1.9h-1.9zM280.2 936.6h1.9v1.9h-1.9zM275.3 910.4h1.9v1.9h-1.9zM277.6 903.5h1.9v1.9h-1.9zM283.3 906.3h1.9v1.9h-1.9zM281.1 888.7h1.9v1.9h-1.9zM276.3 907.6h1.9v1.9h-1.9zM285.0 888.1h1.9v1.9h-1.9zM277.5 923.3h1.9v1.9h-1.9zM284.1 932.9h1.9v1.9h-1.9zM281.6 893.2h1.9v1.9h-1.9zM283.4 905.6h1.9v1.9h-1.9zM278.4 934.3h1.9v1.9h-1.9zM281.5 923.9h1.9v1.9h-1.9zM283.1 930.8h1.9v1.9h-1.9zM285.9 913.6h1.9v1.9h-1.9zM292.4 905.0h1.9v1.9h-1.9zM279.6 924.0h1.9v1.9h-1.9zM247.5 884.6h1.9v1.9h-1.9zM285.5 914.7h1.9v1.9h-1.9zM286.1 928.5h1.9v1.9h-1.9zM279.2 904.7h1.9v1.9h-1.9zM286.4 888.9h1.9v1.9h-1.9zM278.1 899.2h1.9v1.9h-1.9zM273.6 943.3h1.9v1.9h-1.9zM280.0 899.9h1.9v1.9h-1.9zM275.8 929.6h1.9v1.9h-1.9zM285.2 892.3h1.9v1.9h-1.9zM287.6 892.1h1.9v1.9h-1.9zM287.5 896.6h1.9v1.9h-1.9zM280.0 912.2h1.9v1.9h-1.9zM276.3 911.5h1.9v1.9h-1.9zM271.7 949.6h1.9v1.9h-1.9zM287.3 896.8h1.9v1.9h-1.9zM282.0 927.1h1.9v1.9h-1.9zM278.4 909.5h1.9v1.9h-1.9zM277.5 928.1h1.9v1.9h-1.9zM286.2 915.8h1.9v1.9h-1.9zM284.2 935.7h1.9v1.9h-1.9zM280.2 936.5h1.9v1.9h-1.9zM283.5 938.9h1.9v1.9h-1.9zM260.8 932.3h1.9v1.9h-1.9zM284.0 913.0h1.9v1.9h-1.9zM278.7 930.4h1.9v1.9h-1.9zM277.9 946.7h1.9v1.9h-1.9zM278.6 897.3h1.9v1.9h-1.9zM278.7 933.0h1.9v1.9h-1.9zM287.5 919.6h1.9v1.9h-1.9zM281.2 932.7h1.9v1.9h-1.9zM293.7 894.2h1.9v1.9h-1.9zM280.6 910.8h1.9v1.9h-1.9zM279.6 897.2h1.9v1.9h-1.9zM303.0 928.4h1.9v1.9h-1.9zM280.7 925.6h1.9v1.9h-1.9zM290.4 927.1h1.9v1.9h-1.9zM278.9 946.4h1.9v1.9h-1.9zM281.6 944.6h1.9v1.9h-1.9zM273.2 927.9h1.9v1.9h-1.9zM283.1 887.8h1.9v1.9h-1.9zM277.7 916.6h1.9v1.9h-1.9zM286.4 885.9h1.9v1.9h-1.9zM278.4 892.1h1.9v1.9h-1.9zM280.8 934.6h1.9v1.9h-1.9zM276.2 949.8h1.9v1.9h-1.9zM275.6 943.3h1.9v1.9h-1.9zM278.9 888.4h1.9v1.9h-1.9zM286.3 890.5h1.9v1.9h-1.9zM283.6 913.0h1.9v1.9h-1.9zM280.3 912.8h1.9v1.9h-1.9zM285.5 927.7h1.9v1.9h-1.9zM280.8 937.6h1.9v1.9h-1.9zM280.5 882.2h1.9v1.9h-1.9zM284.5 899.3h1.9v1.9h-1.9zM281.5 919.6h1.9v1.9h-1.9zM288.3 911.5h1.9v1.9h-1.9zM278.8 940.4h1.9v1.9h-1.9zM288.3 910.9h1.9v1.9h-1.9zM283.9 922.7h1.9v1.9h-1.9zM274.5 919.0h1.9v1.9h-1.9zM285.7 884.7h1.9v1.9h-1.9zM285.6 945.8h1.9v1.9h-1.9zM277.6 890.7h1.9v1.9h-1.9zM286.1 893.8h1.9v1.9h-1.9zM277.8 923.7h1.9v1.9h-1.9zM279.0 902.3h1.9v1.9h-1.9zM281.2 918.7h1.9v1.9h-1.9zM275.2 949.1h1.9v1.9h-1.9zM288.5 897.3h1.9v1.9h-1.9zM266.7 950.3h1.9v1.9h-1.9zM284.2 906.8h1.9v1.9h-1.9zM282.9 910.7h1.9v1.9h-1.9zM278.2 916.0h1.9v1.9h-1.9zM280.2 894.3h1.9v1.9h-1.9zM281.6 886.5h1.9v1.9h-1.9zM257.3 914.1h1.9v1.9h-1.9zM285.1 918.6h1.9v1.9h-1.9zM299.9 938.4h1.9v1.9h-1.9zM288.9 900.8h1.9v1.9h-1.9zM284.1 891.9h1.9v1.9h-1.9zM278.5 913.4h1.9v1.9h-1.9zM284.2 910.5h1.9v1.9h-1.9zM288.2 910.9h1.9v1.9h-1.9zM281.9 931.2h1.9v1.9h-1.9zM265.1 919.4h1.9v1.9h-1.9zM278.5 948.2h1.9v1.9h-1.9zM283.6 942.7h1.9v1.9h-1.9zM274.9 902.8h1.9v1.9h-1.9zM282.0 886.6h1.9v1.9h-1.9zM290.0 880.1h1.9v1.9h-1.9zM276.2 924.7h1.9v1.9h-1.9zM279.8 894.7h1.9v1.9h-1.9zM263.0 908.7h1.9v1.9h-1.9zM292.1 903.0h1.9v1.9h-1.9zM283.7 893.5h1.9v1.9h-1.9zM280.6 915.0h1.9v1.9h-1.9zM273.1 942.5h1.9v1.9h-1.9zM275.3 940.0h1.9v1.9h-1.9zM283.6 898.1h1.9v1.9h-1.9zM265.8 915.2h1.9v1.9h-1.9zM284.2 934.3h1.9v1.9h-1.9zM280.2 930.0h1.9v1.9h-1.9zM280.4 923.5h1.9v1.9h-1.9zM273.9 936.9h1.9v1.9h-1.9zM277.6 917.8h1.9v1.9h-1.9zM281.1 893.9h1.9v1.9h-1.9zM275.4 944.1h1.9v1.9h-1.9zM286.7 925.2h1.9v1.9h-1.9zM282.0 884.4h1.9v1.9h-1.9zM282.6 910.2h1.9v1.9h-1.9zM286.7 893.5h1.9v1.9h-1.9zM282.6 929.1h1.9v1.9h-1.9zM284.7 908.1h1.9v1.9h-1.9zM280.0 933.2h1.9v1.9h-1.9zM282.6 896.7h1.9v1.9h-1.9zM281.9 920.4h1.9v1.9h-1.9zM278.3 945.1h1.9v1.9h-1.9zM283.7 894.0h1.9v1.9h-1.9zM279.6 943.0h1.9v1.9h-1.9zM302.0 937.5h1.9v1.9h-1.9zM280.1 893.7h1.9v1.9h-1.9zM281.2 886.0h1.9v1.9h-1.9zM282.1 907.7h1.9v1.9h-1.9zM274.6 952.4h1.9v1.9h-1.9zM281.4 935.3h1.9v1.9h-1.9zM286.3 904.4h1.9v1.9h-1.9z" fill="#168a90"/>
<path d="M278.0 925.8h1.9v1.9h-1.9zM280.7 928.3h1.9v1.9h-1.9zM282.7 926.1h1.9v1.9h-1.9zM281.8 929.0h1.9v1.9h-1.9zM278.2 909.1h1.9v1.9h-1.9zM276.9 886.9h1.9v1.9h-1.9zM279.8 900.6h1.9v1.9h-1.9zM277.2 920.0h1.9v1.9h-1.9zM285.0 916.6h1.9v1.9h-1.9zM272.2 947.3h1.9v1.9h-1.9zM277.6 937.3h1.9v1.9h-1.9zM279.8 920.1h1.9v1.9h-1.9zM281.8 934.6h1.9v1.9h-1.9zM277.1 903.5h1.9v1.9h-1.9zM280.2 895.7h1.9v1.9h-1.9zM277.2 950.8h1.9v1.9h-1.9zM278.7 939.2h1.9v1.9h-1.9zM275.9 936.7h1.9v1.9h-1.9zM290.4 904.2h1.9v1.9h-1.9zM277.7 905.9h1.9v1.9h-1.9zM277.0 949.3h1.9v1.9h-1.9zM281.0 901.3h1.9v1.9h-1.9zM280.8 912.1h1.9v1.9h-1.9zM278.9 930.9h1.9v1.9h-1.9zM276.3 933.3h1.9v1.9h-1.9zM268.1 894.0h1.9v1.9h-1.9zM283.5 910.8h1.9v1.9h-1.9zM285.9 928.2h1.9v1.9h-1.9zM279.8 925.8h1.9v1.9h-1.9zM278.0 942.0h1.9v1.9h-1.9zM286.1 939.4h1.9v1.9h-1.9zM277.6 917.5h1.9v1.9h-1.9zM282.1 892.4h1.9v1.9h-1.9zM282.6 925.3h1.9v1.9h-1.9zM275.0 953.0h1.9v1.9h-1.9zM281.0 935.8h1.9v1.9h-1.9zM281.1 920.5h1.9v1.9h-1.9zM275.7 932.1h1.9v1.9h-1.9zM277.7 927.9h1.9v1.9h-1.9zM286.2 939.9h1.9v1.9h-1.9zM279.7 926.9h1.9v1.9h-1.9zM288.7 935.8h1.9v1.9h-1.9zM280.8 932.3h1.9v1.9h-1.9zM271.8 950.7h1.9v1.9h-1.9zM287.8 938.7h1.9v1.9h-1.9zM280.5 902.9h1.9v1.9h-1.9zM270.6 944.1h1.9v1.9h-1.9zM277.9 913.3h1.9v1.9h-1.9zM283.1 905.4h1.9v1.9h-1.9zM276.3 904.3h1.9v1.9h-1.9zM287.4 903.1h1.9v1.9h-1.9zM276.9 937.2h1.9v1.9h-1.9zM284.6 911.2h1.9v1.9h-1.9zM278.3 891.3h1.9v1.9h-1.9zM288.6 911.6h1.9v1.9h-1.9zM276.8 952.6h1.9v1.9h-1.9zM274.5 951.9h1.9v1.9h-1.9zM290.2 888.9h1.9v1.9h-1.9zM275.1 904.9h1.9v1.9h-1.9zM283.1 921.1h1.9v1.9h-1.9zM282.4 913.8h1.9v1.9h-1.9zM276.1 937.0h1.9v1.9h-1.9zM289.7 889.5h1.9v1.9h-1.9zM279.3 938.9h1.9v1.9h-1.9zM282.9 945.4h1.9v1.9h-1.9zM278.6 891.3h1.9v1.9h-1.9zM281.4 928.1h1.9v1.9h-1.9zM258.7 933.1h1.9v1.9h-1.9zM260.8 902.2h1.9v1.9h-1.9zM284.3 900.5h1.9v1.9h-1.9zM284.4 927.8h1.9v1.9h-1.9zM283.9 892.4h1.9v1.9h-1.9zM284.7 900.0h1.9v1.9h-1.9zM279.0 947.1h1.9v1.9h-1.9zM280.5 934.8h1.9v1.9h-1.9zM277.0 916.8h1.9v1.9h-1.9zM285.1 902.3h1.9v1.9h-1.9zM287.2 901.2h1.9v1.9h-1.9zM275.7 898.2h1.9v1.9h-1.9zM289.8 908.1h1.9v1.9h-1.9zM278.8 926.6h1.9v1.9h-1.9zM275.1 939.8h1.9v1.9h-1.9zM277.6 913.8h1.9v1.9h-1.9zM282.8 936.3h1.9v1.9h-1.9zM282.5 904.9h1.9v1.9h-1.9zM286.0 890.3h1.9v1.9h-1.9zM286.7 940.5h1.9v1.9h-1.9zM297.7 946.4h1.9v1.9h-1.9zM282.2 944.4h1.9v1.9h-1.9zM281.9 905.7h1.9v1.9h-1.9zM277.0 937.0h1.9v1.9h-1.9zM275.8 896.0h1.9v1.9h-1.9zM284.6 938.6h1.9v1.9h-1.9zM287.4 918.5h1.9v1.9h-1.9zM288.9 928.5h1.9v1.9h-1.9zM283.6 902.0h1.9v1.9h-1.9zM280.1 940.3h1.9v1.9h-1.9zM278.5 938.5h1.9v1.9h-1.9zM282.6 890.2h1.9v1.9h-1.9zM286.7 902.6h1.9v1.9h-1.9zM279.2 949.8h1.9v1.9h-1.9zM285.6 943.3h1.9v1.9h-1.9zM285.7 948.5h1.9v1.9h-1.9zM285.3 948.3h1.9v1.9h-1.9zM283.6 922.1h1.9v1.9h-1.9zM281.0 911.6h1.9v1.9h-1.9zM280.3 902.1h1.9v1.9h-1.9zM281.6 941.6h1.9v1.9h-1.9zM277.1 949.7h1.9v1.9h-1.9zM277.2 909.2h1.9v1.9h-1.9zM286.9 919.3h1.9v1.9h-1.9zM257.2 937.9h1.9v1.9h-1.9zM280.1 905.4h1.9v1.9h-1.9zM286.9 949.4h1.9v1.9h-1.9zM281.1 921.2h1.9v1.9h-1.9zM281.2 927.8h1.9v1.9h-1.9zM282.2 893.1h1.9v1.9h-1.9zM281.3 929.9h1.9v1.9h-1.9zM276.7 928.2h1.9v1.9h-1.9zM283.7 886.2h1.9v1.9h-1.9zM272.4 903.6h1.9v1.9h-1.9zM281.8 949.6h1.9v1.9h-1.9zM284.2 903.0h1.9v1.9h-1.9zM279.4 952.2h1.9v1.9h-1.9zM280.9 909.2h1.9v1.9h-1.9zM279.9 924.2h1.9v1.9h-1.9zM282.5 920.2h1.9v1.9h-1.9zM277.1 949.5h1.9v1.9h-1.9zM272.1 916.2h1.9v1.9h-1.9zM285.6 952.5h1.9v1.9h-1.9zM272.8 893.8h1.9v1.9h-1.9zM289.5 921.1h1.9v1.9h-1.9zM282.2 894.6h1.9v1.9h-1.9zM290.6 891.5h1.9v1.9h-1.9zM278.0 936.1h1.9v1.9h-1.9zM278.0 939.9h1.9v1.9h-1.9zM274.9 935.6h1.9v1.9h-1.9zM273.9 952.1h1.9v1.9h-1.9zM247.3 926.6h1.9v1.9h-1.9zM270.4 930.1h1.9v1.9h-1.9zM276.5 951.6h1.9v1.9h-1.9zM272.7 906.8h1.9v1.9h-1.9zM285.4 933.6h1.9v1.9h-1.9zM278.0 950.2h1.9v1.9h-1.9zM287.9 917.3h1.9v1.9h-1.9zM276.8 942.9h1.9v1.9h-1.9zM277.9 937.7h1.9v1.9h-1.9zM276.0 951.7h1.9v1.9h-1.9zM278.0 901.1h1.9v1.9h-1.9zM272.1 942.0h1.9v1.9h-1.9zM283.1 916.1h1.9v1.9h-1.9zM280.7 903.6h1.9v1.9h-1.9zM269.3 938.5h1.9v1.9h-1.9zM288.3 906.3h1.9v1.9h-1.9zM285.1 906.0h1.9v1.9h-1.9zM280.6 929.3h1.9v1.9h-1.9zM283.3 935.9h1.9v1.9h-1.9zM287.0 947.6h1.9v1.9h-1.9zM282.8 920.9h1.9v1.9h-1.9zM279.6 942.6h1.9v1.9h-1.9zM272.7 917.1h1.9v1.9h-1.9zM281.5 935.4h1.9v1.9h-1.9zM275.1 935.2h1.9v1.9h-1.9zM277.9 891.7h1.9v1.9h-1.9zM283.5 886.5h1.9v1.9h-1.9zM278.4 900.2h1.9v1.9h-1.9zM284.3 946.5h1.9v1.9h-1.9zM278.6 908.8h1.9v1.9h-1.9zM283.0 896.4h1.9v1.9h-1.9zM278.7 951.7h1.9v1.9h-1.9zM281.6 913.5h1.9v1.9h-1.9zM281.8 927.3h1.9v1.9h-1.9zM273.5 908.5h1.9v1.9h-1.9zM282.5 885.6h1.9v1.9h-1.9zM278.7 940.1h1.9v1.9h-1.9zM290.7 938.8h1.9v1.9h-1.9zM289.3 909.1h1.9v1.9h-1.9zM297.5 897.4h1.9v1.9h-1.9zM275.8 923.9h1.9v1.9h-1.9zM285.8 933.7h1.9v1.9h-1.9zM272.6 931.5h1.9v1.9h-1.9zM281.6 913.2h1.9v1.9h-1.9zM288.1 924.2h1.9v1.9h-1.9zM283.7 951.5h1.9v1.9h-1.9zM276.2 947.3h1.9v1.9h-1.9zM288.0 911.3h1.9v1.9h-1.9zM272.8 949.0h1.9v1.9h-1.9zM280.8 938.0h1.9v1.9h-1.9zM277.7 938.7h1.9v1.9h-1.9zM280.8 938.9h1.9v1.9h-1.9zM284.8 946.1h1.9v1.9h-1.9zM279.1 914.7h1.9v1.9h-1.9zM280.6 891.4h1.9v1.9h-1.9zM280.6 919.3h1.9v1.9h-1.9zM283.6 924.2h1.9v1.9h-1.9zM276.6 922.9h1.9v1.9h-1.9zM285.1 898.8h1.9v1.9h-1.9zM260.3 946.8h1.9v1.9h-1.9zM285.1 935.4h1.9v1.9h-1.9zM283.2 905.2h1.9v1.9h-1.9zM284.3 910.6h1.9v1.9h-1.9zM278.3 949.6h1.9v1.9h-1.9zM285.6 904.9h1.9v1.9h-1.9zM271.7 932.2h1.9v1.9h-1.9zM281.8 903.4h1.9v1.9h-1.9zM272.1 918.7h1.9v1.9h-1.9zM286.5 904.5h1.9v1.9h-1.9zM282.8 938.7h1.9v1.9h-1.9zM272.1 951.6h1.9v1.9h-1.9zM286.1 908.4h1.9v1.9h-1.9zM265.1 887.5h1.9v1.9h-1.9zM279.0 919.6h1.9v1.9h-1.9zM279.7 924.0h1.9v1.9h-1.9zM285.0 901.6h1.9v1.9h-1.9zM277.4 912.4h1.9v1.9h-1.9zM293.7 912.2h1.9v1.9h-1.9zM278.7 937.4h1.9v1.9h-1.9z" fill="#1f58c8"/>
<path d="M278.2 893.5h1.9v1.9h-1.9zM283.1 889.4h1.9v1.9h-1.9zM288.6 908.8h1.9v1.9h-1.9zM278.0 929.8h1.9v1.9h-1.9zM279.6 935.7h1.9v1.9h-1.9zM279.8 950.6h1.9v1.9h-1.9zM277.2 916.1h1.9v1.9h-1.9zM281.2 915.5h1.9v1.9h-1.9zM273.3 903.7h1.9v1.9h-1.9zM272.4 889.9h1.9v1.9h-1.9zM268.7 942.4h1.9v1.9h-1.9zM282.8 909.0h1.9v1.9h-1.9zM286.2 900.1h1.9v1.9h-1.9zM282.9 915.3h1.9v1.9h-1.9zM277.1 912.3h1.9v1.9h-1.9zM281.0 925.3h1.9v1.9h-1.9zM284.3 909.5h1.9v1.9h-1.9zM285.1 912.4h1.9v1.9h-1.9zM284.7 900.4h1.9v1.9h-1.9zM280.9 898.5h1.9v1.9h-1.9zM283.6 937.5h1.9v1.9h-1.9zM271.7 905.8h1.9v1.9h-1.9zM281.9 941.2h1.9v1.9h-1.9zM280.2 916.6h1.9v1.9h-1.9zM274.4 942.5h1.9v1.9h-1.9zM284.4 918.8h1.9v1.9h-1.9zM271.5 951.9h1.9v1.9h-1.9zM267.9 913.7h1.9v1.9h-1.9zM285.7 923.0h1.9v1.9h-1.9zM276.1 949.1h1.9v1.9h-1.9zM273.5 918.3h1.9v1.9h-1.9zM285.5 928.4h1.9v1.9h-1.9zM278.9 942.5h1.9v1.9h-1.9zM286.8 912.9h1.9v1.9h-1.9zM290.1 924.7h1.9v1.9h-1.9zM277.2 911.2h1.9v1.9h-1.9zM286.5 898.4h1.9v1.9h-1.9zM284.9 896.9h1.9v1.9h-1.9zM276.9 921.9h1.9v1.9h-1.9zM272.7 930.3h1.9v1.9h-1.9zM274.0 952.4h1.9v1.9h-1.9zM276.4 940.1h1.9v1.9h-1.9zM288.5 917.8h1.9v1.9h-1.9zM278.2 935.0h1.9v1.9h-1.9zM282.5 938.9h1.9v1.9h-1.9zM281.7 942.2h1.9v1.9h-1.9zM275.8 884.9h1.9v1.9h-1.9zM274.0 899.9h1.9v1.9h-1.9zM275.0 940.7h1.9v1.9h-1.9zM285.3 951.3h1.9v1.9h-1.9zM278.2 913.6h1.9v1.9h-1.9zM268.4 897.8h1.9v1.9h-1.9zM277.2 942.6h1.9v1.9h-1.9zM278.6 930.5h1.9v1.9h-1.9z" fill="#1a30e0"/>
<rect x="81.1" y="776.6" width="262.79999999999995" height="228.29999999999995" fill="none" stroke="#a8a8a8" stroke-width="1.1"/>
<line x1="81.1" y1="1004.9" x2="343.9" y2="1004.9" stroke="#555" stroke-width="1.1"/>
<defs><linearGradient id="gfp" x1="0" x2="1" y1="0" y2="0"><stop offset="0" stop-color="#0000f0"/><stop offset="0.18" stop-color="#0050c0"/><stop offset="0.32" stop-color="#00a040"/><stop offset="0.45" stop-color="#00e000"/><stop offset="0.6" stop-color="#60f000"/><stop offset="0.72" stop-color="#f0f000"/><stop offset="0.86" stop-color="#ff9000"/><stop offset="1" stop-color="#ff0000"/></linearGradient></defs>
<rect x="164.8" y="805.5" width="51.7" height="9.7" fill="url(#gfp)" stroke="none" stroke-width="1"/>
<text x="184.5" y="801.5" font-size="12" text-anchor="middle">GFP</text>
<text x="158.9" y="813.7" font-size="9.3" text-anchor="end" fill="#222">2.5478</text>
<text x="225.4" y="813.9" font-size="9.3" fill="#222">83995.3884</text>
<rect x="149.9" y="825" width="87.3" height="53.5" fill="none" stroke="#000" stroke-width="1.8"/>
<rect x="238.2" y="824.5" width="69.3" height="67.5" fill="none" stroke="#000" stroke-width="1.8"/>
<rect x="245.2" y="892.3" width="63.9" height="65.3" fill="none" stroke="#000" stroke-width="1.8"/>
<text x="140" y="842.3" font-size="17" text-anchor="middle">1</text>
<text x="316.4" y="863.6" font-size="17" text-anchor="middle">2</text>
<text x="315.8" y="928.4" font-size="17" text-anchor="middle">3</text>
<line x1="74.7" y1="797.5" x2="81.1" y2="797.5" stroke="#000" stroke-width="2.2"/>
<line x1="74.7" y1="852.0" x2="81.1" y2="852.0" stroke="#000" stroke-width="2.2"/>
<line x1="74.7" y1="914.7" x2="81.1" y2="914.7" stroke="#000" stroke-width="2.2"/>
<line x1="74.7" y1="989.7" x2="81.1" y2="989.7" stroke="#000" stroke-width="2.2"/>
<line x1="78.5" y1="835.6" x2="81.1" y2="835.6" stroke="#000" stroke-width="1.1"/>
<line x1="78.5" y1="826.0" x2="81.1" y2="826.0" stroke="#000" stroke-width="1.1"/>
<line x1="78.5" y1="819.2" x2="81.1" y2="819.2" stroke="#000" stroke-width="1.1"/>
<line x1="76.7" y1="813.9" x2="81.1" y2="813.9" stroke="#000" stroke-width="1.5"/>
<line x1="78.5" y1="809.6" x2="81.1" y2="809.6" stroke="#000" stroke-width="1.1"/>
<line x1="78.5" y1="805.9" x2="81.1" y2="805.9" stroke="#000" stroke-width="1.1"/>
<line x1="78.5" y1="802.8" x2="81.1" y2="802.8" stroke="#000" stroke-width="1.1"/>
<line x1="78.5" y1="800.0" x2="81.1" y2="800.0" stroke="#000" stroke-width="1.1"/>
<line x1="78.5" y1="895.8" x2="81.1" y2="895.8" stroke="#000" stroke-width="1.1"/>
<line x1="78.5" y1="884.8" x2="81.1" y2="884.8" stroke="#000" stroke-width="1.1"/>
<line x1="78.5" y1="877.0" x2="81.1" y2="877.0" stroke="#000" stroke-width="1.1"/>
<line x1="76.7" y1="870.9" x2="81.1" y2="870.9" stroke="#000" stroke-width="1.5"/>
<line x1="78.5" y1="865.9" x2="81.1" y2="865.9" stroke="#000" stroke-width="1.1"/>
<line x1="78.5" y1="861.7" x2="81.1" y2="861.7" stroke="#000" stroke-width="1.1"/>
<line x1="78.5" y1="858.1" x2="81.1" y2="858.1" stroke="#000" stroke-width="1.1"/>
<line x1="78.5" y1="854.9" x2="81.1" y2="854.9" stroke="#000" stroke-width="1.1"/>
<line x1="78.5" y1="787.7" x2="81.1" y2="787.7" stroke="#000" stroke-width="1.1"/>
<line x1="78.5" y1="781.9" x2="81.1" y2="781.9" stroke="#000" stroke-width="1.1"/>
<line x1="78.5" y1="777.8" x2="81.1" y2="777.8" stroke="#000" stroke-width="1.1"/>
<line x1="78.5" y1="917.5" x2="81.1" y2="917.5" stroke="#000" stroke-width="1.1"/>
<line x1="78.5" y1="920.0" x2="81.1" y2="920.0" stroke="#000" stroke-width="1.1"/>
<line x1="78.5" y1="923.0" x2="81.1" y2="923.0" stroke="#000" stroke-width="1.1"/>
<line x1="78.5" y1="926.7" x2="81.1" y2="926.7" stroke="#000" stroke-width="1.1"/>
<line x1="76.7" y1="931.7" x2="81.1" y2="931.7" stroke="#000" stroke-width="1.5"/>
<line x1="78.5" y1="935.5" x2="81.1" y2="935.5" stroke="#000" stroke-width="1.1"/>
<line x1="78.5" y1="939.8" x2="81.1" y2="939.8" stroke="#000" stroke-width="1.1"/>
<line x1="78.5" y1="944.2" x2="81.1" y2="944.2" stroke="#000" stroke-width="1.1"/>
<line x1="78.5" y1="961.0" x2="81.1" y2="961.0" stroke="#000" stroke-width="1.1"/>
<line x1="78.5" y1="965.4" x2="81.1" y2="965.4" stroke="#000" stroke-width="1.1"/>
<line x1="78.5" y1="969.2" x2="81.1" y2="969.2" stroke="#000" stroke-width="1.1"/>
<line x1="76.7" y1="973.5" x2="81.1" y2="973.5" stroke="#000" stroke-width="1.5"/>
<line x1="78.5" y1="977.2" x2="81.1" y2="977.2" stroke="#000" stroke-width="1.1"/>
<line x1="78.5" y1="981.0" x2="81.1" y2="981.0" stroke="#000" stroke-width="1.1"/>
<line x1="78.5" y1="984.0" x2="81.1" y2="984.0" stroke="#000" stroke-width="1.1"/>
<line x1="78.5" y1="986.6" x2="81.1" y2="986.6" stroke="#000" stroke-width="1.1"/>
<rect x="76.3" y="947" width="4.8" height="10.8" fill="#000" stroke="none" stroke-width="1"/>
<line x1="73.9" y1="947.9" x2="81.1" y2="947.9" stroke="#000" stroke-width="1.8"/>
<line x1="73.9" y1="952.6" x2="81.1" y2="952.6" stroke="#000" stroke-width="1.8"/>
<line x1="73.9" y1="956.9" x2="81.1" y2="956.9" stroke="#000" stroke-width="1.8"/>
<line x1="97.3" y1="1004.9" x2="97.3" y2="1011.2" stroke="#000" stroke-width="2.2"/>
<line x1="184.0" y1="1004.9" x2="184.0" y2="1011.2" stroke="#000" stroke-width="2.2"/>
<line x1="255.5" y1="1004.9" x2="255.5" y2="1011.2" stroke="#000" stroke-width="2.2"/>
<line x1="318.1" y1="1004.9" x2="318.1" y2="1011.2" stroke="#000" stroke-width="2.2"/>
<line x1="115.7" y1="1004.9" x2="115.7" y2="1009.5" stroke="#000" stroke-width="1.6"/>
<line x1="100.3" y1="1004.9" x2="100.3" y2="1007.5" stroke="#000" stroke-width="1.1"/>
<line x1="103.9" y1="1004.9" x2="103.9" y2="1007.5" stroke="#000" stroke-width="1.1"/>
<line x1="108.0" y1="1004.9" x2="108.0" y2="1007.5" stroke="#000" stroke-width="1.1"/>
<line x1="111.6" y1="1004.9" x2="111.6" y2="1007.5" stroke="#000" stroke-width="1.1"/>
<line x1="120.3" y1="1004.9" x2="120.3" y2="1007.5" stroke="#000" stroke-width="1.1"/>
<line x1="124.3" y1="1004.9" x2="124.3" y2="1007.5" stroke="#000" stroke-width="1.1"/>
<line x1="127.9" y1="1004.9" x2="127.9" y2="1007.5" stroke="#000" stroke-width="1.1"/>
<line x1="131.5" y1="1004.9" x2="131.5" y2="1007.5" stroke="#000" stroke-width="1.1"/>
<line x1="149.9" y1="1004.9" x2="149.9" y2="1007.5" stroke="#000" stroke-width="1.1"/>
<line x1="153.5" y1="1004.9" x2="153.5" y2="1007.5" stroke="#000" stroke-width="1.1"/>
<line x1="157.0" y1="1004.9" x2="157.0" y2="1007.5" stroke="#000" stroke-width="1.1"/>
<line x1="161.0" y1="1004.9" x2="161.0" y2="1007.5" stroke="#000" stroke-width="1.1"/>
<line x1="165.0" y1="1004.9" x2="165.0" y2="1007.5" stroke="#000" stroke-width="1.1"/>
<line x1="169.0" y1="1004.9" x2="169.0" y2="1007.5" stroke="#000" stroke-width="1.1"/>
<line x1="172.5" y1="1004.9" x2="172.5" y2="1007.5" stroke="#000" stroke-width="1.1"/>
<line x1="176.5" y1="1004.9" x2="176.5" y2="1007.5" stroke="#000" stroke-width="1.1"/>
<line x1="180.5" y1="1004.9" x2="180.5" y2="1007.5" stroke="#000" stroke-width="1.1"/>
<line x1="205.5" y1="1004.9" x2="205.5" y2="1007.5" stroke="#000" stroke-width="1.1"/>
<line x1="218.1" y1="1004.9" x2="218.1" y2="1007.5" stroke="#000" stroke-width="1.1"/>
<line x1="227.0" y1="1004.9" x2="227.0" y2="1007.5" stroke="#000" stroke-width="1.1"/>
<line x1="234.0" y1="1004.9" x2="234.0" y2="1009.3" stroke="#000" stroke-width="1.5"/>
<line x1="239.6" y1="1004.9" x2="239.6" y2="1007.5" stroke="#000" stroke-width="1.1"/>
<line x1="244.4" y1="1004.9" x2="244.4" y2="1007.5" stroke="#000" stroke-width="1.1"/>
<line x1="248.6" y1="1004.9" x2="248.6" y2="1007.5" stroke="#000" stroke-width="1.1"/>
<line x1="252.2" y1="1004.9" x2="252.2" y2="1007.5" stroke="#000" stroke-width="1.1"/>
<line x1="274.3" y1="1004.9" x2="274.3" y2="1007.5" stroke="#000" stroke-width="1.1"/>
<line x1="285.4" y1="1004.9" x2="285.4" y2="1007.5" stroke="#000" stroke-width="1.1"/>
<line x1="293.2" y1="1004.9" x2="293.2" y2="1007.5" stroke="#000" stroke-width="1.1"/>
<line x1="299.3" y1="1004.9" x2="299.3" y2="1009.3" stroke="#000" stroke-width="1.5"/>
<line x1="304.2" y1="1004.9" x2="304.2" y2="1007.5" stroke="#000" stroke-width="1.1"/>
<line x1="308.4" y1="1004.9" x2="308.4" y2="1007.5" stroke="#000" stroke-width="1.1"/>
<line x1="312.0" y1="1004.9" x2="312.0" y2="1007.5" stroke="#000" stroke-width="1.1"/>
<line x1="315.2" y1="1004.9" x2="315.2" y2="1007.5" stroke="#000" stroke-width="1.1"/>
<line x1="336.9" y1="1004.9" x2="336.9" y2="1007.5" stroke="#000" stroke-width="1.1"/>
<rect x="134.9" y="1004.9" width="12.1" height="3.4" fill="#000" stroke="none" stroke-width="1"/>
<line x1="135.7" y1="1004.9" x2="135.7" y2="1011.7" stroke="#000" stroke-width="1.7"/>
<line x1="138.9" y1="1004.9" x2="138.9" y2="1011.7" stroke="#000" stroke-width="1.7"/>
<line x1="140.7" y1="1004.9" x2="140.7" y2="1011.7" stroke="#000" stroke-width="1.7"/>
<line x1="146.1" y1="1004.9" x2="146.1" y2="1011.7" stroke="#000" stroke-width="1.7"/>
<text x="51.3" y="802.6" font-size="9">10</text><text x="63.8" y="796.8" font-size="9">5</text>
<text x="51.3" y="857.3" font-size="9">10</text><text x="63.8" y="851.3" font-size="9">4</text>
<text x="51.5" y="919.7" font-size="9">10</text><text x="63.5" y="914.5" font-size="9">3</text>
<text x="56.6" y="954.8" font-size="9">0</text>
<text x="45.4" y="994.7" font-size="9">-10</text><text x="63.5" y="989.2" font-size="9">3</text>
<text x="94" y="1024.7" font-size="9">-10</text><text x="111.9" y="1019.4" font-size="9">3</text>
<text x="142.5" y="1024.7" font-size="9">0</text>
<text x="183.2" y="1024.7" font-size="9">10</text><text x="193.7" y="1019.4" font-size="9">3</text>
<text x="254.4" y="1024.7" font-size="9">10</text><text x="267.1" y="1019.4" font-size="9">4</text>
<text x="317.3" y="1024.7" font-size="9">10</text><text x="329.3" y="1019.4" font-size="9">5</text>
<text x="210.2" y="1040.5" font-size="14.5" text-anchor="middle">CD235a-PE</text>
<text transform="translate(43.3,895.2) rotate(-90)" font-size="14" text-anchor="middle">CD36-APC</text>
<defs><radialGradient id="cp" cx="0.5" cy="0.5" r="0.5"><stop offset="0" stop-color="#86509e"/><stop offset="0.55" stop-color="#9060a8"/><stop offset="0.86" stop-color="#8a7ec2"/><stop offset="1" stop-color="#a8a8da"/></radialGradient><radialGradient id="cp1" cx="0.5" cy="0.5" r="0.5"><stop offset="0" stop-color="#a070b8"/><stop offset="0.6" stop-color="#aa80c2"/><stop offset="0.86" stop-color="#8e8ccc"/><stop offset="1" stop-color="#b0b4e2"/></radialGradient><radialGradient id="cp2" cx="0.5" cy="0.5" r="0.5"><stop offset="0" stop-color="#7a3e94"/><stop offset="0.6" stop-color="#8a52a4"/><stop offset="0.86" stop-color="#8478c2"/><stop offset="1" stop-color="#a0a4dc"/></radialGradient><filter id="bl" x="-20%" y="-20%" width="140%" height="140%"><feGaussianBlur stdDeviation="0.6"/></filter><filter id="bl3" x="-50%" y="-50%" width="200%" height="200%"><feGaussianBlur stdDeviation="4"/></filter><filter id="bl2" x="-50%" y="-50%" width="200%" height="200%"><feGaussianBlur stdDeviation="1.5"/></filter><clipPath id="m1"><rect x="351" y="795" width="105.8" height="212"/></clipPath><clipPath id="m2"><rect x="466.6" y="795" width="105.9" height="212.6"/></clipPath><clipPath id="m3"><rect x="579" y="795" width="105.5" height="212"/></clipPath></defs>
<rect x="351" y="795" width="105.8" height="212" fill="#f8f7f8" stroke="none" stroke-width="1"/>
<g clip-path="url(#m1)">
<ellipse cx="389.2" cy="807" rx="11.3" ry="10.6" transform="rotate(0 389.2 807)" fill="url(#cp1)" filter="url(#bl)"/>
<ellipse cx="386" cy="811" rx="3" ry="2.0999999999999996" fill="#e4d4ec" opacity="0.6" filter="url(#bl2)"/>
<ellipse cx="415.6" cy="811.6" rx="13" ry="9.4" transform="rotate(-5 415.6 811.6)" fill="url(#cp1)" filter="url(#bl)"/>
<ellipse cx="421" cy="811" rx="4" ry="2.8" fill="#e4d4ec" opacity="0.6" filter="url(#bl2)"/>
<ellipse cx="400.3" cy="856.4" rx="13" ry="10.6" transform="rotate(-15 400.3 856.4)" fill="url(#cp1)" filter="url(#bl)"/>
<ellipse cx="403" cy="863" rx="4" ry="2.8" fill="#e4d4ec" opacity="0.6" filter="url(#bl2)"/>
<ellipse cx="377.5" cy="867.6" rx="11.8" ry="10.6" transform="rotate(0 377.5 867.6)" fill="url(#cp1)" filter="url(#bl)"/>
<ellipse cx="394" cy="888.8" rx="8.2" ry="11.8" transform="rotate(0 394 888.8)" fill="url(#cp1)" filter="url(#bl)"/>
<ellipse cx="393" cy="882" rx="4" ry="2.8" fill="#e4d4ec" opacity="0.6" filter="url(#bl2)"/>
<ellipse cx="392" cy="935.9" rx="9.9" ry="8.9" transform="rotate(0 392 935.9)" fill="url(#cp1)" filter="url(#bl)"/>
<ellipse cx="420.3" cy="945.3" rx="14" ry="10.6" transform="rotate(20 420.3 945.3)" fill="url(#cp1)" filter="url(#bl)"/>
<ellipse cx="414" cy="942" rx="4" ry="2.8" fill="#e4d4ec" opacity="0.6" filter="url(#bl2)"/>
<ellipse cx="372" cy="958.2" rx="18.8" ry="12.9" transform="rotate(-10 372 958.2)" fill="url(#cp1)" filter="url(#bl)"/>
<ellipse cx="382" cy="955" rx="4" ry="2.8" fill="#e4d4ec" opacity="0.6" filter="url(#bl2)"/>
<ellipse cx="380.8" cy="975.9" rx="11.3" ry="9.4" transform="rotate(-10 380.8 975.9)" fill="url(#cp1)" filter="url(#bl)"/>
<ellipse cx="442.6" cy="973.5" rx="13.6" ry="12.2" transform="rotate(0 442.6 973.5)" fill="url(#cp1)" filter="url(#bl)"/>
<ellipse cx="442" cy="965" rx="4" ry="2.8" fill="#e4d4ec" opacity="0.6" filter="url(#bl2)"/>
<ellipse cx="423.8" cy="995.9" rx="11.3" ry="8.9" transform="rotate(0 423.8 995.9)" fill="url(#cp1)" filter="url(#bl)"/>
<ellipse cx="418" cy="994" rx="3" ry="2.0999999999999996" fill="#e4d4ec" opacity="0.6" filter="url(#bl2)"/>
<ellipse cx="447.4" cy="997" rx="9" ry="9.4" transform="rotate(0 447.4 997)" fill="url(#cp1)" filter="url(#bl)"/>
</g>
<rect x="466.6" y="795" width="105.9" height="212.6" fill="#fafafa" stroke="none" stroke-width="1"/>
<g clip-path="url(#m2)">
<ellipse cx="488.7" cy="828.8" rx="13.5" ry="12.5" transform="rotate(-20 488.7 828.8)" fill="url(#cp2)" filter="url(#bl)"/>
<ellipse cx="486" cy="836" rx="5" ry="3.5" fill="#e4d4ec" opacity="0.6" filter="url(#bl2)"/>
<ellipse cx="530.1" cy="815.4" rx="13.4" ry="11" transform="rotate(-10 530.1 815.4)" fill="url(#cp2)" filter="url(#bl)"/>
<ellipse cx="520" cy="820" rx="4" ry="2.8" fill="#e4d4ec" opacity="0.6" filter="url(#bl2)"/>
<ellipse cx="523.5" cy="871.9" rx="11.3" ry="11" transform="rotate(0 523.5 871.9)" fill="url(#cp2)" filter="url(#bl)"/>
<ellipse cx="523" cy="879" rx="4" ry="2.8" fill="#e4d4ec" opacity="0.6" filter="url(#bl2)"/>
<ellipse cx="553.6" cy="937.8" rx="9.4" ry="8.7" transform="rotate(0 553.6 937.8)" fill="url(#cp2)" filter="url(#bl)"/>
<ellipse cx="556" cy="942" rx="3" ry="2.0999999999999996" fill="#e4d4ec" opacity="0.6" filter="url(#bl2)"/>
<ellipse cx="549.4" cy="987.6" rx="11" ry="10.6" transform="rotate(0 549.4 987.6)" fill="url(#cp2)" filter="url(#bl)"/>
<ellipse cx="551" cy="993" rx="4" ry="2.8" fill="#e4d4ec" opacity="0.6" filter="url(#bl2)"/>
</g>
<rect x="579" y="795" width="105.5" height="212" fill="#f7f7f7" stroke="none" stroke-width="1"/>
<g clip-path="url(#m3)">
<ellipse cx="630" cy="842" rx="30" ry="30" fill="#e4c0c4" opacity="0.75" filter="url(#bl3)"/>
<ellipse cx="648" cy="963" rx="20" ry="14" fill="#e4c0c4" opacity="0.75" filter="url(#bl3)"/>
<ellipse cx="628" cy="976" rx="14" ry="9" fill="#e4c0c4" opacity="0.75" filter="url(#bl3)"/>
<ellipse cx="651" cy="862" rx="14" ry="12" fill="#d470b8" opacity="0.65" filter="url(#bl2)"/>
<circle cx="606.9" cy="817.3" r="7.3" fill="#d6969c" filter="url(#bl)"/>
<circle cx="623.8" cy="815.4" r="6.9" fill="#dca2a6" filter="url(#bl)"/>
<circle cx="640.0" cy="816.2" r="7.3" fill="#d28e96" filter="url(#bl)"/>
<circle cx="642.6" cy="823.8" r="7.0" fill="#e0aeb0" filter="url(#bl)"/>
<circle cx="619.8" cy="825.1" r="7.3" fill="#d6969c" filter="url(#bl)"/>
<circle cx="628.2" cy="825.8" r="7.1" fill="#dca2a6" filter="url(#bl)"/>
<circle cx="602.7" cy="833.8" r="6.3" fill="#d28e96" filter="url(#bl)"/>
<circle cx="654.7" cy="831.5" r="6.7" fill="#e0aeb0" filter="url(#bl)"/>
<circle cx="649.1" cy="837.4" r="6.9" fill="#d6969c" filter="url(#bl)"/>
<circle cx="658.6" cy="841.0" r="7.2" fill="#dca2a6" filter="url(#bl)"/>
<circle cx="612.5" cy="842.1" r="7.5" fill="#d28e96" filter="url(#bl)"/>
<circle cx="617.3" cy="842.9" r="6.7" fill="#e0aeb0" filter="url(#bl)"/>
<circle cx="630.6" cy="843.8" r="6.6" fill="#d6969c" filter="url(#bl)"/>
<circle cx="644.2" cy="844.9" r="7.2" fill="#dca2a6" filter="url(#bl)"/>
<circle cx="602.4" cy="848.0" r="7.3" fill="#d28e96" filter="url(#bl)"/>
<circle cx="612.4" cy="850.2" r="7.4" fill="#e0aeb0" filter="url(#bl)"/>
<circle cx="623.7" cy="858.9" r="6.5" fill="#d6969c" filter="url(#bl)"/>
<circle cx="637.3" cy="863.2" r="7.4" fill="#dca2a6" filter="url(#bl)"/>
<circle cx="638.5" cy="859.4" r="6.8" fill="#d28e96" filter="url(#bl)"/>
<circle cx="612.5" cy="864.3" r="6.5" fill="#e0aeb0" filter="url(#bl)"/>
<circle cx="618.4" cy="873.4" r="7.0" fill="#d6969c" filter="url(#bl)"/>
<circle cx="625.3" cy="877.8" r="7.4" fill="#dca2a6" filter="url(#bl)"/>
<circle cx="628.9" cy="950.6" r="7.1" fill="#d28e96" filter="url(#bl)"/>
<circle cx="644.4" cy="957.8" r="7.3" fill="#e0aeb0" filter="url(#bl)"/>
<circle cx="655.3" cy="955.5" r="6.8" fill="#d6969c" filter="url(#bl)"/>
<circle cx="649.4" cy="962.4" r="6.6" fill="#dca2a6" filter="url(#bl)"/>
<circle cx="664.3" cy="961.7" r="6.7" fill="#d28e96" filter="url(#bl)"/>
<circle cx="638.5" cy="966.2" r="7.6" fill="#e0aeb0" filter="url(#bl)"/>
<circle cx="621.8" cy="969.4" r="7.0" fill="#d6969c" filter="url(#bl)"/>
<circle cx="658.0" cy="972.3" r="7.2" fill="#dca2a6" filter="url(#bl)"/>
<circle cx="613.8" cy="981.5" r="7.2" fill="#d28e96" filter="url(#bl)"/>
<circle cx="629.3" cy="979.0" r="7.0" fill="#e0aeb0" filter="url(#bl)"/>
<circle cx="651.9" cy="980.8" r="6.5" fill="#d6969c" filter="url(#bl)"/>
<ellipse cx="636" cy="834" rx="7" ry="7" fill="#f0dde6" opacity="0.8" filter="url(#bl2)"/>
<circle cx="610.0" cy="813.5" r="3.8" fill="#2a2470" filter="url(#bl)"/>
<circle cx="622.9" cy="814.7" r="3.8" fill="#302a84" filter="url(#bl)"/>
<circle cx="637.0" cy="815.9" r="4.1" fill="#26205e" filter="url(#bl)"/>
<circle cx="647.6" cy="824.1" r="3.7" fill="#3a3290" filter="url(#bl)"/>
<circle cx="619.4" cy="824.1" r="3.2" fill="#2a2470" filter="url(#bl)"/>
<circle cx="627.6" cy="826.5" r="3.8" fill="#302a84" filter="url(#bl)"/>
<circle cx="604.1" cy="833.5" r="3.4" fill="#26205e" filter="url(#bl)"/>
<circle cx="657.0" cy="832.3" r="4.1" fill="#3a3290" filter="url(#bl)"/>
<circle cx="648.8" cy="838.2" r="3.7" fill="#2a2470" filter="url(#bl)"/>
<circle cx="658.2" cy="840.6" r="3.7" fill="#302a84" filter="url(#bl)"/>
<circle cx="611.2" cy="841.7" r="4.3" fill="#26205e" filter="url(#bl)"/>
<circle cx="618.2" cy="843.0" r="3.7" fill="#3a3290" filter="url(#bl)"/>
<circle cx="626.4" cy="845.3" r="3.6" fill="#2a2470" filter="url(#bl)"/>
<circle cx="641.7" cy="845.3" r="3.6" fill="#302a84" filter="url(#bl)"/>
<circle cx="601.7" cy="846.4" r="3.8" fill="#26205e" filter="url(#bl)"/>
<circle cx="612.3" cy="852.3" r="3.3" fill="#3a3290" filter="url(#bl)"/>
<circle cx="624.0" cy="860.6" r="3.9" fill="#2a2470" filter="url(#bl)"/>
<circle cx="635.9" cy="864.1" r="4.3" fill="#302a84" filter="url(#bl)"/>
<circle cx="638.2" cy="858.2" r="3.9" fill="#26205e" filter="url(#bl)"/>
<circle cx="608.8" cy="865.3" r="4.1" fill="#3a3290" filter="url(#bl)"/>
<circle cx="615.9" cy="873.5" r="4.3" fill="#2a2470" filter="url(#bl)"/>
<circle cx="626.4" cy="874.7" r="4.2" fill="#302a84" filter="url(#bl)"/>
<circle cx="630.0" cy="952.3" r="4.1" fill="#26205e" filter="url(#bl)"/>
<circle cx="642.9" cy="954.6" r="4.2" fill="#3a3290" filter="url(#bl)"/>
<circle cx="655.8" cy="954.6" r="4.2" fill="#2a2470" filter="url(#bl)"/>
<circle cx="647.6" cy="962.9" r="3.5" fill="#302a84" filter="url(#bl)"/>
<circle cx="666.4" cy="961.7" r="3.8" fill="#26205e" filter="url(#bl)"/>
<circle cx="635.9" cy="968.7" r="3.6" fill="#3a3290" filter="url(#bl)"/>
<circle cx="622.9" cy="971.1" r="3.5" fill="#2a2470" filter="url(#bl)"/>
<circle cx="657.0" cy="971.1" r="3.9" fill="#302a84" filter="url(#bl)"/>
<circle cx="615.9" cy="979.3" r="3.6" fill="#26205e" filter="url(#bl)"/>
<circle cx="628.8" cy="979.3" r="3.9" fill="#3a3290" filter="url(#bl)"/>
<circle cx="650.0" cy="978.2" r="3.9" fill="#2a2470" filter="url(#bl)"/>
<ellipse cx="640.6" cy="941.7" rx="7.5" ry="7" transform="rotate(0 640.6 941.7)" fill="url(#cp)" filter="url(#bl)"/>
<ellipse cx="639.4" cy="983" rx="7" ry="6.5" transform="rotate(0 639.4 983)" fill="url(#cp)" filter="url(#bl)"/>
</g>
<rect x="351" y="795" width="105.8" height="212" fill="none" stroke="#000" stroke-width="1.5"/>
<rect x="466.6" y="795" width="105.9" height="212.6" fill="none" stroke="#000" stroke-width="1.5"/>
<rect x="579" y="795" width="105.5" height="212" fill="none" stroke="#000" stroke-width="1.5"/>
<text x="357.5" y="812.8" font-size="16">1</text>
<text x="472" y="812.4" font-size="16">2</text>
<text x="583.4" y="812.3" font-size="16">3</text>
<text x="358.6" y="997" font-size="11">10 µm</text>
<rect x="358.1" y="1001.3" width="16.8" height="2.9" fill="#000" stroke="none" stroke-width="1"/>
<text x="474.6" y="999" font-size="11">10 µm</text>
<rect x="474.1" y="1003.3" width="16.8" height="2.9" fill="#000" stroke="none" stroke-width="1"/>
<text x="585.3" y="998" font-size="11">10 µm</text>
<rect x="584.8" y="1002.3" width="16.8" height="2.9" fill="#000" stroke="none" stroke-width="1"/>
</svg>
</body></html>
